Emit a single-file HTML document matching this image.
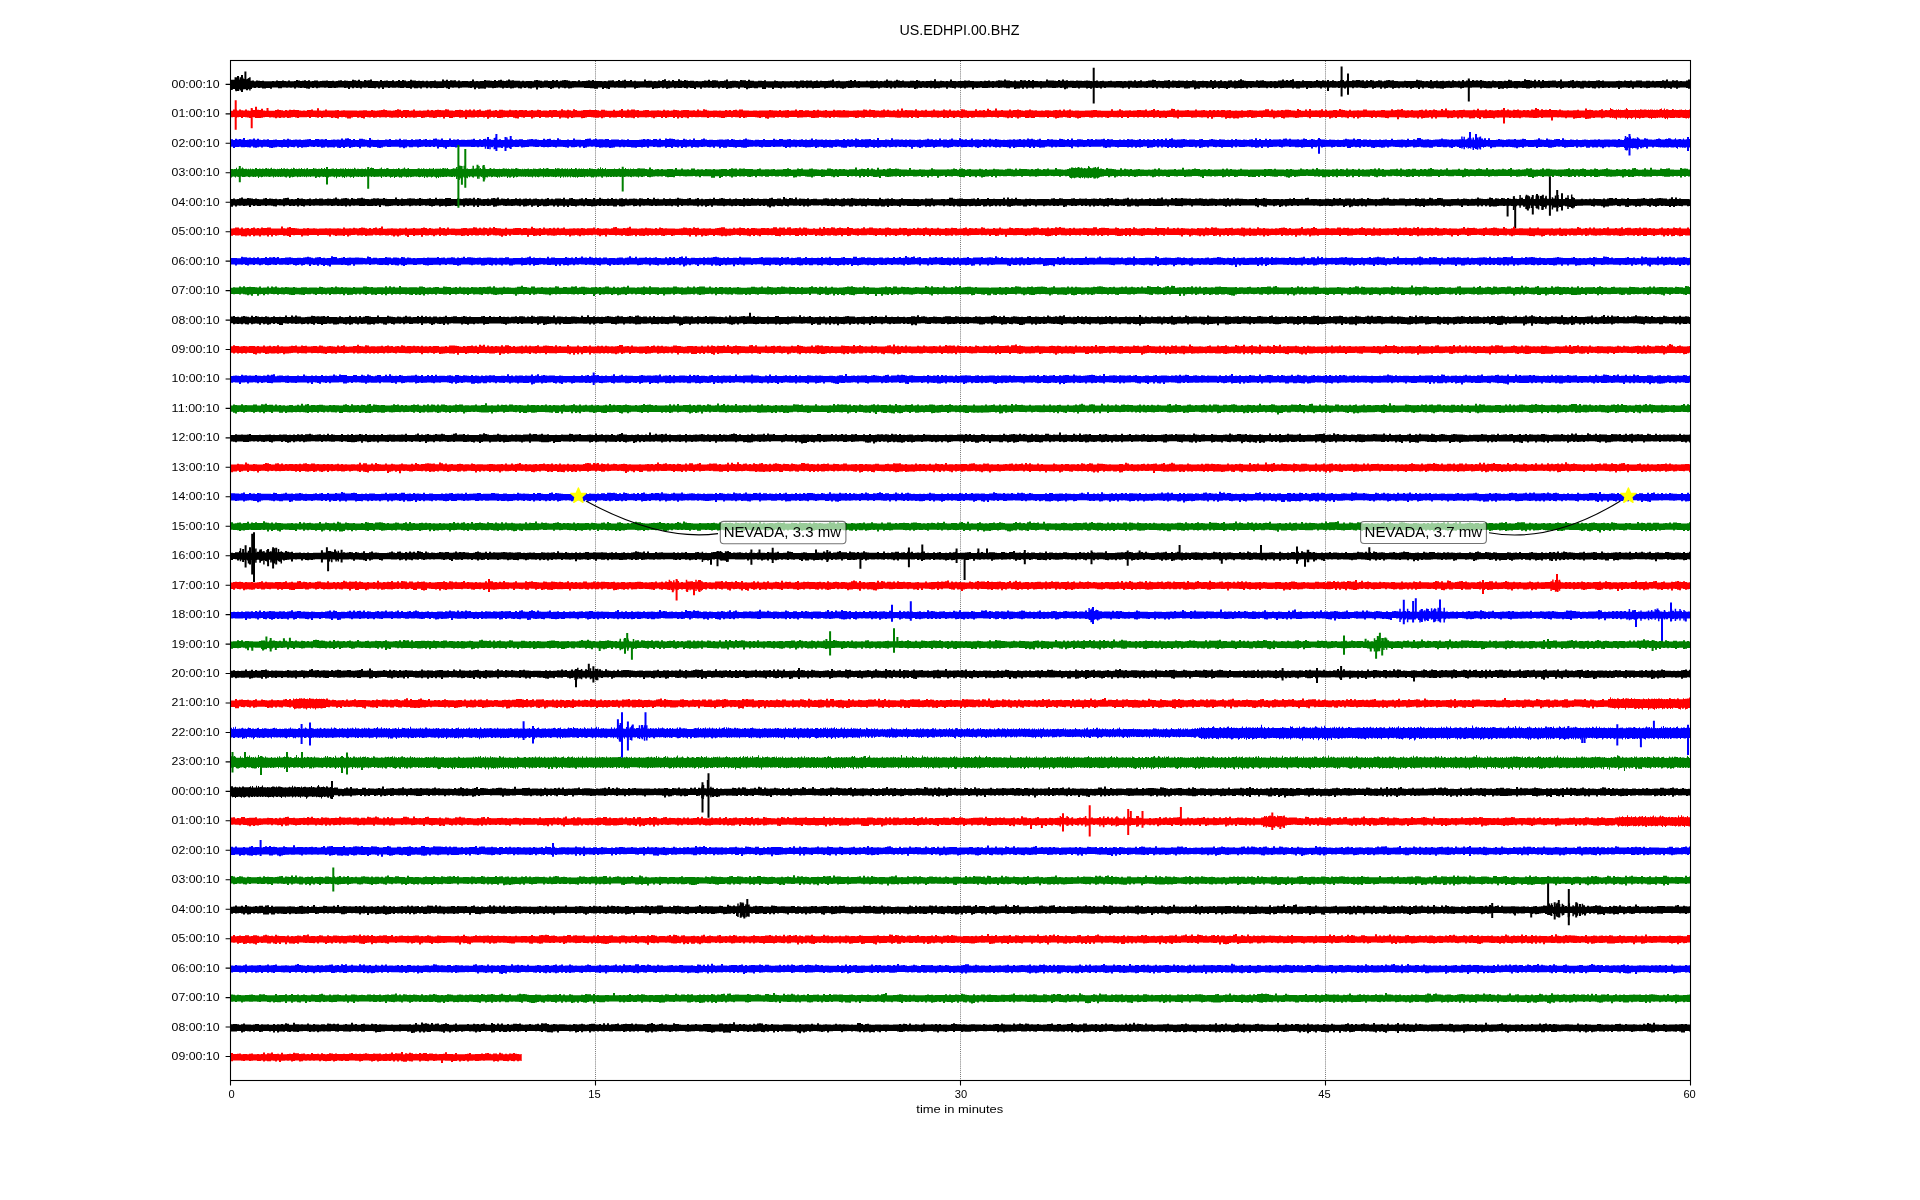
<!DOCTYPE html><html><head><meta charset="utf-8"><style>html,body{margin:0;padding:0;background:#fff;overflow:hidden}svg{display:block;will-change:transform}</style></head><body><svg width="1920" height="1200" viewBox="0 0 1920 1200">
<rect width="1920" height="1200" fill="#fff"/>
<path d="M595.5 61V1080" stroke="#000" stroke-width=".9" stroke-dasharray="1 1.08" opacity=".6"/>
<path d="M960.5 61V1080" stroke="#000" stroke-width=".9" stroke-dasharray="1 1.08" opacity=".6"/>
<path d="M1325.5 61V1080" stroke="#000" stroke-width=".9" stroke-dasharray="1 1.08" opacity=".6"/>
<path fill="#000000" d="M231 79.8h1v0h1v-.1h1v0h1v-.3h1v-.3h1v.5h1v-.5h1v.4h1v.1h1v-.3h1v-.6h1v-.3h1v.5h1v.4h1v0h1v-.5h1v-.4h1v1.9h1v.5h2v-.4h2v.9h2v-.7h2v.1h2v.2h2v-.2h2v.5h2v0h2v.1h2v-.1h2v-.1h2v.1h2v-.8h2v.5h2v.2h2v-.7h2v.7h2v.2h2v-.9h2v.9h2v-.1h2v-.3h2v-.8h2v.3h2v.6h2v-.3h2v-.4h2v.6h2v-.7h2v1h2v-.1h2v-.5h2v-.2h2v.8h2v-.1h2v-.4h2v.1h2v-.3h2v.6h2v0h2v-.3h2v.5h2v-.4h2v-.3h2v-.4h2v.8h2v-.5h2v.2h2v.2h2v.1h2v-1.2h2v.5h2v.4h2v-1h2v1.4h2v.2h2v-1.2h2v.3h2v-.1h2v-.9h2v1.6h2v-.1h2v.1h2v.3h2v-1.3h2v1.1h2v-.3h2v-.2h2v.4h2v-.1h2v-.6h2v.9h2v-.1h2v-1.1h2v.9h2v-.9h2v.6h2v.7h2v-.4h2v-1.2h2v.7h2v.1h2v.4h2v-.1h2v.3h2v-.4h2v.6h2v-.6h2v.6h2v-.2h2v-.2h2v-.5h2v.9h2v0h2v-.1h2v-1.8h2v1.4h2v-1h2v1.2h2v-.7h2v.3h2v-.3h2v1h2v-.8h2v.7h2v-.3h2v.2h2v-.1h2v.2h2v-.1h2v-1.5h2v1.7h2v-.3h2v.3h2v-.2h2v0h2v-1.2h2v.5h2v0h2v.4h2v.2h2v-.9h2v.8h2v-.6h2v-.5h2v.9h2v.2h2v-.5h2v-.9h2v1h2v-.3h2v.5h2v.1h2v-.1h2v.6h2v-.5h2v.5h2v-.4h2v.2h2v-.1h2v.3h2v-1h2v-.2h2v.5h2v.1h2v.5h2v-.6h2v0h2v.5h2v-.2h2v-1h2v.9h2v-.7h2v1.2h2v-.6h2v-.5h2v-.2h2v.2h2v.6h2v.5h2v-.2h2v0h2v.1h2v-.9h2v.9h2v-.2h2v0h2v-.3h2v-.4h2v.5h2v-.7h2v1h2v-.2h2v.2h2v-.2h2v.4h2v-.2h2v.2h2v-.9h2v.1h2v-.2h2v1h2v-.4h2v-1h2v1h2v-.3h2v-.8h2v1.3h2v0h2v-1.2h2v1.3h2v-.4h2v.5h2v-.1h2v0h2v0h2v-1.6h2v1.4h2v-.3h2v0h2v.6h2v-.2h2v.1h2v-.7h2v.6h2v-1h2v-.8h2v1.6h2v-.5h2v.8h2v-1.3h2v1.2h2v-.1h2v-1.8h2v1.4h2v.3h2v-1h2v.5h2v.5h2v-.1h2v-.1h2v.5h2v-.1h2v.1h2v0h2v-.3h2v-.3h2v.2h2v-1.1h2v1.4h2v-.9h2v.1h2v.1h2v.9h2v-.4h2v0h2v-.4h2v-1.1h2v1.9h2v-.4h2v-.1h2v0h2v.2h2v.2h2v-1.1h2v.2h2v-.1h2v.8h2v-1.2h2v1h2v-.1h2v.5h2v0h2v-.4h2v0h2v.1h2v-.6h2v1h2v0h2v-.1h2v0h2v-.6h2v.4h2v.2h2v.1h2v-.2h2v.2h2v-.1h2v.1h2v-.2h2v.2h2v-.6h2v.4h2v.2h2v-.8h2v.1h2v.3h2v-.3h2v.1h2v-.1h2v.6h2v-.3h2v-.5h2v.8h2v-.5h2v.4h2v-.2h2v0h2v-.1h2v-.2h2v-1.2h2v1.9h2v-.3h2v-.3h2v.5h2v0h2v0h2v-.2h2v-.2h2v-.7h2v1h2v-1h2v1.2h2v-.4h2v.3h2v.1h2v0h2v-.5h2v.4h2v-.4h2v0h2v.3h2v-.7h2v.9h2v-.3h2v.3h2v-.6h2v-1.3h2v1.3h2v0h2v.5h2v-.4h2v-1h2v.7h2v.4h2v-.3h2v.6h2v.1h2v-.1h2v-.5h2v.1h2v.3h2v-1h2v.6h2v.5h2v-.2h2v.2h2v-.1h2v-.2h2v-.1h2v.2h2v-1.7h2v2h2v-.1h2v-.5h2v.3h2v.3h2v-.3h2v.2h2v-1.6h2v1.3h2v.2h2v.2h2v-.2h2v-.1h2v0h2v-.4h2v.2h2v-.4h2v.6h2v-.1h2v.3h2v.1h2v-.1h2v-.1h2v.2h2v-.5h2v.2h2v-.5h2v.7h2v-.2h2v.2h2v-.5h2v-.4h2v.2h2v.2h2v-1.2h2v.9h2v.2h2v.5h2v.2h2v-.8h2v.7h2v.1h2v-1.3h2v.4h2v-.2h2v.9h2v-1.2h2v1.1h2v-.9h2v1h2v0h2v.1h2v-.1h2v.1h2v.1h2v-1.7h2v1h2v-.2h2v0h2v.4h2v.1h2v-.8h2v.6h2v-1.1h2v1.2h2v-.5h2v.8h2v-.4h2v.1h2v.2h2v-.6h2v.3h2v.1h2v.3h2v-.3h2v-.3h2v.3h2v.1h2v.4h2v-.4h2v-.5h2v.9h2v-.3h2v-.2h2v.5h2v-.1h2v-.1h2v-.4h2v.5h2v0h2v-.1h2v-.1h2v-.1h2v.4h2v-.2h2v.2h2v-.5h2v-.1h2v.5h2v-1h2v1.1h2v-.4h2v-.6h2v1h2v0h2v-.3h2v-.5h2v0h2v-.8h2v.4h2v1h2v-.3h2v.1h2v.2h2v-.7h2v0h2v-.4h2v1.2h2v-.6h2v.1h2v.2h2v-.5h2v.3h2v.1h2v.2h2v-.6h2v.6h2v.1h2v-.9h2v.2h2v.8h2v-.2h2v0h2v-.3h2v.2h2v.1h2v.3h2v-1.3h2v1h2v-.8h2v1.1h2v-.4h2v-.6h2v1h2v-.3h2v.3h2v-.9h2v-.2h2v1.1h2v-.7h2v.4h2v-.7h2v-1h2v1h2v.5h2v.3h2v-.1h2v0h2v.1h2v.1h2v-.9h2v.5h2v-.2h2v-.4h2v.8h2v.3h2v-.1h2v-.3h2v.3h2v-.3h2v.4h2v-.9h2v0h2v-.9h2v1.2h2v-.7h2v.7h2v-.7h2v-.8h2v2h2v-.3h2v.2h2v.1h2v-1h2v.9h2v0h2v-.2h2v.1h2v.3h2v-.3h2v-.9h2v.6h2v.2h2v-.7h2v.5h2v.6h2v0h2v-.2h2v-.8h2v.6h2v.4h2v-.3h2v-.8h2v-.2h2v1.2h2v-.8h2v.6h2v-.1h2v-.6h2v.2h2v-.4h2v0h2v.5h2v-.4h2v1h2v-1h2v.7h2v-.9h2v.6h2v.7h2v-.2h2v-.9h2v.4h2v.7h2v-.6h2v-.4h2v-.2h2v.3h2v-.1h2v.6h2v.1h2v.3h2v0h2v0h2v-.6h2v.4h2v0h2v-.1h2v0h2v0h2v-1.2h2v.5h2v.3h2v.3h2v.4h2v-.2h2v.2h2v-1.2h2v1.1h2v-.2h2v-.5h2v.8h2v-.3h2v-.3h2v.6h2v-.3h2v-.3h2v.6h2v-1h2v.6h2v.3h2v-.4h2v.4h2v-1.3h2v1.3h2v-.8h2v-.4h2v1h2v-1h2v.7h2v-.5h2v.5h2v-.6h2v.7h2v.2h2v.3h2v-.3h2v.2h2v-.6h2v.4h2v.2h2v-.3h2v0h2v.4h2v-.5h2v.3h2v-1.4h2v.6h2v1h2v-.2h2v-.1h2v.1h2v.2h2v-.4h2v-1.6h2v.8h2v0h2v.3h2v.6h2v-1.2h2v1.5h2v-1.4h2v1.3h2v-1.1h2v.9h2v.1h2v-.3h2v0h2v-.2h2v0h2v.6h2v-.3h2v-1.5h2v1.9h2v0h2v-.1h2v-.2h2v-.5h2v-.5h2v1.3h2v-.6h2v.2h2v.3h2v-.4h2v-.1h2v.6h2v-.6h2v.2h2v.2h2v0h2v-.5h2v-.4h2v.8h2v-.5h2v.8h2v-.1h2v0h2v0h2v0h2v0h2v-.1h2v-.3h2v.1h2v.4h2v-.9h2v.5h2v.1h2v-.4h2v.7h2v-.1h2v-.6h2v0h2v-.2h2v.9h2v0h2v-.5h2v-.1h2v.6h2v-.5h2v.4h2v-.3h2v0h2v.2h2v-.9h2v.6h2v-1.2h2v1.6h2v0h2v-.9h2v.4h2v-.4h2v.9h2v-.1h2v.1h2v0h2v-.7h2v-.9h2v9.2h-2v-.8h-2v-.5h-2v.1h-2v-.1h-2v.2h-2v1h-2v-1h-2v-.1h-2v1.2h-2v-.9h-2v-.2h-2v.9h-2v-.9h-2v.4h-2v-.5h-2v-.1h-2v.2h-2v-.2h-2v0h-2v.5h-2v.2h-2v-.4h-2v-.4h-2v.6h-2v-.4h-2v0h-2v-.1h-2v1.2h-2v-1.1h-2v.4h-2v-.3h-2v-.1h-2v-.1h-2v.3h-2v1.1h-2v-1.4h-2v.3h-2v0h-2v-.3h-2v.4h-2v-.3h-2v.2h-2v.1h-2v-.5h-2v.8h-2v-.8h-2v1.2h-2v-.4h-2v-.7h-2v.6h-2v-.4h-2v-.2h-2v1.1h-2v-.1h-2v-.7h-2v-.3h-2v.4h-2v.4h-2v-.9h-2v.5h-2v-.4h-2v.1h-2v.5h-2v.7h-2v-1.3h-2v.4h-2v-.3h-2v-.2h-2v0h-2v.7h-2v-.4h-2v0h-2v.4h-2v.1h-2v-.7h-2v0h-2v.8h-2v-.7h-2v.4h-2v.6h-2v-.2h-2v-.5h-2v.1h-2v-.2h-2v-.1h-2v.8h-2v-.3h-2v-.4h-2v.2h-2v0h-2v.4h-2v-.3h-2v.7h-2v-.3h-2v.4h-2v-1.4h-2v.2h-2v-.2h-2v.8h-2v-.1h-2v0h-2v-.3h-2v-.2h-2v.9h-2v-1h-2v-.1h-2v-.1h-2v.2h-2v.2h-2v.4h-2v-.6h-2v-.1h-2v.4h-2v.7h-2v-.8h-2v-.3h-2v-.1h-2v.3h-2v.3h-2v-.3h-2v.1h-2v.2h-2v.7h-2v-.2h-2v-.3h-2v0h-2v-.5h-2v.7h-2v0h-2v-.4h-2v-.5h-2v0h-2v.9h-2v-.9h-2v1.5h-2v-1.3h-2v-.3h-2v.5h-2v.9h-2v-1.2h-2v.4h-2v-.5h-2v.2h-2v-.1h-2v.7h-2v-.6h-2v.4h-2v.7h-2v-1h-2v-.4h-2v.6h-2v.5h-2v-.9h-2v1.2h-2v-1.2h-2v-.1h-2v.5h-2v.8h-2v-1.3h-2v.1h-2v.3h-2v.4h-2v-.4h-2v-.2h-2v-.1h-2v.1h-2v-.1h-2v.7h-2v-.7h-2v0h-2v-.2h-2v1h-2v-.7h-2v-.3h-2v.7h-2v-.6h-2v.3h-2v0h-2v-.3h-2v.2h-2v-.2h-2v.2h-2v-.3h-2v1.1h-2v-.7h-2v-.3h-2v.2h-2v0h-2v.3h-2v-.3h-2v1.2h-2v-1.3h-2v.2h-2v-.1h-2v.8h-2v0h-2v-.8h-2v.7h-2v-.6h-2v-.1h-2v0h-2v.1h-2v.1h-2v.3h-2v-.8h-2v.5h-2v.3h-2v-.7h-2v.6h-2v-.5h-2v.7h-2v-.5h-2v-.1h-2v.1h-2v.1h-2v-.5h-2v.2h-2v-.1h-2v.4h-2v-.4h-2v.9h-2v-.6h-2v.1h-2v.4h-2v-.2h-2v.2h-2v.2h-2v-.8h-2v-.2h-2v.5h-2v.9h-2v-.6h-2v-.4h-2v.2h-2v.3h-2v-.9h-2v.5h-2v.9h-2v-1.2h-2v.1h-2v.5h-2v-.7h-2v.2h-2v-.3h-2v1.2h-2v-.3h-2v.9h-2v-1.9h-2v.1h-2v.7h-2v.4h-2v-.1h-2v-1.1h-2v.2h-2v.3h-2v0h-2v-.5h-2v.4h-2v-.4h-2v1h-2v-.4h-2v-.2h-2v.5h-2v-.5h-2v-.3h-2v.9h-2v-1h-2v.7h-2v-.6h-2v0h-2v.5h-2v-.3h-2v-.1h-2v.2h-2v0h-2v.2h-2v-.2h-2v-.1h-2v-.2h-2v1.2h-2v-1.1h-2v.1h-2v.6h-2v-.5h-2v-.3h-2v.1h-2v.1h-2v-.2h-2v.1h-2v-.2h-2v0h-2v.5h-2v-.3h-2v.8h-2v-.6h-2v.3h-2v-.4h-2v0h-2v1h-2v-.6h-2v.3h-2v-.6h-2v-.1h-2v0h-2v.9h-2v-.8h-2v.3h-2v-.2h-2v-.5h-2v.2h-2v1h-2v.7h-2v-1.5h-2v.2h-2v-.6h-2v.3h-2v.3h-2v-.1h-2v-.1h-2v-.1h-2v-.3h-2v.3h-2v0h-2v.9h-2v-1h-2v-.1h-2v0h-2v.9h-2v-.6h-2v0h-2v.7h-2v-1.1h-2v1.3h-2v-.9h-2v.8h-2v-.1h-2v.5h-2v-1.5h-2v0h-2v.8h-2v-.1h-2v-.5h-2v-.1h-2v.2h-2v.1h-2v-.5h-2v0h-2v.5h-2v-.4h-2v.2h-2v.4h-2v-.2h-2v.1h-2v-.6h-2v.3h-2v.4h-2v-.4h-2v1.5h-2v-1.7h-2v.1h-2v.1h-2v.8h-2v-.8h-2v.3h-2v-.2h-2v-.3h-2v1h-2v-.6h-2v-.2h-2v-.3h-2v1.3h-2v-1.3h-2v.1h-2v.2h-2v.5h-2v-.1h-2v.5h-2v-.9h-2v.6h-2v-.9h-2v.6h-2v-.2h-2v-.2h-2v.4h-2v-.2h-2v.8h-2v.3h-2v-1.2h-2v0h-2v.2h-2v-.4h-2v.3h-2v-.3h-2v.2h-2v0h-2v-.2h-2v.7h-2v-.7h-2v1.1h-2v-1.1h-2v.5h-2v-.3h-2v-.3h-2v.4h-2v.6h-2v-.6h-2v.3h-2v.2h-2v0h-2v-.7h-2v0h-2v-.2h-2v.2h-2v-.1h-2v.4h-2v-.1h-2v-.3h-2v.2h-2v.3h-2v.1h-2v-.6h-2v.8h-2v.4h-2v-.5h-2v-.5h-2v.5h-2v-.6h-2v.4h-2v-.6h-2v.4h-2v.3h-2v.4h-2v-1h-2v.1h-2v.5h-2v-.1h-2v0h-2v.4h-2v-.7h-2v.1h-2v.4h-2v-.7h-2v.5h-2v-.5h-2v.8h-2v.3h-2v-1h-2v.1h-2v-.2h-2v.2h-2v-.1h-2v.6h-2v-.6h-2v.8h-2v-.4h-2v-.3h-2v.1h-2v1.2h-2v-1.3h-2v0h-2v-.3h-2v1.5h-2v.2h-2v-1.6h-2v0h-2v.7h-2v.1h-2v-.6h-2v.4h-2v.2h-2v1h-2v-1.2h-2v-.6h-2v0h-2v1.3h-2v-1h-2v-.4h-2v.4h-2v.5h-2v-.1h-2v.7h-2v-1.2h-2v.3h-2v-.5h-2v.9h-2v-1h-2v.3h-2v.4h-2v-.5h-2v.1h-2v-.2h-2v.2h-2v-.1h-2v1.2h-2v-1.2h-2v-.2h-2v1.5h-2v-.8h-2v0h-2v-.7h-2v1.1h-2v-.4h-2v-.5h-2v.3h-2v0h-2v-.2h-2v.6h-2v-.9h-2v.4h-2v.5h-2v.4h-2v-1h-2v.6h-2v-.8h-2v.5h-2v.3h-2v-.1h-2v.8h-2v-1.5h-2v.2h-2v0h-2v-.1h-2v-.1h-2v0h-2v.2h-2v.2h-2v.9h-2v-1.4h-2v0h-2v.1h-2v-.1h-2v.8h-2v-.5h-2v0h-2v0h-2v-.1h-2v.2h-2v-.3h-2v-.1h-2v1.7h-2v-.7h-2v-.3h-2v1h-2v-1.5h-2v0h-2v1.2h-2v0h-2v-.5h-2v-.1h-2v-.2h-2v0h-2v.1h-2v-.6h-2v0h-2v0h-2v-.1h-2v.1h-2v.3h-2v.5h-2v.3h-2v-.9h-2v.6h-2v-.6h-2v-.1h-2v.8h-2v-1h-2v.1h-2v.7h-2v.7h-2v-.8h-2v-.5h-2v-.1h-2v.2h-2v.2h-2v-.4h-2v2.1h-2v-2.1h-2v.2h-2v.9h-2v-.4h-2v-.7h-2v.6h-2v-.6h-2v1.1h-2v-.4h-2v-.6h-2v.2h-2v.4h-2v.3h-2v-.7h-2v.1h-2v-.1h-2v.7h-2v-.8h-2v-.2h-2v.2h-2v.4h-2v.2h-2v-.6h-2v.1h-2v-.2h-2v1.2h-2v-.4h-2v0h-2v.3h-2v-.9h-2v1.4h-2v-1.6h-2v.4h-2v-.2h-2v-.3h-2v-.1h-2v.2h-2v.2h-2v.4h-2v-.8h-2v.1h-2v.2h-2v-.3h-2v1.5h-2v-.6h-2v-.9h-2v.7h-2v-.1h-2v.1h-2v.1h-2v-.3h-2v-.1h-2v.4h-2v-.6h-2v.7h-2v-.9h-2v.2h-2v.9h-2v-.7h-2v.4h-2v.1h-2v-.7h-2v1.1h-2v-.7h-2v0h-2v-.4h-2v.4h-2v.1h-2v-.4h-2v-.3h-2v.3h-2v0h-2v-.2h-2v.6h-2v-.7h-2v.2h-2v1.3h-2v-1.5h-2v1h-2v-.9h-2v.8h-2v-.4h-2v0h-2v0h-2v-.3h-2v.1h-2v-.1h-2v.8h-2v-.6h-2v.3h-2v-.7h-2v.8h-2v-.8h-2v1.7h-2v-1.4h-2v.4h-2v-.6h-2v0h-2v-.1h-2v.3h-2v.3h-2v-.2h-2v.1h-2v0h-2v-.5h-2v.3h-2v-.2h-2v0h-2v.2h-2v.6h-2v-.8h-2v.6h-2v-.5h-2v1.2h-2v-.2h-2v-.7h-2v-.2h-2v.2h-2v-.2h-2v-.2h-2v1h-2v-1.1h-2v.3h-2v-.2h-2v.3h-2v-.2h-2v-.1h-2v.7h-2v.1h-2v-.8h-2v.1h-2v0h-2v1.1h-2v-.7h-2v-.1h-2v.5h-2v.2h-2v-.8h-2v.3h-2v-.6h-2v.4h-2v-.2h-2v1.4h-2v-.7h-1v.9h-1v1h-1v-.1h-1v-1h-1v.1h-1v0h-1v1.1h-1v-1.3h-1v.7h-1v-.8h-1v-.2h-1v.7h-1v-.4h-1v1.3h-1v-1.3h-1v-.2h-1v.9h-1v.3h-1zM231 199.1h2v-.7h2v.9h2v-.3h2v-.7h2v-.9h2v1.4h2v-.1h2v-.6h2v.2h2v.2h2v.5h2v-.5h2v.5h2v.2h2v0h2v-.7h2v-.5h2v1.1h2v-.7h2v.4h2v.3h2v-.4h2v.6h2v-.4h2v.3h2v-1h2v-.2h2v-.2h2v1.4h2v-.3h2v.3h2v-.1h2v-1h2v.7h2v-.4h2v.7h2v.1h2v-.2h2v-.5h2v.8h2v-.3h2v-.4h2v.4h2v-.6h2v.2h2v.6h2v-.2h2v-.6h2v.3h2v.2h2v-.4h2v-1.1h2v1.4h2v.4h2v-.6h2v-.4h2v-.1h2v.3h2v.8h2v-1.3h2v.9h2v.1h2v-.6h2v0h2v-.6h2v.9h2v.5h2v0h2v.1h2v-.4h2v-.5h2v.1h2v-.1h2v.4h2v.1h2v-.9h2v.9h2v.3h2v-.1h2v-.1h2v.1h2v-1.5h2v1.6h2v.1h2v-.8h2v.7h2v0h2v-.6h2v-.2h2v.2h2v.1h2v.4h2v-.3h2v-.7h2v.8h2v.3h2v-.1h2v-.2h2v-.6h2v.9h2v-.2h2v-1.1h2v1.2h2v-.2h2v-.1h2v.3h2v-1h2v0h2v.1h2v1h2v-.1h2v-.1h2v-.7h2v.5h2v.3h2v-.6h2v-.1h2v.3h2v-.4h2v.6h2v-1h2v1.4h2v-1.2h2v.6h2v.7h2v-.3h2v.1h2v-.7h2v.8h2v-1h2v-.2h2v.6h2v-1.2h2v1.8h2v-.8h2v.3h2v.2h2v-.7h2v1h2v-.1h2v-.1h2v-.7h2v.7h2v-.4h2v.7h2v-.6h2v-.1h2v.4h2v-.4h2v.7h2v-.6h2v-.1h2v.3h2v.3h2v-.5h2v.5h2v-.4h2v-.8h2v1.2h2v-.4h2v.5h2v-.9h2v0h2v.1h2v.4h2v-1.2h2v1.6h2v-.1h2v-.9h2v-.4h2v1.1h2v.2h2v.1h2v-.5h2v-.6h2v1h2v-1.3h2v1.2h2v-.1h2v.2h2v-1.1h2v1.1h2v-.3h2v-1.2h2v1h2v.3h2v-.1h2v-.4h2v.6h2v-1.2h2v1.2h2v-.4h2v.5h2v-.6h2v-.3h2v.7h2v-.5h2v.7h2v-.4h2v-.1h2v-.1h2v.1h2v.5h2v-.9h2v.1h2v.6h2v0h2v-.9h2v1h2v.1h2v-1.4h2v1.3h2v-.4h2v.6h2v-.1h2v-1h2v.9h2v-.2h2v-.5h2v.7h2v-.1h2v-.2h2v-1h2v.8h2v.1h2v.3h2v0h2v-.5h2v-.6h2v1.3h2v0h2v-.5h2v-.6h2v1.1h2v-.4h2v.4h2v-.1h2v0h2v-.3h2v.2h2v-1.2h2v1.1h2v.1h2v-.4h2v-.5h2v.5h2v.4h2v0h2v-.5h2v.7h2v-.1h2v-.7h2v.5h2v0h2v.4h2v-1.2h2v.7h2v-.2h2v.3h2v-.8h2v.7h2v.3h2v-.6h2v.6h2v0h2v-.4h2v0h2v.3h2v-.7h2v-.5h2v1.3h2v-.1h2v-.5h2v.1h2v.6h2v-2.1h2v1.4h2v.5h2v-.9h2v.1h2v.7h2v-1.5h2v1.8h2v-.8h2v.3h2v0h2v.3h2v-.8h2v1h2v-.2h2v-.3h2v.1h2v.4h2v0h2v0h2v-.7h2v-.3h2v.4h2v.6h2v-.7h2v.5h2v-.8h2v.7h2v.4h2v-.5h2v-.6h2v.7h2v-.3h2v.1h2v-.7h2v.4h2v.4h2v.2h2v-.4h2v.2h2v-.2h2v.5h2v-.8h2v.6h2v.2h2v0h2v-.1h2v.2h2v-1.4h2v1.2h2v.2h2v-.5h2v-.2h2v.5h2v-.7h2v.7h2v.2h2v0h2v-.2h2v-.8h2v.8h2v-.1h2v.2h2v0h2v.1h2v-.5h2v.4h2v-.1h2v.2h2v-.2h2v.2h2v-.6h2v.1h2v.1h2v-.5h2v.9h2v0h2v0h2v0h2v-.1h2v-.2h2v.3h2v-.2h2v-1.2h2v-.1h2v1.1h2v.3h2v-.3h2v-.2h2v-.1h2v.6h2v-.1h2v.1h2v-.1h2v-.2h2v-.2h2v.6h2v-1.3h2v1.3h2v-.2h2v-.1h2v.2h2v-1h2v.8h2v0h2v-.2h2v.4h2v-.1h2v.1h2v-.2h2v-1.1h2v1.4h2v-1.8h2v1.5h2v-.5h2v.6h2v-1.2h2v1.3h2v-.1h2v.2h2v.1h2v-.6h2v.2h2v-.2h2v.4h2v0h2v.1h2v-.1h2v-.1h2v0h2v-.1h2v0h2v.1h2v.2h2v-.8h2v-.2h2v.7h2v.2h2v-.8h2v.1h2v.6h2v.1h2v0h2v0h2v-.7h2v-.1h2v.7h2v.1h2v-.7h2v.3h2v0h2v-.1h2v.5h2v-.2h2v-.1h2v-.2h2v.2h2v.3h2v-.9h2v.6h2v.2h2v-.4h2v-.6h2v.5h2v-.6h2v1.3h2v-.4h2v.3h2v.1h2v0h2v-.5h2v-.1h2v-.8h2v1.4h2v-.7h2v.8h2v-.5h2v.4h2v-.2h2v-.4h2v.6h2v-.1h2v0h2v-.9h2v.7h2v-.2h2v.6h2v-1.1h2v.3h2v-1.1h2v1.8h2v-.5h2v.5h2v0h2v-1.1h2v.6h2v-.7h2v.6h2v-.1h2v-.4h2v.3h2v.2h2v.2h2v-.3h2v.5h2v-.1h2v-.4h2v.2h2v-.5h2v.3h2v.6h2v-.3h2v.4h2v-.4h2v-.4h2v.4h2v.1h2v.4h2v-.5h2v.2h2v-.5h2v.2h2v-.6h2v1.1h2v-.8h2v.9h2v-.7h2v0h2v.1h2v.1h2v.3h2v-.2h2v.3h2v-.2h2v0h2v.1h2v-1.1h2v.8h2v.2h2v-.3h2v-.6h2v.4h2v.4h2v0h2v.4h2v-.4h2v0h2v0h2v.3h2v-.1h2v.1h2v-.2h2v.1h2v-.6h2v.5h2v-.9h2v.9h2v.1h2v-.1h2v-.2h2v.4h2v-1.2h2v-.2h2v1.4h2v-.1h2v-.2h2v.2h2v.1h2v-.1h2v.1h2v0h2v-.4h2v-.1h2v.4h2v.2h2v-1.2h2v.6h2v0h2v-.6h2v.9h2v.2h2v-.7h2v.1h2v-.1h2v.8h2v-1.1h2v1h2v-.3h2v-.1h2v-.6h2v.9h2v.1h2v-1.1h2v.7h2v.2h2v.2h2v-.3h2v.4h2v-.3h2v-.4h2v-.8h2v.7h2v-.7h2v1.3h2v.1h2v-.4h2v.1h2v.3h2v-.7h2v.1h2v-.2h2v.7h2v0h2v-.5h2v.3h2v.1h2v-1.1h2v.6h2v.5h2v-.4h2v0h2v.6h2v-.2h2v-1.2h2v.4h2v1h2v-.3h2v-.8h2v0h2v.1h2v1h2v0h2v0h2v0h2v-.1h2v0h2v-.2h2v-.5h2v.8h2v-.1h2v-.5h2v.2h2v.1h2v.4h2v-.6h2v.4h2v-.3h2v-1.3h2v.9h2v.3h2v.4h2v-.1h2v-.3h2v-1.3h2v.5h2v1.3h2v-.9h2v.1h2v.5h2v-.8h2v.2h2v.6h2v-.8h2v.6h2v.2h2v-1.1h2v.9h2v.2h2v-.3h2v-.8h2v1.2h2v-1.8h2v1.6h2v-.1h2v.3h2v0h2v-.2h2v.1h2v0h2v-1.1h2v.4h2v-.5h2v1h2v-.2h2v.5h2v-.5h2v.4h2v-.3h2v.3h2v-1.3h2v1.3h2v-1.1h2v.3h2v.9h2v0h2v-1h2v1.2h2v0h2v0h2v-.4h2v.4h2v-.1h2v.1h2v-.5h2v.5h2v-.7h2v.6h2v0h2v-.1h2v.2h2v-.6h2v.6h2v-.8h2v-.5h2v.1h2v.7h2v-.7h2v1.1h2v0h2v-.5h2v.1h2v.3h2v-.9h2v.8h2v0h2v0h2v.2h2v-.4h2v0h2v-.2h2v-.4h2v.6h2v.3h2v-.6h2v-.1h2v.8h2v-.7h2v-.1h2v-.4h2v.4h2v.3h2v0h2v.6h2v-.4h2v-1.5h2v1.8h2v-1.7h2v1.7h2v-.5h2v.4h2v-.1h2v0h2v0h2v.3h1v6.7h-1v.4h-2v-.7h-2v-.1h-2v.7h-2v-.2h-2v-.3h-2v.2h-2v1h-2v-.8h-2v.8h-2v-1h-2v.2h-2v-.4h-2v.3h-2v-.6h-2v.7h-2v.6h-2v-.8h-2v-.5h-2v1.4h-2v-.9h-2v-.4h-2v-.1h-2v.4h-2v.8h-2v-.7h-2v.9h-2v-1h-2v-.3h-2v.3h-2v1.1h-2v-.1h-2v-1.2h-2v-.2h-2v.8h-2v-.3h-2v-.6h-2v.3h-2v.2h-2v0h-2v.7h-2v.1h-2v.8h-2v-1.2h-2v-.5h-2v.1h-2v-.2h-2v.8h-2v-.3h-2v-.6h-2v0h-2v-.1h-2v.1h-2v.2h-2v.1h-2v-.1h-2v.4h-2v1.3h-2v-1.7h-2v1.3h-2v-.4h-2v-.3h-2v-.6h-2v-.1h-2v1.3h-2v-1.1h-2v1.2h-2v.4h-2v-1.8h-2v1.2h-2v-1.2h-2v.3h-2v1.2h-2v-1h-2v-.5h-2v0h-2v.3h-2v-.1h-2v0h-2v-.2h-2v-.1h-2v.2h-2v1h-2v-1.2h-2v.2h-2v-.2h-2v.8h-2v-.7h-2v.3h-2v-.1h-2v.2h-2v-.2h-2v.3h-2v-.4h-2v0h-2v.3h-2v.6h-2v-.2h-2v-.2h-2v.6h-2v-1.4h-2v.8h-2v-.9h-2v.9h-2v-.6h-2v.9h-2v-1.1h-2v.4h-2v0h-2v0h-2v.1h-2v-.3h-2v0h-2v1.3h-2v-1.2h-2v-.1h-2v-.2h-2v.2h-2v.1h-2v.5h-2v-.1h-2v-.4h-2v1.1h-2v-1.1h-2v-.4h-2v.1h-2v.4h-2v-.3h-2v.2h-2v-.1h-2v.1h-2v.1h-2v1.2h-2v-1h-2v.5h-2v-.5h-2v.3h-2v-.9h-2v.2h-2v.1h-2v.1h-2v.4h-2v-.6h-2v-.1h-2v.1h-2v-.1h-2v-.1h-2v.3h-2v0h-2v0h-2v-.2h-2v-.1h-2v.2h-2v.1h-2v0h-2v-.3h-2v.9h-2v-.7h-2v-.2h-2v.2h-2v-.1h-2v.9h-2v-.7h-2v.5h-2v-.8h-2v.9h-2v-.4h-2v-.1h-2v.6h-2v.8h-2v-1.7h-2v.5h-2v1h-2v-1.4h-2v-.1h-2v.3h-2v-.4h-2v.3h-2v.5h-2v-.3h-2v-.2h-2v.2h-2v-.1h-2v.2h-2v.2h-2v-.4h-2v-.4h-2v.3h-2v-.3h-2v0h-2v.1h-2v0h-2v0h-2v-.1h-2v.1h-2v.4h-2v-.4h-2v.1h-2v.4h-2v-.5h-2v.3h-2v.7h-2v-.9h-2v.7h-2v.8h-2v-1.8h-2v.4h-2v.5h-2v-.8h-2v0h-2v-.1h-2v1.4h-2v-.1h-2v-.8h-2v-.5h-2v1.9h-2v-1h-2v-.7h-2v0h-2v0h-2v.1h-2v0h-2v0h-2v-.1h-2v.4h-2v-.6h-2v.5h-2v-.2h-2v-.1h-2v.9h-2v-.7h-2v1h-2v-.8h-2v-.3h-2v-.2h-2v.1h-2v.6h-2v-.7h-2v.3h-2v0h-2v.3h-2v-.3h-2v.3h-2v-.3h-2v-.2h-2v0h-2v-.1h-2v0h-2v1.1h-2v-1h-2v-.2h-2v.2h-2v.1h-2v.6h-2v-.3h-2v0h-2v0h-2v-.3h-2v0h-2v-.3h-2v1.2h-2v-1.1h-2v.4h-2v.3h-2v0h-2v-.2h-2v.2h-2v0h-2v-.3h-2v.1h-2v-.1h-2v-.1h-2v.1h-2v-.1h-2v0h-2v.9h-2v-.4h-2v-.8h-2v.4h-2v.6h-2v.1h-2v-1.2h-2v.6h-2v-.1h-2v-.4h-2v.5h-2v0h-2v-.5h-2v.1h-2v-.2h-2v1.1h-2v-.5h-2v.5h-2v-.6h-2v-.4h-2v.5h-2v-.2h-2v.7h-2v-.9h-2v1h-2v-1.1h-2v.7h-2v-.5h-2v.3h-2v-.6h-2v.3h-2v.4h-2v-.3h-2v.4h-2v-.7h-2v-.1h-2v1.3h-2v.3h-2v-1.4h-2v0h-2v.6h-2v-.3h-2v.2h-2v-.6h-2v.3h-2v-.3h-2v.4h-2v.4h-2v-.6h-2v-.1h-2v.1h-2v.9h-2v-.9h-2v-.3h-2v.6h-2v-.3h-2v.8h-2v.1h-2v-1.1h-2v.4h-2v-.1h-2v-.2h-2v.3h-2v.3h-2v.6h-2v-.1h-2v-1.2h-2v.7h-2v-.7h-2v.8h-2v-.6h-2v.7h-2v-.9h-2v.5h-2v.7h-2v-1h-2v.6h-2v.2h-2v-1.1h-2v.7h-2v0h-2v.3h-2v-.5h-2v.3h-2v.2h-2v-.8h-2v.7h-2v-.1h-2v0h-2v.3h-2v-.1h-2v-.9h-2v1h-2v-.6h-2v.1h-2v-.3h-2v-.1h-2v.7h-2v-.7h-2v0h-2v-.2h-2v.1h-2v.8h-2v-.6h-2v.8h-2v-.4h-2v.6h-2v-1.2h-2v.1h-2v.4h-2v.5h-2v-.5h-2v.2h-2v-.2h-2v0h-2v.1h-2v-.6h-2v.4h-2v-.2h-2v1.2h-2v-.9h-2v-.1h-2v0h-2v.1h-2v-.2h-2v1.4h-2v-1.3h-2v.6h-2v.2h-2v-.9h-2v.6h-2v-.1h-2v-.4h-2v.1h-2v-.3h-2v0h-2v.9h-2v-.5h-2v.3h-2v-.7h-2v.1h-2v.2h-2v-.5h-2v1.1h-2v-.1h-2v-.9h-2v0h-2v.8h-2v.3h-2v-.6h-2v-.4h-2v-.1h-2v.7h-2v-.2h-2v-.3h-2v.2h-2v-.4h-2v-.1h-2v.3h-2v-.4h-2v.3h-2v-.1h-2v0h-2v-.2h-2v.4h-2v.7h-2v-.6h-2v.8h-2v-1.1h-2v.6h-2v-.7h-2v.3h-2v.1h-2v-.4h-2v.1h-2v1h-2v-.6h-2v-.5h-2v.9h-2v-.3h-2v.1h-2v-.6h-2v.9h-2v-.2h-2v1.2h-2v-1h-2v-1h-2v.6h-2v-.4h-2v.5h-2v-.6h-2v.3h-2v-.1h-2v.1h-2v.2h-2v0h-2v-.2h-2v.6h-2v-.4h-2v-.1h-2v-.4h-2v.6h-2v-.3h-2v.4h-2v-.5h-2v-.3h-2v.3h-2v.6h-2v-.5h-2v0h-2v-.1h-2v-.2h-2v-.1h-2v1.4h-2v-1.2h-2v.3h-2v.8h-2v-1.2h-2v.7h-2v-.8h-2v1.1h-2v-.8h-2v0h-2v-.3h-2v.2h-2v.1h-2v-.2h-2v.1h-2v.3h-2v-.6h-2v1.4h-2v-1h-2v-.3h-2v.8h-2v-.5h-2v0h-2v.4h-2v-.5h-2v.2h-2v0h-2v0h-2v.3h-2v-.6h-2v.6h-2v-.3h-2v-.3h-2v.1h-2v.1h-2v-.3h-2v1.2h-2v-1h-2v.4h-2v.3h-2v-1h-2v.2h-2v.3h-2v-.4h-2v.9h-2v.3h-2v-.3h-2v-1h-2v1.3h-2v-.2h-2v-.6h-2v-.1h-2v.4h-2v-.5h-2v.3h-2v-.3h-2v.3h-2v-.5h-2v.5h-2v.3h-2v.4h-2v-.6h-2v-.1h-2v-.4h-2v.8h-2v-.6h-2v-.2h-2v.2h-2v.8h-2v-.4h-2v-.2h-2v-.5h-2v1.7h-2v-1.4h-2v1h-2v-1h-2v0h-2v1h-2v-1.2h-2v.9h-2v-.9h-2v-.1h-2v.5h-2v.4h-2v0h-2v-.8h-2v.6h-2v.8h-2v-1.3h-2v.1h-2v1h-2v-1.4h-2v.4h-2v.5h-2v.2h-2v-1.1h-2v1h-2v-.6h-2v-.2h-2v.3h-2v.1h-2v-.2h-2v0h-2v.3h-2v-.2h-2v-.5h-2v.1h-2v.4h-2v.8h-2v.1h-2v-1.4h-2v.5h-2v.2h-2v-.5h-2v.4h-2v-.2h-2v-.1h-2v1.5h-2v-1.5h-2v1.1h-2v-1.2h-2v-.1h-2v.5h-2v-.5h-2v1.4h-2v-1.3h-2v0h-2v.5h-2v.1h-2v-.7h-2v.3h-2v.4h-2v-.2h-2v.5h-2v-.7h-2v.3h-2v.4h-2v-.9h-2v0h-2v.4h-2v.7h-2v-.5h-2v-.5h-2v.1h-2v-.4h-2v.3h-2v.5h-2v-.6h-2v.2h-2v-.3h-2v.3h-2v.6h-2v-.7h-2v0h-2v.2h-2v.1h-2v-.3h-2v.3h-2v-.3h-2v-.2h-2v.4h-2v.3h-2v.1h-2v0h-2v-.6h-2v-.3h-2v1.7h-2v-1.4h-2v.4h-2v-.2h-2v.3h-2v0h-2v-.1h-2v-.5h-2v.4h-2v.1h-2v.1h-2v-.6h-2v.1h-2v.2h-2v-.2h-2v.7h-2v-.7h-2v.9h-2v-.7h-2v.3h-2v-.3h-2v.3h-2v-.6h-2v.3h-2v.3h-2v-.5h-2v.1h-2v-.3h-2v.1h-2v.2h-2v.1h-2v-.3h-2v0h-2v.3h-2v-.2h-2v.4h-2v-.6h-2v.2h-2v.9h-2v-.4h-2v-.6h-2v1h-2v-.9h-2v.5h-2v-.3h-2v.2h-2v-.7h-2v.3h-2v.6h-2v-.8h-2v.1h-2v-.2h-2v1.1h-2v-.1h-2v-.6h-2v-.3h-2v.2h-2v.4h-2v-.5h-2v0h-2v.6h-2v-.2h-2v-.3h-2v.4h-2v-.7h-2v1.8h-2v-1.7h-2v.3h-2v.4h-2v-.7h-2v.4h-2v-.3h-2v1.1h-2v-1.1h-2v1.2h-2zM231 316.5h2v-.4h2v1h2v-.3h2v.4h2v-.6h2v-.6h2v.6h2v.2h2v.4h2v-1.4h2v1.3h2v-1h2v.5h2v.5h2v-.4h2v.2h2v-.7h2v.6h2v.4h2v-.3h2v-.6h2v.6h2v0h2v-.2h2v.3h2v.1h2v-1.6h2v1.5h2v-.1h2v-1.4h2v1.2h2v-1.1h2v.8h2v.1h2v.7h2v0h2v-.1h2v-.3h2v0h2v-1.1h2v.3h2v.6h2v-.4h2v.4h2v-.3h2v-.2h2v.7h2v-.8h2v.9h2v0h2v.2h2v-.1h2v.2h2v-1h2v.8h2v.2h2v-.2h2v.1h2v-1.3h2v1.3h2v0h2v-.6h2v.7h2v-1.3h2v1.3h2v-.5h2v-.6h2v-.1h2v.6h2v.5h2v0h2v-.1h2v-1.4h2v1.4h2v0h2v-.1h2v0h2v-1.2h2v.9h2v.2h2v.1h2v.3h2v-.6h2v.1h2v.5h2v-.4h2v-1h2v1h2v-.4h2v.8h2v-.2h2v.1h2v-1h2v.9h2v-1.2h2v1.3h2v-.8h2v.8h2v-.5h2v.6h2v-.6h2v-.1h2v.7h2v-.4h2v.1h2v-.2h2v-1h2v1.3h2v.1h2v-.4h2v-.5h2v0h2v.7h2v.2h2v-.3h2v-.7h2v.4h2v.4h2v-.4h2v.6h2v-.2h2v.2h2v-.2h2v0h2v-.6h2v-.4h2v1.2h2v-.2h2v-1h2v1h2v-.1h2v.1h2v.1h2v-1.1h2v1.2h2v-.4h2v.2h2v-.1h2v.4h2v-.5h2v0h2v-.4h2v.6h2v-.6h2v0h2v.3h2v.6h2v-.8h2v.6h2v-1.2h2v.6h2v.6h2v-.5h2v-.3h2v0h2v.2h2v0h2v-.1h2v.5h2v.1h2v-1.4h2v1.7h2v-.8h2v.1h2v.3h2v.3h2v-.7h2v.6h2v.1h2v-.5h2v-.1h2v.3h2v.3h2v.1h2v-1.5h2v1.4h2v0h2v-1.9h2v1.7h2v.1h2v-.8h2v.8h2v-.2h2v.2h2v-.2h2v.1h2v-.5h2v-.5h2v.5h2v.3h2v.3h2v-.4h2v-.8h2v.7h2v-.3h2v.8h2v-.1h2v-.2h2v-.7h2v.5h2v.4h2v-1.2h2v-.2h2v1.1h2v.4h2v-.6h2v.2h2v.6h2v-1h2v1h2v-1.1h2v.9h2v-.2h2v.1h2v-.3h2v.2h2v.3h2v-.2h2v-.3h2v.2h2v-1.6h2v1.3h2v-.1h2v.4h2v.4h2v-.8h2v-.2h2v.3h2v.3h2v-.5h2v.9h2v-.2h2v-.8h2v.5h2v.3h2v-.2h2v-.7h2v1h2v-.5h2v-.1h2v.1h2v.2h2v.2h2v-.3h2v.3h2v.2h2v-.7h2v.7h2v-1.6h2v1.1h2v.1h2v-.3h2v.4h2v-.4h2v-.2h2v-.3h2v.4h2v-.1h2v.1h2v.4h2v-.9h2v1.1h2v-.5h2v.2h2v.4h2v-.2h2v.1h2v-.5h2v.5h2v.1h2v0h2v-1h2v-.2h2v1h2v.1h2v.1h2v-.1h2v-.4h2v.3h2v-.3h2v-.2h2v.4h2v.3h2v-1.9h2v1.7h2v-.5h2v.5h2v-.1h2v-.8h2v1.1h2v.1h2v-.1h2v0h2v-.6h2v.6h2v-.6h2v.7h2v0h2v-1.2h2v1.1h2v0h2v-.7h2v.3h2v.4h2v0h2v-.4h2v-.5h2v-.1h2v.5h2v0h2v-.2h2v.8h2v-.2h2v-.1h2v-.2h2v-.2h2v.6h2v0h2v-.3h2v-.7h2v.7h2v-.7h2v1h2v-.3h2v0h2v.2h2v-1.4h2v1.5h2v0h2v-.3h2v.3h2v-.2h2v-.5h2v.6h2v.1h2v-.4h2v.5h2v-.1h2v0h2v-.8h2v0h2v.4h2v-1.4h2v1.7h2v-.5h2v-.2h2v.4h2v.5h2v-.3h2v0h2v-.5h2v.3h2v.4h2v0h2v.1h2v-.5h2v-.4h2v0h2v-.1h2v.9h2v0h2v-.8h2v.1h2v.7h2v-.3h2v.3h2v-.4h2v.1h2v.2h2v.2h2v-.1h2v-.9h2v.6h2v-.3h2v.4h2v0h2v-.1h2v0h2v-.1h2v-.8h2v-.4h2v.6h2v.8h2v-.6h2v.6h2v-1.2h2v1.4h2v-.2h2v.3h2v-.4h2v-.6h2v.2h2v.3h2v.2h2v-.1h2v.2h2v.1h2v-.9h2v-.1h2v1h2v0h2v-.5h2v.2h2v.3h2v-.1h2v-.4h2v.3h2v-1.3h2v.9h2v.6h2v-.3h2v-.6h2v.6h2v-1h2v.4h2v-1h2v1.9h2v-.1h2v-.2h2v.4h2v-.5h2v.4h2v-1.1h2v1.1h2v-.5h2v.5h2v-.8h2v.6h2v-.1h2v.2h2v0h2v-.1h2v-.3h2v.5h2v-.4h2v.4h2v-.8h2v.8h2v-1.2h2v1.2h2v-.1h2v-.4h2v.6h2v-.2h2v.1h2v0h2v-.7h2v.6h2v-.3h2v.3h2v-.2h2v.3h2v-.2h2v-2h2v1.9h2v.4h2v-.6h2v.5h2v.1h2v-.8h2v.6h2v-.1h2v-.3h2v0h2v.6h2v-.7h2v.5h2v.1h2v-.3h2v-1.1h2v1.4h2v0h2v-.3h2v-.2h2v.6h2v-.1h2v-1.7h2v.9h2v.6h2v-.2h2v-.1h2v0h2v.6h2v-.7h2v.2h2v0h2v.2h2v-1.5h2v1h2v.4h2v0h2v-.1h2v-.1h2v.5h2v0h2v-.4h2v-.8h2v.7h2v0h2v.4h2v-.3h2v-.2h2v-.2h2v.6h2v-.2h2v-.7h2v.6h2v.1h2v-.4h2v.7h2v-.1h2v.2h2v-.9h2v-.2h2v.6h2v.1h2v0h2v.2h2v-.9h2v-.6h2v1.6h2v-.4h2v.1h2v.3h2v-.2h2v.2h2v-1h2v1h2v-.6h2v.2h2v.2h2v.2h2v-1.1h2v.6h2v.6h2v-1h2v-.1h2v1h2v-.1h2v-.6h2v-.5h2v.3h2v-.3h2v.9h2v0h2v-.1h2v.4h2v0h2v-.9h2v1h2v-.8h2v0h2v-.1h2v-.4h2v.1h2v1.2h2v-.3h2v.4h2v-.5h2v-.1h2v.5h2v-1.4h2v.6h2v.1h2v.7h2v0h2v-.7h2v-.6h2v.8h2v-.8h2v1h2v-.3h2v-.4h2v0h2v.4h2v.5h2v-.2h2v.2h2v-.4h2v-.9h2v1.1h2v.2h2v-.8h2v.4h2v.1h2v.2h2v.3h2v0h2v-1.1h2v.4h2v.6h2v-1.7h2v1.5h2v-.7h2v-.3h2v.9h2v-.4h2v-.1h2v.8h2v0h2v-.1h2v0h2v-1h2v.7h2v.5h2v-.5h2v.4h2v-.4h2v.3h2v.2h2v-.2h2v-.2h2v-.4h2v.4h2v-.9h2v.7h2v.3h2v.2h2v-1.1h2v1h2v-.5h2v-.1h2v-.1h2v.7h2v.2h2v-.5h2v.3h2v-.7h2v.8h2v-1h2v-.1h2v.9h2v-.7h2v0h2v-.5h2v.6h2v.7h2v-.6h2v.7h2v-.1h2v-.6h2v-.7h2v1.4h2v-.3h2v.3h2v-.7h2v-.9h2v1.3h2v-.5h2v-1.1h2v1.1h2v.5h2v.1h2v-.8h2v1h2v.1h2v-.7h2v.6h2v0h2v-.8h2v.5h2v-.2h2v.2h2v0h2v-1.5h2v1.7h2v-.1h2v.3h2v-.2h2v-1.3h2v1.2h2v-.8h2v.9h2v0h2v0h2v.1h2v-.4h2v-.2h2v.1h2v-1.1h2v1.7h2v-.4h2v.4h2v-.2h2v-.7h2v-1.4h2v2.2h2v-1.3h2v1.1h2v-1.3h2v.8h2v.2h2v-.5h2v.9h2v-.1h2v-.3h2v.6h2v-.9h2v.6h2v-.5h2v-.1h2v-1h2v1h2v0h2v.3h2v.2h2v-.7h2v.4h2v.6h2v-1.2h2v1h2v.3h2v-.2h2v-.3h2v.4h2v-1.4h2v.5h2v.5h2v.2h2v.1h2v-.8h2v.5h2v.1h2v-1.1h2v1.1h2v-.1h2v-.4h2v.2h2v.6h1v7h-1v-.7h-2v.7h-2v-.2h-2v-.5h-2v1h-2v-1.1h-2v1h-2v-.7h-2v-.2h-2v-.1h-2v.2h-2v-.1h-2v-.1h-2v.9h-2v.1h-2v-1h-2v.3h-2v0h-2v-.2h-2v.4h-2v-.3h-2v-.2h-2v1.3h-2v-.5h-2v-.4h-2v-.1h-2v-.3h-2v.3h-2v-.3h-2v0h-2v.1h-2v0h-2v.2h-2v-.3h-2v0h-2v.1h-2v-.1h-2v.5h-2v.6h-2v-.9h-2v.3h-2v0h-2v.2h-2v-.6h-2v.1h-2v.8h-2v-.2h-2v-.8h-2v1h-2v-1h-2v.6h-2v-.6h-2v1.5h-2v-1.3h-2v1h-2v-1.1h-2v-.1h-2v1.1h-2v.6h-2v-1.4h-2v.8h-2v-.1h-2v.4h-2v-.9h-2v.5h-2v-.3h-2v-.7h-2v.1h-2v.2h-2v.1h-2v1h-2v-.5h-2v-.5h-2v.4h-2v-.3h-2v-.2h-2v.4h-2v-.4h-2v2.2h-2v-2.5h-2v.1h-2v.9h-2v1.2h-2v-2.1h-2v.2h-2v0h-2v-.2h-2v.2h-2v-.2h-2v.3h-2v-.4h-2v1.1h-2v-1h-2v1.3h-2v.3h-2v0h-2v-1.1h-2v-.3h-2v.3h-2v.6h-2v-1.2h-2v0h-2v.7h-2v-.7h-2v.1h-2v.4h-2v-.1h-2v-.3h-2v.5h-2v-.5h-2v.6h-2v-.7h-2v.1h-2v.3h-2v.2h-2v-.5h-2v.7h-2v.5h-2v-1.1h-2v-.1h-2v1.3h-2v-.9h-2v.1h-2v-.6h-2v1.3h-2v-.3h-2v-.9h-2v.2h-2v0h-2v.3h-2v.3h-2v.2h-2v-1.1h-2v.2h-2v.1h-2v.1h-2v.5h-2v-.8h-2v.5h-2v.6h-2v-.1h-2v-.4h-2v0h-2v.1h-2v-.6h-2v.8h-2v-.7h-2v.2h-2v-.1h-2v-.1h-2v-.1h-2v0h-2v.2h-2v.5h-2v-.7h-2v-.1h-2v.4h-2v0h-2v-.5h-2v1h-2v-.3h-2v-.7h-2v.6h-2v-.4h-2v0h-2v.3h-2v1.4h-2v-1h-2v.3h-2v-.1h-2v-1h-2v.6h-2v-.6h-2v1.5h-2v-1.5h-2v.2h-2v.7h-2v-.9h-2v-.1h-2v.2h-2v0h-2v.2h-2v.3h-2v.3h-2v-.2h-2v.9h-2v-.9h-2v.2h-2v-.1h-2v0h-2v-.5h-2v0h-2v.9h-2v-1.3h-2v.7h-2v.7h-2v-.8h-2v.7h-2v-1.1h-2v0h-2v.5h-2v-.7h-2v0h-2v.2h-2v.4h-2v.3h-2v.1h-2v-.2h-2v-.7h-2v.3h-2v-.4h-2v.3h-2v-.2h-2v.3h-2v-.2h-2v.1h-2v-.2h-2v.7h-2v-.8h-2v1.2h-2v-.7h-2v-.4h-2v.1h-2v0h-2v.5h-2v-.1h-2v-.4h-2v.2h-2v-.1h-2v.3h-2v.7h-2v-.1h-2v-.9h-2v0h-2v-.2h-2v1.8h-2v-1.7h-2v.3h-2v.1h-2v0h-2v.8h-2v-1h-2v1h-2v-.4h-2v-.8h-2v.1h-2v-.2h-2v.2h-2v.1h-2v-.3h-2v1.1h-2v-1.2h-2v.1h-2v.4h-2v-.3h-2v-.1h-2v.9h-2v.5h-2v-.2h-2v-1.2h-2v.6h-2v-.7h-2v.2h-2v1h-2v-1h-2v.3h-2v-.4h-2v0h-2v-.1h-2v.4h-2v0h-2v-.1h-2v.3h-2v.1h-2v1.5h-2v-1.5h-2v.2h-2v-.2h-2v-.7h-2v.9h-2v0h-2v-.8h-2v.2h-2v-.1h-2v.8h-2v-.7h-2v-.1h-2v.1h-2v.7h-2v-.5h-2v-.3h-2v.5h-2v-.1h-2v.3h-2v.4h-2v-1.1h-2v.3h-2v-.4h-2v.2h-2v.8h-2v-.4h-2v-.6h-2v.8h-2v-.2h-2v-.7h-2v0h-2v.6h-2v.3h-2v-.5h-2v-.3h-2v0h-2v.3h-2v0h-2v1.3h-2v-.7h-2v-.4h-2v-.1h-2v.3h-2v-.3h-2v-.2h-2v-.3h-2v.5h-2v.2h-2v-.6h-2v.7h-2v-.3h-2v1h-2v-1h-2v.7h-2v-1h-2v0h-2v.1h-2v.8h-2v.5h-2v0h-2v-1h-2v-.1h-2v-.4h-2v.8h-2v-.2h-2v-.7h-2v1h-2v-.1h-2v.5h-2v-.9h-2v-.3h-2v.1h-2v-.2h-2v1.1h-2v-1h-2v.2h-2v-.4h-2v.9h-2v.2h-2v.1h-2v-.8h-2v-.2h-2v-.1h-2v-.1h-2v0h-2v.8h-2v-.6h-2v.4h-2v-.4h-2v.4h-2v-.6h-2v.4h-2v.4h-2v-.3h-2v.1h-2v.3h-2v-.9h-2v.6h-2v0h-2v-.4h-2v.1h-2v.2h-2v-.4h-2v-.1h-2v.7h-2v.1h-2v-.4h-2v-.4h-2v0h-2v.2h-2v.1h-2v1.7h-2v-.7h-2v.7h-2v-1.6h-2v.3h-2v-.5h-2v.6h-2v-.9h-2v.6h-2v-.1h-2v.1h-2v.3h-2v-.7h-2v.8h-2v-.4h-2v-.6h-2v.3h-2v.7h-2v-.6h-2v-.1h-2v.1h-2v.5h-2v-.5h-2v1.3h-2v-1.5h-2v.2h-2v.9h-2v-.6h-2v-.3h-2v.8h-2v-1h-2v.7h-2v-.4h-2v1h-2v-1.1h-2v.2h-2v.4h-2v-.2h-2v-.3h-2v1.5h-2v-1.5h-2v.5h-2v-.8h-2v1.3h-2v-1.1h-2v.8h-2v-.9h-2v0h-2v1.3h-2v0h-2v-1.3h-2v.4h-2v1h-2v-1.3h-2v-.1h-2v-.2h-2v.1h-2v.3h-2v-.1h-2v-.2h-2v.2h-2v-.3h-2v.3h-2v.2h-2v.6h-2v-.3h-2v-.3h-2v.3h-2v.5h-2v-.8h-2v.8h-2v-.9h-2v.1h-2v0h-2v.4h-2v-.8h-2v.6h-2v-.1h-2v-.3h-2v.5h-2v.1h-2v-.3h-2v-.1h-2v0h-2v-.1h-2v.2h-2v.4h-2v-1h-2v.2h-2v1h-2v-1.1h-2v.8h-2v.5h-2v-.4h-2v-.6h-2v-.4h-2v.1h-2v.2h-2v.4h-2v-.5h-2v.2h-2v-.3h-2v.8h-2v-.8h-2v.7h-2v-.8h-2v.5h-2v-.1h-2v-.4h-2v.9h-2v-.7h-2v.2h-2v.1h-2v.9h-2v-1h-2v.1h-2v.1h-2v1.2h-2v.3h-2v-1.6h-2v-.5h-2v-.1h-2v.4h-2v-.2h-2v.8h-2v-.1h-2v-.3h-2v.2h-2v-.4h-2v.7h-2v-.3h-2v.1h-2v.1h-2v-.9h-2v.1h-2v.3h-2v0h-2v-.2h-2v.8h-2v-.1h-2v.4h-2v-.8h-2v-.2h-2v.2h-2v-.3h-2v0h-2v1.1h-2v-1.2h-2v.2h-2v.1h-2v.7h-2v-.3h-2v-.2h-2v-.6h-2v0h-2v0h-2v0h-2v.6h-2v-.2h-2v-.4h-2v.1h-2v1.2h-2v-1.2h-2v1.1h-2v-.9h-2v.2h-2v-.1h-2v-.1h-2v-.1h-2v.1h-2v.2h-2v-.3h-2v.2h-2v.3h-2v0h-2v0h-2v.1h-2v-.8h-2v1.2h-2v-1h-2v1.1h-2v-1.2h-2v.1h-2v.2h-2v.4h-2v.4h-2v.4h-2v-1.6h-2v.4h-2v1h-2v-1.4h-2v0h-2v.6h-2v-.4h-2v.1h-2v-.2h-2v0h-2v.7h-2v-.8h-2v.7h-2v-.7h-2v.2h-2v-.2h-2v.1h-2v.3h-2v1h-2v-.8h-2v-.2h-2v-.2h-2v0h-2v-.1h-2v.2h-2v0h-2v-.1h-2v.6h-2v-.1h-2v.7h-2v-1.3h-2v.1h-2v.2h-2v-.3h-2v.8h-2v-.5h-2v.1h-2v.9h-2v-.6h-2v-.4h-2v.7h-2v-1h-2v.2h-2v-.2h-2v.1h-2v-.2h-2v.3h-2v.8h-2v-.8h-2v1.4h-2v-1.2h-2v.2h-2v-.3h-2v-.4h-2v.9h-2v.8h-2v-1.3h-2v-.4h-2v.2h-2v-.1h-2v1.5h-2v-1.6h-2v.4h-2v-.1h-2v0h-2v.5h-2v0h-2v-.8h-2v.3h-2v.7h-2v-1h-2v.4h-2v-.1h-2v-.1h-2v1h-2v-.6h-2v-.6h-2v.1h-2v1.3h-2v-.2h-2v-1h-2v-.2h-2v.5h-2v-.2h-2v.9h-2v-.4h-2v.3h-2v.2h-2v-1.1h-2v.2h-2v.4h-2v-.6h-2v1h-2v-.8h-2v-.4h-2v1h-2v.5h-2v-1.1h-2v.8h-2v-.5h-2v-.5h-2v-.1h-2v.8h-2v.2h-2v0h-2v-.8h-2v.1h-2v-.3h-2v.5h-2v.1h-2v.9h-2v-.8h-2v-.2h-2v-.6h-2v1.5h-2v-.9h-2v-.5h-2v.9h-2v-.9h-2v.6h-2v.3h-2v-.9h-2v.3h-2v.3h-2v-.4h-2v.1h-2v-.4h-2v.4h-2v-.3h-2v-.2h-2v1.7h-2v.2h-2v-1.1h-2v-.7h-2v.8h-2v-.8h-2v1h-2v.4h-2v-.9h-2v.4h-2v-1h-2v1.6h-2v-1h-2v-.4h-2v.4h-2v.4h-2v-.9h-2v1.2h-2v-.2h-2v-.9h-2v.8h-2v-.5h-2v.4h-2v-.3h-2v.5h-2v-1h-2zM231 435h2v.1h2v-.9h2v.6h2v-.1h2v-.3h2v.4h2v0h2v-.3h2v-.5h2v1.1h2v-.1h2v0h2v0h2v-.2h2v.3h2v-.1h2v-.3h2v.1h2v-.3h2v.4h2v-.1h2v.2h2v-.1h2v-.3h2v.1h2v-.1h2v-.2h2v.7h2v-.4h2v.2h2v-.4h2v.4h2v-.6h2v.5h2v-.6h2v.8h2v-.8h2v.1h2v-.5h2v.6h2v.7h2v-.4h2v-.3h2v-.2h2v.8h2v-.4h2v.4h2v-1.3h2v1.4h2v-.8h2v.5h2v.2h2v0h2v.1h2v-1.2h2v1.1h2v.1h2v-.6h2v.5h2v-1h2v1.1h2v-.3h2v0h2v-.7h2v.4h2v.5h2v-.9h2v.8h2v-.2h2v.3h2v-.6h2v.6h2v-.2h2v.3h2v-1h2v.8h2v.1h2v-.2h2v-.3h2v.3h2v-.2h2v.5h2v-.4h2v0h2v-.3h2v.3h2v-.9h2v1.3h2v-.1h2v-.1h2v0h2v-.4h2v-.9h2v1.3h2v-.3h2v.5h2v-.6h2v-.5h2v.8h2v.3h2v-.4h2v-.7h2v.6h2v0h2v-.8h2v.5h2v.8h2v-.1h2v.1h2v-.3h2v-1.1h2v-.5h2v1.6h2v-.4h2v.2h2v-.7h2v1h2v-.3h2v.4h2v0h2v-.1h2v.2h2v-.1h2v-.8h2v.2h2v-1.1h2v.6h2v.5h2v.6h2v.1h2v-.3h2v0h2v-1.1h2v.8h2v.6h2v-.3h2v0h2v.4h2v-.3h2v-.5h2v.7h2v-.5h2v.2h2v0h2v.1h2v-.4h2v-.1h2v.1h2v-1h2v1h2v-.4h2v0h2v.7h2v-.4h2v-.7h2v1.1h2v0h2v-.6h2v.9h2v-.1h2v.1h2v-.4h2v.4h2v-.2h2v-.4h2v.2h2v0h2v0h2v-1h2v.4h2v.7h2v-.2h2v-.2h2v-.4h2v.9h2v.1h2v.1h2v-.4h2v-.2h2v.2h2v.4h2v-1.5h2v1.4h2v-.3h2v-.4h2v.6h2v-.1h2v0h2v.3h2v-1.2h2v1.1h2v.2h2v-.7h2v-.4h2v-1h2v1.5h2v-.2h2v.6h2v.1h2v-.4h2v.3h2v-.2h2v-.6h2v.8h2v-.2h2v.2h2v-.4h2v.4h2v-2.4h2v2.3h2v-.1h2v-1h2v1h2v-.3h2v-.4h2v.5h2v-.9h2v1.4h2v-.7h2v.6h2v.1h2v-.1h2v-.3h2v-.2h2v.4h2v.1h2v-1h2v1h2v-.3h2v.2h2v-.2h2v-.1h2v.2h2v-.3h2v-.4h2v.5h2v.5h2v-.8h2v.4h2v.3h2v-.6h2v.3h2v.4h2v-1.1h2v1.1h2v-.7h2v.4h2v.2h2v-.5h2v-.4h2v-.5h2v.4h2v1h2v-.7h2v.7h2v.1h2v0h2v-.6h2v.6h2v-1.3h2v.7h2v.6h2v-.7h2v.1h2v.1h2v-.9h2v1.4h2v-1.5h2v1h2v-.2h2v-.5h2v1.2h2v0h2v-.2h2v.2h2v-.3h2v-.7h2v.9h2v0h2v-.4h2v.4h2v-.3h2v.3h2v.1h2v-.3h2v-.2h2v.1h2v-.2h2v.6h2v-.3h2v.3h2v-.2h2v-1h2v.1h2v.9h2v-.1h2v0h2v0h2v0h2v-.7h2v.9h2v-.7h2v.6h2v-.1h2v-.7h2v.7h2v-.5h2v.7h2v0h2v-.8h2v.3h2v-.6h2v1.1h2v-.1h2v.2h2v-.9h2v.7h2v.2h2v-1.2h2v1h2v.2h2v-.4h2v-.5h2v.2h2v-.2h2v.5h2v-.5h2v.4h2v.5h2v-1.3h2v.6h2v-.2h2v.8h2v-.9h2v.8h2v-.1h2v.3h2v-.4h2v-.1h2v-.2h2v.8h2v-.3h2v-.2h2v.2h2v0h2v-.9h2v.8h2v-.1h2v0h2v.3h2v-.3h2v.2h2v-.1h2v.1h2v0h2v.1h2v-.4h2v.3h2v-.1h2v0h2v.3h2v0h2v-.6h2v-.1h2v.2h2v.1h2v-.6h2v.7h2v-.7h2v.9h2v-.6h2v.7h2v-.2h2v0h2v-1h2v.4h2v.6h2v-.1h2v.1h2v-.2h2v.3h2v0h2v.1h2v-.4h2v.3h2v-1.3h2v1.1h2v.1h2v-.3h2v-.3h2v-.4h2v.5h2v.4h2v-1.1h2v1.1h2v-.7h2v.5h2v.4h2v-.3h2v-1h2v1.4h2v-.8h2v.3h2v.4h2v-.2h2v.2h2v-1.3h2v.1h2v1h2v.1h2v-.5h2v.3h2v.1h2v-2.2h2v2.5h2v-.3h2v-.4h2v.6h2v.1h2v-.1h2v-1.3h2v1h2v.4h2v-1.5h2v1.4h2v-.4h2v-.4h2v.4h2v-.6h2v1.1h2v0h2v0h2v-.1h2v-.9h2v.7h2v-.2h2v-.6h2v.8h2v.1h2v.2h2v-.4h2v-.2h2v.6h2v0h2v-1.3h2v1.2h2v-.1h2v-.2h2v-.8h2v1.2h2v-.2h2v-.4h2v.3h2v.2h2v-.6h2v-.5h2v1.2h2v-.6h2v.5h2v-.6h2v.6h2v.1h2v-.2h2v.2h2v-.4h2v-.1h2v-.5h2v.7h2v-.4h2v-.2h2v.8h2v-1h2v.4h2v.2h2v0h2v-.4h2v.9h2v-.4h2v0h2v.4h2v-1.5h2v.8h2v.4h2v.1h2v-.3h2v-.3h2v.6h2v.1h2v0h2v-.9h2v.6h2v.1h2v.3h2v-.2h2v.1h2v-.3h2v-.1h2v.2h2v-1.3h2v1h2v.5h2v-.2h2v-.8h2v.1h2v.4h2v0h2v-.6h2v1h2v-.5h2v.4h2v.2h2v.1h2v0h2v-.9h2v.5h2v.4h2v-.2h2v.2h2v-1.5h2v1.3h2v0h2v-.3h2v.3h2v-.9h2v1.1h2v-.1h2v-.3h2v-.9h2v.7h2v0h2v.3h2v-.1h2v-.3h2v-.6h2v1.2h2v-.1h2v.1h2v-.2h2v0h2v.2h2v-.1h2v-.7h2v.1h2v-.3h2v-.1h2v-.3h2v1.4h2v-.2h2v-.3h2v.5h2v-1.8h2v1.4h2v-.5h2v.7h2v.3h2v-.8h2v.3h2v.5h2v-.1h2v-.5h2v.2h2v.3h2v-.8h2v0h2v.4h2v0h2v.5h2v-.5h2v.1h2v-.2h2v-.4h2v.1h2v.3h2v0h2v0h2v-1h2v1.3h2v.1h2v-1.2h2v1.4h2v-.2h2v-.1h2v0h2v-.5h2v.8h2v-.2h2v.2h2v-.7h2v-.6h2v1.2h2v-.1h2v-.6h2v.5h2v-1.1h2v.8h2v0h2v0h2v.1h2v.5h2v-1.4h2v.5h2v.8h2v.1h2v-.5h2v-.6h2v.3h2v.4h2v.4h2v-.2h2v-.3h2v-.5h2v.2h2v.2h2v0h2v0h2v.2h2v.3h2v.2h2v-.5h2v.2h2v-.2h2v0h2v0h2v.1h2v-.9h2v.6h2v-.1h2v.6h2v0h2v-.4h2v-.1h2v.5h2v-1.2h2v1.3h2v-.3h2v-.4h2v-.1h2v.6h2v-.7h2v-.3h2v1.1h2v-.1h2v-.2h2v-.6h2v.8h2v-.2h2v-.6h2v.8h2v-.7h2v.3h2v.2h2v.1h2v-.3h2v.3h2v-.8h2v-.1h2v.6h2v.2h2v.4h2v-.2h2v-.3h2v-.2h2v0h2v.4h2v-.7h2v.7h2v.1h2v-.4h2v.5h2v-1.5h2v.9h2v-.8h2v1.3h2v0h2v-.2h2v.3h2v.1h2v-1.8h2v.9h2v.9h2v-.3h2v-1.1h2v1.2h2v-.7h2v.2h2v.1h2v.1h2v.3h2v.2h2v-1.2h2v.4h2v-.1h2v.4h2v-.5h2v1h2v-.3h2v-1h2v1.1h2v-.7h2v-.5h2v1.1h2v-.3h2v-.6h2v.5h2v-.2h2v.7h2v0h2v-1.1h2v.5h2v.7h2v0h2v-1.2h2v1.2h2v-.5h2v.5h2v-.6h2v.4h2v-.3h2v.2h2v-.3h2v.2h2v.1h2v.3h2v-1.2h2v1.3h2v-.5h2v.2h2v0h2v-.2h1v7.8h-1v-1h-2v1.1h-2v-.7h-2v.1h-2v-.6h-2v-.1h-2v.3h-2v.3h-2v-.5h-2v.4h-2v-.4h-2v.1h-2v.2h-2v-.3h-2v.6h-2v-.6h-2v.1h-2v0h-2v-.2h-2v.2h-2v.1h-2v0h-2v.9h-2v-1.2h-2v0h-2v.1h-2v.3h-2v-.4h-2v1.6h-2v-1.4h-2v-.2h-2v.5h-2v.2h-2v-.5h-2v0h-2v-.1h-2v.2h-2v-.1h-2v.3h-2v.5h-2v0h-2v.6h-2v-1.4h-2v.2h-2v.8h-2v-.4h-2v-.6h-2v-.1h-2v0h-2v-.1h-2v.2h-2v-.2h-2v.8h-2v-.4h-2v.1h-2v.2h-2v-.3h-2v.5h-2v-.9h-2v.6h-2v1h-2v-1.5h-2v.3h-2v-.3h-2v.1h-2v.1h-2v.1h-2v-.4h-2v.6h-2v-.6h-2v1.6h-2v-1.6h-2v1h-2v-.5h-2v-.3h-2v0h-2v1h-2v-1.1h-2v.3h-2v0h-2v.9h-2v-1h-2v-.3h-2v1.7h-2v-.5h-2v-.7h-2v0h-2v1h-2v-1.5h-2v.3h-2v-.1h-2v.1h-2v.1h-2v-.1h-2v-.1h-2v-.1h-2v.7h-2v-.4h-2v.7h-2v-1.1h-2v1.2h-2v-1.1h-2v.2h-2v-.1h-2v.1h-2v.6h-2v-.7h-2v-.2h-2v.3h-2v-.1h-2v.4h-2v0h-2v0h-2v.2h-2v.7h-2v-1h-2v-.2h-2v.6h-2v0h-2v.8h-2v-1.7h-2v.4h-2v-.1h-2v-.1h-2v.4h-2v-.5h-2v1h-2v-.4h-2v0h-2v-.1h-2v.2h-2v-.5h-2v-.3h-2v.1h-2v.3h-2v1.2h-2v-.2h-2v-.6h-2v.1h-2v.7h-2v-1.5h-2v.1h-2v-.1h-2v1.6h-2v-.8h-2v-.7h-2v1h-2v-1.1h-2v.3h-2v-.4h-2v.9h-2v-.8h-2v.7h-2v-.1h-2v-.4h-2v.1h-2v-.1h-2v-.3h-2v.3h-2v-.1h-2v.1h-2v-.1h-2v.6h-2v.2h-2v-.3h-2v-.5h-2v.9h-2v-1h-2v0h-2v.7h-2v-.8h-2v.1h-2v.7h-2v-.6h-2v0h-2v.1h-2v.9h-2v-1.1h-2v.4h-2v.3h-2v-.5h-2v.3h-2v1.1h-2v-.4h-2v-1.2h-2v.3h-2v.8h-2v-1.2h-2v.3h-2v.1h-2v-.1h-2v.1h-2v.5h-2v-.4h-2v.2h-2v-.7h-2v.6h-2v.2h-2v0h-2v-.7h-2v.9h-2v-.5h-2v.3h-2v.2h-2v.3h-2v-1.3h-2v.7h-2v-.7h-2v.7h-2v-.3h-2v-.3h-2v.1h-2v1.4h-2v-.6h-2v.7h-2v-1.6h-2v1.4h-2v-.5h-2v-.4h-2v.6h-2v-.3h-2v-.7h-2v.6h-2v1.3h-2v-1.8h-2v-.2h-2v.4h-2v0h-2v-.3h-2v.8h-2v-.2h-2v-.6h-2v-.1h-2v1.2h-2v-.7h-2v0h-2v-.3h-2v.5h-2v.5h-2v-1.3h-2v.1h-2v-.1h-2v.2h-2v0h-2v.5h-2v-.4h-2v1.3h-2v-1.4h-2v1.1h-2v-.3h-2v-.6h-2v-.2h-2v0h-2v1h-2v-.3h-2v-.4h-2v-.4h-2v0h-2v-.1h-2v0h-2v.3h-2v1.1h-2v-.2h-2v-1h-2v-.2h-2v0h-2v.9h-2v-.5h-2v.2h-2v.1h-2v.2h-2v-.5h-2v-.2h-2v.3h-2v-.4h-2v.3h-2v0h-2v0h-2v.4h-2v-.7h-2v.2h-2v.1h-2v-.1h-2v.8h-2v-1.1h-2v.6h-2v0h-2v-.6h-2v1.4h-2v-1.3h-2v.6h-2v-.4h-2v.4h-2v.3h-2v-.6h-2v-.4h-2v.5h-2v.3h-2v-.2h-2v-.4h-2v.8h-2v.3h-2v-1h-2v.5h-2v-.1h-2v-.6h-2v.4h-2v-.2h-2v.5h-2v-.6h-2v-.2h-2v.7h-2v.3h-2v-.8h-2v.5h-2v-.6h-2v0h-2v.4h-2v-.3h-2v.8h-2v-.9h-2v.2h-2v-.2h-2v.9h-2v.4h-2v-.7h-2v.2h-2v-.5h-2v.5h-2v.1h-2v.3h-2v-1.1h-2v0h-2v-.1h-2v-.1h-2v.9h-2v.2h-2v.4h-2v-1.3h-2v.7h-2v.4h-2v-1.1h-2v-.1h-2v1h-2v-.1h-2v-.7h-2v0h-2v-.1h-2v.1h-2v1.4h-2v-1.4h-2v-.2h-2v.6h-2v-.7h-2v.6h-2v.9h-2v.1h-2v-1h-2v.2h-2v-.7h-2v.4h-2v-.2h-2v1.4h-2v-1.7h-2v.3h-2v-.2h-2v-.1h-2v.1h-2v.2h-2v.4h-2v.5h-2v-.9h-2v-.2h-2v1h-2v-1h-2v.4h-2v.5h-2v-.7h-2v.4h-2v-.4h-2v-.2h-2v.3h-2v-.1h-2v.4h-2v-.3h-2v-.1h-2v-.1h-2v.6h-2v.5h-2v-.8h-2v.2h-2v-.6h-2v1h-2v.4h-2v-.5h-2v.1h-2v-.5h-2v.5h-2v-.8h-2v.6h-2v.3h-2v-.8h-2v.1h-2v-.4h-2v.6h-2v-.5h-2v.9h-2v1.1h-2v-1.9h-2v.9h-2v.3h-2v-.1h-2v-1h-2v-.4h-2v0h-2v.3h-2v0h-2v.3h-2v.2h-2v-.7h-2v.1h-2v.7h-2v-.1h-2v-.7h-2v-.1h-2v.6h-2v-.6h-2v.3h-2v-.3h-2v.4h-2v0h-2v.2h-2v.1h-2v-.7h-2v1.1h-2v-.8h-2v0h-2v1h-2v-.6h-2v-.3h-2v.4h-2v1h-2v0h-2v.4h-2v-1.1h-2v-.9h-2v1.3h-2v-1.4h-2v.4h-2v-.2h-2v0h-2v-.2h-2v.4h-2v.5h-2v-.9h-2v0h-2v0h-2v0h-2v0h-2v.4h-2v-.5h-2v.4h-2v.1h-2v-.2h-2v.6h-2v-.7h-2v-.1h-2v.3h-2v.7h-2v.3h-2v-.1h-2v-.6h-2v.4h-2v-1h-2v0h-2v.1h-2v.8h-2v-.6h-2v0h-2v-.2h-2v.1h-2v.3h-2v-.5h-2v.5h-2v-.3h-2v-.1h-2v1.3h-2v-1.5h-2v.1h-2v.8h-2v-.7h-2v.1h-2v.3h-2v-.3h-2v-.2h-2v.1h-2v.4h-2v-.3h-2v.6h-2v-.5h-2v-.1h-2v.9h-2v-1.1h-2v.1h-2v.5h-2v-.3h-2v.1h-2v-.2h-2v-.3h-2v1h-2v-.9h-2v.5h-2v-.1h-2v.7h-2v-.9h-2v-.1h-2v-.1h-2v.4h-2v-.3h-2v.4h-2v-.4h-2v0h-2v.5h-2v-.6h-2v1h-2v-1h-2v1h-2v.6h-2v-1.6h-2v.3h-2v.2h-2v.7h-2v-.6h-2v-.7h-2v.9h-2v-.9h-2v.8h-2v-.3h-2v.1h-2v-.1h-2v-.2h-2v1.1h-2v-1.2h-2v.2h-2v-.2h-2v.3h-2v.5h-2v-1h-2v.7h-2v.5h-2v-.9h-2v0h-2v0h-2v0h-2v-.1h-2v-.1h-2v.2h-2v.4h-2v-.6h-2v.4h-2v-.3h-2v.2h-2v0h-2v-.4h-2v.7h-2v0h-2v.1h-2v1h-2v-1.7h-2v.5h-2v.5h-2v0h-2v-.1h-2v0h-2v-.4h-2v-.3h-2v.1h-2v-.2h-2v.1h-2v1.3h-2v-1.4h-2v0h-2v.4h-2v.6h-2v-.7h-2v-.2h-2v.3h-2v-.4h-2v0h-2v.3h-2v.2h-2v0h-2v.5h-2v-.9h-2v.6h-2v-.7h-2v.3h-2v.1h-2v0h-2v.8h-2v-1.1h-2v0h-2v.1h-2v.3h-2v1h-2v-1.2h-2v-.2h-2v.9h-2v-.5h-2v-.5h-2v.4h-2v.2h-2v-.1h-2v-.5h-2v.1h-2v0h-2v-.1h-2v.6h-2v-.4h-2v.2h-2v.2h-2v-.5h-2v-.3h-2v.4h-2v.2h-2v-.5h-2v0h-2v.9h-2v-.8h-2v.2h-2v.2h-2v1.2h-2v-1.7h-2v.3h-2v.4h-2v-.5h-2v0h-2v-.2h-2v.8h-2v-.7h-2v-.1h-2v.6h-2v-.3h-2v.1h-2v.1h-2v-.3h-2v.1h-2v.1h-2v0h-2v-.4h-2v.7h-2v-.2h-2v-.3h-2v0h-2v0h-2v1h-2v-1h-2v.3h-2v-.4h-2v.6h-2v.3h-2v-.8h-2v-.2h-2v1.5h-2v-1.5h-2v.3h-2v.5h-2v.1h-2v0h-2v-.2h-2v.1h-2v-.7h-2v-.2h-2v.8h-2v-.6h-2v-.1h-2v-.1h-2v.6h-2v0h-2v-.4h-2v-.1h-2v.3h-2v-.3h-2v.6h-2v-.7h-2v.4h-2v0h-2v-.4h-2v.1h-2v.3h-2v-.1h-2v.3h-2v.4h-2v-1h-2v.5h-2v-.5h-2v.3h-2v.7h-2v-.9h-2v1h-2v.4h-2v-.7h-2v-.8h-2v.9h-2v-.8h-2v0h-2v-.1h-2v.2h-2v1.2h-2v-.7h-2v-.6h-2v.2h-2v.6h-2v-.4h-2v-.4h-2v.4h-2v-.4h-2v.3h-2v-.3h-2v.1h-2v.5h-2v.1h-2v-.1h-2v-.4h-2v.1h-2v-.1h-2v.7h-2v-.5h-2v-.1h-2zM231 552.7h2v.3h2v-.7h2v-.1h2v-1.3h2v1.7h2v-.2h2v.1h2v0h2v-.1h2v.3h2v-.2h2v0h2v-.7h2v-1h2v.8h2v.6h2v.4h2v-.7h2v-.2h2v.6h2v.3h2v-.7h2v.4h2v-.2h2v-.1h2v.5h2v-.3h2v-.4h2v.5h2v-.6h2v1.2h2v-.1h2v0h2v-.4h2v.5h2v-.2h2v.3h2v-.5h2v.4h2v.1h2v-.3h2v0h2v.1h2v0h2v-.5h2v.2h2v.1h2v-.7h2v-.8h2v1h2v-.1h2v.3h2v.3h2v.1h2v.1h2v-.6h2v.5h2v-.1h2v-.5h2v.1h2v.8h2v-1h2v.5h2v.4h2v-.2h2v-1.4h2v1.7h2v-.1h2v-.6h2v-.7h2v1.1h2v-.1h2v.2h2v.3h2v-.2h2v.2h2v-.1h2v-.2h2v-.5h2v-.8h2v1.1h2v.4h2v-1.2h2v-.3h2v1.3h2v.2h2v-.9h2v.6h2v-1.1h2v.9h2v-.8h2v1.1h2v-1.8h2v.5h2v.6h2v.9h2v-1.5h2v1h2v.4h2v-.3h2v.2h2v.1h2v-.1h2v-.8h2v.2h2v.4h2v-.7h2v0h2v.8h2v.1h2v-.4h2v-.8h2v1h2v-.6h2v.3h2v-.3h2v.6h2v0h2v.5h2v-.2h2v-.2h2v-.8h2v-.3h2v.6h2v.5h2v0h2v-.9h2v1.2h2v-1.2h2v1h2v-.6h2v.4h2v0h2v-.2h2v-.2h2v-.1h2v.1h2v.2h2v-.1h2v.2h2v.3h2v-.2h2v-.4h2v0h2v.7h2v-.2h2v.3h2v-.3h2v-.2h2v.2h2v-.1h2v.3h2v0h2v.1h2v-.8h2v.4h2v.1h2v-.3h2v.3h2v-.3h2v-.1h2v.7h2v-1.7h2v1.5h2v-.1h2v.2h2v-1h2v.9h2v.1h2v-.1h2v.3h2v-.9h2v.7h2v-.4h2v.6h2v-.4h2v-.6h2v0h2v.7h2v0h2v-.6h2v.2h2v.2h2v-.1h2v-.2h2v.3h2v0h2v.3h2v-.1h2v-.6h2v.7h2v-.6h2v.6h2v.1h2v-.3h2v-.4h2v.6h2v-.1h2v.2h2v-.6h2v-.1h2v-1.1h2v.6h2v.5h2v.2h2v-.9h2v1.5h2v-1.5h2v1.3h2v.1h2v.1h2v-1.1h2v.8h2v-.4h2v-.2h2v.5h2v0h2v0h2v0h2v0h2v-.4h2v.6h2v-.5h2v.7h2v-.5h2v.2h2v-.7h2v1h2v-.2h2v0h2v.2h2v-.9h2v-.3h2v.9h2v0h2v.3h2v-.3h2v.3h2v0h2v-.8h2v-.3h2v.1h2v-.9h2v.2h2v1.2h2v.4h2v-.1h2v-1.3h2v.3h2v1.1h2v-.5h2v.2h2v-.3h2v-.1h2v.5h2v.2h2v-.4h2v.3h2v-.5h2v.5h2v-.1h2v.2h2v-.4h2v.2h2v0h2v-.1h2v.3h2v-1.1h2v.7h2v-.2h2v.4h2v-.4h2v-.7h2v1.3h2v-.1h2v-.2h2v.1h2v-1.6h2v.6h2v.1h2v1h2v.2h2v-.1h2v-.1h2v-.1h2v-.6h2v.4h2v.5h2v-.1h2v0h2v0h2v-.4h2v-.1h2v.2h2v.1h2v-1.2h2v1h2v-.4h2v-.6h2v1.5h2v-.6h2v-.1h2v-.6h2v-.8h2v1.3h2v-.1h2v.1h2v.7h2v-1.6h2v.8h2v.1h2v.5h2v-.7h2v.6h2v-.1h2v-1.4h2v1.1h2v.3h2v.1h2v0h2v.1h2v0h2v-.9h2v1.2h2v-.1h2v-1.4h2v1.5h2v-.4h2v.3h2v-.8h2v.4h2v-.9h2v.1h2v1.1h2v-.3h2v-.3h2v.6h2v-1.2h2v.9h2v-.8h2v1.2h2v-.2h2v-.4h2v.3h2v-.8h2v-.4h2v1.5h2v-.2h2v.1h2v.2h2v-.9h2v.8h2v-.5h2v-.4h2v.8h2v.1h2v-.3h2v.2h2v-.7h2v.6h2v-.6h2v-.5h2v1.3h2v-.1h2v-.1h2v0h2v-.4h2v-.2h2v-.3h2v1h2v0h2v.1h2v-1.1h2v.8h2v-.6h2v.7h2v.1h2v-.2h2v-.5h2v0h2v.1h2v.4h2v.4h2v-.1h2v-1h2v-.1h2v.8h2v.2h2v-1h2v.2h2v-1.1h2v1.8h2v-.1h2v-.2h2v.5h2v-.5h2v.5h2v-.5h2v.4h2v-.5h2v.1h2v.5h2v0h2v-.4h2v.1h2v.4h2v-1.5h2v1.4h2v-.6h2v.2h2v.4h2v-.2h2v.1h2v-.2h2v.2h2v-.6h2v-.1h2v.5h2v.3h2v-.1h2v0h2v-.2h2v.3h2v-.9h2v.6h2v-.1h2v.3h2v-.7h2v.7h2v-.8h2v.4h2v.2h2v-.1h2v0h2v0h2v.2h2v-1.5h2v1.6h2v.1h2v0h2v.1h2v-.3h2v-.2h2v-.1h2v-.2h2v.1h2v-.4h2v.4h2v-.4h2v.3h2v.6h2v-.1h2v-.3h2v.1h2v-.7h2v.9h2v-1.1h2v1.1h2v.3h2v-.2h2v.1h2v-.5h2v-.3h2v.6h2v-.4h2v-.1h2v-.5h2v1.2h2v-.1h2v-.8h2v.9h2v-.4h2v-.9h2v1.1h2v-.3h2v.6h2v-.7h2v.4h2v.1h2v-.3h2v-.1h2v-.3h2v.2h2v.4h2v.2h2v-.5h2v.1h2v.3h2v.2h2v-.4h2v-1h2v.5h2v.3h2v-.4h2v.8h2v-.4h2v.3h2v-.2h2v-.4h2v.6h2v.2h2v0h2v0h2v-1h2v.7h2v-.3h2v.5h2v-1.4h2v.8h2v.7h2v-.6h2v.1h2v.5h2v-.2h2v0h2v-.1h2v0h2v.1h2v-.4h2v-.2h2v.4h2v.4h2v-.1h2v-1.2h2v1h2v.3h2v-.1h2v-.5h2v.5h2v-.8h2v0h2v.6h2v-.8h2v1.1h2v-1.8h2v1h2v.4h2v-.6h2v-.1h2v.6h2v-.6h2v.9h2v.1h2v.2h2v-.5h2v.4h2v-.2h2v-.1h2v-.8h2v1.1h2v-.5h2v-.1h2v.4h2v.1h2v-.1h2v.2h2v-1h2v.9h2v0h2v.2h2v-.4h2v0h2v-.9h2v.5h2v-.1h2v.5h2v-1h2v1.1h2v-.7h2v.8h2v-1.5h2v.6h2v.7h2v-.3h2v-.1h2v.1h2v.5h2v.1h2v-.4h2v0h2v-.6h2v.8h2v.2h2v-.4h2v-.3h2v-.8h2v.5h2v.1h2v.7h2v.2h2v-.1h2v-.1h2v-.4h2v.6h2v0h2v-1.2h2v.6h2v.4h2v-.7h2v-.1h2v.1h2v.9h2v-.6h2v.3h2v.3h2v-.7h2v.4h2v-.4h2v.5h2v-.2h2v.1h2v.2h2v-.1h2v-.4h2v.6h2v0h2v-.1h2v.1h2v-.7h2v.4h2v.4h2v-1.1h2v-.4h2v.6h2v.9h2v-.2h2v-.8h2v.1h2v.3h2v.4h2v-.7h2v.2h2v.5h2v.1h2v0h2v0h2v0h2v-.7h2v.2h2v.5h2v-.3h2v-.1h2v.3h2v-1h2v1.1h2v.1h2v-.1h2v.1h2v-.5h2v-.6h2v.7h2v.1h2v.1h2v0h2v-.6h2v.8h2v-.3h2v.1h2v-.8h2v.5h2v-.7h2v.9h2v-1.4h2v1.5h2v-.4h2v-.9h2v.3h2v.6h2v-.2h2v.3h2v.2h2v.3h2v-.2h2v-.4h2v0h2v-.8h2v1.2h2v-.2h2v0h2v-.1h2v-.5h2v.1h2v.8h2v-.1h2v-1.3h2v1.1h2v.3h2v-.2h2v.3h2v-.3h2v-.3h2v-.2h2v.1h2v-.4h2v.8h2v0h2v-.2h2v.1h2v-.9h2v1.2h2v-.1h2v-.9h2v.7h2v-.2h2v-.7h2v.8h2v.5h2v-.6h2v-.7h2v1.2h2v0h2v-.5h2v-.3h2v.6h2v-.1h2v.3h2v-1.1h2v.2h2v.5h2v.1h2v.2h2v-.3h2v0h2v.2h2v.2h2v-1h2v1h2v-.3h2v-.9h1v7.6h-1v-.2h-2v.7h-2v.3h-2v-.6h-2v-.1h-2v-.3h-2v.2h-2v.5h-2v-.2h-2v-.4h-2v.4h-2v-.6h-2v.2h-2v.1h-2v.1h-2v-.3h-2v2h-2v-1.6h-2v.1h-2v-.3h-2v-.2h-2v.4h-2v-.4h-2v.1h-2v0h-2v0h-2v-.2h-2v.1h-2v.3h-2v.3h-2v-.3h-2v-.1h-2v0h-2v-.1h-2v.3h-2v.6h-2v-.3h-2v.6h-2v-1.4h-2v0h-2v1.4h-2v-.1h-2v-.9h-2v.2h-2v-.2h-2v-.2h-2v.6h-2v.1h-2v-.8h-2v.3h-2v-.1h-2v.2h-2v1h-2v-1.2h-2v.4h-2v-.3h-2v-.3h-2v.7h-2v-.6h-2v-.1h-2v.5h-2v-.4h-2v.7h-2v-.4h-2v.6h-2v-1h-2v1.6h-2v-1.6h-2v1.9h-2v-.6h-2v-1.4h-2v.5h-2v-.3h-2v1.2h-2v-.8h-2v.3h-2v.4h-2v-.8h-2v-.4h-2v1.1h-2v-.5h-2v-.1h-2v-.6h-2v.6h-2v-.4h-2v.2h-2v.1h-2v.1h-2v1h-2v-.8h-2v-.6h-2v.8h-2v-.2h-2v0h-2v.5h-2v-.8h-2v1.1h-2v-1.5h-2v.6h-2v.2h-2v-.8h-2v-.1h-2v.1h-2v0h-2v0h-2v.2h-2v.9h-2v.6h-2v-1.4h-2v-.2h-2v.3h-2v.1h-2v-.4h-2v0h-2v-.1h-2v.1h-2v1h-2v.5h-2v-1.6h-2v.4h-2v0h-2v.2h-2v-.5h-2v.7h-2v-.5h-2v.1h-2v-.3h-2v-.1h-2v.3h-2v.3h-2v-.1h-2v0h-2v-.2h-2v.6h-2v-.5h-2v1.2h-2v-.7h-2v1.1h-2v-1.8h-2v-.1h-2v1h-2v-.8h-2v0h-2v0h-2v.4h-2v-.3h-2v.2h-2v-.3h-2v.1h-2v-.3h-2v-.1h-2v.3h-2v.9h-2v-1.2h-2v.7h-2v-.3h-2v.8h-2v-.9h-2v-.3h-2v1.3h-2v-.5h-2v-.2h-2v-.4h-2v.2h-2v-.4h-2v0h-2v.6h-2v0h-2v.4h-2v-.4h-2v-.3h-2v-.1h-2v0h-2v-.2h-2v.3h-2v.3h-2v-.6h-2v.1h-2v.1h-2v-.2h-2v.3h-2v-.3h-2v1.7h-2v-.7h-2v-.6h-2v-.3h-2v.9h-2v1.4h-2v-2.1h-2v-.1h-2v.9h-2v-.7h-2v-.3h-2v0h-2v.1h-2v.4h-2v-.4h-2v0h-2v-.1h-2v.3h-2v.4h-2v-.8h-2v.5h-2v-.1h-2v1.1h-2v-1.4h-2v-.1h-2v1.3h-2v-1.2h-2v.1h-2v-.1h-2v1.1h-2v-.8h-2v.6h-2v-.5h-2v-.2h-2v.1h-2v-.3h-2v.4h-2v.3h-2v-.5h-2v-.3h-2v.6h-2v-.1h-2v-.4h-2v0h-2v-.1h-2v1h-2v-.7h-2v-.2h-2v.2h-2v.7h-2v-1h-2v.6h-2v.7h-2v-1.3h-2v0h-2v.3h-2v-.2h-2v.4h-2v.1h-2v-.5h-2v0h-2v.9h-2v-.4h-2v-.1h-2v.2h-2v-.2h-2v-.6h-2v1h-2v-.9h-2v.8h-2v-.3h-2v.7h-2v-.6h-2v-.3h-2v.2h-2v.7h-2v.5h-2v-1.7h-2v.6h-2v.4h-2v-.6h-2v1.1h-2v-1h-2v-.4h-2v.3h-2v.5h-2v-.1h-2v-.6h-2v-.2h-2v.1h-2v.7h-2v-.7h-2v.1h-2v.6h-2v-.6h-2v.5h-2v.6h-2v-1.2h-2v0h-2v.4h-2v-.6h-2v.4h-2v.3h-2v-.6h-2v1.1h-2v-.7h-2v.1h-2v-.3h-2v.9h-2v-.3h-2v-.6h-2v-.2h-2v.1h-2v.4h-2v-.4h-2v1h-2v-.9h-2v-.1h-2v-.1h-2v1h-2v-.5h-2v-.6h-2v.5h-2v-.3h-2v1h-2v-.9h-2v.4h-2v-.5h-2v.1h-2v-.2h-2v-.1h-2v.4h-2v.1h-2v.1h-2v.1h-2v-.2h-2v-.4h-2v.8h-2v-.8h-2v1.1h-2v-.4h-2v-.1h-2v.1h-2v0h-2v-.6h-2v-.2h-2v.5h-2v.5h-2v-.9h-2v.1h-2v.5h-2v-.5h-2v.7h-2v-.2h-2v.9h-2v-1.1h-2v-.5h-2v.3h-2v-.1h-2v.3h-2v0h-2v.2h-2v-.5h-2v.3h-2v-.2h-2v.3h-2v1.1h-2v-1.5h-2v.2h-2v-.2h-2v.1h-2v-.1h-2v.4h-2v-.2h-2v-.3h-2v1.6h-2v-1.7h-2v.1h-2v.9h-2v0h-2v-.9h-2v.3h-2v-.3h-2v0h-2v.2h-2v.5h-2v.4h-2v-.9h-2v.6h-2v.6h-2v-.8h-2v-.4h-2v.4h-2v-.4h-2v.1h-2v.4h-2v-.8h-2v.6h-2v-.3h-2v.1h-2v.5h-2v1.1h-2v-1.5h-2v.5h-2v-1h-2v.5h-2v-.2h-2v-.2h-2v.3h-2v0h-2v-.1h-2v.2h-2v-.3h-2v1.3h-2v-1.2h-2v.8h-2v-.7h-2v-.2h-2v.3h-2v-.5h-2v.7h-2v-.2h-2v-.3h-2v.3h-2v-.3h-2v.2h-2v0h-2v-.2h-2v.4h-2v.8h-2v-1.2h-2v.8h-2v-.8h-2v0h-2v.5h-2v.1h-2v-.1h-2v.2h-2v.1h-2v-1h-2v.2h-2v1.3h-2v-1.4h-2v.3h-2v.3h-2v-.6h-2v.9h-2v-.9h-2v1.2h-2v-.6h-2v-.6h-2v1.1h-2v-.6h-2v.2h-2v0h-2v.5h-2v-.7h-2v-.3h-2v1.1h-2v-.1h-2v-1h-2v1.5h-2v-.8h-2v-.9h-2v0h-2v.5h-2v-.3h-2v-.1h-2v.6h-2v-.5h-2v-.2h-2v.6h-2v-.5h-2v.4h-2v.5h-2v-.4h-2v0h-2v-.5h-2v1.1h-2v-.8h-2v.2h-2v.7h-2v-1.1h-2v.4h-2v-.6h-2v.3h-2v-.2h-2v.1h-2v1.1h-2v-1.2h-2v.3h-2v-.1h-2v-.1h-2v.2h-2v-.1h-2v-.3h-2v0h-2v0h-2v.1h-2v-.2h-2v1.3h-2v0h-2v-.8h-2v-.4h-2v-.1h-2v.5h-2v-.3h-2v.7h-2v.5h-2v-.5h-2v.3h-2v-1.1h-2v.2h-2v-.2h-2v.7h-2v-.3h-2v.2h-2v.5h-2v-.8h-2v.3h-2v-.6h-2v0h-2v.9h-2v-.7h-2v.6h-2v-.3h-2v-.5h-2v0h-2v0h-2v0h-2v.2h-2v-.2h-2v.4h-2v-.1h-2v-.2h-2v.5h-2v-.3h-2v0h-2v-.3h-2v.2h-2v.3h-2v.4h-2v-1h-2v.7h-2v.1h-2v-.6h-2v.6h-2v-.3h-2v-.4h-2v.5h-2v0h-2v.2h-2v0h-2v-.4h-2v0h-2v0h-2v.2h-2v-.5h-2v1.1h-2v-1.1h-2v.5h-2v0h-2v-.5h-2v0h-2v1.6h-2v-1.3h-2v-.4h-2v.4h-2v.5h-2v-.5h-2v-.3h-2v.3h-2v.3h-2v-.3h-2v1.7h-2v-2h-2v.2h-2v.4h-2v-.3h-2v-.1h-2v-.1h-2v.6h-2v-.6h-2v-.1h-2v.2h-2v-.1h-2v.8h-2v-.6h-2v.9h-2v-.8h-2v.4h-2v-.4h-2v.7h-2v-1h-2v.5h-2v-.2h-2v0h-2v-.4h-2v.5h-2v.5h-2v-.8h-2v-.2h-2v.1h-2v.9h-2v-.1h-2v-.2h-2v-.5h-2v.3h-2v.6h-2v-.8h-2v.1h-2v-.3h-2v.3h-2v.4h-2v-.4h-2v0h-2v-.2h-2v.2h-2v.3h-2v-.8h-2v.7h-2v.2h-2v-.6h-2v1h-2v-1h-2v-.1h-2v.6h-2v-.7h-2v.4h-2v-.3h-2v0h-2v.8h-2v-.5h-2v.2h-2v-.1h-2v-.4h-2v1.7h-2v-1.1h-2v-.6h-2v.2h-2v.6h-2v-.6h-2v-.2h-2v0h-2v0h-2v.3h-2v-.3h-2v.2h-2v-.2h-2v.2h-2v.5h-2v-.6h-2v-.3h-2v.7h-2v-.4h-2v-.2h-2v1h-2v-.5h-2v-.2h-2v.9h-2v-1.1h-2v.4h-2v.5h-2v-1h-2v.2h-2v0h-2v.2h-2v-.4h-2v.1h-2v0h-2v0h-2v1.2h-2v-.4h-2v-.8h-2v0h-2v0h-2v.4h-2v.9h-2v-1.3h-2v1.6h-2v-.7h-2v-.5h-2v0h-2v-.1h-2v-.2h-2v1.3h-2v-1.1h-2v-.4h-2v.2h-2v.1h-2v-.1h-2v.1h-2v-.2h-2v.6h-2v-.1h-2v-.4h-2v-.1h-2v0h-2v.2h-2v0h-2v0h-2v.8h-2v-1h-2v-.1h-2v0h-2v.4h-2v.4h-2v-.3h-2v.6h-2v-.4h-2v-.6h-2v1.2h-2v-1.2h-2v-.1h-2v.2h-2v-.1h-2v2.2h-2v-1.9h-2v.1h-2v.2h-2v.7h-2v-.8h-2v1.9h-2v-1.4h-2v.1h-2v-.8h-2v1.1h-2v-1h-2v.5h-2v.8h-2v-.9h-2v.6h-2v-.8h-2v-.2h-2v.3h-2v-.2h-2v.2h-2v-.4h-2v1h-2v-.9h-2v.2h-2v-.2h-2v-.2h-2v1h-2v-1.2h-2v-.2h-2v1h-2zM231 670.8h2v-.6h2v.7h2v-.1h2v.1h2v-.1h2v0h2v-1.2h2v1.4h2v-.3h2v-1h2v1.3h2v-1.1h2v.8h2v.1h2v-.7h2v-.1h2v-.5h2v1h2v.4h2v-.4h2v.2h2v-.2h2v.3h2v-.1h2v.1h2v.1h2v-.2h2v-.7h2v.5h2v.2h2v-.2h2v-.3h2v.7h2v-.2h2v-.4h2v.1h2v.3h2v.2h2v-1.2h2v-.7h2v1.4h2v-.2h2v-.2h2v.7h2v-.3h2v-.2h2v.3h2v.1h2v.3h2v-1h2v.9h2v-.5h2v-.6h2v.3h2v.7h2v-.2h2v-.1h2v-.4h2v-.1h2v.8h2v0h2v-.3h2v-.2h2v-.3h2v-.9h2v1.7h2v.1h2v-.4h2v-1.8h2v1.7h2v.7h2v0h2v-.3h2v0h2v.1h2v-.9h2v.6h2v.4h2v-1.2h2v1.1h2v-.8h2v.6h2v.3h2v-1h2v.9h2v-.2h2v-.5h2v.3h2v.1h2v0h2v.5h2v-.2h2v.1h2v-.1h2v-1.3h2v.9h2v.3h2v-.4h2v.2h2v0h2v.4h2v-.4h2v-.3h2v-.1h2v-.1h2v.7h2v.1h2v-.6h2v.7h2v.1h2v-1.4h2v1h2v.4h2v-1.5h2v1h2v.1h2v.2h2v-.1h2v-.4h2v.4h2v-.5h2v-.2h2v-.3h2v1h2v.2h2v-.1h2v-.9h2v.7h2v-.2h2v.2h2v.3h2v-.5h2v-1.1h2v1.3h2v-.4h2v.7h2v-1h2v.5h2v.3h2v-.8h2v.6h2v.3h2v.1h2v-.8h2v.2h2v-.5h2v.6h2v.1h2v.3h2v.2h2v-.2h2v0h2v-.1h2v.1h2v.1h2v0h2v-.6h2v.6h2v-.3h2v.3h2v-.2h2v0h2v-.4h2v.3h2v-1.1h2v1.1h2v-.6h2v.9h2v-.1h2v-1.4h2v1.3h2v-1.1h2v.4h2v.1h2v.3h2v.4h2v-1.5h2v.6h2v1.1h2v-.1h2v-.2h2v-.5h2v.2h2v-1.2h2v1.3h2v.4h2v-1.7h2v1.3h2v.2h2v.3h2v-.4h2v.3h2v-1.2h2v1.2h2v-.7h2v-.2h2v.1h2v0h2v.2h2v.1h2v.3h2v.2h2v-.2h2v-.1h2v-.2h2v.5h2v-.2h2v0h2v.1h2v.2h2v-.4h2v0h2v-.8h2v1.1h2v.1h2v-.8h2v.2h2v-.2h2v.7h2v-.3h2v.2h2v-.2h2v.2h2v-1.2h2v.8h2v.5h2v-.8h2v.7h2v.2h2v-.5h2v-.4h2v-.6h2v.3h2v.3h2v-.6h2v1.4h2v0h2v-.3h2v0h2v.4h2v-.3h2v-1.5h2v1.7h2v-.3h2v.2h2v-.2h2v-.3h2v.6h2v-.9h2v1h2v-.1h2v-1h2v1h2v-.6h2v.6h2v-1h2v.6h2v.2h2v.1h2v-.2h2v-.1h2v-.7h2v1.1h2v-.3h2v.4h2v-.7h2v.3h2v0h2v-.6h2v.9h2v-1.4h2v1.5h2v-1.4h2v.9h2v.3h2v-1.2h2v1.3h2v0h2v-.2h2v.1h2v-.2h2v.4h2v-1h2v.6h2v-.6h2v.3h2v.6h2v-.5h2v.6h2v-1.2h2v.4h2v.6h2v-.1h2v.3h2v-.1h2v-.2h2v-.1h2v-.4h2v.8h2v-2.1h2v1.7h2v.3h2v-.4h2v-.3h2v.7h2v0h2v-1.4h2v.5h2v-.2h2v.9h2v.2h2v-.1h2v0h2v-.5h2v.7h2v-.3h2v-.3h2v-.5h2v.5h2v.5h2v-.4h2v-1.2h2v1.3h2v.1h2v.2h2v-.1h2v-1.8h2v1.3h2v-.2h2v.7h2v-1h2v1h2v-.1h2v-1.4h2v1.6h2v-.9h2v.3h2v0h2v.7h2v-.4h2v-1.2h2v1.1h2v0h2v-.2h2v-.3h2v.8h2v-.1h2v-.1h2v.4h2v-.2h2v-.5h2v0h2v-.6h2v.8h2v.1h2v0h2v-1.6h2v1.8h2v-.2h2v.2h2v-.3h2v.1h2v-.3h2v.4h2v-.7h2v.4h2v-.9h2v1.4h2v-.1h2v.2h2v-.9h2v.6h2v.2h2v-.2h2v.3h2v-.4h2v0h2v.2h2v-.2h2v.4h2v-.1h2v-.1h2v-.8h2v.9h2v-.4h2v.3h2v-1.1h2v.2h2v.8h2v.1h2v.2h2v0h2v-.8h2v.6h2v.2h2v-.2h2v-.4h2v.6h2v-.7h2v.6h2v.1h2v-.6h2v-.2h2v.5h2v-.6h2v.8h2v.1h2v-1.3h2v.4h2v-.3h2v.8h2v.1h2v.3h2v-.8h2v.7h2v.1h2v-.3h2v.2h2v-.3h2v.3h2v0h2v-1.4h2v.9h2v.5h2v-.7h2v.8h2v-1h2v-.1h2v.9h2v-.6h2v-.4h2v1.2h2v-.5h2v.1h2v.3h2v-.1h2v-.4h2v-.5h2v.9h2v.2h2v-.3h2v-1.3h2v.7h2v-1.2h2v1.4h2v.1h2v-.5h2v.9h2v0h2v-.5h2v-.1h2v0h2v.2h2v.3h2v-.1h2v-.4h2v.6h2v.2h2v-.3h2v-.4h2v.7h2v-1.4h2v.8h2v.1h2v.3h2v.1h2v-1h2v.9h2v-.8h2v.1h2v-.4h2v.8h2v.5h2v0h2v-.3h2v-.9h2v.5h2v.5h2v-.1h2v.2h2v-.2h2v-.8h2v.5h2v.2h2v.1h2v-.9h2v.1h2v.6h2v0h2v-1h2v1.5h2v-.3h2v-.4h2v-.5h2v.3h2v.7h2v-.1h2v.2h2v-.9h2v1h2v0h2v-.1h2v.1h2v-.3h2v.2h2v-.6h2v.7h2v-.4h2v.2h2v-.2h2v-.3h2v.7h2v-1.2h2v1.2h2v-.5h2v-.1h2v.3h2v-.5h2v.2h2v.4h2v0h2v-.7h2v.8h2v-.7h2v.4h2v.2h2v.1h2v-.1h2v.1h2v-.3h2v-.2h2v.4h2v-.1h2v-.4h2v.1h2v.5h2v-.9h2v.5h2v-.8h2v.7h2v.2h2v-.1h2v-.1h2v.2h2v.1h2v-1h2v1h2v.2h2v-.2h2v.3h2v-.8h2v.3h2v-1.5h2v1.7h2v-.1h2v-1.4h2v1.5h2v0h2v-.1h2v.1h2v0h2v.2h2v-.5h2v.5h2v-.4h2v.4h2v0h2v-1.3h2v1.3h2v-.1h2v-.9h2v.1h2v.5h2v.3h2v.2h2v-.9h2v0h2v.8h2v-.4h2v.4h2v-1.6h2v1.3h2v-1h2v.2h2v1.2h2v-.5h2v.2h2v.3h2v-.1h2v-.4h2v-.3h2v.4h2v.3h2v0h2v-.4h2v-1.1h2v.5h2v1h2v-.3h2v-1.2h2v.7h2v-.1h2v.9h2v-.5h2v-.3h2v.3h2v-.4h2v.6h2v0h2v-.3h2v-.7h2v.4h2v.9h2v.1h2v-.6h2v-.6h2v.2h2v.7h2v-1h2v1.2h2v-.9h2v-.2h2v1.2h2v-.1h2v-1h2v1.1h2v-1.2h2v1.1h2v-1.2h2v1.2h2v-.2h2v-.6h2v.2h2v-.5h2v0h2v.6h2v-.2h2v.6h2v-1.3h2v1.5h2v-.1h2v-.2h2v-.1h2v-1h2v1.3h2v-.5h2v-.1h2v-.3h2v.4h2v-.1h2v-.6h2v1h2v-.1h2v0h2v.1h2v-.7h2v-.5h2v1.3h2v-.2h2v-.2h2v-.2h2v.3h2v-1h2v1.4h2v-.1h2v-.4h2v-1h2v1.2h2v.2h2v-.2h2v.3h2v-.5h2v-.5h2v0h2v-.1h2v1.1h2v-.3h2v-.5h2v.8h2v-.3h2v.2h2v.1h2v-.3h2v-.1h2v0h2v.3h2v-.3h2v.4h2v-.3h2v.4h2v-.5h2v-.4h2v.3h2v-.2h2v.7h2v0h2v-.9h2v.6h2v0h2v-.2h2v.2h2v.3h2v.1h2v-.6h2v-.2h2v.8h2v-1h2v.8h2v-.1h2v-1h2v.8h2v.5h2v-.7h2v.2h2v-.9h2v.4h2v.8h2v-.1h2v.1h2v.1h2v-.1h2v.2h2v-.3h2v.3h2v-.7h2v-.4h2v-.5h2v1.4h2v-1h1v7.6h-1v-.1h-2v.5h-2v-.1h-2v1h-2v-1.5h-2v.2h-2v.3h-2v-.4h-2v.2h-2v-.2h-2v0h-2v-.1h-2v.7h-2v-.5h-2v.3h-2v.9h-2v-1.1h-2v1h-2v.4h-2v-1.4h-2v.3h-2v-.5h-2v0h-2v.4h-2v-.1h-2v-.5h-2v.1h-2v.5h-2v-.6h-2v.6h-2v-.6h-2v1.2h-2v-.6h-2v-.6h-2v.2h-2v.1h-2v-.3h-2v.6h-2v.2h-2v-.4h-2v.5h-2v-.5h-2v.3h-2v-.3h-2v.2h-2v-.5h-2v1.2h-2v.7h-2v-1.7h-2v.3h-2v.2h-2v.2h-2v-.4h-2v-.6h-2v1.3h-2v-1.2h-2v.1h-2v.2h-2v-.2h-2v-.1h-2v.8h-2v-.8h-2v.1h-2v1.4h-2v-.9h-2v-.6h-2v1.5h-2v-1.6h-2v0h-2v0h-2v1.1h-2v-.6h-2v2.1h-2v-1h-2v-1.6h-2v.1h-2v1.4h-2v-1.5h-2v.1h-2v.2h-2v-.3h-2v.8h-2v.1h-2v-.6h-2v.7h-2v-1h-2v.3h-2v.3h-2v-.4h-2v.1h-2v-.2h-2v.5h-2v.2h-2v-.3h-2v-.1h-2v.4h-2v-.8h-2v0h-2v.9h-2v-.7h-2v0h-2v1.3h-2v-1.4h-2v.6h-2v.1h-2v-.7h-2v.3h-2v-.3h-2v0h-2v.3h-2v.9h-2v-.4h-2v-.7h-2v-.2h-2v.1h-2v.1h-2v.6h-2v-.4h-2v1.1h-2v-1.4h-2v.4h-2v-.4h-2v.1h-2v.2h-2v.5h-2v-.7h-2v.6h-2v0h-2v-.1h-2v.3h-2v-.6h-2v-.3h-2v.5h-2v-.2h-2v-.3h-2v.1h-2v.1h-2v-.3h-2v1h-2v-.8h-2v-.2h-2v1h-2v-.9h-2v0h-2v0h-2v.9h-2v-.5h-2v-.3h-2v.1h-2v.1h-2v-.3h-2v1h-2v-.8h-2v-.3h-2v.7h-2v-.5h-2v.3h-2v.6h-2v-1.1h-2v.5h-2v-.2h-2v1.5h-2v-1.1h-2v.1h-2v-.6h-2v1.4h-2v-1.1h-2v0h-2v.1h-2v1h-2v-1.5h-2v0h-2v.2h-2v.2h-2v1h-2v-1.2h-2v.1h-2v-.3h-2v0h-2v.3h-2v-.1h-2v.1h-2v-.1h-2v0h-2v-.1h-2v.2h-2v.8h-2v-1.2h-2v.9h-2v.2h-2v0h-2v-.5h-2v-.6h-2v.2h-2v.3h-2v.8h-2v-.7h-2v-.4h-2v.1h-2v.5h-2v-.4h-2v.7h-2v-1h-2v1h-2v-.7h-2v.5h-2v.5h-2v-.6h-2v-.4h-2v.2h-2v-.4h-2v.4h-2v-.2h-2v.9h-2v-.9h-2v.6h-2v-.8h-2v.7h-2v0h-2v-.4h-2v0h-2v.4h-2v-.3h-2v-.6h-2v.4h-2v-.1h-2v.2h-2v-.1h-2v-.4h-2v.1h-2v.7h-2v-.3h-2v-.1h-2v-.1h-2v.2h-2v0h-2v-.3h-2v.7h-2v.5h-2v-1.4h-2v.5h-2v.4h-2v-.6h-2v.1h-2v0h-2v-.4h-2v0h-2v0h-2v.2h-2v1.1h-2v-1.3h-2v.7h-2v-.6h-2v.4h-2v0h-2v-.1h-2v0h-2v1.2h-2v-.5h-2v-1h-2v.1h-2v0h-2v0h-2v-.2h-2v.1h-2v-.1h-2v1.3h-2v-1h-2v.2h-2v-.3h-2v.5h-2v-.2h-2v.6h-2v-1.1h-2v1.3h-2v-1.2h-2v.8h-2v-.2h-2v-.5h-2v0h-2v.7h-2v-.6h-2v.8h-2v-.8h-2v.1h-2v.7h-2v-.9h-2v-.1h-2v1.5h-2v-1.4h-2v.1h-2v-.3h-2v.8h-2v.7h-2v-.8h-2v-.6h-2v0h-2v.7h-2v-.8h-2v.3h-2v.6h-2v.9h-2v-1.3h-2v-.5h-2v.6h-2v.9h-2v.2h-2v-1.5h-2v0h-2v1.3h-2v-.2h-2v-1.3h-2v.3h-2v.8h-2v-.9h-2v0h-2v0h-2v.1h-2v.1h-2v.1h-2v-.4h-2v.2h-2v-.1h-2v0h-2v.9h-2v-.6h-2v-.5h-2v.4h-2v-.1h-2v0h-2v-.3h-2v.5h-2v-.4h-2v1.3h-2v-1h-2v-.2h-2v1.2h-2v-.2h-2v-1.1h-2v1.7h-2v-1.5h-2v-.3h-2v.1h-2v.9h-2v-.7h-2v.4h-2v-.1h-2v.5h-2v-.8h-2v.3h-2v-.1h-2v.7h-2v-1.2h-2v.1h-2v0h-2v.8h-2v-.8h-2v.1h-2v1.2h-2v-.5h-2v-.9h-2v1.3h-2v-.9h-2v.2h-2v-.4h-2v-.2h-2v.3h-2v.9h-2v-1.2h-2v.5h-2v1h-2v-1.4h-2v0h-2v-.1h-2v1.1h-2v.1h-2v-.6h-2v.7h-2v-1.1h-2v.1h-2v.3h-2v-.5h-2v.3h-2v-.1h-2v-.1h-2v.2h-2v1.4h-2v-.2h-2v-.6h-2v-1h-2v.9h-2v-.5h-2v.9h-2v-1.1h-2v.8h-2v-.9h-2v.2h-2v-.3h-2v1.2h-2v-.5h-2v-.5h-2v1.1h-2v-.7h-2v.1h-2v-.4h-2v.3h-2v-.2h-2v.3h-2v.6h-2v-1.3h-2v.1h-2v.3h-2v-.1h-2v1h-2v-.6h-2v.2h-2v-.9h-2v.1h-2v-.1h-2v.3h-2v1.2h-2v-.8h-2v-.5h-2v.1h-2v-.2h-2v.1h-2v.2h-2v-.1h-2v.5h-2v.9h-2v-1.5h-2v0h-2v.1h-2v-.1h-2v.6h-2v-.3h-2v-.2h-2v-.1h-2v.5h-2v-.6h-2v1.2h-2v-1.1h-2v.1h-2v0h-2v-.1h-2v.1h-2v-.1h-2v0h-2v1.1h-2v.5h-2v-1.7h-2v.2h-2v.2h-2v.7h-2v-1.2h-2v1h-2v.1h-2v-.5h-2v-.6h-2v.5h-2v-.5h-2v1.3h-2v-.7h-2v-.2h-2v-.1h-2v-.2h-2v.6h-2v-.7h-2v.4h-2v0h-2v.5h-2v.2h-2v-.9h-2v-.2h-2v.1h-2v.7h-2v.1h-2v-.7h-2v.6h-2v-.3h-2v-.1h-2v-.4h-2v.5h-2v.4h-2v-.5h-2v-.2h-2v0h-2v.1h-2v.4h-2v-.7h-2v0h-2v1.5h-2v-.8h-2v1.2h-2v-1.8h-2v.8h-2v-.8h-2v.2h-2v.1h-2v-.1h-2v.1h-2v1h-2v-.7h-2v-.6h-2v.5h-2v.4h-2v-.4h-2v-.6h-2v.2h-2v-.2h-2v1.2h-2v.5h-2v-1.4h-2v0h-2v.5h-2v-.7h-2v.4h-2v1h-2v-.6h-2v-.8h-2v.4h-2v0h-2v1.3h-2v-1.6h-2v.2h-2v-.4h-2v.4h-2v-.2h-2v-.2h-2v.6h-2v-.6h-2v.4h-2v-.3h-2v.2h-2v-.2h-2v.1h-2v-.1h-2v.5h-2v1h-2v-1.6h-2v.4h-2v-.3h-2v0h-2v.8h-2v-.4h-2v-.5h-2v.6h-2v-.5h-2v1.2h-2v-.9h-2v-.1h-2v1.2h-2v-1.2h-2v.1h-2v1h-2v-1.2h-2v1.1h-2v-1h-2v.6h-2v.4h-2v-.7h-2v-.6h-2v0h-2v.6h-2v-.2h-2v0h-2v-.4h-2v1.2h-2v-.5h-2v-.1h-2v1.1h-2v-.3h-2v-.5h-2v-.4h-2v.2h-2v-.2h-2v-.5h-2v.1h-2v-.1h-2v1.3h-2v-.6h-2v.6h-2v-.8h-2v-.3h-2v.8h-2v-.6h-2v0h-2v-.2h-2v.3h-2v-.5h-2v.1h-2v.6h-2v-.5h-2v-.2h-2v.1h-2v1.3h-2v-1.3h-2v.1h-2v.2h-2v.3h-2v-.6h-2v1.3h-2v-.6h-2v-.7h-2v1.5h-2v-1h-2v-.5h-2v1.8h-2v-1.2h-2v.3h-2v-.3h-2v-.5h-2v.7h-2v.3h-2v-.8h-2v.2h-2v-.4h-2v0h-2v.2h-2v-.4h-2v.3h-2v.2h-2v-.2h-2v1.5h-2v-1.4h-2v-.3h-2v1.1h-2v-1h-2v.6h-2v-.3h-2v1.1h-2v-1.2h-2v.1h-2v.6h-2v-.8h-2v.3h-2v0h-2v-.5h-2v-.1h-2v0h-2v1.2h-2v-1.2h-2v1.5h-2v-1.1h-2v.1h-2v.5h-2v-.8h-2v.1h-2v1.2h-2v-.9h-2v.1h-2v-.7h-2v0h-2v0h-2v.2h-2v.1h-2v.5h-2v-.8h-2v1.1h-2v.4h-2v-1.3h-2v0h-2v-.1h-2v.1h-2v.6h-2v.1h-2v-.8h-2v.6h-2v-.5h-2v.1h-2v-.2h-2v0h-2v.3h-2v.1h-2v.2h-2v-.1h-2v-.5h-2v.2h-2v-.3h-2v0h-2v.8h-2v.1h-2v-.3h-2v-.5h-2v.6h-2v-.5h-2v.5h-2v-.6h-2v.1h-2v-.2h-2v.3h-2v.2h-2v.6h-2v-1.1h-2v.2h-2v-.1h-2v1.2h-2v-.9h-2v.3h-2v-.3h-2v.3h-2v-.5h-2v0h-2v.7h-2v-.7h-2v0h-2v.6h-2v-.5h-2v.4h-2v-.7h-2v.6h-2v.7h-2v-1.3h-2v1.6h-2v-1h-2v0h-2v-.2h-2v.2h-2v.6h-2v.4h-2v-1.2h-2v.1h-2v.1h-2v0h-2v-.2h-2v.3h-2v.4h-2v-1h-2v.5h-2zM231 786.3h1v0h1v1.2h1v-.2h1v-.6h1v.6h1v0h1v.2h1v-.7h1v.5h1v.3h1v-1.2h1v0h1v.8h1v.1h1v0h1v-.1h1v0h1v-.1h1v-.9h1v1.3h1v-1.4h1v1.4h1v0h1v-.1h1v-1.6h1v1.6h1v-1.3h1v1.2h1v-.2h1v-.4h1v-1.2h1v1.7h1v.1h1v0h1v.3h1v-.6h1v.3h1v0h1v.2h1v-.5h1v-.4h1v0h1v.1h1v.5h1v-.8h1v.9h1v-.7h1v-.2h1v.4h1v.3h1v.2h1v.2h1v0h1v-.3h1v.2h1v.2h1v-.4h1v-.5h1v.6h1v-.1h1v-1.4h1v1.6h1v-.9h1v.3h1v.4h1v-.1h1v-.1h1v.1h1v.4h1v-.9h1v.8h1v-.4h1v-.2h1v-.1h1v.5h1v0h1v0h1v-.2h1v.3h1v-1.4h1v1.3h1v-.2h1v.3h1v.1h1v.2h1v-1.3h1v-1.4h1v1.8h1v.6h1v-.4h1v0h1v-.3h1v.4h1v.4h1v-1.1h1v.1h1v1h1v.2h1v-.6h1v-.5h1v1.6h2v-.5h2v0h2v1.1h2v0h2v.2h2v-.6h2v-.7h2v.9h2v-1.5h2v1.5h2v.1h2v-.3h2v.7h2v-.1h2v-1.1h2v0h2v1.1h2v-.7h2v.2h2v.2h2v.2h2v-.4h2v-.3h2v.5h2v-2.1h2v2.4h2v-.4h2v0h2v-.2h2v-.2h2v.7h2v0h2v-.6h2v0h2v-1h2v1.2h2v.4h2v-.2h2v-.6h2v.8h2v-.3h2v-.2h2v.2h2v-.6h2v.7h2v0h2v-.3h2v.1h2v.4h2v-.6h2v-.6h2v.8h2v-.1h2v.4h2v-.1h2v.1h2v.1h2v-.2h2v.1h2v.2h2v-1h2v.9h2v-.5h2v-1h2v.6h2v.9h2v-.5h2v.5h2v.1h2v-.5h2v-.3h2v-1.1h2v1.9h2v-.9h2v.1h2v.1h2v.4h2v.3h2v-.1h2v-.5h2v.2h2v-.5h2v-.2h2v-.1h2v.8h2v-.3h2v.6h2v-.1h2v.2h2v-.2h2v-2h2v2.1h2v0h2v0h2v-.7h2v0h2v-.2h2v-.2h2v1.1h2v-.3h2v.1h2v-.1h2v.2h2v-.3h2v.5h2v-1.1h2v.7h2v.2h2v-.1h2v.2h2v-.7h2v.4h2v-.7h2v1h2v-1.2h2v1.3h2v-.2h2v-.3h2v.3h2v-.1h2v-.3h2v0h2v-.8h2v1.4h2v-.4h2v-.2h2v-.1h2v0h2v.4h2v.1h2v.2h2v-.3h2v.2h2v-.4h2v-.2h2v-.5h2v.8h2v-1.4h2v1.7h2v-.7h2v.6h2v-1.2h2v.8h2v.6h2v-.5h2v.4h2v.1h2v-1h2v.8h2v-.5h2v-.2h2v.6h2v-.2h2v.2h2v.2h2v-.2h2v-.1h2v.1h2v.1h2v.1h2v-.5h2v.5h2v-.5h2v.1h2v.2h2v-.5h2v-.1h2v.7h2v.2h2v-.9h2v.3h2v.3h2v-1.2h2v1.4h2v-.2h2v-.4h2v.6h2v.1h2v-1.1h2v.7h2v-1h2v1.4h2v-1.2h2v.6h2v.2h2v-.2h2v.2h2v-.2h2v-.3h2v-.2h2v1.1h2v-.6h2v.6h2v-.4h2v.4h2v-.2h2v0h2v0h2v.1h2v-1h2v.1h2v.5h2v-.8h2v1h2v-1.4h2v.4h2v1.2h2v.1h2v-.3h2v0h2v-.9h2v1h2v-2h2v.7h2v1.5h2v-1.5h2v1h2v.4h2v-.2h2v-.1h2v-.8h2v.6h2v.1h2v.6h2v-1h2v.9h2v-.4h2v-.7h2v1.1h2v-.1h2v-.5h2v-.1h2v.7h2v-.5h2v-1.3h2v.7h2v1.1h2v-.5h2v.2h2v-1.5h2v1.3h2v.5h2v0h2v-.6h2v-.3h2v.8h2v-.2h2v-.4h2v-.7h2v.3h2v.8h2v-1.1h2v.5h2v.2h2v.3h2v-.2h2v.4h2v-.7h2v-.4h2v1.3h2v-1h2v.8h2v.1h2v-.3h2v-.3h2v.4h2v0h2v.3h2v-.4h2v-.6h2v1h2v0h2v-.3h2v.3h2v-.7h2v0h2v-1.1h2v1.6h2v-.4h2v.3h2v-.5h2v.6h2v.2h2v-.4h2v.4h2v-.6h2v.6h2v-.1h2v0h2v.1h2v-.1h2v-.7h2v.2h2v.1h2v.4h2v-1.9h2v.5h2v1.2h2v-.3h2v.4h2v-1h2v.9h2v-1.3h2v.9h2v.6h2v-.3h2v.1h2v-.8h2v.3h2v.6h2v-.9h2v.9h2v0h2v.1h2v.1h2v-1.5h2v.7h2v.8h2v-.6h2v.6h2v-1.6h2v1.1h2v-.2h2v.7h2v-.3h2v.2h2v0h2v-.4h2v-.7h2v1h2v.2h2v-.7h2v.2h2v.2h2v-.5h2v.1h2v.3h2v0h2v-.3h2v-.2h2v.7h2v-.8h2v.2h2v.5h2v.3h2v-.8h2v-.2h2v.5h2v.3h2v-1h2v1h2v-.2h2v.3h2v-.4h2v.4h2v-.3h2v0h2v-1.2h2v1.6h2v-.9h2v.3h2v-.2h2v.5h2v-.5h2v-.7h2v1.3h2v-.1h2v-1.1h2v1.2h2v-.4h2v.1h2v.3h2v0h2v-.2h2v.1h2v.1h2v-.3h2v.5h2v-.1h2v.1h2v-.1h2v-.1h2v-1.3h2v.1h2v1.3h2v-2.3h2v2.2h2v.3h2v-.9h2v.7h2v.1h2v-.4h2v.1h2v0h2v.1h2v.2h2v-.6h2v-.1h2v0h2v.6h2v-.2h2v-.8h2v1.1h2v0h2v-.8h2v.6h2v-.4h2v-.2h2v0h2v0h2v.2h2v.3h2v.1h2v-1.4h2v.1h2v.5h2v.7h2v.3h2v-.6h2v.5h2v-.2h2v-.4h2v-.1h2v-.2h2v.9h2v.2h2v-.3h2v-1h2v1h2v-1.5h2v.9h2v.7h2v0h2v-.5h2v0h2v.3h2v.3h2v-.3h2v0h2v.2h2v0h2v-.5h2v.7h2v-.2h2v-.6h2v.5h2v.1h2v-1.2h2v1.4h2v-.2h2v-.3h2v0h2v.1h2v-.9h2v.5h2v.5h2v-.6h2v.1h2v0h2v-.1h2v.8h2v-.6h2v.6h2v-.4h2v.4h2v-.1h2v-.6h2v.5h2v-1.2h2v1h2v-.5h2v.1h2v.7h2v-.6h2v-.2h2v.2h2v0h2v.6h2v-.7h2v.5h2v.4h2v-.9h2v-.1h2v.6h2v.3h2v-.4h2v-.4h2v.1h2v-.1h2v-.3h2v1.1h2v-.1h2v-.2h2v.3h2v0h2v-.5h2v.3h2v.2h2v-.2h2v-.5h2v.1h2v-.5h2v.4h2v.7h2v-.5h2v-.4h2v.3h2v-.2h2v.3h2v.4h2v-.7h2v.8h2v-.6h2v.5h2v-.2h2v.1h2v-1.3h2v.4h2v.7h2v.4h2v-.5h2v.2h2v.3h2v-1.4h2v1.3h2v-.4h2v-1.4h2v1.7h2v-.7h2v.4h2v-.3h2v.7h2v-1h2v-.8h2v1.4h2v.4h2v.1h2v-.3h2v0h2v-.8h2v1h2v-.4h2v.2h2v0h2v-.8h2v1.1h2v-.1h2v-.2h2v-.3h2v0h2v-.6h2v1.2h2v-1.2h2v-.2h2v.8h2v-.8h2v.7h2v.7h2v-.1h2v-.1h2v.2h2v0h2v-.1h2v-1h2v1.1h2v-.5h2v.1h2v-.3h2v-.6h2v1.2h2v0h2v-.6h2v.3h2v-.4h2v.4h2v-.2h2v.5h2v0h2v-.4h2v.5h2v-.2h2v-.8h2v.3h2v-.4h2v0h2v1h2v-.6h2v.1h2v.5h2v.1h2v.1h2v-2.1h2v1.8h2v-1h2v.8h2v-.3h2v.1h2v.4h2v-.2h2v-.2h2v-.7h2v.4h2v.3h2v.2h2v.4h2v.1h2v-.7h2v.4h2v-.5h2v.7h2v-.4h2v-.1h2v.5h2v-.5h2v-.5h2v1h2v-1.4h2v1.3h2v-1.1h2v.6h2v-.3h2v.7h2v.1h2v-.5h2v-.7h2v1h2v.3h2v-.6h2v.4h2v-.3h2v.4h2v.1h2v-.1h2v-.6h2v-1h2v.4h2v1.2h2v-.7h2v.8h2v-.8h2v.6h2v-.1h2v.3h2v-.2h2v-.5h2v.5h2v-.1h2v.3h2v0h2v-.4h2v-.1h2v.5h2v-.1h2v.1h2v-.7h2v.6h2v-.9h2v.9h2v.1h2v-.1h2v-.2h2v-.2h2v.3h2v-1h2v0h2v.7h2v.4h2v-.2h2v-.7h2v-.3h2v1h2v-.4h2v.7h2v-.2h2v-.7h2v.8h2v.2h2v-.2h2v6.6h-2v.5h-2v-.6h-2v0h-2v.1h-2v0h-2v-.4h-2v.4h-2v1.4h-2v-1.7h-2v.4h-2v-.5h-2v1.1h-2v-.7h-2v.7h-2v-.8h-2v.4h-2v.6h-2v-1.2h-2v.5h-2v-.2h-2v.2h-2v0h-2v-.3h-2v.2h-2v.1h-2v-.6h-2v.5h-2v0h-2v.2h-2v-.6h-2v.9h-2v-.3h-2v.3h-2v.2h-2v-.5h-2v-.6h-2v.6h-2v0h-2v.2h-2v-.8h-2v0h-2v.6h-2v-.3h-2v0h-2v-.4h-2v1.5h-2v-1.2h-2v0h-2v0h-2v1.1h-2v-.8h-2v.6h-2v-.9h-2v.1h-2v.3h-2v.4h-2v-.5h-2v-.5h-2v.8h-2v-.8h-2v-.1h-2v0h-2v2.1h-2v-1.8h-2v1h-2v-.4h-2v-.9h-2v0h-2v2h-2v-1.1h-2v.7h-2v-1.6h-2v.4h-2v.2h-2v.2h-2v.7h-2v-.6h-2v.2h-2v-1h-2v0h-2v0h-2v.5h-2v-.3h-2v.3h-2v-.3h-2v1.2h-2v-1.2h-2v0h-2v.4h-2v.1h-2v.3h-2v-.2h-2v0h-2v.1h-2v-.4h-2v.1h-2v-.1h-2v1h-2v-1.6h-2v.2h-2v-.2h-2v1.5h-2v-.6h-2v-.7h-2v.6h-2v-.5h-2v-.2h-2v.3h-2v.7h-2v-.9h-2v.9h-2v-.5h-2v-.6h-2v1.2h-2v-.9h-2v1.4h-2v-1.1h-2v.1h-2v1.1h-2v-1.6h-2v.8h-2v-.9h-2v.6h-2v-.4h-2v0h-2v-.1h-2v-.1h-2v.6h-2v-.4h-2v-.1h-2v.2h-2v.1h-2v-.1h-2v0h-2v.3h-2v-.3h-2v.6h-2v-.8h-2v.6h-2v-.7h-2v0h-2v.6h-2v-.2h-2v-.3h-2v.5h-2v1.2h-2v-1.1h-2v-.6h-2v1.1h-2v-1h-2v1.4h-2v-1.7h-2v1.3h-2v-.9h-2v.2h-2v.3h-2v-.2h-2v-.2h-2v.3h-2v-.3h-2v-.4h-2v.9h-2v-.9h-2v0h-2v-.1h-2v.1h-2v.1h-2v.1h-2v.3h-2v.1h-2v-.1h-2v-.4h-2v.1h-2v.5h-2v-.5h-2v.1h-2v1.5h-2v-1.6h-2v.6h-2v.4h-2v-.5h-2v0h-2v-.1h-2v.7h-2v-1.2h-2v.9h-2v-1h-2v.3h-2v0h-2v1.3h-2v-1.3h-2v.1h-2v-.4h-2v0h-2v.4h-2v0h-2v.3h-2v.4h-2v-.1h-2v-.4h-2v.4h-2v1.4h-2v-2.2h-2v.8h-2v.8h-2v-1.8h-2v1h-2v-.5h-2v.9h-2v0h-2v-.9h-2v-.4h-2v0h-2v-.1h-2v1.3h-2v-1.3h-2v.1h-2v-.2h-2v0h-2v.7h-2v.4h-2v-1h-2v1.2h-2v-.9h-2v-.2h-2v-.1h-2v.9h-2v.1h-2v-.9h-2v.3h-2v-.2h-2v.8h-2v-.4h-2v.6h-2v-1h-2v-.2h-2v.1h-2v.3h-2v.8h-2v-1.1h-2v-.1h-2v.9h-2v-.8h-2v.4h-2v-.5h-2v.7h-2v.4h-2v0h-2v-.4h-2v-.1h-2v-.1h-2v-.3h-2v0h-2v.4h-2v-.2h-2v-.4h-2v.4h-2v-.5h-2v.8h-2v.8h-2v-1h-2v1.2h-2v-1.4h-2v.4h-2v-.3h-2v.9h-2v-1.4h-2v.7h-2v.6h-2v-.8h-2v-.3h-2v0h-2v.5h-2v-.3h-2v.1h-2v-.1h-2v0h-2v.4h-2v0h-2v.1h-2v-.4h-2v-.3h-2v-.1h-2v.2h-2v0h-2v.4h-2v-.4h-2v.4h-2v-.4h-2v.6h-2v-.7h-2v1h-2v-1h-2v1.2h-2v-1.3h-2v.1h-2v.6h-2v-.3h-2v-.2h-2v1.6h-2v-.3h-2v-.9h-2v.1h-2v-.6h-2v1.7h-2v-1.6h-2v.1h-2v-.1h-2v.7h-2v-.9h-2v1.1h-2v-.7h-2v-.3h-2v.1h-2v.2h-2v-.5h-2v.5h-2v.4h-2v-.8h-2v1h-2v-.8h-2v.5h-2v-.7h-2v.4h-2v-.4h-2v.6h-2v1.7h-2v-1.9h-2v-.4h-2v1.2h-2v-.7h-2v0h-2v.4h-2v-.7h-2v.4h-2v-.2h-2v.3h-2v-.5h-2v-.2h-2v0h-2v.4h-2v-.5h-2v.7h-2v-.5h-2v.2h-2v-.4h-2v.7h-2v-.4h-2v.2h-2v-.2h-2v-.2h-2v1.8h-2v-1.7h-2v.5h-2v-.5h-2v1.3h-2v-1.3h-2v0h-2v.2h-2v.6h-2v-1h-2v.3h-2v.1h-2v.1h-2v-.3h-2v.6h-2v-.6h-2v-.2h-2v.7h-2v.1h-2v1.3h-2v-1.9h-2v.5h-2v-.1h-2v.9h-2v-.6h-2v-.8h-2v1.3h-2v-.8h-2v.2h-2v-.6h-2v.4h-2v-.2h-2v-.3h-2v.5h-2v-.6h-2v.6h-2v-.3h-2v.5h-2v-.4h-2v-.3h-2v.2h-2v.6h-2v.3h-2v-.8h-2v-.2h-2v.8h-2v.3h-2v-1.2h-2v.7h-2v-.8h-2v.5h-2v.4h-2v-.9h-2v.6h-2v.5h-2v-.7h-2v-.3h-2v1.1h-2v-.6h-2v-.4h-2v.4h-2v.6h-2v-.4h-2v-.3h-2v.3h-2v0h-2v.6h-2v-1h-2v-.4h-2v.4h-2v.2h-2v-.2h-2v-.4h-2v.8h-2v-.7h-2v0h-2v0h-2v1.2h-2v-1.2h-2v.8h-2v-.3h-2v0h-2v.2h-2v-.4h-2v-.2h-2v.2h-2v-.2h-2v-.2h-2v.1h-2v0h-2v.1h-2v0h-2v.4h-2v-.3h-2v-.2h-2v.2h-2v-.1h-2v1.1h-2v-.5h-2v-.8h-2v.6h-2v-.2h-2v0h-2v-.3h-2v.3h-2v-.4h-2v.2h-2v1.8h-2v-1.3h-2v.3h-2v-.4h-2v.1h-2v-.1h-2v-.4h-2v-.1h-2v0h-2v.9h-2v-.6h-2v-.1h-2v.7h-2v-.3h-2v-.7h-2v.8h-2v-.7h-2v.8h-2v-.1h-2v-.1h-2v-.1h-2v-.2h-2v.3h-2v-.4h-2v.1h-2v.1h-2v1h-2v.6h-2v-.8h-2v.7h-2v-1.3h-2v-.5h-2v1.3h-2v-1.3h-2v0h-2v-.1h-2v.7h-2v.2h-2v-.9h-2v0h-2v-.1h-2v.1h-2v.9h-2v.3h-2v-.8h-2v.8h-2v-.7h-2v-.2h-2v-.4h-2v.5h-2v.7h-2v.4h-2v-1.1h-2v2h-2v-1.8h-2v-.5h-2v.1h-2v0h-2v-.2h-2v.1h-2v0h-2v.1h-2v-.1h-2v1.3h-2v-.9h-2v-.3h-2v-.1h-2v.4h-2v-.5h-2v.2h-2v-.1h-2v.6h-2v-.7h-2v1.2h-2v-1.1h-2v.1h-2v0h-2v.7h-2v-.7h-2v-.3h-2v.2h-2v-.1h-2v.4h-2v.4h-2v-.3h-2v0h-2v0h-2v-.3h-2v.4h-2v0h-2v.3h-2v-.5h-2v.1h-2v-.4h-2v.4h-2v-.6h-2v0h-2v.2h-2v.1h-2v1.3h-2v-1.5h-2v0h-2v.6h-2v.2h-2v-.7h-2v-.1h-2v0h-2v1.1h-2v-.7h-2v-.5h-2v.7h-2v-.6h-2v1.2h-2v-1.3h-2v.8h-2v.5h-2v-.9h-2v.4h-2v-.6h-2v.2h-2v.8h-2v-.7h-2v.2h-2v.1h-2v-.4h-2v-.3h-2v0h-2v-.1h-2v.5h-2v-.1h-2v-.1h-2v.4h-2v.1h-2v-.4h-2v1.3h-2v-1.1h-2v-.3h-2v-.1h-2v0h-2v.1h-2v.3h-2v-.5h-2v0h-2v-.1h-2v.2h-2v.1h-2v.8h-2v-.8h-2v.9h-2v.5h-2v-1.3h-2v.1h-2v.6h-2v-.3h-2v.5h-2v-.7h-2v.1h-2v-.1h-2v-.3h-2v.1h-2v-.4h-2v.6h-2v-.3h-2v.9h-2v-.9h-2v0h-2v.1h-2v-.4h-2v.5h-2v.1h-2v-.5h-2v.9h-2v-.7h-2v-.2h-2v.2h-2v.8h-2v0h-2v-.2h-2v-.4h-2v-.3h-2v0h-2v-.2h-2v1.2h-2v-1.1h-2v.4h-2v-.2h-2v.3h-2v-.4h-2v-.2h-2v.7h-2v.2h-2v-.8h-2v.5h-2v.3h-2v-.5h-2v1h-2v-1.3h-2v.4h-2v.5h-2v-1h-2v.1h-2v1h-2v-.5h-2v.6h-2v-1.1h-2v.9h-2v-.9h-2v.1h-2v.4h-2v-.1h-2v1.1h-2v-.9h-2v0h-2v0h-2v.6h-2v-.7h-2v.7h-2v-1h-2v-.1h-2v1.7h-2v-.7h-1v2.2h-1v-1.8h-1v1.1h-1v-.3h-1v-1h-1v.4h-1v.2h-1v-.5h-1v.5h-1v1.4h-1v-1.5h-1v.3h-1v-.2h-1v-.2h-1v.4h-1v-.6h-1v.1h-1v0h-1v.4h-1v-.5h-1v-.2h-1v.1h-1v.3h-1v.8h-1v1.1h-1v-1.7h-1v-.2h-1v-.2h-1v.1h-1v-.3h-1v1.4h-1v-1h-1v.3h-1v-.7h-1v.1h-1v.7h-1v-.7h-1v.2h-1v.7h-1v-.9h-1v-.1h-1v.3h-1v0h-1v0h-1v-.1h-1v.8h-1v-.7h-1v0h-1v.1h-1v1.2h-1v-.9h-1v-.3h-1v-.4h-1v.7h-1v-.2h-1v-.3h-1v-.2h-1v1.1h-1v-.4h-1v-.4h-1v.3h-1v.1h-1v.3h-1v-.3h-1v-.3h-1v.1h-1v-.5h-1v.3h-1v.2h-1v-.3h-1v.5h-1v-.6h-1v.2h-1v.2h-1v-.1h-1v-.2h-1v.3h-1v-.3h-1v.3h-1v.2h-1v-.5h-1v.8h-1v-.1h-1v-.8h-1v-.1h-1v.6h-1v.6h-1v-.4h-1v-.5h-1v1.1h-1v-.7h-1v-.4h-1v.1h-1v.3h-1v0h-1v.9h-1v-1h-1v.1h-1v.2h-1v-.9h-1zM231 906.7h2v-.3h2v-.8h2v1h2v-.1h2v-.8h2v1h2v-1.6h2v1.1h2v.4h2v.1h2v-.2h2v-.5h2v.6h2v-.9h2v.1h2v1h2v-1.2h2v-.4h2v1.7h2v-1.2h2v1.1h2v-.3h2v.1h2v0h2v0h2v-.1h2v.2h2v-.1h2v-.4h2v.3h2v-.1h2v.5h2v-.1h2v-.7h2v-.4h2v.9h2v.1h2v-.7h2v.9h2v-.5h2v-1.3h2v1.6h2v.2h2v-.2h2v0h2v-.9h2v.3h2v.3h2v.1h2v0h2v-.7h2v.9h2v-1.8h2v1.8h2v-.3h2v-.5h2v.3h2v.4h2v-.3h2v.3h2v-.2h2v-.3h2v.3h2v-.5h2v.9h2v-1.4h2v1.1h2v.2h2v-.2h2v-.2h2v.5h2v-.3h2v-.4h2v.6h2v-.1h2v-1.1h2v.8h2v.5h2v-.9h2v.9h2v-.5h2v.6h2v-.1h2v-.2h2v-.5h2v.4h2v0h2v-1.1h2v1.1h2v-.8h2v.7h2v-.2h2v-.3h2v1h2v-.6h2v.5h2v-.3h2v-.9h2v.1h2v0h2v.8h2v-1.2h2v1.3h2v-.8h2v.8h2v-.2h2v.3h2v-.2h2v-.1h2v-.3h2v-.2h2v.9h2v-.7h2v.2h2v0h2v-.1h2v-.3h2v.9h2v-.1h2v-.8h2v-.4h2v1.3h2v-.4h2v.5h2v-.6h2v.5h2v.1h2v-.4h2v-1.2h2v1.2h2v-1h2v.9h2v.4h2v-1.1h2v1h2v-1.2h2v1.2h2v-.1h2v-.7h2v.9h2v-.4h2v-.4h2v.3h2v-.1h2v.6h2v-.3h2v.1h2v.2h2v-.3h2v.3h2v-.1h2v0h2v-.2h2v-.6h2v.6h2v.2h2v-.9h2v.7h2v-.1h2v.3h2v-.5h2v.6h2v-.7h2v.4h2v0h2v.1h2v-1.1h2v1.2h2v0h2v0h2v.1h2v-.6h2v.3h2v-.5h2v.3h2v.3h2v.2h2v-.1h2v-.8h2v.9h2v-1.1h2v.5h2v.4h2v-.7h2v.9h2v-.2h2v.2h2v-1.4h2v1.2h2v-.8h2v.3h2v.4h2v-.5h2v.6h2v.2h2v-.1h2v-.6h2v0h2v.6h2v.1h2v.1h2v-.3h2v-.1h2v.3h2v-.7h2v.5h2v-1.2h2v.5h2v.7h2v-.5h2v.5h2v-.4h2v-.6h2v-.1h2v.1h2v1.2h2v0h2v-.1h2v-.5h2v.7h2v-1.2h2v.4h2v-.3h2v.5h2v.2h2v.3h2v-.6h2v-.2h2v.8h2v-.1h2v0h2v-.2h2v-.3h2v-1.2h2v1.2h2v.2h2v-.3h2v.1h2v.1h2v-.1h2v.3h2v.1h2v0h2v-.8h2v.1h2v.8h2v.1h2v-2h2v1h2v.5h2v-.7h2v.7h2v0h2v-.7h2v1h2v-.1h2v-.9h2v1.3h2v-.3h2v.2h2v-.5h2v-.5h2v.5h2v-.4h2v.1h2v.7h2v-.3h2v.1h2v.3h2v-1.4h2v.3h2v.4h2v.5h2v-.2h2v-.2h2v0h2v.4h2v-.2h2v.2h2v-.5h2v-.1h2v.9h2v-.7h2v.2h2v.5h2v-.5h2v0h2v.3h2v-.3h2v-.5h2v.4h2v-.3h2v.7h2v-.3h2v-.1h2v-.2h2v-.1h2v.3h2v.5h2v-.7h2v.4h2v-.4h2v.5h2v-.9h2v.3h2v-.2h2v.9h2v.1h2v.1h2v-.4h2v.2h2v-.1h2v.1h2v-.3h2v.3h2v-1.1h2v.4h2v0h2v-.3h2v1.1h2v-.7h2v.3h2v.4h2v-.2h2v-1.2h2v1.2h2v.1h2v-.4h2v.3h2v.3h2v0h2v-.2h2v-.3h2v.4h2v-.1h2v.1h2v.1h2v-.1h2v-1.3h2v.7h2v.7h2v-1.2h2v1h2v-.8h2v.5h2v-.1h2v.2h2v0h2v-1h2v.3h2v.5h2v-.8h2v1.3h2v-.6h2v-.2h2v.4h2v.1h2v-.8h2v.4h2v.5h2v-.7h2v.1h2v.2h2v-.1h2v.5h2v-1h2v.3h2v-.2h2v.1h2v.9h2v-.4h2v-1.3h2v1.8h2v-.7h2v-.1h2v-.1h2v.8h2v.2h2v-.7h2v-.4h2v-.4h2v1h2v0h2v.1h2v-.3h2v.1h2v-1.6h2v1.6h2v.6h2v-.1h2v-1.7h2v1h2v-.9h2v1.5h2v0h2v.1h2v-.3h2v-.3h2v.7h2v0h2v-.1h2v-.3h2v.3h2v-1h2v-.2h2v.6h2v.3h2v.3h2v-1.1h2v-.3h2v-.1h2v1.6h2v-.2h2v-.6h2v.7h2v-.2h2v.3h2v-.6h2v0h2v0h2v.5h2v-.8h2v.2h2v.1h2v.3h2v-.3h2v-1h2v1h2v-.2h2v.7h2v-.7h2v.6h2v-.3h2v.4h2v0h2v-1.6h2v.7h2v.5h2v-.9h2v.3h2v1h2v-.4h2v.4h2v-.2h2v.1h2v.1h2v-.2h2v-.9h2v.9h2v0h2v.2h2v-1.1h2v-.1h2v.8h2v-.3h2v.8h2v-.1h2v-.7h2v.6h2v.1h2v-.3h2v-.2h2v.4h2v.1h2v-1.2h2v.8h2v.5h2v-.5h2v-.3h2v.7h2v-2h2v1.6h2v.2h2v.2h2v-.2h2v.2h2v-.3h2v.3h2v-.5h2v.6h2v-.7h2v-1.4h2v1.8h2v-.2h2v-.4h2v.8h2v-.3h2v.1h2v-.3h2v.2h2v-.4h2v.7h2v-.6h2v.1h2v0h2v-.1h2v-.2h2v.1h2v0h2v.7h2v-.8h2v.8h2v-1.3h2v1.2h2v-.1h2v.2h2v.1h2v-.8h2v.4h2v0h2v.3h2v-1.3h2v1.1h2v.1h2v-.2h2v.2h2v.1h2v0h2v-1.5h2v1.6h2v-.4h2v.1h2v-.9h2v.6h2v-.3h2v-1.4h2v2.3h2v-.8h2v.1h2v.2h2v-1.4h2v-.6h2v2.3h2v-.3h2v.2h2v.1h2v-.1h2v-.7h2v.2h2v.5h2v-.2h2v-.8h2v.9h2v.2h2v0h2v-.2h2v0h2v.3h2v0h2v-.3h2v-.3h2v-.4h2v.9h2v-.2h2v.1h2v0h2v0h2v-.4h2v-.2h2v.8h2v-1.1h2v1h2v-1h2v.3h2v.7h2v-.2h2v-.8h2v.3h2v.5h2v0h2v-.7h2v1h2v0h2v-.3h2v.2h2v-1.3h2v.3h2v.8h2v.3h2v-.2h2v-.5h2v.8h2v-.8h2v.4h2v-.9h2v.7h2v.2h2v.2h2v-.8h2v1h2v-.8h2v-.7h2v1.1h2v-.3h2v-.7h2v1.1h2v.2h2v-1.1h2v1h2v.1h2v-1.7h2v1.4h2v.2h2v.2h2v-1.3h2v1.1h2v-1.4h2v.7h2v.8h2v-.5h2v.3h2v.1h2v0h2v.2h2v-.7h2v.4h2v.3h2v-.6h2v-.3h2v.5h2v-.4h2v.5h2v-.2h2v-.4h2v-.1h2v.7h2v-.8h2v.7h2v-1.4h2v.9h2v.6h2v-.5h2v-.6h2v1.4h2v-1.1h2v.8h2v-.2h2v.2h2v0h2v-.3h2v-.1h2v.3h2v-.1h2v.4h2v-.4h2v-.1h2v.4h2v-.3h2v.5h2v-.1h2v-.5h2v-.2h2v.7h2v-.2h2v-.3h2v-.7h2v.2h2v1h2v.1h2v-2h2v1.8h2v-.4h2v-.6h2v1.1h2v-.3h2v.1h2v-.5h2v.8h2v-.4h2v.1h2v-.3h2v-.1h2v.3h2v.2h2v0h2v-1.5h2v1.6h2v-1h2v.6h2v-.2h2v-.3h2v-.6h2v.4h2v-.2h2v1.1h2v.3h2v-.1h2v.1h2v-.9h2v.7h2v-1h2v.3h2v.4h2v-1.2h2v1.4h2v-.2h2v.5h2v-.7h2v-.1h2v.7h2v-.3h2v-1.9h2v1.4h2v.7h2v-.1h2v-.2h2v0h2v-.3h2v.6h2v-.4h2v.5h2v-.3h2v-.6h2v.1h2v.1h2v0h2v.5h2v-.3h2v-.1h2v.1h2v.2h2v-1h2v-.6h2v1.7h2v0h2v-.8h2v.4h2v.3h2v-.2h1v6.8h-1v.2h-2v.7h-2v-.7h-2v-.1h-2v.2h-2v-.5h-2v.2h-2v-.1h-2v.2h-2v-.3h-2v.1h-2v0h-2v.1h-2v.7h-2v-.2h-2v-.2h-2v-.1h-2v.2h-2v.5h-2v-1h-2v.2h-2v.2h-2v-.5h-2v.1h-2v.4h-2v-.4h-2v0h-2v.7h-2v.4h-2v-.7h-2v-.4h-2v.5h-2v.7h-2v-1.3h-2v.2h-2v1.1h-2v-.3h-2v.5h-2v-.9h-2v.2h-2v-.1h-2v-.4h-2v1.8h-2v-1h-2v.3h-2v.1h-2v-1.3h-2v.4h-2v-.5h-2v.7h-2v-.6h-2v.3h-2v.5h-2v-.7h-2v.3h-2v-.3h-2v.9h-2v.3h-2v-1.3h-2v-.1h-2v0h-2v0h-2v.2h-2v.2h-2v-.2h-2v.5h-2v.4h-2v-.1h-2v-.9h-2v0h-2v.5h-2v.3h-2v-1h-2v.3h-2v.4h-2v.5h-2v.2h-2v-.8h-2v.4h-2v-.6h-2v-.3h-2v.1h-2v.4h-2v.1h-2v-.3h-2v.1h-2v-.2h-2v1h-2v-.9h-2v.3h-2v-.3h-2v.1h-2v.1h-2v-.4h-2v-.1h-2v0h-2v.1h-2v-.1h-2v0h-2v.5h-2v.3h-2v-.8h-2v.7h-2v.6h-2v-1h-2v0h-2v-.3h-2v0h-2v.1h-2v.4h-2v.6h-2v-.4h-2v-.7h-2v.8h-2v-.5h-2v-.1h-2v.1h-2v.8h-2v-.4h-2v-.2h-2v.2h-2v-.5h-2v.6h-2v-.7h-2v.1h-2v.2h-2v-.2h-2v1.1h-2v-1.2h-2v.3h-2v.3h-2v-.8h-2v.2h-2v-.1h-2v.5h-2v0h-2v.4h-2v-.3h-2v.4h-2v.9h-2v-.8h-2v-.7h-2v.4h-2v-.8h-2v.5h-2v.1h-2v-.4h-2v.6h-2v-.3h-2v.4h-2v.1h-2v-1h-2v.7h-2v-.1h-2v-.5h-2v.5h-2v.3h-2v-.8h-2v1.1h-2v-.9h-2v0h-2v-.1h-2v1.2h-2v-1.1h-2v0h-2v-.3h-2v1.6h-2v-1.3h-2v1h-2v.2h-2v-1.3h-2v.7h-2v-.8h-2v.3h-2v-.2h-2v1.4h-2v-1.6h-2v.2h-2v.1h-2v.1h-2v-.3h-2v-.1h-2v1.8h-2v-.3h-2v-1.2h-2v0h-2v-.1h-2v.7h-2v-.1h-2v1.2h-2v-1.8h-2v.3h-2v-.5h-2v1.1h-2v-.3h-2v.4h-2v-.9h-2v0h-2v1.2h-2v-1.5h-2v.5h-2v-.3h-2v-.2h-2v.4h-2v-.1h-2v-.4h-2v1.2h-2v.1h-2v-1.1h-2v1.3h-2v-.4h-2v-.1h-2v-.4h-2v-.2h-2v.5h-2v-.3h-2v.4h-2v.1h-2v.1h-2v.1h-2v-1.2h-2v.6h-2v.7h-2v-.7h-2v-.2h-2v0h-2v.3h-2v-.1h-2v-.5h-2v.3h-2v.1h-2v.5h-2v-.7h-2v1.1h-2v-1.4h-2v.2h-2v1.1h-2v-1.3h-2v0h-2v.1h-2v.8h-2v-.9h-2v.5h-2v-.5h-2v1.6h-2v-1.4h-2v.7h-2v-.7h-2v-.1h-2v.4h-2v-.4h-2v.1h-2v.3h-2v-.5h-2v.7h-2v-.5h-2v.1h-2v-.3h-2v.5h-2v.2h-2v.8h-2v-.7h-2v-.6h-2v.1h-2v-.3h-2v.8h-2v-.7h-2v.3h-2v1.5h-2v-1.9h-2v.1h-2v.3h-2v.3h-2v.1h-2v-.6h-2v1.4h-2v-.8h-2v-.5h-2v0h-2v-.2h-2v.4h-2v-.4h-2v.7h-2v-.6h-2v-.2h-2v.8h-2v-.8h-2v0h-2v.8h-2v1.2h-2v-1.4h-2v-.3h-2v-.3h-2v0h-2v.2h-2v.4h-2v-.5h-2v.6h-2v.1h-2v-.2h-2v-.2h-2v-.1h-2v0h-2v.2h-2v-.4h-2v.2h-2v.1h-2v.4h-2v.2h-2v-1h-2v0h-2v.1h-2v.1h-2v-.1h-2v-.1h-2v.1h-2v.4h-2v-.4h-2v0h-2v.3h-2v-.2h-2v.5h-2v-.6h-2v.2h-2v.2h-2v-.1h-2v-.4h-2v.7h-2v-.6h-2v.5h-2v-.4h-2v-.1h-2v.4h-2v-.3h-2v1.3h-2v-1.5h-2v.5h-2v.6h-2v-1h-2v.4h-2v.5h-2v-.6h-2v-.5h-2v.1h-2v.2h-2v.6h-2v.6h-2v-.4h-2v-1h-2v.6h-2v-.5h-2v1.5h-2v-1.4h-2v.6h-2v-.8h-2v0h-2v.2h-2v.8h-2v.7h-2v-1.6h-2v0h-2v.7h-2v-.7h-2v1.5h-2v-1.4h-2v1h-2v.4h-2v-1.1h-2v.5h-2v-.7h-2v.1h-2v-.4h-2v1.2h-2v-.3h-2v-.5h-2v.3h-2v-.6h-2v-.1h-2v1.4h-2v-1.4h-2v.2h-2v.9h-2v0h-2v-.5h-2v.1h-2v-.7h-2v.9h-2v-.4h-2v0h-2v.2h-2v.6h-2v-.9h-2v.1h-2v-.4h-2v1.2h-2v-1.3h-2v.7h-2v-.4h-2v.8h-2v-.8h-2v.5h-2v-.5h-2v1.3h-2v-1.6h-2v.8h-2v-.1h-2v0h-2v-.3h-2v-.3h-2v.2h-2v.2h-2v-.1h-2v-.4h-2v.1h-2v.4h-2v-.3h-2v-.1h-2v.1h-2v1h-2v-.6h-2v-.3h-2v0h-2v-.3h-2v0h-2v.6h-2v-.4h-2v.6h-2v.3h-2v.2h-2v-1h-2v-.2h-2v.2h-2v1.4h-2v-.5h-2v-1.1h-2v.2h-2v.2h-2v-.4h-2v.2h-2v.4h-2v-.5h-2v1.2h-2v-1.1h-2v.4h-2v-.7h-2v.7h-2v.1h-2v-.7h-2v.2h-2v-.3h-2v1.5h-2v-1h-2v-.3h-2v-.1h-2v0h-2v.3h-2v-.4h-2v1.2h-2v-1h-2v1.1h-2v-1.3h-2v.9h-2v.2h-2v-.8h-2v.3h-2v.5h-2v-.2h-2v-.8h-2v.3h-2v-.3h-2v.9h-2v-.9h-2v.6h-2v-.5h-2v-.3h-2v.7h-2v-.7h-2v1.1h-2v-.7h-2v.4h-2v.1h-2v.3h-2v.2h-2v-1h-2v-.2h-2v.1h-2v.3h-2v.5h-2v0h-2v-.7h-2v.8h-2v-.9h-2v.2h-2v.7h-2v-1.1h-2v.1h-2v1h-2v-1.1h-2v.3h-2v0h-2v1h-2v-.2h-2v-.7h-2v-.3h-2v1h-2v-.7h-2v.8h-2v-.7h-2v0h-2v-.2h-2v-.2h-2v.4h-2v-.5h-2v.4h-2v.5h-2v.4h-2v-1h-2v.1h-2v0h-2v1.5h-2v-1.6h-2v-.1h-2v0h-2v-.2h-2v.1h-2v-.1h-2v.1h-2v1.5h-2v-1.6h-2v.7h-2v.3h-2v.4h-2v-1.1h-2v.4h-2v-.5h-2v.9h-2v-1h-2v.6h-2v-.1h-2v-.5h-2v.4h-2v.4h-2v-.5h-2v-.4h-2v.6h-2v-.5h-2v.4h-2v-.1h-2v-.1h-2v-.2h-2v.6h-2v1h-2v-1h-2v-.6h-2v.1h-2v0h-2v.7h-2v-.9h-2v.1h-2v.1h-2v-.2h-2v.6h-2v-.6h-2v0h-2v.3h-2v0h-2v0h-2v1.5h-2v-1.2h-2v-.6h-2v.7h-2v-.5h-2v.7h-2v-.7h-2v0h-2v.9h-2v-.5h-2v.6h-2v-1.2h-2v1h-2v-.9h-2v.1h-2v-.2h-2v.2h-2v.6h-2v-.7h-2v.4h-2v.3h-2v.1h-2v-.7h-2v-.1h-2v.7h-2v0h-2v-.1h-2v-.5h-2v-.1h-2v.1h-2v.7h-2v-.5h-2v.4h-2v-.7h-2v-.1h-2v.5h-2v-.1h-2v.9h-2v-.4h-2v0h-2v-.9h-2v0h-2v1.7h-2v-1.6h-2v0h-2v.4h-2v-.4h-2v-.2h-2v.9h-2v-.3h-2v.4h-2v-.4h-2v0h-2v.2h-2v-.5h-2v1h-2v-.7h-2v0h-2v.2h-2v-.7h-2v.2h-2v-.3h-2v.9h-2v-.3h-2v.6h-2v0h-2v-1.2h-2v.7h-2v-.6h-2v.7h-2v.6h-2v-1.3h-2v1.2h-2v-1.3h-2v.8h-2v-.6h-2v.6h-2v-.5h-2v.2h-2v-.3h-2v1h-2v-.8h-2v.8h-2v.1h-2v.6h-2v-.7h-2v-.6h-2v.2h-2v.3h-2v.3h-2v-1.1h-2v.5h-2v-.4h-2v1.6h-2v-1.8h-2v.5h-2v-.4h-2v1.3h-2v-1.2h-2v0h-2v-.3h-2v.3h-2v-.2h-2v-.1h-2v.7h-2v.5h-2v.1h-2v-1h-2v-.3h-2v0h-2v.4h-2v-.1h-2v-.2h-2v.3h-2v-.3h-2v.4h-2v-.4h-2v0h-2v.6h-2v.4h-2v-1h-2v-.1h-2v.1h-2v.6h-2v-.2h-2v.2h-2v.4h-2v-.4h-2v.1h-2v.1h-2v-.4h-2v.1h-2v.6h-2v-.9h-2v.6h-2v.2h-2v-.4h-2v-.3h-2v.3h-2v-.4h-2v1.1h-2v.1h-2v-1.3h-2v1.2h-2v0h-2v0h-2v-1.4h-2v.3h-2v.1h-2v-.5h-2v.7h-2v-.5h-2v1.2h-2v.2h-2v-1.3h-2v1.2h-2v-1h-2v-.4h-2v.2h-2v.3h-2v-.5h-2v.7h-2zM231 1024.3h2v-.3h2v-.1h2v.3h2v.5h2v-.4h2v-.7h2v.8h2v.2h2v-.1h2v.2h2v-.1h2v-.6h2v-.1h2v.9h2v-.5h2v.2h2v-.1h2v-.1h2v.5h2v0h2v-.8h2v.7h2v-.4h2v.3h2v-.6h2v.6h2v-1.3h2v.4h2v1h2v.1h2v-2h2v1.4h2v.1h2v.3h2v-.4h2v.2h2v.2h2v-1h2v.9h2v.2h2v-.6h2v.4h2v.1h2v.2h2v-.5h2v0h2v.4h2v-1.3h2v.3h2v.5h2v-.4h2v.5h2v-.6h2v1h2v.1h2v-.2h2v-.5h2v.4h2v.1h2v-1.8h2v1.7h2v-.6h2v.8h2v.1h2v-.7h2v-.3h2v.7h2v0h2v.2h2v-.9h2v.5h2v-.3h2v.7h2v-.4h2v.2h2v0h2v.1h2v.1h2v.1h2v-.2h2v.2h2v-.1h2v.1h2v-.5h2v.1h2v.2h2v0h2v-.2h2v-.1h2v.4h2v-.1h2v-1.6h2v1.5h2v.2h2v-2.2h2v1.3h2v-.6h2v.6h2v.7h2v-1.5h2v1.5h2v-.8h2v-.1h2v1.2h2v-.6h2v-.1h2v-.8h2v.8h2v.6h2v.1h2v-.2h2v-1h2v1.1h2v-.2h2v0h2v0h2v0h2v-.6h2v.6h2v0h2v-.7h2v.4h2v-.1h2v.4h2v-.4h2v-.7h2v1h2v.3h2v0h2v-1.6h2v.8h2v.8h2v-1.3h2v1.1h2v-.9h2v1.2h2v0h2v-.9h2v.9h2v-.3h2v-.7h2v-.1h2v.3h2v-.6h2v1.1h2v.3h2v-.2h2v-.2h2v-.4h2v.4h2v.3h2v-.5h2v-.4h2v1h2v-1.6h2v.2h2v-.1h2v.6h2v.9h2v-.2h2v-.5h2v.2h2v.2h2v-.2h2v-.1h2v0h2v.2h2v.3h2v-.2h2v.2h2v-.7h2v.3h2v.2h2v-.3h2v-.5h2v.5h2v.6h2v-.3h2v-.5h2v-.2h2v-.1h2v.7h2v.1h2v-.4h2v.7h2v-1.5h2v1.5h2v-1.6h2v1.5h2v-.4h2v-.1h2v-.2h2v-.5h2v1.2h2v-.4h2v-.3h2v-.2h2v.2h2v0h2v-.6h2v1.1h2v-.8h2v.6h2v0h2v0h2v.3h2v.2h2v-.7h2v-.3h2v-.7h2v.9h2v.8h2v-.4h2v-.5h2v-.3h2v1h2v-.3h2v.5h2v-.1h2v.1h2v-1.6h2v.8h2v.1h2v.4h2v.3h2v0h2v0h2v-.7h2v.6h2v-.1h2v-.2h2v-.5h2v.7h2v0h2v.1h2v-.7h2v.1h2v-.2h2v.2h2v.5h2v-.2h2v.2h2v-.1h2v-.9h2v-.2h2v.9h2v-.4h2v.3h2v-.5h2v.3h2v-1.7h2v2.3h2v-.1h2v-.5h2v.6h2v-.7h2v.7h2v.1h2v-.5h2v.5h2v-1h2v.8h2v-.9h2v-.3h2v.1h2v1.3h2v-.8h2v.6h2v.3h2v-.8h2v.5h2v-.1h2v0h2v.3h2v0h2v-.5h2v.1h2v0h2v0h2v.1h2v.4h2v-.4h2v.3h2v-.6h2v.3h2v0h2v-.1h2v-.1h2v.4h2v-.9h2v.9h2v.2h2v-1.6h2v1.2h2v.3h2v-.3h2v-.1h2v.3h2v-.1h2v.2h2v-.3h2v-.6h2v.8h2v-.4h2v.3h2v-.2h2v.2h2v.1h2v.2h2v-.3h2v.3h2v-.1h2v-1.8h2v0h2v1.1h2v.7h2v-.7h2v-.3h2v.7h2v.3h2v.1h2v-.4h2v.1h2v.1h2v.2h2v-.3h2v-.1h2v.2h2v.1h2v0h2v-.2h2v0h2v-.1h2v-.5h2v.6h2v-.7h2v.1h2v.8h2v-1.3h2v1.4h2v-.1h2v-.4h2v.3h2v.2h2v-.3h2v-.9h2v.9h2v.1h2v-.2h2v-.1h2v.1h2v-.4h2v.6h2v-.5h2v.7h2v-.2h2v-.1h2v.2h2v.1h2v-.9h2v-.6h2v.7h2v.3h2v0h2v.3h2v-.3h2v.2h2v.2h2v-.3h2v-.2h2v0h2v.4h2v-.1h2v0h2v.2h2v-.6h2v.4h2v.2h2v-.3h2v.3h2v-.5h2v-.2h2v.1h2v.6h2v-1.2h2v.7h2v.4h2v-.2h2v.1h2v.2h2v-1.1h2v.9h2v-.3h2v-.6h2v.5h2v.4h2v-1h2v.2h2v.9h2v-.3h2v.2h2v-.1h2v-.4h2v.4h2v.4h2v-.2h2v0h2v-.5h2v-.2h2v-.4h2v1.3h2v0h2v-.7h2v0h2v.6h2v-.1h2v-.2h2v-.5h2v.1h2v-1h2v1.2h2v.4h2v.2h2v-.5h2v.1h2v-.9h2v.1h2v1.1h2v-.2h2v-.3h2v.4h2v-.7h2v.6h2v.2h2v-.8h2v.6h2v-.9h2v.9h2v-.3h2v-.1h2v.4h2v.3h2v-.2h2v.1h2v-.2h2v.3h2v-1.2h2v1.2h2v-1.1h2v.9h2v-1.9h2v1.7h2v-.7h2v.2h2v.4h2v.5h2v-1.3h2v1h2v.1h2v-.3h2v.4h2v0h2v-.2h2v-.1h2v0h2v-.1h2v0h2v-.5h2v.8h2v0h2v.1h2v.1h2v-.2h2v0h2v-.5h2v.1h2v-.6h2v.6h2v.5h2v-.2h2v0h2v-.1h2v.2h2v.2h2v-.4h2v0h2v.3h2v0h2v-.5h2v.2h2v.2h2v-1.3h2v1.4h2v-.1h2v-.5h2v.4h2v-1h2v1.1h2v0h2v.1h2v.1h2v-.7h2v-.6h2v1h2v0h2v-.8h2v.9h2v0h2v0h2v.1h2v-.2h2v-.4h2v-.4h2v.8h2v-.2h2v.2h2v.2h2v-.1h2v.1h2v0h2v.1h2v-.3h2v-1.5h2v1.8h2v-.1h2v.1h2v-1h2v.6h2v.4h2v-.9h2v.8h2v-.6h2v0h2v.4h2v.3h2v-.6h2v.5h2v-1.1h2v.9h2v-.2h2v.4h2v-.1h2v-.4h2v.6h2v-.1h2v-.8h2v.5h2v.2h2v.1h2v-1h2v.7h2v.3h2v0h2v.1h2v-.2h2v-.2h2v-.3h2v-.9h2v1.2h2v-.4h2v.7h2v-.8h2v.7h2v-.2h2v-.5h2v-.3h2v.7h2v0h2v.4h2v-.1h2v-1.6h2v1.5h2v-.1h2v.2h2v-.5h2v.4h2v.3h2v-1.2h2v1.2h2v-.4h2v.3h2v-.5h2v-1.2h2v1.5h2v0h2v-1.1h2v1.2h2v-.6h2v.4h2v.2h2v.2h2v-1.2h2v1h2v-.7h2v.4h2v.1h2v.1h2v.3h2v-.4h2v-.2h2v0h2v0h2v.1h2v-.2h2v-.4h2v.7h2v0h2v.1h2v-.8h2v.2h2v.9h2v-.4h2v.2h2v.1h2v-.3h2v-.2h2v0h2v-.2h2v.5h2v-.1h2v.4h2v-.9h2v.8h2v-.3h2v.2h2v.1h2v-2h2v1.8h2v.3h2v-.2h2v-.1h2v0h2v-.2h2v-.4h2v-.7h2v1.4h2v-.3h2v.4h2v-.3h2v.3h2v0h2v-.2h2v-.1h2v.3h2v-.6h2v.6h2v0h2v-.1h2v.2h2v-.7h2v.5h2v0h2v-.1h2v-1h2v1.1h2v-.6h2v-.4h2v.9h2v-.4h2v.5h2v-.7h2v.4h2v.1h2v.3h2v-.1h2v0h2v-.4h2v.1h2v.2h2v.1h2v.1h2v0h2v-1.1h2v.8h2v0h2v.4h2v-.9h2v.7h2v0h2v.2h2v-.1h2v0h2v-.7h2v.1h2v.3h2v.4h2v-.3h2v-.1h2v.4h2v-.3h2v.3h2v-.9h2v.2h2v-.4h2v.7h2v.3h2v-.7h2v.6h2v-.1h2v0h2v-.2h2v.3h2v.1h2v-.2h2v.3h2v-1.1h2v.7h2v-1.3h2v.7h2v.7h2v-1.7h2v1.8h2v0h2v.1h2v.1h2v-.9h2v.6h2v.2h2v-.3h2v.2h2v0h2v-.3h2v.1h2v-.1h2v-.3h2v.2h2v-.1h2v.5h2v-.1h1v7.1h-1v-.5h-2v-.2h-2v1.7h-2v-.2h-2v-1h-2v-.5h-2v.8h-2v-.3h-2v-.2h-2v.2h-2v.1h-2v.4h-2v-.7h-2v-.1h-2v-.2h-2v.7h-2v-.6h-2v1.2h-2v.4h-2v-.8h-2v-.3h-2v-.4h-2v-.1h-2v.3h-2v-.1h-2v-.3h-2v.3h-2v.2h-2v.6h-2v-.8h-2v-.3h-2v0h-2v.5h-2v-.3h-2v.4h-2v-.1h-2v-.5h-2v0h-2v1h-2v-.9h-2v.4h-2v-.5h-2v.9h-2v-.3h-2v0h-2v-.4h-2v.3h-2v.3h-2v.5h-2v-1.1h-2v.7h-2v.8h-2v-1.2h-2v-.4h-2v1.2h-2v-1h-2v-.3h-2v.3h-2v-.2h-2v.5h-2v-.3h-2v-.3h-2v.2h-2v.1h-2v.3h-2v-.3h-2v.7h-2v.1h-2v0h-2v-.9h-2v.5h-2v-.6h-2v1.3h-2v-.1h-2v-1.3h-2v.4h-2v.4h-2v-.8h-2v.3h-2v.3h-2v-.2h-2v.5h-2v-.9h-2v.4h-2v.1h-2v-.3h-2v.9h-2v-1.1h-2v.2h-2v.5h-2v1.1h-2v-.9h-2v-.7h-2v.1h-2v-.2h-2v.3h-2v.2h-2v-.3h-2v.6h-2v0h-2v-.8h-2v.3h-2v.5h-2v.5h-2v-1.3h-2v.6h-2v.1h-2v-.8h-2v0h-2v.3h-2v0h-2v.2h-2v1.4h-2v-1.7h-2v.3h-2v.2h-2v-.1h-2v.8h-2v-.9h-2v0h-2v-.4h-2v.4h-2v-.4h-2v.1h-2v-.2h-2v.6h-2v-.2h-2v-.1h-2v.3h-2v-.5h-2v.4h-2v-.4h-2v.3h-2v-.2h-2v-.1h-2v.1h-2v.2h-2v.7h-2v-.5h-2v.5h-2v-.8h-2v.6h-2v-.9h-2v.3h-2v-.1h-2v1.8h-2v-1.6h-2v-.4h-2v.2h-2v-.2h-2v.3h-2v1.6h-2v-.9h-2v-.7h-2v.6h-2v-.9h-2v1.7h-2v-.9h-2v-.3h-2v0h-2v-.5h-2v.7h-2v-.7h-2v.5h-2v-.4h-2v-.1h-2v.2h-2v.7h-2v.3h-2v.1h-2v-1.3h-2v.9h-2v-.3h-2v-.4h-2v1.7h-2v-1.8h-2v.1h-2v1.2h-2v-1.3h-2v.2h-2v1.3h-2v-.2h-2v-.3h-2v0h-2v-.8h-2v-.2h-2v1.4h-2v-.9h-2v-.4h-2v.8h-2v1.3h-2v-1.7h-2v.5h-2v-.7h-2v1.3h-2v-1.1h-2v-.5h-2v.1h-2v-.2h-2v.1h-2v.4h-2v.4h-2v.2h-2v-.6h-2v-.3h-2v1.1h-2v-1.2h-2v.5h-2v-.6h-2v.3h-2v0h-2v-.3h-2v0h-2v.8h-2v-.4h-2v-.3h-2v.7h-2v-.7h-2v0h-2v1.5h-2v-1.6h-2v.5h-2v1h-2v-.5h-2v-.7h-2v.5h-2v.3h-2v.5h-2v-.3h-2v-1.1h-2v.5h-2v-.4h-2v.7h-2v-.8h-2v1.2h-2v-.6h-2v.9h-2v-1.1h-2v0h-2v.5h-2v-1.1h-2v.2h-2v.6h-2v-.6h-2v.1h-2v-.3h-2v1.5h-2v-.5h-2v-.7h-2v.3h-2v-.3h-2v.8h-2v.3h-2v-1.3h-2v1.1h-2v-.3h-2v.4h-2v-.1h-2v-1h-2v.3h-2v-.1h-2v.9h-2v-1.1h-2v.5h-2v-.1h-2v-.5h-2v.1h-2v.7h-2v-.4h-2v-.5h-2v.7h-2v0h-2v-.2h-2v.1h-2v-.5h-2v.7h-2v-.1h-2v-.5h-2v.5h-2v.4h-2v-.5h-2v-.6h-2v.4h-2v-.4h-2v.5h-2v.1h-2v.2h-2v-.2h-2v-.6h-2v0h-2v.1h-2v.6h-2v-.4h-2v.6h-2v.1h-2v-.8h-2v1h-2v-.8h-2v-.4h-2v.5h-2v.3h-2v0h-2v.5h-2v-1.3h-2v.7h-2v.7h-2v-.6h-2v-.6h-2v1.2h-2v-1.2h-2v.4h-2v-.4h-2v.6h-2v-.1h-2v-.3h-2v.5h-2v-.3h-2v-.1h-2v-.5h-2v.7h-2v-.4h-2v.1h-2v.1h-2v-.3h-2v-.2h-2v0h-2v.8h-2v-.1h-2v-.5h-2v.5h-2v-.6h-2v.4h-2v0h-2v.2h-2v-.5h-2v-.2h-2v.6h-2v.1h-2v-.3h-2v.5h-2v-.4h-2v.3h-2v.8h-2v-1.1h-2v.1h-2v.7h-2v-1.1h-2v.1h-2v-.1h-2v0h-2v-.1h-2v.3h-2v0h-2v-.4h-2v0h-2v.4h-2v.5h-2v-.8h-2v.3h-2v.4h-2v.1h-2v-.1h-2v-.2h-2v.6h-2v-1.1h-2v0h-2v-.1h-2v1h-2v-.8h-2v-.2h-2v.3h-2v.7h-2v-.5h-2v-.2h-2v0h-2v1.2h-2v-1h-2v.1h-2v-.5h-2v0h-2v0h-2v.2h-2v.3h-2v.4h-2v-.7h-2v-.3h-2v.7h-2v-.3h-2v0h-2v0h-2v.2h-2v-.5h-2v.4h-2v.6h-2v0h-2v-.6h-2v-.3h-2v-.1h-2v.1h-2v-.2h-2v0h-2v.9h-2v-.9h-2v.2h-2v1.1h-2v-.8h-2v-.5h-2v1.4h-2v-.3h-2v.4h-2v-1h-2v.4h-2v.5h-2v-1.3h-2v1.3h-2v-.9h-2v-.1h-2v-.4h-2v.6h-2v-.4h-2v-.1h-2v.3h-2v0h-2v1h-2v-1.4h-2v.1h-2v-.1h-2v.2h-2v.1h-2v.1h-2v1.1h-2v-1.3h-2v.5h-2v.3h-2v-.4h-2v-.2h-2v-.4h-2v0h-2v.3h-2v.6h-2v-.9h-2v.8h-2v.7h-2v-.9h-2v1.8h-2v-.8h-2v-1.3h-2v-.2h-2v.2h-2v.2h-2v.1h-2v-.1h-2v-.4h-2v.5h-2v-.6h-2v1.1h-2v-.9h-2v1.5h-2v-1.7h-2v.1h-2v.8h-2v-.5h-2v.9h-2v-.1h-2v-.9h-2v.2h-2v.4h-2v.1h-2v-.6h-2v.1h-2v.5h-2v-.7h-2v.3h-2v-.6h-2v.2h-2v1h-2v-.5h-2v-.7h-2v0h-2v1.9h-2v-.4h-2v.1h-2v.2h-2v-1.1h-2v.2h-2v-.2h-2v-.1h-2v.7h-2v.5h-2v-.8h-2v.1h-2v-.5h-2v-.2h-2v.2h-2v-.1h-2v-.4h-2v-.1h-2v.3h-2v0h-2v.4h-2v.2h-2v-.2h-2v-.5h-2v-.1h-2v-.1h-2v.4h-2v.2h-2v-.4h-2v.3h-2v.5h-2v-.6h-2v-.1h-2v-.1h-2v.2h-2v-.3h-2v.3h-2v.4h-2v-.2h-2v1h-2v-.9h-2v.9h-2v-.3h-2v-1.2h-2v.1h-2v-.1h-2v.4h-2v-.4h-2v.5h-2v-.2h-2v.4h-2v-.8h-2v.7h-2v.5h-2v-1.1h-2v.2h-2v.1h-2v0h-2v-.3h-2v.5h-2v-.1h-2v-.4h-2v-.1h-2v.7h-2v-.4h-2v-.2h-2v.5h-2v-.6h-2v.5h-2v-.2h-2v1.2h-2v-1.4h-2v.2h-2v.1h-2v.9h-2v-1.2h-2v.9h-2v.5h-2v-1.4h-2v.2h-2v.2h-2v-.3h-2v0h-2v0h-2v-.2h-2v0h-2v1.7h-2v-1.4h-2v.2h-2v1.1h-2v-.3h-2v0h-2v-.8h-2v-.4h-2v1h-2v-.8h-2v-.2h-2v.3h-2v-.4h-2v0h-2v.2h-2v-.2h-2v1.1h-2v-1h-2v.1h-2v.1h-2v.5h-2v-.6h-2v.5h-2v-.5h-2v1h-2v-.8h-2v.6h-2v0h-2v-.6h-2v.6h-2v-.8h-2v-.2h-2v1.3h-2v.4h-2v-1.5h-2v-.2h-2v.3h-2v-.3h-2v.2h-2v.9h-2v-.6h-2v1.1h-2v-1h-2v-.3h-2v.2h-2v-.5h-2v.1h-2v.3h-2v.4h-2v-.8h-2v.6h-2v.4h-2v-.8h-2v.3h-2v1.2h-2v-1h-2v-.4h-2v1.6h-2v-1.1h-2v-.3h-2v-.2h-2v.1h-2v-.1h-2v-.2h-2v.9h-2v0h-2v-.3h-2v1h-2v-1.1h-2v1.1h-2v-1.3h-2v.4h-2v1.1h-2v.1h-2v-1.5h-2v.4h-2v-.7h-2v-.2h-2v0h-2v.5h-2v-.2h-2v.1h-2v.5h-2v-.7h-2v-.1h-2v.1h-2v0h-2v.3h-2v.1h-2v.5h-2v0h-2v.5h-2v-1.3h-2v-.1h-2v0h-2v-.1h-2v-.1h-2v.9h-2v-.1h-2v-.6h-2v.3h-2v-.1h-2v-.2h-2v.2h-2v.5h-2v-.4h-2v.1h-2v-.1h-2v-.5h-2v.2h-2v.7h-2v-.3h-2v-.5h-2v0h-2v.4h-2v.2h-2v-.4h-2v.2h-2v-.2h-2v.3h-2v.7h-2v-.9h-2v.4h-2v-.1h-2v.5h-2v-.8h-2v-.4h-2v.1h-2v.3h-2v0h-2v.8h-2v-.4h-2v.1h-2v-.5h-2v.6h-2v-.2h-2v-.7h-2v.7h-2v-.3h-2v.2h-2v.8h-2v-1.3h-2v1.3h-2v-1.4h-2v.5h-2v-.5h-2v0h-2v.1h-2v.7h-2v.2h-2v-1h-2v0h-2v.7h-2v-.6h-2v.3h-2v-.2h-2v-.2h-2v.7h-2v.8h-2v-1.6h-2v.2h-2v.5h-2v-.2h-2v0h-2z"/>
<path stroke="#000000" stroke-width="2" fill="none" d="M245.4 71.4V88M238 76V91M242 75V92M1093.7 67.7V103.5M1328 80V91M1341.6 66.5V96.6M1348 73.5V94.7M1468.8 78.5V101.6M1507.6 200V216.6M1515.2 200V228.5M1527.9 195.5V210.4M1532.8 195V214.4M1537 194V208.5M1541 196V206M1549.9 176.2V215.8M1557.2 190V211.4M1562 193.3V210.4M750 312.8V323M243.1 549V561.9M245.6 545.3V567.5M250 547.2V564.4M252.2 533.8V574.4M254 532.2V581.9M268.1 549V566.2M273.1 547.2V568.4M276.2 547.8V564.4M286 551V558M321.9 550.3V562.5M326.9 547.2V556M328.1 556V571.2M335 549.4V556M341.6 549.7V562.5M711 556V564.7M717.5 551V566.3M751.4 549.4V564.7M759.5 549.4V556M772.7 547.8V563M816 549.4V556M827.3 550V562M860.4 556V568.8M908.9 547.4V567.2M922.3 544.5V556M956.6 548.6V563M964.6 556V580M978.4 548.6V556M987 548.6V556M1024.8 549.9V564.3M1091.5 550.5V564.3M1127.7 550.5V565.7M1139.6 550.5V556M1179.6 544.9V556M1221.8 556V563.7M1261 544.9V556M1297 546.5V563.7M1305 556V566.7M1369.3 547.3V556M576 669V687.2M588.8 663.8V674M593.4 666.2V682.5M799 668V679M1282.6 668V680.6M1317 668V682.9M1341.1 666.1V680.1M1414 674V681.5M332 781V799M702.5 782.2V812.5M707.8 780V795M708.5 773.2V817.8M1250 787V797M737 909V916M740.7 902.2V917.7M744.3 906V918.5M747.3 899V915.7M1492.2 903.1V918.1M1515 909V915.6M1531.2 909V917.5M1548.1 876.2V915M1554.7 902.2V919.4M1558.8 900V917.5M1568.8 889V925.3M1576.2 902.2V917.5M1580 904V916M1585 909V915.6"/>
<path stroke="#000000" stroke-width="1.5" fill="none" d="M249.9 77.2V90.4M236.5 78.8V91M240.4 77.2V89.2M240.2 77.4V90.6M241.3 79.6V89.3M236.2 77.3V91.3M235.3 77.2V89M242.4 77.1V89.9M248.9 78V89.1M237.3 78.6V89.6M1537.2 195.8V208.1M1526 195.8V209M1555.5 195.6V207.4M1526.6 195.6V209.2M1568 195.3V208.9M1545.8 196.7V208.8M1527.4 196.5V207.7M1571.7 194.5V208M1538.6 197.4V209.6M1520.1 194.9V207.7M1538.5 195.4V208.9M1568 195.3V208.5M1529.3 196.3V208.4M1562 197.5V208M1552.4 197.3V209.5M1526.5 194.8V207.7M1557.9 194.9V208M1542.4 195.2V210M1543 194.8V209.8M1572.8 196.9V208.4M1546.1 195.7V207.3M1543.1 194.7V208.7M1513.6 196.6V209.9M1531.5 197.3V207.9M1542.9 197.1V208.5M1536.3 195.5V207.9M1514.1 196.1V207.6M1542 196.4V209.7M248.5 550.7V563.4M254.3 549.6V561.5M250.4 548.5V561.9M249.9 551V563.2M260 549.5V562.8M272.6 549.2V562.4M267 549.9V561.4M253.4 548.7V562.5M261.2 549.3V561.1M260.3 550.1V562.6M278.5 549.1V561.2M268.1 549.8V562M263.9 550.9V564.5M274.5 548.2V563.6M240.5 548.3V561.2M255.9 548.5V562.8M270.9 551.2V562.4M281.3 551.2V563.6M331.8 551.6V562.3M336.1 551.3V561.6M328 551.6V561.4M328.7 551.1V561.9M338.3 550.7V561.6M329.6 551.1V561.2M721.6 551.9V560.2M728.1 551.1V561.7M726.8 551.4V561.9M720.6 551V560.6M702.4 551.8V561.9M725.6 551.3V560.8M1308.5 550.3V561.8M1298 551.4V560.9M1307.6 550.4V561M1307.5 549.8V562.2M1308.5 549.8V562.3M576.5 669.5V680.3M596.4 669V680.3M581.6 669V679.3M595.5 669V679.4M590.5 668.2V679.3M575.1 669.8V680M577.8 667.8V678.8M597.7 668.7V680.2M703.5 784.9V796.7M702.8 785.8V798.3M701.9 786.9V798.2M702.3 785.6V796.9M710.9 786.8V797.2M703.1 785.6V799.1M747.6 904.9V916.6M746 904.3V917.2M742.9 902.6V915.6M738 903.6V917.1M741.6 904.1V916.7M743.4 903.5V917.1M741.6 903.3V916.1M749 904.6V916.7M1576.8 902.7V915.9M1582.4 903.7V914.7M1569.2 903.8V916M1556.4 903.8V915.1M1550.7 905.3V915.5M1573.1 905.2V916.2M1577.5 903.5V915.5M1563.6 904.9V915.1M1559.6 904V917.2M1562.4 903.7V915.5M1551.6 903.3V915.9M1557.2 902.8V916.9M1556.5 904.6V916M1576.2 904.7V914.9M1568.4 905.2V917.3M1549.3 903.6V914.9M1559.6 904.7V915.3M1569.3 903.3V916.6"/>
<path fill="#ff0000" d="M231 110.8h2v-1.3h2v.1h2v.8h2v-.9h2v.8h2v.3h2v-1h2v1h2v.2h2v-1.2h2v.5h2v-.1h2v-.3h2v.4h2v-1.3h2v1.8h2v.2h2v-.2h2v.1h2v0h2v0h2v-.6h2v-.7h2v.7h2v.1h2v.6h2v-.8h2v.4h2v-.6h2v.1h2v-.2h2v.4h2v-.1h2v.6h2v.2h2v-.2h2v.1h2v-.7h2v.1h2v-.7h2v1.2h2v-.2h2v-2.1h2v2.2h2v.2h2v-.3h2v-1h2v1h2v0h2v0h2v.2h2v-.4h2v-.2h2v.7h2v-.1h2v-.3h2v.3h2v0h2v-.2h2v.2h2v-.2h2v.1h2v.2h2v-.3h2v.1h2v-.2h2v-.1h2v.6h2v-.1h2v-.8h2v.6h2v.3h2v-.3h2v-.2h2v-.2h2v-.5h2v.5h2v.3h2v.1h2v.2h2v-.3h2v-.4h2v-.7h2v.4h2v1.1h2v-.9h2v.1h2v-.1h2v.9h2v-.3h2v-.9h2v1.1h2v0h2v-.3h2v.3h2v-.3h2v.1h2v-.8h2v.8h2v-.5h2v.4h2v-.3h2v-.3h2v.1h2v.3h2v0h2v-.9h2v.2h2v1h2v0h2v.3h2v-.9h2v0h2v-.1h2v.3h2v.6h2v-.9h2v.4h2v-.8h2v1.1h2v-1h2v1h2v-.4h2v-.5h2v1.1h2v0h2v-.5h2v-.4h2v-.3h2v1.3h2v-.2h2v-.6h2v.8h2v-1.1h2v.1h2v.4h2v.2h2v0h2v-.7h2v.6h2v-.1h2v-.2h2v.5h2v-.4h2v-.2h2v.3h2v-.2h2v.7h2v-.3h2v-.3h2v.5h2v-.1h2v-.8h2v.2h2v.9h2v-.3h2v0h2v.3h2v-.7h2v.1h2v-.2h2v.1h2v.6h2v-.1h2v-1.3h2v1h2v.2h2v-.7h2v.5h2v.4h2v-1.4h2v.6h2v.8h2v0h2v-.2h2v-.6h2v.1h2v0h2v-.3h2v.2h2v0h2v.1h2v.3h2v.4h2v-.9h2v0h2v.7h2v.2h2v.1h2v-.1h2v-.9h2v1h2v0h2v-.6h2v-1.1h2v1.4h2v-.1h2v-.9h2v.7h2v-.7h2v-.1h2v.9h2v-.3h2v.7h2v0h2v-.4h2v-.3h2v.1h2v.7h2v-.3h2v-.1h2v0h2v-.1h2v.3h2v.2h2v-1h2v.6h2v-.1h2v.4h2v-.3h2v-.7h2v.3h2v.3h2v.4h2v-.5h2v-.2h2v0h2v.1h2v.5h2v0h2v-.4h2v.5h2v-1.3h2v1.2h2v.2h2v-1.5h2v.5h2v.8h2v.2h2v0h2v-.2h2v0h2v.2h2v-.3h2v.2h2v0h2v-.7h2v.4h2v-.3h2v.7h2v-.8h2v-.3h2v.7h2v-.9h2v0h2v1.1h2v-.2h2v.2h2v.1h2v0h2v-.2h2v-.1h2v.3h2v-.1h2v0h2v-.1h2v-.1h2v0h2v-.4h2v.3h2v.2h2v-.1h2v.4h2v-.8h2v.8h2v-.4h2v-.1h2v-.2h2v.6h2v-.3h2v.2h2v-1.1h2v1.2h2v-.6h2v0h2v.7h2v-.5h2v0h2v.4h2v0h2v-.6h2v.4h2v-.8h2v.7h2v.3h2v-.1h2v-.5h2v.6h2v.1h2v0h2v-1h2v.8h2v-.4h2v.1h2v.1h2v-.4h2v.6h2v0h2v.1h2v0h2v-.2h2v-.1h2v-.2h2v.3h2v.1h2v-1h2v.1h2v.7h2v-.8h2v.3h2v.2h2v.5h2v0h2v.1h2v-.5h2v-.7h2v.9h2v-.7h2v.9h2v.2h2v-.5h2v.4h2v-1.2h2v1.2h2v-2.1h2v1.9h2v-.5h2v.3h2v-.1h2v0h2v.2h2v-1.2h2v1.4h2v.2h2v-.5h2v.3h2v-.8h2v1h2v0h2v-.3h2v-.9h2v1h2v0h2v.1h2v-.1h2v-1.1h2v.8h2v.1h2v-1h2v1.4h2v-.4h2v.3h2v-.4h2v.5h2v-1.5h2v.1h2v.9h2v.5h2v-.1h2v0h2v0h2v-1.5h2v1.5h2v-.4h2v.1h2v-.5h2v.9h2v-2h2v1.1h2v.9h2v-.2h2v-2h2v1.8h2v.1h2v-.4h2v.3h2v0h2v.1h2v-.9h2v.8h2v-.3h2v-.2h2v-.3h2v.3h2v.5h2v.4h2v-.6h2v0h2v-.8h2v.8h2v.2h2v-.1h2v.4h2v.1h2v-.4h2v.4h2v-.5h2v-.1h2v.2h2v.4h2v-.6h2v-.1h2v.2h2v-.5h2v.9h2v-1.1h2v1h2v-.4h2v-.8h2v1.1h2v.2h2v-.1h2v0h2v.2h2v0h2v-.1h2v-.1h2v0h2v-.1h2v-.3h2v-.1h2v0h2v.5h2v-.2h2v.3h2v0h2v0h2v.1h2v-.1h2v-1.4h2v1.4h2v0h2v-.2h2v-1.3h2v1h2v.5h2v-.3h2v.2h2v-.3h2v.4h2v-.1h2v-.1h2v-.5h2v-.1h2v.4h2v-.1h2v-.8h2v1.4h2v-.4h2v-.4h2v-1.1h2v1.7h2v-.6h2v.7h2v0h2v-.3h2v.4h2v-.4h2v-.1h2v-1.6h2v.4h2v1.4h2v-.7h2v.6h2v.2h2v0h2v-.3h2v-.4h2v.6h2v.1h2v-.2h2v-.8h2v1h2v-.1h2v-.3h2v-.3h2v.6h2v.2h2v-.7h2v.4h2v-.4h2v.6h2v-.6h2v.6h2v-.7h2v.1h2v.5h2v-.3h2v-.2h2v.7h2v0h2v-.3h2v.4h2v-.1h2v-.5h2v.6h2v-.1h2v-.4h2v-.4h2v.3h2v.4h2v0h2v.1h2v-.1h2v0h2v-.3h2v-1h2v0h2v1.5h2v-1.2h2v.9h2v.2h2v-.4h2v.1h2v-.4h2v.2h2v-.4h2v-.1h2v.3h2v.6h2v-.1h2v.3h2v-1.8h2v.9h2v.9h2v0h2v-1.2h2v1.1h2v-1.6h2v1.5h2v0h2v-.3h2v.1h2v-.2h2v-1h2v1.6h2v-1h2v.9h2v-.1h2v-.1h2v-.5h2v-.1h2v.6h2v-1.6h2v.8h2v.4h2v.5h2v.1h2v-1h2v1h2v-.1h2v-.1h2v-.2h2v.3h2v0h2v-1.1h2v.1h2v.8h2v.1h2v-.1h2v-.1h2v.5h2v-.3h2v.1h2v-.7h2v.1h2v.4h2v0h2v.1h2v-1.3h2v1.1h2v-.2h2v-.6h2v.2h2v-.8h2v1.4h2v.1h2v-.1h2v.1h2v-.5h2v.5h2v0h2v.1h2v-.4h2v-.4h2v.7h2v-.9h2v.9h2v-.4h2v.2h2v-.6h2v.5h2v.3h2v0h2v-1.4h2v1.3h2v-1.7h2v1.7h2v.2h2v0h2v-.6h2v.5h2v-.1h2v-.2h2v0h2v-.3h2v.5h2v-.1h2v.1h2v-.1h2v-.4h2v.4h2v-1.4h2v1.5h2v-.1h2v.1h2v-.8h2v.9h2v-.3h2v.1h2v.3h2v-.3h2v-.3h2v.3h2v-.4h2v.6h2v-.2h2v-.8h2v.9h2v.1h2v-.6h2v.2h2v-.5h2v.8h2v.2h2v-.5h2v.3h2v-.4h2v.5h2v-.8h2v.2h2v-1.7h2v.8h2v1.3h2v-.9h2v.7h2v-.2h2v.2h2v-.9h2v.9h2v0h2v-.1h2v.3h2v-.6h2v.7h2v.2h2v0h2v-.3h2v.2h2v0h2v-.2h2v0h2v-.5h2v.7h2v0h2v.1h2v-2.1h2v1.5h2v-.2h2v.2h2v.6h2v-.2h2v.2h2v-.4h2v-.9h2v1.3h2v-.4h2v.1h2v-.3h1v-1.8h1v1h1v.1h1v.5h1v.3h1v0h1v-.6h1v.6h1v-.8h1v.8h1v-.2h1v.1h1v.2h1v-.2h1v-.2h1v-.3h1v-1.5h1v1h1v1.2h1v0h1v-.1h1v0h1v-.1h1v0h1v.2h1v-.7h1v.7h1v0h1v-.3h1v.3h1v-.9h1v.2h1v.4h1v0h1v-.4h1v.1h1v.2h1v.3h1v-.4h1v.3h1v-.5h1v.3h1v-.2h1v.5h1v-.3h1v.4h1v-.4h1v0h1v.4h1v-.6h1v-.4h1v-.6h1v1.6h1v-.4h1v-1.1h1v1.4h1v-.7h1v-.1h1v.6h1v.1h1v0h1v.2h1v-1h1v.2h1v.6h1v-.1h1v.3h1v-.2h1v.1h1v-.3h1v0h1v-.2h1v.6h1v-.1h1v-.1h1v-.5h1v.5h1v.2h1v-.2h1v-.4h1v8.2h-1v.7h-1v-.4h-1v.5h-1v-.3h-1v-.3h-1v.2h-1v-.3h-1v-.2h-1v.2h-1v.1h-1v.1h-1v-.3h-1v.1h-1v-.2h-1v.3h-1v0h-1v.2h-1v-.1h-1v0h-1v-.2h-1v-.1h-1v1.5h-1v-1.3h-1v1.2h-1v-.8h-1v-.7h-1v.3h-1v-.3h-1v0h-1v.2h-1v-.2h-1v.3h-1v-.1h-1v.4h-1v-.1h-1v0h-1v-.1h-1v.9h-1v-.9h-1v.3h-1v-.2h-1v-.5h-1v0h-1v0h-1v.1h-1v.2h-1v.1h-1v-.3h-1v.6h-1v.5h-1v-.7h-1v-.2h-1v-.2h-1v1.6h-1v-1.7h-1v0h-1v.4h-1v.7h-1v-.6h-1v-.4h-1v.3h-1v1.3h-1v-1.4h-1v.7h-1v-.9h-1v.1h-1v0h-1v-.1h-1v.5h-1v-.4h-1v0h-1v-.2h-1v1.9h-1v-1.3h-1v.1h-1v-.5h-1v.1h-1v-.3h-1v.4h-1v-.6h-1v-.1h-2v0h-2v.5h-2v.5h-2v-.9h-2v.1h-2v0h-2v.4h-2v-.2h-2v.7h-2v.3h-2v.3h-2v-1.2h-2v-.2h-2v.4h-2v.1h-2v.2h-2v.5h-2v-1.2h-2v-.1h-2v0h-2v.8h-2v-.9h-2v.2h-2v-.3h-2v.1h-2v-.1h-2v-.1h-2v.1h-2v.3h-2v-.2h-2v.1h-2v0h-2v.4h-2v-.6h-2v.5h-2v.2h-2v0h-2v-.2h-2v-.1h-2v-.2h-2v-.1h-2v-.2h-2v.3h-2v.7h-2v-.5h-2v0h-2v.3h-2v-.6h-2v.5h-2v-.4h-2v-.1h-2v.8h-2v-.8h-2v0h-2v.4h-2v-.4h-2v1.2h-2v-.7h-2v.1h-2v-.1h-2v.3h-2v.1h-2v-1.1h-2v1.7h-2v-1h-2v-.6h-2v1h-2v0h-2v.1h-2v-1h-2v0h-2v-.1h-2v.9h-2v-.6h-2v.9h-2v-1.3h-2v.3h-2v.4h-2v-.1h-2v.5h-2v-1.1h-2v.1h-2v-.1h-2v.1h-2v-.1h-2v1.2h-2v-1.2h-2v1.2h-2v-1.2h-2v.6h-2v0h-2v.3h-2v.5h-2v-1.4h-2v1.2h-2v-1h-2v.3h-2v-.2h-2v-.2h-2v.5h-2v.1h-2v-.5h-2v.1h-2v-.2h-2v2h-2v-2.1h-2v0h-2v0h-2v0h-2v1h-2v-.1h-2v-.5h-2v0h-2v-.3h-2v-.2h-2v.6h-2v-.8h-2v1.1h-2v-.7h-2v-.2h-2v-.1h-2v.3h-2v-.2h-2v.4h-2v1h-2v-1.5h-2v1.3h-2v-1h-2v-.4h-2v1.4h-2v-.9h-2v-.1h-2v.1h-2v-.3h-2v-.1h-2v1h-2v-.7h-2v.5h-2v.8h-2v-1.7h-2v.4h-2v-.2h-2v.1h-2v.5h-2v-.8h-2v.1h-2v0h-2v.1h-2v1.2h-2v-1h-2v-.2h-2v-.2h-2v.3h-2v.1h-2v.5h-2v.3h-2v-.7h-2v-.1h-2v-.1h-2v.2h-2v.1h-2v1h-2v-.5h-2v-1h-2v.2h-2v.3h-2v.9h-2v-1.1h-2v-.1h-2v-.1h-2v-.1h-2v0h-2v.8h-2v-.7h-2v0h-2v.3h-2v.4h-2v.3h-2v-1.2h-2v.7h-2v-.5h-2v.1h-2v.6h-2v-.2h-2v.9h-2v-.2h-2v.2h-2v-.8h-2v.5h-2v-.2h-2v.7h-2v-1.5h-2v.2h-2v-.3h-2v-.2h-2v.2h-2v.1h-2v1.6h-2v-1.8h-2v1.2h-2v-.9h-2v-.1h-2v.2h-2v-.2h-2v-.3h-2v.5h-2v.1h-2v.3h-2v-.9h-2v.2h-2v-.1h-2v0h-2v.3h-2v-.4h-2v1.5h-2v-.9h-2v.1h-2v-.6h-2v.1h-2v-.2h-2v1.2h-2v-.6h-2v.1h-2v.5h-2v-1h-2v.1h-2v.5h-2v-.8h-2v.1h-2v.5h-2v-.4h-2v.4h-2v-.6h-2v.2h-2v.5h-2v-.6h-2v.2h-2v-.1h-2v0h-2v.8h-2v-1h-2v.2h-2v.9h-2v-1h-2v.5h-2v-.3h-2v.1h-2v-.4h-2v.4h-2v.7h-2v-.4h-2v-.5h-2v.3h-2v-.1h-2v.1h-2v-.4h-2v.3h-2v.4h-2v-.2h-2v-.4h-2v-.2h-2v.4h-2v0h-2v.6h-2v.5h-2v-.6h-2v-.6h-2v-.3h-2v1.1h-2v-.3h-2v-.5h-2v-.1h-2v.4h-2v-.1h-2v.6h-2v.4h-2v-.8h-2v-.5h-2v0h-2v.8h-2v-.9h-2v.2h-2v0h-2v0h-2v-.3h-2v.2h-2v1h-2v0h-2v-.7h-2v.5h-2v.1h-2v-1h-2v-.1h-2v.7h-2v.8h-2v-.9h-2v-.6h-2v1h-2v-.5h-2v.8h-2v-.8h-2v-.1h-2v-.2h-2v0h-2v.7h-2v-.6h-2v-.2h-2v.3h-2v-.3h-2v.1h-2v.1h-2v.3h-2v-.2h-2v-.1h-2v0h-2v-.3h-2v.7h-2v.1h-2v-.8h-2v1.1h-2v-.6h-2v0h-2v.5h-2v-.5h-2v-.5h-2v.4h-2v.8h-2v-.9h-2v-.1h-2v1h-2v-.6h-2v.5h-2v-1h-2v.3h-2v.4h-2v-.4h-2v-.1h-2v.2h-2v-.5h-2v0h-2v.3h-2v.1h-2v-.2h-2v-.1h-2v1h-2v-.4h-2v-.5h-2v.9h-2v-1h-2v.8h-2v-.4h-2v.2h-2v-.4h-2v.5h-2v0h-2v-.1h-2v-.4h-2v.1h-2v0h-2v-.2h-2v-.2h-2v.5h-2v.1h-2v0h-2v-.6h-2v.6h-2v.2h-2v-.8h-2v.4h-2v-.2h-2v0h-2v.7h-2v-.4h-2v-.4h-2v.7h-2v.3h-2v-.7h-2v-.3h-2v-.1h-2v.7h-2v-.1h-2v0h-2v0h-2v0h-2v-.3h-2v-.2h-2v.6h-2v-.6h-2v.9h-2v-.7h-2v.6h-2v-.4h-2v-.1h-2v-.2h-2v.7h-2v-.1h-2v.3h-2v-.1h-2v-.6h-2v-.4h-2v.4h-2v0h-2v.3h-2v-.2h-2v.3h-2v-.6h-2v0h-2v-.1h-2v0h-2v.8h-2v-.1h-2v-.4h-2v.3h-2v-.7h-2v.3h-2v-.1h-2v.6h-2v-.1h-2v-.1h-2v1.2h-2v-.4h-2v-1.4h-2v.3h-2v.9h-2v-.7h-2v-.2h-2v-.1h-2v0h-2v0h-2v-.1h-2v.4h-2v.7h-2v-1h-2v.8h-2v-.7h-2v0h-2v-.2h-2v.6h-2v-.5h-2v-.2h-2v.3h-2v.9h-2v0h-2v-.5h-2v-.4h-2v-.1h-2v.5h-2v-.6h-2v.2h-2v.8h-2v-.8h-2v0h-2v0h-2v-.2h-2v.3h-2v-.1h-2v-.3h-2v.4h-2v-.4h-2v1.4h-2v-.8h-2v-.2h-2v.7h-2v-.8h-2v1.2h-2v-1.3h-2v.9h-2v-.9h-2v-.1h-2v.2h-2v.7h-2v-.8h-2v1h-2v-1h-2v-.2h-2v.4h-2v1h-2v-.7h-2v-.6h-2v.3h-2v.1h-2v-.2h-2v.1h-2v0h-2v.5h-2v-.8h-2v1.2h-2v-.5h-2v-.1h-2v.1h-2v0h-2v-.7h-2v1.1h-2v-1.2h-2v0h-2v.6h-2v0h-2v-.3h-2v.6h-2v-.7h-2v-.2h-2v.5h-2v.8h-2v-1h-2v.6h-2v-.1h-2v-.1h-2v-.4h-2v-.1h-2v-.1h-2v.6h-2v.3h-2v.3h-2v-1h-2v.1h-2v0h-2v.2h-2v.6h-2v-.8h-2v1.1h-2v-.6h-2v-.2h-2v0h-2v.9h-2v-1.4h-2v-.1h-2v-.1h-2v.8h-2v-.7h-2v.5h-2v.1h-2v-.7h-2v0h-2v1.2h-2v-1h-2v-.2h-2v.6h-2v1h-2v-1.4h-2v-.2h-2v0h-2v.9h-2v-.6h-2v-.1h-2v1.3h-2v-.1h-2v-.5h-2v-.9h-2v0h-2v.5h-2v-.3h-2v.2h-2v.4h-2v.4h-2v-.2h-2v-.8h-2v.3h-2v-.5h-2v.5h-2v1.3h-2v-1.7h-2v.6h-2v-.7h-2v.1h-2v.4h-2v-.4h-2v.4h-2v.2h-2v-.4h-2v0h-2v.1h-2v-.1h-2v.4h-2v.1h-2v-.8h-2v0h-2v.4h-2v.7h-2v0h-2v-1h-2v.1h-2v1.3h-2v-1.4h-2v.3h-2v-.4h-2v.8h-2v.4h-2v-.5h-2v0h-2v-.6h-2v.3h-2v.4h-2v.2h-2v-.8h-2v-.2h-2v.7h-2v.1h-2v-.5h-2v.3h-2v-.3h-2v.9h-2v-1.1h-2v1.1h-2v-1h-2v.6h-2v-.2h-2v0h-2v.3h-2v-.4h-2v-.3h-2v.5h-2v-.3h-2v-.1h-2v.2h-2v-.3h-2v.5h-2v.2h-2v-.7h-2v.4h-2v-.2h-2v-.3h-2v1.5h-2v-.6h-2v-.7h-2v.6h-2v-.9h-2v.1h-2v.6h-2v.8h-2v0h-2v-.8h-2v-.6h-2v.2h-2v-.3h-2v1.7h-2v-.6h-2v-.6h-2v.5h-2v-.6h-2v-.3h-2v.3h-2v0h-2v.7h-2v-1.1h-2v.8h-2v-.5h-2v-.1h-2v0h-2v.9h-2v-.9h-2v.1h-2v.1h-2v0h-2v-.1h-2v.9h-2v-.7h-2v-.5h-2v.3h-2v.5h-2v.4h-2v-.9h-2v.6h-2v-.2h-2v.4h-2v-.4h-2v.6h-2v-.8h-2v-.1h-2v.3h-2v-.6h-2v-.1h-2v.4h-2v.4h-2v.2h-2v0h-2v-.7h-2v0h-2v-.2h-2v.9h-2v-.4h-2v-.3h-2v-.2h-2v1.1h-2v-1h-2v.2h-2v.8h-2v-1h-2v.1h-2zM231 228.5h2v-.3h2v-.6h2v-.1h2v1h2v-1.1h2v1.4h2v-.5h2v-.3h2v.7h2v-.6h2v-.7h2v1.1h2v-.6h2v.5h2v-.8h2v.4h2v0h2v-.5h2v.1h2v1h2v0h2v-.2h2v.1h2v-.1h2v-1.8h2v1.6h2v.4h2v-1h2v-.5h2v1h2v0h2v.2h2v.3h2v.1h2v0h2v-.4h2v.3h2v-.7h2v.7h2v-.2h2v-.2h2v.2h2v.3h2v-.2h2v.1h2v0h2v-.3h2v.3h2v-.3h2v.3h2v0h2v-.1h2v-.2h2v.3h2v.1h2v-1.1h2v.9h2v0h2v-.2h2v.1h2v-.7h2v.5h2v.4h2v-.6h2v-.5h2v.2h2v.5h2v.5h2v-.7h2v.7h2v-.6h2v-.5h2v1h2v-.5h2v-1.5h2v2.1h2v.1h2v-.3h2v.1h2v-.3h2v.2h2v.1h2v.1h2v-.4h2v.3h2v-.2h2v-.6h2v.9h2v-.1h2v-.2h2v-.3h2v.4h2v0h2v.1h2v-.7h2v-.4h2v.6h2v.6h2v-.7h2v.4h2v.3h2v-.1h2v0h2v-1.4h2v1h2v-.1h2v.7h2v-1.4h2v1.3h2v-.2h2v.1h2v.1h2v0h2v0h2v-.4h2v-.3h2v-.1h2v.5h2v-.1h2v0h2v-1.1h2v.4h2v.8h2v-.6h2v.8h2v-1.1h2v.5h2v.4h2v-.9h2v.7h2v-1.1h2v.9h2v.2h2v.1h2v.5h2v-.1h2v-1h2v1h2v.1h2v-.1h2v-.4h2v-.2h2v-.1h2v0h2v.7h2v-.8h2v.2h2v.5h2v-.2h2v-1.7h2v1.4h2v.4h2v.1h2v-.5h2v.6h2v-1.3h2v1.2h2v-.1h2v-.5h2v.4h2v-.6h2v.8h2v-.9h2v.8h2v-.2h2v-.8h2v1.2h2v0h2v-.2h2v0h2v-.2h2v.1h2v-.1h2v.3h2v-.5h2v.2h2v.4h2v-.4h2v-.1h2v.1h2v-.8h2v1.2h2v-.7h2v.4h2v.3h2v-.1h2v-.3h2v.1h2v.3h2v-.4h2v-1.1h2v-.3h2v1.4h2v.3h2v0h2v-.5h2v.2h2v-.5h2v-1.1h2v1.7h2v.2h2v-.1h2v.2h2v-.3h2v-.1h2v.1h2v-.6h2v.5h2v-.1h2v.2h2v.3h2v-.6h2v.6h2v-1.1h2v.4h2v.4h2v-.1h2v.3h2v-.1h2v0h2v-.1h2v.3h2v0h2v-.1h2v-.3h2v-.9h2v.4h2v.5h2v-.2h2v.4h2v-1.3h2v.9h2v-.4h2v1h2v-.2h2v-.2h2v.2h2v0h2v-.3h2v.6h2v-.1h2v-.5h2v-.2h2v-.2h2v-.5h2v0h2v1.3h2v.1h2v-.3h2v.3h2v-.9h2v.7h2v-.2h2v-.8h2v.6h2v0h2v.6h2v-.6h2v.6h2v-.7h2v.1h2v.2h2v.2h2v-.1h2v-.3h2v0h2v.2h2v-.2h2v.5h2v-.4h2v-.9h2v0h2v1.2h2v-1.1h2v.3h2v-.2h2v1.2h2v-1.3h2v-.2h2v1.4h2v-.3h2v-.2h2v.2h2v-.7h2v.9h2v-.9h2v.2h2v.7h2v.2h2v0h2v-.5h2v.5h2v0h2v-1.1h2v1.1h2v-1.8h2v1.4h2v-.4h2v.3h2v-.9h2v.3h2v.8h2v-.5h2v-.5h2v.5h2v.4h2v0h2v-1.4h2v1h2v0h2v.8h2v-.1h2v-.3h2v.4h2v-.5h2v-1h2v1.4h2v-.3h2v-.7h2v0h2v.6h2v.1h2v.3h2v-.7h2v.7h2v-.1h2v-.7h2v-.3h2v.4h2v.8h2v-.2h2v-.1h2v.3h2v-1h2v.6h2v-.3h2v0h2v.7h2v-.1h2v.1h2v-.7h2v.7h2v-1h2v.6h2v.1h2v-.3h2v-.7h2v.9h2v.3h2v-.5h2v.3h2v0h2v-.7h2v.7h2v.3h2v0h2v-.7h2v.3h2v.3h2v-.8h2v.1h2v0h2v.8h2v-.3h2v.2h2v-.7h2v-.4h2v1.2h2v-.8h2v.3h2v.3h2v-.6h2v.6h2v-.1h2v-1.1h2v.4h2v1h2v-.1h2v.1h2v0h2v-.7h2v.5h2v.1h2v-1.1h2v1.1h2v.1h2v0h2v-.1h2v-1.1h2v.5h2v.6h2v-.6h2v-.1h2v.3h2v-.2h2v.6h2v-.1h2v-.2h2v.3h2v-.7h2v-.4h2v-.1h2v.4h2v.9h2v-.7h2v.3h2v-.1h2v-.6h2v.9h2v-.6h2v.4h2v-1h2v.5h2v-.7h2v.7h2v0h2v.8h2v-.2h2v-.4h2v.5h2v-.7h2v.6h2v0h2v-.2h2v.4h2v-.8h2v.3h2v.2h2v0h2v-.1h2v-.9h2v-.1h2v1.6h2v-.7h2v-.3h2v-.1h2v.2h2v.2h2v.5h2v-.2h2v.2h2v-1h2v.4h2v.7h2v-.1h2v.1h2v-.7h2v.3h2v-.3h2v.7h2v-1.5h2v1.1h2v.4h2v-.2h2v-.2h2v-.2h2v.5h2v-.6h2v.3h2v.2h2v.2h2v-1.5h2v.9h2v0h2v0h2v-.1h2v.5h2v-1.2h2v1.3h2v-.1h2v-.6h2v.6h2v-.7h2v.7h2v-.4h2v.2h2v.1h2v.2h2v.1h2v-.4h2v.2h2v.3h2v-.8h2v.3h2v0h2v.3h2v-1h2v.5h2v.5h2v-1.4h2v.6h2v-.2h2v.6h2v.4h2v-.1h2v-.1h2v-.4h2v.2h2v-.1h2v-.4h2v1h2v-.3h2v-.1h2v.1h2v-.9h2v.3h2v.8h2v0h2v-.9h2v1h2v-.2h2v.2h2v-1.5h2v1.1h2v.3h2v-.6h2v.4h2v.2h2v.1h2v-.1h2v.1h2v-.5h2v.2h2v-.5h2v-.1h2v-.3h2v.5h2v.8h2v-.7h2v.6h2v0h2v-.1h2v-.2h2v-.2h2v-1.2h2v1.7h2v-.2h2v-.2h2v.2h2v-.4h2v-1h2v1h2v.6h2v.1h2v-.2h2v-.1h2v-.7h2v.1h2v.7h2v-.3h2v0h2v.1h2v-1h2v0h2v1.2h2v-.8h2v.2h2v-.3h2v.8h2v-.2h2v.4h2v-.4h2v.3h2v-.7h2v-.7h2v.9h2v.5h2v-.4h2v0h2v.5h2v-1.1h2v.8h2v.1h2v-.4h2v.6h2v-.2h2v.1h2v-.3h2v.2h2v.1h2v-.5h2v-.1h2v.5h2v-1.1h2v.8h2v-.4h2v-.2h2v.7h2v-.2h2v.5h2v-1.2h2v.6h2v-.9h2v1.5h2v-.8h2v.5h2v0h2v-.2h2v-.3h2v.3h2v.3h2v-.9h2v.4h2v.7h2v0h2v-.6h2v.3h2v.4h2v-.4h2v.2h2v.1h2v-.1h2v.2h2v-.1h2v-.3h2v-1.3h2v1.5h2v-.7h2v.1h2v.1h2v-.2h2v.4h2v.5h2v-.1h2v0h2v-.5h2v-.5h2v.8h2v-.2h2v-.1h2v-.5h2v.2h2v.5h2v.2h2v-.1h2v-1.3h2v1.2h2v.4h2v0h2v-.5h2v-1.5h2v1.8h2v0h2v-.3h2v.1h2v.3h2v0h2v0h2v-1h2v.7h2v0h2v0h2v-.8h2v1.1h2v-.1h2v-.1h2v.2h2v-.2h2v.2h2v-.3h2v.4h2v-.3h2v0h2v-.7h2v1h2v-.3h2v0h2v.3h2v-.1h2v-.3h2v.1h2v.1h2v-1.4h2v.7h2v1h2v-.2h2v-.7h2v.5h2v-1h2v1.1h2v-.9h2v.9h2v-.1h2v-.1h2v.4h2v-.8h2v.3h2v-.9h2v1.3h2v0h2v-.1h2v-.5h2v.5h2v-.2h2v-1h2v1.4h2v-.6h2v-.4h2v0h2v.7h2v-.2h2v-.3h2v.4h2v-.8h2v1.1h2v-.9h2v0h2v.9h2v-.7h2v.7h2v-.4h2v.6h2v-.1h2v-.5h2v-.6h2v.9h2v0h2v-.4h2v.5h2v-.1h2v-.9h2v.4h2v.2h2v-.8h2v1.2h2v-.2h2v.1h2v-1h2v1.2h1v6.7h-1v.2h-2v-.2h-2v-.4h-2v.9h-2v.4h-2v-.8h-2v-.5h-2v1.1h-2v.1h-2v-1.4h-2v1.2h-2v-.7h-2v1.3h-2v-1.4h-2v-.4h-2v.1h-2v.4h-2v.6h-2v-.6h-2v-.2h-2v-.2h-2v1.1h-2v-.1h-2v-1h-2v.5h-2v.5h-2v-.9h-2v.8h-2v-.6h-2v.1h-2v.1h-2v-.4h-2v.4h-2v.3h-2v.2h-2v-.3h-2v-.3h-2v.1h-2v-.3h-2v.3h-2v0h-2v-.2h-2v-.3h-2v.3h-2v.3h-2v-.3h-2v.5h-2v-.2h-2v-.3h-2v-.4h-2v.7h-2v.5h-2v-1.2h-2v.6h-2v-.4h-2v.1h-2v.5h-2v0h-2v-.7h-2v.7h-2v-.8h-2v1.1h-2v-.4h-2v.6h-2v-.4h-2v-.9h-2v.8h-2v.2h-2v-.6h-2v.5h-2v-.9h-2v.1h-2v1.2h-2v.3h-2v-1h-2v-.1h-2v-.1h-2v1h-2v-.3h-2v.2h-2v-.5h-2v-.3h-2v0h-2v-.1h-2v.1h-2v-.2h-2v0h-2v.3h-2v.9h-2v-.9h-2v-.6h-2v.6h-2v-.1h-2v-.2h-2v0h-2v.9h-2v-.6h-2v.3h-2v-.4h-2v-.1h-2v-.1h-2v-.1h-2v.9h-2v-.7h-2v-.3h-2v-.1h-2v.2h-2v0h-2v0h-2v.4h-2v.7h-2v-1.2h-2v-.1h-2v0h-2v.2h-2v1.1h-2v-1.1h-2v.1h-2v1.3h-2v-1.2h-2v-.3h-2v-.1h-2v.2h-2v.6h-2v-.1h-2v.2h-2v-.7h-2v.3h-2v.4h-2v-.5h-2v.5h-2v-.8h-2v.6h-2v-.1h-2v.2h-2v.7h-2v-1h-2v-.2h-2v.6h-2v.3h-2v-1.1h-2v.1h-2v.3h-2v-.3h-2v-.1h-2v1h-2v-.8h-2v-.3h-2v.1h-2v-.1h-2v.4h-2v0h-2v-.2h-2v-.1h-2v.8h-2v-.3h-2v-.2h-2v.6h-2v-.1h-2v-.8h-2v0h-2v1.1h-2v-1h-2v0h-2v0h-2v-.2h-2v.1h-2v0h-2v.6h-2v0h-2v.2h-2v-.8h-2v.1h-2v-.1h-2v1.1h-2v-.9h-2v-.1h-2v-.1h-2v.3h-2v-.3h-2v.2h-2v.2h-2v-.4h-2v.2h-2v-.2h-2v.9h-2v-.6h-2v.3h-2v.1h-2v.9h-2v-1.7h-2v.7h-2v-.2h-2v-.5h-2v.8h-2v-.4h-2v1.6h-2v-1.7h-2v.3h-2v-.3h-2v.4h-2v0h-2v-.5h-2v.9h-2v-1.1h-2v.3h-2v.2h-2v-.3h-2v0h-2v.2h-2v.7h-2v-.7h-2v1.4h-2v-1.3h-2v.1h-2v-.3h-2v.6h-2v0h-2v-.3h-2v.5h-2v-.6h-2v.3h-2v.9h-2v-.8h-2v-.2h-2v-.6h-2v0h-2v.4h-2v.1h-2v-.4h-2v.9h-2v-1h-2v.7h-2v-.7h-2v1.5h-2v-1.5h-2v.9h-2v.2h-2v-.9h-2v0h-2v.3h-2v-.2h-2v1.1h-2v-1.1h-2v1h-2v-.8h-2v-.2h-2v-.3h-2v.5h-2v1h-2v-1.3h-2v-.3h-2v.2h-2v1.5h-2v-1.3h-2v-.1h-2v-.2h-2v.2h-2v0h-2v-.2h-2v0h-2v-.1h-2v1h-2v-.9h-2v-.1h-2v.9h-2v-.7h-2v-.1h-2v.3h-2v-.3h-2v.2h-2v-.2h-2v.6h-2v.4h-2v-.5h-2v-.2h-2v-.2h-2v.3h-2v-.3h-2v1.3h-2v-1.3h-2v.9h-2v-.8h-2v.6h-2v.4h-2v0h-2v-.7h-2v-.5h-2v.1h-2v0h-2v.8h-2v-.9h-2v.3h-2v.9h-2v-1h-2v.6h-2v-.9h-2v.6h-2v.1h-2v-.6h-2v1.2h-2v-1.1h-2v0h-2v-.2h-2v.7h-2v-.6h-2v.3h-2v-.2h-2v-.1h-2v.9h-2v-.9h-2v.5h-2v-.1h-2v-.1h-2v-.4h-2v.2h-2v.9h-2v-.8h-2v.3h-2v.6h-2v.3h-2v-.4h-2v-.9h-2v.2h-2v-.3h-2v-.1h-2v.1h-2v.5h-2v-.6h-2v.6h-2v-.1h-2v.6h-2v-.7h-2v-.3h-2v0h-2v0h-2v.3h-2v.1h-2v-.2h-2v-.1h-2v-.1h-2v1.9h-2v-2h-2v.2h-2v-.2h-2v1h-2v.2h-2v-.9h-2v-.1h-2v1.1h-2v-1.3h-2v.4h-2v-.3h-2v.3h-2v-.4h-2v.3h-2v0h-2v0h-2v-.1h-2v.2h-2v.5h-2v-.5h-2v.2h-2v-.3h-2v0h-2v.1h-2v.3h-2v-.7h-2v1h-2v-.6h-2v.4h-2v.1h-2v-.6h-2v-.1h-2v.7h-2v-.6h-2v.5h-2v-.6h-2v.1h-2v1.1h-2v-1.1h-2v-.3h-2v1.3h-2v-1.2h-2v.4h-2v-.4h-2v.3h-2v-.3h-2v.1h-2v.8h-2v.4h-2v-1.3h-2v.7h-2v-.8h-2v.1h-2v.3h-2v.9h-2v-.9h-2v-.3h-2v.6h-2v-.5h-2v1.4h-2v-1.5h-2v.3h-2v-.2h-2v-.1h-2v1.1h-2v-.7h-2v-.2h-2v0h-2v-.3h-2v.4h-2v0h-2v0h-2v-.3h-2v.9h-2v-.6h-2v-.3h-2v-.1h-2v.9h-2v.4h-2v-1.1h-2v.1h-2v1.1h-2v-1.1h-2v.2h-2v.4h-2v-.1h-2v-.5h-2v.5h-2v-.1h-2v-.5h-2v.6h-2v.3h-2v-.3h-2v-.3h-2v.7h-2v-1.2h-2v.2h-2v-.1h-2v-.1h-2v1.1h-2v-.9h-2v.8h-2v-.9h-2v1.2h-2v-.2h-2v-.9h-2v0h-2v.5h-2v-.4h-2v-.2h-2v.5h-2v-.4h-2v1.2h-2v-.1h-2v-.1h-2v-1h-2v.2h-2v-.3h-2v.4h-2v-.4h-2v.1h-2v-.1h-2v1.3h-2v-.6h-2v-.6h-2v1h-2v-1h-2v1.2h-2v-.5h-2v-.4h-2v-.1h-2v-.2h-2v.8h-2v-.9h-2v-.1h-2v.1h-2v.4h-2v.5h-2v-.3h-2v.7h-2v-.5h-2v.5h-2v-.8h-2v-.2h-2v-.1h-2v1h-2v-1h-2v0h-2v.4h-2v.6h-2v-.7h-2v1h-2v-1.5h-2v.3h-2v1.3h-2v-1.5h-2v.1h-2v1.5h-2v-1.3h-2v-.4h-2v.1h-2v.3h-2v-.3h-2v0h-2v0h-2v.4h-2v.5h-2v-1h-2v0h-2v.3h-2v.9h-2v-.4h-2v-.6h-2v.1h-2v.2h-2v-.4h-2v.4h-2v-.4h-2v.8h-2v-.5h-2v.6h-2v-.1h-2v-.1h-2v-.6h-2v1.1h-2v-1.2h-2v.5h-2v.3h-2v.2h-2v-.2h-2v-.8h-2v.8h-2v-.5h-2v-.4h-2v.5h-2v-.5h-2v.1h-2v.1h-2v-.3h-2v1.6h-2v-1.3h-2v.1h-2v1.1h-2v-1h-2v-.5h-2v0h-2v.4h-2v-.2h-2v.2h-2v-.2h-2v.6h-2v-.4h-2v1.1h-2v-.7h-2v-.5h-2v.4h-2v0h-2v.9h-2v-1.4h-2v.6h-2v-.6h-2v0h-2v.2h-2v-.2h-2v.4h-2v.4h-2v-.2h-2v-.3h-2v.2h-2v-.7h-2v.1h-2v.1h-2v1h-2v-.8h-2v.6h-2v.1h-2v-1h-2v0h-2v1.8h-2v-1.7h-2v.1h-2v.2h-2v-.5h-2v.1h-2v0h-2v.2h-2v-.3h-2v1h-2v-1h-2v1.1h-2v-.5h-2v1.3h-2v-1h-2v-.5h-2v.2h-2v-.2h-2v-.4h-2v.4h-2v.9h-2v-1.3h-2v.6h-2v-.2h-2v-.3h-2v.5h-2v0h-2v-.3h-2v.5h-2v-.7h-2v1h-2v-.7h-2v.6h-2v.3h-2v-.8h-2v-.1h-2v.4h-2v-.6h-2v0h-2v-.2h-2v.1h-2v.8h-2v-.3h-2v-.3h-2v.8h-2v-1.1h-2v.5h-2v1h-2v-1.1h-2v-.2h-2v.6h-2v0h-2v-.7h-2v1.8h-2v-1.8h-2v.3h-2v0h-2v.7h-2v-.8h-2v0h-2v1.9h-2v-1.3h-2v-.9h-2v.2h-2v.5h-2v.9h-2v-.8h-2v.8h-2v-.9h-2v-.6h-2v.6h-2v-.1h-2v-.4h-2v.3h-2v.2h-2v-.5h-2v.2h-2v-.4h-2v.6h-2v0h-2v0h-2v.6h-2v-.9h-2v.3h-2v-.1h-2v.1h-2v-.6h-2v.2h-2v.1h-2v.4h-2v1.1h-2v-1.7h-2v1h-2v-.4h-2v-.1h-2v.2h-2v.3h-2v-.7h-2v-.4h-2v1.6h-2v-1.2h-2v-.2h-2v0h-2v0h-2v-.1h-2v.8h-2v-.7h-2v.1h-2v0h-2v-.1h-2v.8h-2v-.4h-2v0h-2v1.2h-2v-1.6h-2v-.1h-2v.2h-2v.1h-2v-.2h-2v2.1h-2v-1.1h-2v-.5h-2v.3h-2v-.7h-2v-.2h-2v.4h-2v.5h-2v-.9h-2v1.7h-2v-1.6h-2v1.4h-2v-1.1h-2v.1h-2v-.1h-2v1.1h-2v-.9h-2v-.1h-2v.8h-2v-1.3h-2v1.4h-2v-.7h-2v.9h-2v-.3h-2v0h-2v-.9h-2v.3h-2v-.2h-2v-.4h-2v.8h-2zM231 346.3h2v-1.1h2v.8h2v-.1h2v.7h2v-.4h2v-.1h2v.2h2v.2h2v-.4h2v-.1h2v0h2v.6h2v-.7h2v.5h2v.1h2v-1h2v1h2v-.2h2v-.6h2v.8h2v-.5h2v.3h2v-1.1h2v1.3h2v-.3h2v.2h2v.2h2v-.2h2v-.2h2v-.4h2v.2h2v-.4h2v.8h2v.2h2v-1.1h2v.5h2v-.3h2v.9h2v-.1h2v-.3h2v-.1h2v0h2v.4h2v-.9h2v.2h2v.7h2v.2h2v-.5h2v-.2h2v.3h2v.2h2v.2h2v-1.2h2v1h2v-.5h2v-.8h2v1.4h2v.1h2v-.3h2v.1h2v-.6h2v0h2v-1.2h2v1.4h2v.1h2v.2h2v-1.2h2v.2h2v1h2v-.2h2v0h2v.4h2v-.4h2v.1h2v-.5h2v.7h2v-.5h2v-.6h2v.8h2v-.1h2v.6h2v-.4h2v-.3h2v.6h2v-1.4h2v.6h2v.8h2v-.5h2v-.2h2v.4h2v-.6h2v.6h2v-.4h2v.7h2v-.8h2v.8h2v-.3h2v.1h2v-.3h2v.4h2v-.5h2v-.1h2v0h2v.8h2v-.1h2v-.1h2v-.4h2v.6h2v-1.1h2v0h2v0h2v.1h2v.4h2v.3h2v.3h2v-.7h2v.4h2v-.3h2v0h2v-.7h2v.8h2v-.5h2v1h2v-1.9h2v.9h2v-1h2v2h2v-1.1h2v1h2v-.5h2v.5h2v-.5h2v.1h2v.4h2v-1.3h2v1.3h2v-1.3h2v0h2v.8h2v.6h2v-.8h2v.8h2v-.3h2v-.2h2v-.4h2v.8h2v-1.1h2v1.1h2v-.9h2v.5h2v0h2v-.3h2v-.6h2v1.1h2v.2h2v-.8h2v-.4h2v.3h2v.4h2v0h2v.3h2v-1.2h2v1.3h2v-.4h2v.3h2v0h2v.1h2v-1.5h2v1.3h2v.2h2v-.1h2v.2h2v-1h2v1h2v.1h2v-.6h2v0h2v.4h2v-1.1h2v1.2h2v0h2v0h2v-.8h2v.4h2v-.5h2v.9h2v-.8h2v.5h2v.2h2v-.3h2v.2h2v-.2h2v-.2h2v-.9h2v0h2v1.3h2v-.1h2v-.2h2v.4h2v-1.1h2v1h2v0h2v.3h2v-.1h2v-.2h2v.2h2v-.3h2v-.2h2v.6h2v-.6h2v-.5h2v1h2v-.8h2v.4h2v-.5h2v.9h2v-.3h2v.2h2v.2h2v-.1h2v-1h2v-.1h2v.6h2v-.1h2v.6h2v.1h2v-.1h2v-.6h2v0h2v.1h2v.2h2v-.2h2v.4h2v0h2v-.7h2v.6h2v.1h2v-.9h2v1h2v-1.1h2v.5h2v.6h2v-.8h2v.2h2v0h2v-.5h2v1h2v-1.4h2v1.1h2v.4h2v-.7h2v-.3h2v.4h2v.1h2v.2h2v0h2v.2h2v-.1h2v-1.1h2v-.3h2v1.2h2v-.9h2v1.3h2v-.1h2v-.1h2v0h2v-.9h2v1h2v-.1h2v-.3h2v-.3h2v.7h2v-.4h2v-.3h2v.8h2v-.4h2v.2h2v.1h2v0h2v-.7h2v.4h2v.1h2v-1.2h2v.7h2v.3h2v.4h2v.2h2v-.2h2v-.1h2v-.9h2v1.2h2v-1.2h2v-.2h2v.4h2v-.2h2v.7h2v-.3h2v.2h2v.3h2v-.5h2v.7h2v-.2h2v.1h2v0h2v-1.1h2v.4h2v.2h2v0h2v.3h2v-.1h2v-1.3h2v1.4h2v-.2h2v-.8h2v.8h2v.3h2v-.2h2v.4h2v-.2h2v-.8h2v.6h2v-.1h2v.5h2v0h2v0h2v-.2h2v-.1h2v-.8h2v-.2h2v1.3h2v-2h2v1.6h2v-.5h2v.9h2v-.7h2v.7h2v-1.1h2v1.1h2v-.3h2v.2h2v0h2v0h2v-.7h2v.4h2v.3h2v-1.1h2v.9h2v.2h2v-.2h2v0h2v-.3h2v.3h2v.2h2v-1h2v1h2v-.2h2v-1.4h2v.8h2v-.1h2v.1h2v-.2h2v1.1h2v-1h2v.3h2v.3h2v.3h2v-.4h2v.6h2v-.8h2v.5h2v.3h2v-1.1h2v.4h2v.6h2v-.1h2v-.8h2v.4h2v.2h2v-.8h2v.8h2v0h2v-.3h2v-.8h2v.9h2v0h2v-.2h2v-.1h2v-.4h2v1h2v-1.1h2v0h2v-.7h2v1.3h2v-.3h2v.4h2v.3h2v.1h2v0h2v.1h2v-.5h2v.5h2v-.5h2v-.2h2v.4h2v0h2v.1h2v.1h2v.1h2v-.4h2v-.3h2v.1h2v.4h2v-.5h2v.3h2v.5h2v-.1h2v-.8h2v.8h2v-.6h2v.4h2v.1h2v-.9h2v1h2v-.2h2v.4h2v-.7h2v.6h2v-.3h2v.1h2v-.3h2v.5h2v-1.5h2v1.4h2v-.4h2v-.2h2v.1h2v.7h2v-.3h2v-.5h2v.2h2v-.3h2v.8h2v0h2v-.5h2v-.2h2v.8h2v-.5h2v0h2v.4h2v-.1h2v-.9h2v.5h2v-.3h2v.8h2v0h2v-.9h2v0h2v-.7h2v.9h2v.3h2v.1h2v.3h2v0h2v-.8h2v.9h2v-.9h2v.8h2v-.3h2v.4h2v-1.2h2v.6h2v-.5h2v.8h2v.1h2v-.7h2v0h2v.5h2v.2h2v-1.9h2v1.4h2v.5h2v-.1h2v.2h2v-.4h2v.3h2v.2h2v-.2h2v-.6h2v-.3h2v.8h2v0h2v0h2v-1h2v.9h2v-.2h2v-.1h2v-.7h2v1h2v.4h2v-.3h2v0h2v-1.3h2v.6h2v.5h2v-.1h2v-1.4h2v1.7h2v0h2v-.3h2v-.9h2v1.1h2v-.1h2v.5h2v-2h2v1.6h2v.3h2v-.2h2v-.6h2v.4h2v.5h2v-1.6h2v.8h2v.4h2v-1.5h2v1.9h2v-.5h2v.4h2v-.7h2v.3h2v.1h2v0h2v-.5h2v.5h2v.4h2v0h2v-.6h2v.6h2v-.9h2v.5h2v.3h2v-.4h2v.5h2v-.2h2v.1h2v0h2v0h2v-.5h2v.3h2v.2h2v-1.2h2v1.2h2v-.3h2v0h2v-.9h2v1h2v-.5h2v.7h2v-.3h2v-.2h2v.3h2v.1h2v-.3h2v.4h2v-.4h2v.1h2v-.2h2v.5h2v0h2v0h2v-.2h2v-.4h2v.6h2v-.7h2v.4h2v.3h2v-.4h2v-1.2h2v1h2v-.1h2v.1h2v-.8h2v.9h2v.4h2v.2h2v-.6h2v.4h2v-.3h2v.1h2v-.4h2v.3h2v0h2v.4h2v-.5h2v-1h2v1.1h2v.1h2v-.1h2v0h2v.2h2v-.4h2v.4h2v-.9h2v-.2h2v1.3h2v-.2h2v.1h2v-.3h2v.4h2v-.5h2v.1h2v-1.2h2v1.5h2v-.2h2v-1h2v1.1h2v0h2v-.8h2v.8h2v-.6h2v.9h2v-.7h2v.5h2v-.4h2v.2h2v.4h2v-.8h2v.7h2v0h2v-.4h2v-.6h2v.6h2v-.9h2v0h2v.5h2v-.3h2v1.2h2v-.2h2v0h2v.1h2v-.5h2v-.6h2v.6h2v.5h2v0h2v-1.2h2v1h2v-.9h2v.2h2v.5h2v.2h2v-.1h2v.1h2v-.2h2v.2h2v-.6h2v.3h2v-.4h2v.5h2v.3h2v.2h2v0h2v-.5h2v.1h2v.3h2v-.2h2v-.1h2v-.9h2v1.1h2v-1.6h2v1.6h2v-.6h2v0h2v-.6h2v1.1h2v-.4h2v.3h2v0h2v.3h2v-1h2v1h2v.1h2v-.3h2v-.5h2v.4h2v-.1h2v.4h2v-.2h2v-.1h2v-.1h2v.4h2v.1h2v-.1h2v-.8h2v.5h2v.4h2v-.9h2v.5h2v0h2v.4h2v-.1h2v-.4h2v-.1h2v-.3h2v.3h2v.3h2v-.9h2v.9h2v-1.1h2v.6h2v.7h2v0h2v-.8h2v-.1h2v.4h2v-.5h2v.4h2v.7h2v-1.2h2v-1.4h2v.6h2v1.5h2v.5h2v-.7h2v-.4h2v.7h2v.2h2v.1h2v-.3h2v-.3h1v6.7h-1v.6h-2v.7h-2v.2h-2v-1.3h-2v.4h-2v-.3h-2v.2h-2v-.2h-2v.1h-2v-.2h-2v0h-2v.5h-2v1h-2v-1.1h-2v0h-2v-.3h-2v.1h-2v.3h-2v-.2h-2v.4h-2v-.4h-2v.5h-2v-.1h-2v.2h-2v-.6h-2v.7h-2v-1.1h-2v.2h-2v.2h-2v-.2h-2v.1h-2v-.3h-2v0h-2v.2h-2v-.2h-2v.2h-2v.1h-2v.9h-2v-1h-2v-.2h-2v1h-2v-.5h-2v-.1h-2v-.2h-2v.3h-2v.1h-2v-.5h-2v-.1h-2v.3h-2v-.3h-2v1.1h-2v-1.1h-2v.7h-2v.2h-2v-.3h-2v-.6h-2v.3h-2v.3h-2v.7h-2v-.4h-2v-.8h-2v.1h-2v0h-2v.1h-2v.3h-2v-.3h-2v-.1h-2v.3h-2v.5h-2v-.1h-2v0h-2v.1h-2v.1h-2v0h-2v-.6h-2v-.2h-2v.2h-2v-.2h-2v-.2h-2v.8h-2v.4h-2v-.2h-2v-.4h-2v-.6h-2v.4h-2v.7h-2v-.5h-2v-.7h-2v.1h-2v0h-2v0h-2v.3h-2v.3h-2v-.6h-2v.1h-2v.1h-2v.4h-2v-.6h-2v0h-2v1.5h-2v-1.1h-2v0h-2v-.3h-2v0h-2v-.1h-2v.2h-2v.7h-2v-.5h-2v-.3h-2v-.2h-2v0h-2v.5h-2v-.5h-2v.1h-2v-.1h-2v.4h-2v-.4h-2v.4h-2v.7h-2v-.2h-2v-.9h-2v0h-2v.2h-2v.3h-2v-.1h-2v-.3h-2v.1h-2v0h-2v.7h-2v-.7h-2v.5h-2v-.1h-2v.3h-2v-.1h-2v-.1h-2v1.2h-2v-1.8h-2v.6h-2v.2h-2v-.5h-2v.1h-2v.2h-2v-.7h-2v.4h-2v-.2h-2v1.1h-2v-1.2h-2v.4h-2v-.5h-2v.1h-2v.3h-2v-.1h-2v-.1h-2v.4h-2v.8h-2v-.9h-2v-.4h-2v.2h-2v-.2h-2v-.1h-2v0h-2v0h-2v0h-2v.9h-2v-.2h-2v-.3h-2v-.4h-2v.1h-2v0h-2v0h-2v.1h-2v1h-2v-1.1h-2v.2h-2v-.2h-2v.4h-2v-.5h-2v.5h-2v.3h-2v-.8h-2v.3h-2v.4h-2v-.6h-2v.8h-2v-.7h-2v.2h-2v-.1h-2v.2h-2v.1h-2v.2h-2v-.6h-2v1.6h-2v-1.2h-2v1h-2v-.7h-2v-.6h-2v.1h-2v-.4h-2v.5h-2v-.4h-2v1.3h-2v-.1h-2v-.9h-2v-.2h-2v.3h-2v-.3h-2v.1h-2v.9h-2v-1h-2v.7h-2v-.7h-2v0h-2v-.2h-2v.2h-2v1.2h-2v-.7h-2v-.1h-2v-.3h-2v1.3h-2v-1.3h-2v.3h-2v-.3h-2v1.2h-2v-1.5h-2v.6h-2v.1h-2v-.5h-2v.5h-2v-.6h-2v.3h-2v.4h-2v.3h-2v-.2h-2v-.6h-2v.5h-2v-.2h-2v.1h-2v-.4h-2v.1h-2v0h-2v-.3h-2v.7h-2v-.5h-2v.1h-2v.1h-2v.3h-2v-.3h-2v.2h-2v.2h-2v-.8h-2v.4h-2v-.1h-2v1h-2v-.7h-2v0h-2v-.4h-2v.6h-2v-.3h-2v.1h-2v.6h-2v-1h-2v1.4h-2v-1.6h-2v0h-2v.6h-2v-.4h-2v.4h-2v-.4h-2v0h-2v-.3h-2v.3h-2v.1h-2v.5h-2v1.1h-2v-1.7h-2v-.1h-2v-.1h-2v.2h-2v0h-2v.6h-2v-.6h-2v0h-2v-.1h-2v.4h-2v.3h-2v-.5h-2v-.4h-2v.1h-2v-.2h-2v.8h-2v-.8h-2v.3h-2v.1h-2v.4h-2v.2h-2v-.9h-2v.5h-2v-.5h-2v.6h-2v-.4h-2v.9h-2v0h-2v-1.1h-2v0h-2v0h-2v0h-2v0h-2v1.2h-2v-.5h-2v-.3h-2v.4h-2v-.3h-2v0h-2v.4h-2v-.6h-2v.5h-2v1.1h-2v-1.2h-2v-.6h-2v.4h-2v-.4h-2v.1h-2v-.1h-2v.6h-2v.4h-2v-1.1h-2v0h-2v.5h-2v-.1h-2v.4h-2v-.4h-2v.3h-2v-.7h-2v.6h-2v.5h-2v-.3h-2v-.5h-2v-.2h-2v0h-2v1.1h-2v-1.1h-2v.1h-2v0h-2v-.1h-2v1.1h-2v-1.1h-2v1.4h-2v-1.2h-2v.1h-2v-.1h-2v.1h-2v-.2h-2v.1h-2v0h-2v-.2h-2v-.1h-2v.5h-2v-.1h-2v.2h-2v-.2h-2v-.2h-2v-.2h-2v.2h-2v.1h-2v.1h-2v-.4h-2v1.4h-2v-1.2h-2v.5h-2v-.3h-2v.4h-2v-.7h-2v0h-2v1.2h-2v-1.2h-2v-.2h-2v.6h-2v-.3h-2v.6h-2v-.4h-2v-.2h-2v-.2h-2v.2h-2v.6h-2v-.2h-2v-.5h-2v.3h-2v0h-2v.2h-2v-.5h-2v-.1h-2v.4h-2v-.1h-2v-.4h-2v1.2h-2v.4h-2v-1.4h-2v1.4h-2v-.9h-2v-.2h-2v.1h-2v-.3h-2v1.2h-2v-.5h-2v-.9h-2v.6h-2v-.6h-2v.1h-2v.5h-2v-.3h-2v-.4h-2v.6h-2v-.6h-2v.7h-2v.2h-2v-.8h-2v.4h-2v.6h-2v-.4h-2v-.6h-2v1.3h-2v-.8h-2v1h-2v-.9h-2v-.4h-2v-.1h-2v.6h-2v-.5h-2v-.1h-2v.7h-2v-.7h-2v.7h-2v.4h-2v.1h-2v-.9h-2v.8h-2v-.7h-2v-.1h-2v-.2h-2v.4h-2v-.3h-2v.5h-2v-.6h-2v.1h-2v1.1h-2v-.7h-2v-.8h-2v.2h-2v-.1h-2v.6h-2v.8h-2v-1.4h-2v.1h-2v.5h-2v-.5h-2v-.1h-2v0h-2v1h-2v-.9h-2v.2h-2v.2h-2v-.3h-2v-.2h-2v-.1h-2v1.2h-2v-.4h-2v-.4h-2v-.1h-2v.5h-2v-.6h-2v.4h-2v-.1h-2v-.3h-2v.1h-2v.3h-2v1.1h-2v-1.2h-2v.1h-2v.7h-2v-.9h-2v0h-2v0h-2v-.2h-2v.4h-2v-.1h-2v.9h-2v-1.3h-2v1.9h-2v-.8h-2v-1h-2v.4h-2v-.5h-2v1.3h-2v-1.2h-2v.8h-2v-.6h-2v1h-2v-.1h-2v.1h-2v-1.3h-2v.7h-2v-.2h-2v.2h-2v-.6h-2v.1h-2v1.4h-2v-1.3h-2v-.3h-2v.8h-2v-.8h-2v.5h-2v-.3h-2v.4h-2v-.5h-2v.3h-2v.5h-2v-1h-2v.1h-2v.3h-2v.3h-2v.2h-2v.5h-2v-1.2h-2v.5h-2v.1h-2v-.4h-2v-.3h-2v.2h-2v-.1h-2v1h-2v-1.1h-2v0h-2v.4h-2v.8h-2v-1.2h-2v.6h-2v.9h-2v-.9h-2v.2h-2v-.6h-2v.6h-2v-.7h-2v.6h-2v-.6h-2v.7h-2v-.3h-2v-.1h-2v.4h-2v-.7h-2v1.6h-2v-1.8h-2v.2h-2v.1h-2v1.2h-2v-1.4h-2v1.4h-2v-1.3h-2v1.9h-2v-1.8h-2v1.3h-2v-.9h-2v-.5h-2v.1h-2v0h-2v0h-2v-.1h-2v.6h-2v-.2h-2v0h-2v0h-2v-.3h-2v1.3h-2v-1.3h-2v-.1h-2v.4h-2v-.3h-2v.7h-2v-.4h-2v-.6h-2v1.2h-2v-.7h-2v-.2h-2v.2h-2v.5h-2v-.4h-2v-.1h-2v.4h-2v-.6h-2v0h-2v.3h-2v.5h-2v-.7h-2v.6h-2v-.3h-2v1.7h-2v-2.3h-2v.3h-2v.4h-2v0h-2v0h-2v-.5h-2v.3h-2v-.3h-2v0h-2v-.1h-2v1.2h-2v-1h-2v.2h-2v-.3h-2v.1h-2v.1h-2v.8h-2v-.9h-2v-.2h-2v.1h-2v1.7h-2v-1.7h-2v.8h-2v-.3h-2v0h-2v-.5h-2v.3h-2v.2h-2v.2h-2v.3h-2v-1.2h-2v.2h-2v.8h-2v-.7h-2v-.3h-2v.5h-2v-.3h-2v.1h-2v1.1h-2v-1.2h-2v-.2h-2v.2h-2v-.2h-2v.2h-2v.4h-2v-.1h-2v-.1h-2v-.2h-2v.1h-2v-.2h-2v-.1h-2v.7h-2v-.4h-2v-.3h-2v.3h-2v.2h-2v-.5h-2v.8h-2v-.7h-2v.1h-2v.5h-2v-.6h-2v.7h-2v-.7h-2v.6h-2v-.5h-2v.6h-2v-.4h-2v-.2h-2v.3h-2v.2h-2v-.8h-2v.8h-2v-.7h-2v0h-2v.3h-2v0h-2v.4h-2v-.4h-2v-.2h-2v-.1h-2v.9h-2v-.5h-2v.2h-2v-.5h-2v.2h-2v.8h-2v-.3h-2v-.4h-2v-.3h-2v.3h-2v-.2h-2v-.1h-2v.3h-2v-.4h-2v0h-2v.6h-2v-.1h-2v0h-2v-.3h-2v.5h-2v-.7h-2v0h-2v.1h-2v.4h-2v.2h-2v0h-2v.7h-2v-1.1h-2v.1h-2v.6h-2v-.6h-2v.2h-2v.2h-2v-.4h-2v.5h-2v.2h-2v-1h-2v-.2h-2v.8h-2v-.3h-2v1.4h-2v-.5h-2v-1.2h-2v0h-2v-.2h-2v.7h-2v-.4h-2v.4h-2v-.5h-2v.5h-2v-.6h-2v.8h-2v-.8h-2zM231 464.6h2v-.1h2v-.1h2v-.6h2v.4h2v.1h2v.2h2v-1.9h2v1.1h2v.9h2v-.1h2v-.5h2v.3h2v.1h2v.1h2v0h2v-.6h2v-1h2v.3h2v.8h2v.6h2v-.2h2v-.9h2v-.3h2v1h2v-.6h2v1h2v-.5h2v.1h2v-.2h2v0h2v.3h2v-.4h2v.3h2v-.5h2v.5h2v-.6h2v-.4h2v.8h2v.2h2v-.7h2v0h2v.7h2v-.1h2v.2h2v0h2v-.3h2v.3h2v-.3h2v.3h2v-.4h2v.7h2v-.4h2v-.5h2v.9h2v-.5h2v.3h2v-.2h2v.2h2v.2h2v-.4h2v0h2v.2h2v-.1h2v-1.6h2v1.7h2v-1.1h2v0h2v1.2h2v0h2v-.9h2v.9h2v-1.4h2v.9h2v.2h2v.2h2v0h2v-.8h2v1h2v0h2v-.8h2v.4h2v.2h2v0h2v-.1h2v-.8h2v.7h2v0h2v.3h2v0h2v-.8h2v.7h2v-1.5h2v1h2v.6h2v-.6h2v.1h2v-.5h2v-.2h2v.2h2v.2h2v-.3h2v.9h2v0h2v-1.9h2v.8h2v1.1h2v-.8h2v1h2v-.2h2v-.2h2v.3h2v.1h2v-.5h2v-.3h2v.4h2v.3h2v-.2h2v0h2v.4h2v-1h2v.4h2v.5h2v-.2h2v0h2v-.1h2v.3h2v-.1h2v-.1h2v-.4h2v.2h2v.2h2v.2h2v-.3h2v0h2v-.2h2v.4h2v-.9h2v1.1h2v0h2v-1h2v1h2v-.7h2v-.1h2v-.7h2v1.1h2v.2h2v-.5h2v.6h2v-.2h2v.3h2v-.4h2v-.2h2v.6h2v-.6h2v.1h2v-.5h2v.6h2v-.1h2v.2h2v-.8h2v.9h2v-.5h2v.5h2v-1h2v1h2v-.1h2v.1h2v-.6h2v.7h2v0h2v-.5h2v.4h2v-.2h2v.3h2v.1h2v-.6h2v-.7h2v-.2h2v.1h2v1.4h2v-1.5h2v.5h2v-.6h2v1.6h2v-1.1h2v.4h2v.4h2v-.9h2v1.1h2v-.2h2v-.5h2v.3h2v.4h2v-.2h2v-.4h2v-.2h2v.3h2v.5h2v-.3h2v.4h2v-.2h2v.1h2v.1h2v-.3h2v.1h2v0h2v-.1h2v-.3h2v.2h2v-.1h2v.3h2v-.5h2v-1.4h2v1.4h2v.4h2v-.5h2v-.6h2v1.1h2v-.2h2v.2h2v-.4h2v.5h2v-.6h2v.1h2v.5h2v.2h2v-1.2h2v1.1h2v-1.2h2v-.1h2v1.4h2v-.3h2v-.5h2v-.7h2v1.5h2v0h2v-.2h2v-.1h2v-.7h2v.2h2v-.2h2v-.1h2v1h2v-.5h2v.5h2v0h2v-.3h2v-1.5h2v1.9h2v-1.9h2v1.4h2v.1h2v-2h2v1.7h2v.6h2v-.7h2v-.3h2v.9h2v-.5h2v.6h2v-1.3h2v.7h2v.3h2v-.8h2v-.3h2v1.1h2v-.3h2v.7h2v-.8h2v.6h2v-.6h2v-.6h2v.6h2v.2h2v.6h2v-.9h2v.3h2v.1h2v.3h2v-.8h2v.5h2v.2h2v.1h2v-.2h2v-1.2h2v0h2v.7h2v-.2h2v.8h2v-.3h2v.2h2v.4h2v-.8h2v.7h2v-.4h2v-.4h2v.2h2v-.4h2v1.1h2v-.1h2v-.8h2v.2h2v0h2v.7h2v-.4h2v-.7h2v.1h2v1h2v0h2v-.3h2v-.1h2v-.2h2v.4h2v-.4h2v0h2v.6h2v-.6h2v.3h2v0h2v.1h2v-.1h2v-.5h2v0h2v.6h2v.2h2v-.2h2v-.3h2v-.3h2v.5h2v-.1h2v-.9h2v.1h2v.2h2v-.3h2v1h2v.2h2v-.6h2v.5h2v.1h2v-.2h2v.1h2v-.8h2v.9h2v-.6h2v.4h2v-.3h2v.6h2v0h2v-.9h2v.8h2v.1h2v-1.1h2v.6h2v.1h2v-.3h2v.7h2v-1.7h2v1.7h2v-.3h2v-.1h2v.3h2v-.5h2v.3h2v-.1h2v-.3h2v0h2v.1h2v.4h2v-.6h2v-.3h2v-.3h2v1.1h2v.1h2v-.2h2v.4h2v-1.2h2v.3h2v-.2h2v1.1h2v-.3h2v.1h2v.1h2v-.5h2v.6h2v0h2v-.4h2v-.1h2v.1h2v-.5h2v-.1h2v1h2v-.9h2v.6h2v-.3h2v-.6h2v1.2h2v-1.5h2v1.2h2v-1h2v1h2v.3h2v-.1h2v-1.1h2v1.1h2v-.6h2v.7h2v-.1h2v0h2v-.1h2v0h2v-.8h2v.6h2v.2h2v.1h2v-.5h2v.6h2v-.6h2v.1h2v.5h2v-.4h2v.1h2v.2h2v-.4h2v.4h2v-1.3h2v.6h2v.8h2v-.6h2v-.7h2v.3h2v.8h2v0h2v-1h2v.3h2v.1h2v.1h2v.4h2v.1h2v-.1h2v.3h2v0h2v-.2h2v.2h2v-.5h2v-.2h2v.6h2v-1.7h2v.6h2v1h2v-.3h2v.4h2v.1h2v-.4h2v.4h2v-.5h2v-.4h2v.9h2v-.9h2v.6h2v-.4h2v-.2h2v-.1h2v.8h2v-.1h2v-.6h2v-.7h2v1.5h2v-.3h2v-.5h2v-1h2v.7h2v1.2h2v-.1h2v-.2h2v0h2v.1h2v0h2v-.8h2v.7h2v.2h2v0h2v.1h2v-.3h2v.3h2v-.9h2v.7h2v-.6h2v-.1h2v.6h2v-.6h2v.4h2v.2h2v-.2h2v.2h2v.3h2v-.1h2v-.1h2v-.9h2v.9h2v-.1h2v.2h2v-.5h2v.2h2v-.4h2v.3h2v.4h2v0h2v0h2v-1.5h2v1.5h2v-.4h2v.2h2v-.8h2v1.1h2v-.2h2v.1h2v-1.9h2v1.7h2v0h2v-.6h2v-.7h2v1.4h2v-.2h2v.4h2v-1.1h2v.4h2v.1h2v.3h2v-.1h2v.3h2v-.9h2v.5h2v.1h2v.2h2v-.6h2v-.1h2v.1h2v.4h2v.2h2v0h2v.1h2v-.9h2v.9h2v0h2v-.3h2v-.8h2v1.1h2v-.2h2v-.5h2v-.4h2v1h2v-.5h2v.6h2v-.7h2v.6h2v-.1h2v.1h2v-.1h2v0h2v-.5h2v.4h2v-.4h2v.5h2v.1h2v.2h2v-1.2h2v1h2v-.8h2v.9h2v-.5h2v-.1h2v0h2v-.1h2v.5h2v-.3h2v.6h2v-.3h2v-.2h2v.5h2v-.5h2v.4h2v-.1h2v-.5h2v.6h2v-.3h2v.2h2v-.2h2v.3h2v-.6h2v-.7h2v.9h2v.2h2v-.1h2v.4h2v-1.2h2v1.1h2v-.3h2v-.5h2v.1h2v.1h2v-1h2v.8h2v.4h2v.3h2v-.8h2v1h2v-.2h2v-.7h2v0h2v.6h2v-.8h2v.9h2v-.2h2v-.8h2v.2h2v.9h2v-1h2v.7h2v.1h2v-.4h2v.7h2v-.5h2v.1h2v-1.4h2v1.5h2v-1.5h2v1.7h2v-.8h2v.3h2v-.2h2v-.8h2v1h2v-.1h2v0h2v.6h2v-.3h2v.2h2v-1.3h2v1.1h2v.3h2v-.6h2v-.6h2v1h2v.2h2v-.1h2v-.9h2v.5h2v.5h2v0h2v-.4h2v.5h2v-1.4h2v1.2h2v0h2v-1h2v1.1h2v0h2v-1.3h2v1.1h2v-.5h2v.5h2v-.4h2v-.3h2v.6h2v-.6h2v.7h2v-2h2v1.5h2v.5h2v-.2h2v-.5h2v.5h2v.1h2v.1h2v.2h2v-.2h2v.1h2v-.1h2v.3h2v-1.1h2v1h2v-.5h2v.1h2v-.5h2v.9h2v-.9h2v-.1h2v.8h2v0h2v-1h2v.7h2v.1h2v.5h2v-.8h2v-.6h2v-.1h2v1.4h2v-.4h2v.3h2v0h2v.1h2v0h2v-.4h2v-.6h2v1.1h2v-.4h2v.4h2v-.8h2v.6h2v-.2h2v.2h2v.2h2v-.5h2v.1h2v-.3h2v0h2v-.3h2v.7h2v-.7h2v.6h2v.3h2v-.2h2v.1h2v.1h2v-.2h2v-.1h2v-.1h2v0h2v.2h1v7.9h-1v-1.5h-2v.1h-2v.5h-2v-.3h-2v.1h-2v-.4h-2v.5h-2v.3h-2v-.8h-2v.4h-2v.1h-2v.6h-2v-1.1h-2v.2h-2v.6h-2v-.4h-2v.5h-2v-.6h-2v-.2h-2v.7h-2v-.6h-2v.8h-2v-.5h-2v.9h-2v-1.4h-2v.1h-2v.3h-2v-.1h-2v0h-2v-.2h-2v1.4h-2v-1.5h-2v.2h-2v.1h-2v.2h-2v-.1h-2v1.4h-2v-1.4h-2v.1h-2v.4h-2v-.6h-2v0h-2v-.2h-2v-.1h-2v.1h-2v-.1h-2v1.1h-2v-.8h-2v-.1h-2v.2h-2v-.4h-2v.1h-2v1.1h-2v-.8h-2v-.1h-2v-.1h-2v-.1h-2v.2h-2v.1h-2v.4h-2v-.6h-2v-.1h-2v.2h-2v-.1h-2v1h-2v.4h-2v-1.5h-2v.5h-2v-.6h-2v.9h-2v-.7h-2v-.2h-2v.4h-2v-.4h-2v0h-2v0h-2v.2h-2v0h-2v-.1h-2v0h-2v.2h-2v.7h-2v-.4h-2v-.1h-2v0h-2v-.4h-2v.5h-2v-.5h-2v.2h-2v.8h-2v-.9h-2v.5h-2v-.1h-2v.6h-2v-.8h-2v.6h-2v-.8h-2v-.2h-2v.9h-2v-.9h-2v1h-2v.5h-2v-1.2h-2v.7h-2v-1h-2v.4h-2v-.1h-2v.2h-2v.3h-2v-.7h-2v.3h-2v0h-2v.3h-2v-.2h-2v.1h-2v.6h-2v-.8h-2v.4h-2v-.8h-2v.6h-2v.3h-2v-.6h-2v.6h-2v-.7h-2v.1h-2v.3h-2v-.2h-2v.2h-2v-.6h-2v.1h-2v.4h-2v.8h-2v-1.2h-2v.4h-2v.2h-2v-.4h-2v.1h-2v0h-2v.5h-2v-.6h-2v.1h-2v1h-2v-.9h-2v-.2h-2v-.1h-2v.6h-2v-.8h-2v.1h-2v.5h-2v-.4h-2v0h-2v.2h-2v-.2h-2v-.1h-2v.7h-2v-.8h-2v.1h-2v-.1h-2v.2h-2v.6h-2v-.7h-2v.1h-2v.2h-2v.3h-2v-.3h-2v.3h-2v.2h-2v.4h-2v-1.2h-2v.2h-2v-.3h-2v.4h-2v-.4h-2v1.3h-2v-.2h-2v-.6h-2v-.1h-2v-.3h-2v.6h-2v1h-2v-1.3h-2v1.3h-2v-.8h-2v-.8h-2v.9h-2v-1h-2v1h-2v-.6h-2v0h-2v.7h-2v-1.1h-2v.4h-2v.5h-2v0h-2v.2h-2v-1h-2v.1h-2v1.3h-2v-1.2h-2v-.3h-2v.3h-2v.2h-2v0h-2v-.4h-2v.3h-2v-.3h-2v.1h-2v.3h-2v.8h-2v-1h-2v.9h-2v-1h-2v.4h-2v-.4h-2v-.1h-2v.3h-2v.7h-2v-.6h-2v0h-2v.5h-2v-.1h-2v-.6h-2v-.1h-2v1.4h-2v-.8h-2v-.8h-2v.1h-2v1.2h-2v-.3h-2v-.9h-2v.4h-2v.1h-2v.4h-2v.3h-2v-.6h-2v.1h-2v-.1h-2v.3h-2v-.8h-2v.1h-2v.5h-2v-.6h-2v1h-2v-.7h-2v0h-2v-.3h-2v.3h-2v-.3h-2v.8h-2v-.4h-2v.3h-2v-.9h-2v1.2h-2v-.4h-2v.5h-2v-1.3h-2v.6h-2v.3h-2v-.2h-2v-.2h-2v.6h-2v-.2h-2v.2h-2v-.5h-2v-.4h-2v.1h-2v.1h-2v1.9h-2v-2.2h-2v-.1h-2v.4h-2v-.1h-2v-.2h-2v.1h-2v-.1h-2v.7h-2v-.5h-2v.6h-2v-.7h-2v-.2h-2v.2h-2v-.1h-2v.2h-2v1.2h-2v.3h-2v-1.6h-2v.6h-2v0h-2v-.7h-2v.4h-2v.1h-2v-.4h-2v.9h-2v-1h-2v.3h-2v1.4h-2v-1.1h-2v1h-2v-.9h-2v-.4h-2v.7h-2v-.7h-2v-.1h-2v.2h-2v-.3h-2v.3h-2v-.1h-2v-.3h-2v.9h-2v-.3h-2v-.3h-2v-.1h-2v-.2h-2v1h-2v.6h-2v-1.5h-2v.2h-2v.4h-2v-.2h-2v-.1h-2v-.2h-2v1.4h-2v-1.4h-2v.1h-2v.3h-2v-.3h-2v-.2h-2v.2h-2v-.2h-2v1h-2v-1h-2v-.2h-2v.8h-2v-.8h-2v0h-2v.3h-2v0h-2v.2h-2v-.4h-2v.3h-2v-.3h-2v0h-2v.1h-2v0h-2v.5h-2v-.1h-2v-.2h-2v0h-2v.2h-2v1.1h-2v-1.1h-2v-.2h-2v.2h-2v.9h-2v-.8h-2v-.5h-2v.7h-2v-.8h-2v.3h-2v.1h-2v.1h-2v-.6h-2v.6h-2v.5h-2v-1h-2v.1h-2v.5h-2v-.6h-2v1.4h-2v-.6h-2v-.7h-2v-.1h-2v.6h-2v-.7h-2v1.2h-2v-.7h-2v-.4h-2v1.4h-2v-1.2h-2v.1h-2v-.4h-2v.8h-2v-.6h-2v0h-2v.3h-2v-.2h-2v.2h-2v.6h-2v-.2h-2v-.2h-2v.3h-2v.2h-2v-.8h-2v.5h-2v-.2h-2v.7h-2v.2h-2v-.9h-2v-.4h-2v.4h-2v-.3h-2v0h-2v.3h-2v-.1h-2v-.3h-2v-.1h-2v-.1h-2v1.4h-2v-.3h-2v-.9h-2v.4h-2v-.3h-2v-.2h-2v1.2h-2v.5h-2v-1.9h-2v1.1h-2v-.3h-2v-.4h-2v-.4h-2v.6h-2v-.5h-2v.4h-2v-.5h-2v.3h-2v.2h-2v-.4h-2v.7h-2v-.6h-2v-.1h-2v.4h-2v-.3h-2v.7h-2v-.2h-2v-.3h-2v.6h-2v-.6h-2v.9h-2v-1h-2v.9h-2v-.8h-2v-.3h-2v.5h-2v-.2h-2v-.4h-2v1.1h-2v-.4h-2v-.6h-2v.4h-2v.2h-2v-.3h-2v-.1h-2v-.2h-2v1.2h-2v0h-2v-1h-2v.2h-2v.4h-2v-.5h-2v1h-2v-.7h-2v0h-2v.5h-2v-.2h-2v.1h-2v-.4h-2v.6h-2v-.8h-2v0h-2v0h-2v-.3h-2v-.2h-2v.2h-2v.4h-2v-.4h-2v.3h-2v.4h-2v-.5h-2v-.1h-2v-.2h-2v1.3h-2v-1.1h-2v.1h-2v.6h-2v0h-2v-.5h-2v0h-2v0h-2v-.4h-2v.1h-2v-.1h-2v0h-2v.3h-2v-.2h-2v.7h-2v-.9h-2v0h-2v1.4h-2v-1.1h-2v.1h-2v-.3h-2v.9h-2v-1h-2v1.3h-2v-.7h-2v-.1h-2v-.2h-2v1h-2v-1.1h-2v-.2h-2v.1h-2v.1h-2v.1h-2v-.1h-2v-.2h-2v.5h-2v-.5h-2v.9h-2v-.8h-2v.8h-2v-.1h-2v-.8h-2v0h-2v1.4h-2v-.1h-2v-.9h-2v-.3h-2v1.4h-2v-.9h-2v-.5h-2v1h-2v1.1h-2v-1.7h-2v-.2h-2v-.3h-2v.2h-2v-.1h-2v-.1h-2v.1h-2v.2h-2v.3h-2v-.5h-2v1h-2v-.1h-2v-.8h-2v-.1h-2v.6h-2v-.6h-2v0h-2v.1h-2v.9h-2v-.7h-2v-.2h-2v.1h-2v.6h-2v-.8h-2v1.2h-2v-.5h-2v.6h-2v-1h-2v.6h-2v-.9h-2v1.5h-2v-.3h-2v-.3h-2v.3h-2v-.9h-2v0h-2v.9h-2v-.5h-2v.4h-2v-.8h-2v-.4h-2v.1h-2v.8h-2v-.6h-2v.4h-2v.8h-2v-.2h-2v-1.1h-2v.3h-2v.2h-2v-.6h-2v.1h-2v-.2h-2v.1h-2v1.3h-2v-1.2h-2v-.2h-2v.3h-2v.2h-2v0h-2v-.4h-2v.5h-2v1.2h-2v-1.3h-2v-.1h-2v.3h-2v-.4h-2v.9h-2v-1h-2v-.2h-2v.6h-2v-.5h-2v.9h-2v-.8h-2v1.5h-2v-1.5h-2v.1h-2v-.2h-2v-.1h-2v.5h-2v.2h-2v-.6h-2v.7h-2v.2h-2v-.7h-2v-.1h-2v-.2h-2v.8h-2v.6h-2v-1.2h-2v.4h-2v-.5h-2v0h-2v.8h-2v-.5h-2v.7h-2v-.4h-2v.5h-2v-1h-2v.7h-2v-.9h-2v.5h-2v-.3h-2v0h-2v-.1h-2v.3h-2v.4h-2v0h-2v-.5h-2v-.2h-2v.1h-2v-.1h-2v2.4h-2v-2.2h-2v.8h-2v-1.1h-2v.5h-2v.5h-2v1.2h-2v-2.1h-2v.2h-2v0h-2v-.1h-2v.3h-2v-.1h-2v.4h-2v-.8h-2v.3h-2v1.5h-2v-.4h-2v-.3h-2v-1h-2v1.1h-2v-.6h-2v-.5h-2v0h-2v.2h-2v.4h-2v-.7h-2v.2h-2v.5h-2v.1h-2v-.4h-2v.2h-2v-.6h-2v.4h-2v.1h-2v-.4h-2v1.3h-2v-1.4h-2v.5h-2v.8h-2v-.5h-2v-.8h-2v.9h-2v.4h-2v-1.1h-2v.3h-2v.5h-2v-.2h-2v-.6h-2v0h-2v1.1h-2v-1.1h-2v.9h-2v-.9h-2v.2h-2v-.4h-2v.4h-2v-.3h-2v.1h-2v.2h-2v.2h-2v-.4h-2v.3h-2v-.4h-2v.1h-2v-.1h-2v.6h-2v-.5h-2v-.2h-2v.1h-2v.1h-2v1.7h-2v-1.6h-2v.3h-2v-.3h-2v-.3h-2v1.3h-2v-1.2h-2v0h-2v.5h-2v.8h-2v-1.3h-2v.6h-2v.1h-2v.7h-2zM231 582.5h2v-.6h2v-.2h2v.2h2v-.2h2v.2h2v.5h2v-.4h2v.3h2v-.1h2v-.3h2v.6h2v0h2v-.2h2v-.3h2v-.7h2v1.1h2v-.6h2v.4h2v.1h2v0h2v.1h2v-.3h2v-.1h2v-.1h2v.3h2v-.1h2v-.8h2v1.2h2v-.3h2v-.4h2v.6h2v.1h2v-1.3h2v-.1h2v1.1h2v-.4h2v.1h2v.5h2v-.4h2v.4h2v.1h2v-.4h2v-.5h2v-.1h2v.8h2v-.1h2v.3h2v-1.2h2v1.1h2v.2h2v-.7h2v.6h2v-.5h2v.4h2v-.4h2v-1.2h2v.8h2v.7h2v-.7h2v.2h2v-.1h2v-.4h2v1h2v-.8h2v.6h2v.3h2v.1h2v-.5h2v.4h2v.1h2v-.4h2v.4h2v-1.7h2v1.5h2v.1h2v-.4h2v.3h2v-.6h2v.4h2v-1h2v1.1h2v.1h2v-1.1h2v1.2h2v-1.3h2v.1h2v.4h2v.9h2v-.9h2v-.1h2v1h2v-.2h2v-.7h2v.5h2v-.4h2v-.3h2v.9h2v.1h2v-.5h2v.5h2v0h2v-.2h2v-.2h2v0h2v0h2v-.8h2v.8h2v.5h2v-1.2h2v.1h2v.8h2v-.4h2v.4h2v0h2v-.1h2v-1h2v1.3h2v-.4h2v.3h2v-.1h2v.2h2v-.3h2v.4h2v-.3h2v.2h2v0h2v-1.1h2v1.1h2v-1.1h2v0h2v1h2v-.4h2v.5h2v-.6h2v.4h2v-1.1h2v1.1h2v.1h2v.2h2v0h2v-.2h2v-1h2v1.1h2v.1h2v.1h2v-.1h2v-1.3h2v.8h2v-.3h2v-.4h2v.8h2v0h2v.1h2v.2h2v.1h2v-.9h2v.1h2v.6h2v0h2v-.8h2v.3h2v.3h2v.2h2v-.5h2v.3h2v.3h2v-.2h2v-.9h2v1.1h2v-.4h2v.4h2v-.4h2v.4h2v-.1h2v.2h2v-1.1h2v0h2v1.1h2v0h2v-.2h2v-.7h2v.7h2v-.5h2v.4h2v-.4h2v0h2v.1h2v0h2v.3h2v-.1h2v-.3h2v.7h2v-.2h2v.1h2v-.4h2v.1h2v.5h2v-.4h2v-.2h2v.3h2v0h2v-.4h2v-.1h2v0h2v.1h2v.6h2v-.2h2v.1h2v-.2h2v-.1h2v.2h2v-.8h2v1h2v-.2h2v-.5h2v.7h2v-1h2v.6h2v-.8h2v1h2v0h2v-.1h2v-1.1h2v1.4h2v-.5h2v.4h2v0h2v-.9h2v.4h2v-.7h2v.9h2v.1h2v-.7h2v-1h2v.9h2v.8h2v-.2h2v.4h2v-.1h2v.1h2v0h2v-.8h2v-.2h2v.2h2v-.5h2v1.1h2v-1h2v.8h2v0h2v-.2h2v.5h2v-1.2h2v.9h2v.3h2v-1.4h2v1.6h2v-.2h2v.2h2v.1h2v-.4h2v-1h2v1.3h2v-.9h2v1h2v-.1h2v-.8h2v.5h2v-.9h2v1.1h2v.1h2v-.2h2v-.5h2v.3h2v.3h2v-1.7h2v1.7h2v-.6h2v.2h2v-.2h2v.6h2v.1h2v-.6h2v-1h2v1.7h2v-.3h2v-.6h2v.3h2v-.2h2v.3h2v0h2v-.2h2v.4h2v-.4h2v-.1h2v.4h2v-.2h2v.5h2v-1.3h2v1.1h2v.1h2v-.4h2v-.2h2v.3h2v.4h2v-.5h2v0h2v.2h2v.2h2v-.1h2v-1.1h2v-.7h2v.7h2v1.3h2v-1.5h2v1.3h2v-.4h2v.6h2v-.3h2v-.2h2v0h2v0h2v.4h2v-1.6h2v1.5h2v-1.2h2v.4h2v1h2v-.8h2v.1h2v.5h2v-.9h2v1h2v-1.2h2v.7h2v0h2v-.2h2v.5h2v-.2h2v0h2v.5h2v0h2v-.3h2v-.3h2v.6h2v0h2v0h2v-1.1h2v1.1h2v-.2h2v-.3h2v.1h2v0h2v-.6h2v.5h2v-.5h2v.2h2v-.5h2v-.6h2v1.9h2v-1.1h2v.9h2v-.5h2v.5h2v-.4h2v.4h2v-.1h2v.4h2v-.2h2v-.9h2v.4h2v.5h2v-.6h2v-.9h2v.9h2v-.2h2v0h2v.3h2v-1h2v1.2h2v-.4h2v.4h2v0h2v-.4h2v-.3h2v.7h2v-.1h2v.4h2v-.3h2v-1.1h2v1.5h2v-.8h2v-.9h2v1.3h2v-.5h2v.9h2v-.3h2v-.3h2v.2h2v.4h2v-.6h2v.4h2v-.4h2v-.1h2v0h2v.5h2v0h2v-.9h2v.8h2v-.1h2v-.9h2v.8h2v-.2h2v0h2v.6h2v-.5h2v0h2v.1h2v-.6h2v1.1h2v-.4h2v-.5h2v.9h2v-.1h2v-.8h2v.5h2v.1h2v-.2h2v-.6h2v.6h2v.5h2v-.4h2v.2h2v.1h2v0h2v-.4h2v.4h2v-.3h2v-.2h2v.4h2v-.4h2v.4h2v-.2h2v-.5h2v.9h2v-1.5h2v1.5h2v-.8h2v.5h2v-1.1h2v.7h2v.7h2v-.1h2v-.3h2v-.7h2v.4h2v.7h2v-1.5h2v1.4h2v-1h2v.6h2v.2h2v0h2v-.5h2v.3h2v-.4h2v.9h2v-.4h2v-.5h2v.2h2v.7h2v-.9h2v.4h2v-.1h2v0h2v.2h2v-.3h2v.6h2v-1.3h2v1.1h2v.1h2v.1h2v-.6h2v-.9h2v1h2v.4h2v-.2h2v-.2h2v.4h2v-1.6h2v1.3h2v0h2v.4h2v-.1h2v-.6h2v-.3h2v1.1h2v-.6h2v-.2h2v.3h2v.5h2v-.7h2v.6h2v-1h2v.5h2v-.6h2v1h2v-.9h2v.8h2v-.1h2v.4h2v-.1h2v-.2h2v0h2v-.2h2v.4h2v-.3h2v.1h2v.3h2v0h2v0h2v-.1h2v-.3h2v-.1h2v0h2v.5h2v0h2v-.6h2v.6h2v-.4h2v-.6h2v.1h2v.4h2v.5h2v.1h2v-.3h2v-.4h2v.5h2v-.2h2v.4h2v-.2h2v.1h2v-.7h2v-.1h2v.6h2v-.1h2v-.2h2v.5h2v-.9h2v-.1h2v.6h2v-1.1h2v1.1h2v-.5h2v.7h2v-.6h2v-.1h2v.4h2v-.9h2v.2h2v.5h2v-.3h2v-.1h2v1.1h2v-.4h2v-1.4h2v1.6h2v-.4h2v-.5h2v.7h2v.3h2v-.2h2v0h2v.3h2v-.7h2v.4h2v-.3h2v.3h2v0h2v.2h2v-.3h2v0h2v.3h2v.1h2v-.1h2v-.9h2v1h2v-.2h2v.2h2v-.3h2v.2h2v-.8h2v.4h2v.3h2v-1.1h2v1.1h2v-.1h2v.1h2v0h2v.1h2v.1h2v-.6h2v-1h2v.4h2v1h2v-1h2v1.1h2v.2h2v-2.2h2v.7h2v1.1h2v.3h2v-.4h2v-.3h2v-.6h2v-.3h2v1.1h2v-.5h2v.8h2v.1h2v-.1h2v0h2v.2h2v-.4h2v-.7h2v.8h2v.3h2v-.4h2v-.1h2v-.7h2v0h2v1.1h2v-.8h2v.9h2v0h2v-.2h2v-.2h2v-1.2h2v.9h2v.4h2v.1h2v-.5h2v.5h2v-.1h2v-.1h2v.4h2v-.1h2v0h2v-.2h2v-.6h2v.4h2v.4h2v-.1h2v-.5h2v.7h2v-.2h2v0h2v-.4h2v.2h2v-.2h2v-.3h2v.7h2v.1h2v-.3h2v-.6h2v.7h2v.3h2v-.5h2v.3h2v-.3h2v.4h2v-.4h2v.5h2v-.5h2v.2h2v-.6h2v.4h2v.5h2v-.4h2v.2h2v.1h2v-.3h2v-.1h2v0h2v-.5h2v.9h2v-.1h2v-1h2v.8h2v-.1h2v.4h2v-.1h2v-.1h2v.2h2v-.1h2v-.2h2v.2h2v-.2h2v.3h2v.1h2v-.5h2v.1h2v-1.3h2v1.5h2v-.2h2v-.1h2v.1h2v-.6h2v.9h2v-.4h2v-.1h2v-.7h2v-.2h2v1.4h2v0h2v-.3h2v-.5h2v.9h2v0h2v0h2v-.7h2v.1h2v-.3h2v-.7h2v.9h2v.3h2v-.8h2v.8h2v.3h2v-.2h1v6.7h-1v.3h-2v.5h-2v-.8h-2v-.3h-2v1.6h-2v-.4h-2v-.9h-2v-.1h-2v1.7h-2v-1.8h-2v.8h-2v-.4h-2v0h-2v.9h-2v-.7h-2v.2h-2v-.7h-2v-.2h-2v.2h-2v-.2h-2v.8h-2v.1h-2v.8h-2v-1.4h-2v.7h-2v-.9h-2v.6h-2v-.4h-2v.1h-2v-.4h-2v.4h-2v-.3h-2v.2h-2v1.1h-2v-1.3h-2v2.2h-2v-1.9h-2v-.2h-2v.5h-2v.3h-2v-.9h-2v.3h-2v-.4h-2v.9h-2v.6h-2v-.2h-2v-.5h-2v-.6h-2v-.1h-2v.2h-2v.2h-2v.4h-2v.4h-2v-.4h-2v-.8h-2v.2h-2v.1h-2v.4h-2v-.6h-2v.2h-2v-.2h-2v.2h-2v-.2h-2v-.1h-2v.4h-2v-.1h-2v1.1h-2v0h-2v-.8h-2v-.5h-2v-.1h-2v.1h-2v.3h-2v0h-2v-.4h-2v0h-2v1h-2v-.5h-2v1h-2v-1.4h-2v.5h-2v.1h-2v.1h-2v-.7h-2v0h-2v.5h-2v-.6h-2v.4h-2v1.3h-2v-1.1h-2v.3h-2v-.6h-2v-.3h-2v.3h-2v.1h-2v.2h-2v-.2h-2v-.1h-2v.7h-2v.1h-2v.2h-2v-.9h-2v.8h-2v-1.2h-2v.7h-2v-.4h-2v.1h-2v-.2h-2v-.3h-2v.9h-2v0h-2v-.1h-2v-.7h-2v1.4h-2v-1.2h-2v.1h-2v.1h-2v-.4h-2v.8h-2v.1h-2v-.8h-2v.5h-2v.9h-2v-.2h-2v-1.2h-2v-.1h-2v1h-2v-.8h-2v-.2h-2v.3h-2v0h-2v-.3h-2v.1h-2v0h-2v.2h-2v0h-2v.7h-2v-1h-2v.8h-2v-.8h-2v.9h-2v-.9h-2v.2h-2v.6h-2v0h-2v-.8h-2v.5h-2v.2h-2v-.4h-2v-.3h-2v-.1h-2v.7h-2v-.7h-2v0h-2v.3h-2v.2h-2v0h-2v.4h-2v-.5h-2v-.4h-2v.6h-2v-.1h-2v-.5h-2v.5h-2v-.3h-2v.5h-2v-.7h-2v1.5h-2v-.5h-2v-.3h-2v-.6h-2v1.6h-2v-1.2h-2v-.4h-2v1h-2v-1.1h-2v1.3h-2v-1.3h-2v.3h-2v.4h-2v-.1h-2v-.3h-2v.1h-2v-.3h-2v0h-2v.2h-2v-.1h-2v.4h-2v-.2h-2v-.1h-2v-.2h-2v-.1h-2v.1h-2v.6h-2v-.1h-2v.4h-2v-.5h-2v.1h-2v-.4h-2v1.3h-2v-.7h-2v.2h-2v.8h-2v-1.4h-2v0h-2v-.2h-2v.5h-2v-.6h-2v.3h-2v.1h-2v-.2h-2v-.1h-2v-.2h-2v.1h-2v1.3h-2v-1.3h-2v.8h-2v-.4h-2v-.1h-2v.4h-2v-.4h-2v-.4h-2v1.3h-2v-1h-2v.1h-2v-.3h-2v0h-2v.1h-2v-.2h-2v.2h-2v1.7h-2v-1.7h-2v.1h-2v.1h-2v-.2h-2v-.1h-2v0h-2v.2h-2v.2h-2v.6h-2v-.3h-2v-.6h-2v.2h-2v-.1h-2v-.3h-2v.2h-2v.1h-2v.5h-2v-.1h-2v-.4h-2v.5h-2v.3h-2v-.2h-2v-.9h-2v.6h-2v-.5h-2v.5h-2v.1h-2v-.6h-2v.6h-2v-.5h-2v.2h-2v.3h-2v-.4h-2v-.2h-2v.3h-2v0h-2v-.1h-2v.7h-2v0h-2v.1h-2v-.2h-2v-.4h-2v0h-2v.2h-2v-.2h-2v.5h-2v-.6h-2v.9h-2v-1h-2v.2h-2v-.3h-2v1.1h-2v-.8h-2v-.3h-2v.1h-2v.2h-2v.3h-2v-.1h-2v0h-2v-.5h-2v-.2h-2v.3h-2v.7h-2v-.4h-2v.1h-2v-.6h-2v-.1h-2v0h-2v0h-2v.5h-2v-.3h-2v.2h-2v-.3h-2v0h-2v.3h-2v-.2h-2v.4h-2v.9h-2v-.9h-2v0h-2v.8h-2v-1.1h-2v-.1h-2v.5h-2v-.6h-2v1.1h-2v-1.2h-2v0h-2v.5h-2v-.4h-2v.7h-2v-.8h-2v.6h-2v-.1h-2v-.2h-2v.4h-2v.1h-2v-.6h-2v.2h-2v.8h-2v-.9h-2v.1h-2v.6h-2v-.7h-2v1.2h-2v-.7h-2v-.4h-2v.2h-2v-.6h-2v.2h-2v.6h-2v-.5h-2v1.4h-2v-1.5h-2v.8h-2v-.3h-2v-.4h-2v1.1h-2v-.7h-2v.1h-2v-.4h-2v-.1h-2v0h-2v-.2h-2v1.1h-2v-.9h-2v-.1h-2v.4h-2v-.4h-2v-.1h-2v.3h-2v.4h-2v1.5h-2v-1.7h-2v.2h-2v-.8h-2v1.2h-2v-.3h-2v-.6h-2v-.3h-2v0h-2v0h-2v.6h-2v-.5h-2v1.2h-2v-1.3h-2v.6h-2v.4h-2v-.7h-2v-.2h-2v0h-2v-.1h-2v1.3h-2v-1.3h-2v1.5h-2v-.8h-2v.1h-2v-.7h-2v0h-2v.6h-2v-.5h-2v0h-2v.3h-2v-.1h-2v0h-2v-.3h-2v.3h-2v.3h-2v-.1h-2v-.5h-2v0h-2v-.1h-2v.4h-2v.1h-2v.1h-2v1.2h-2v-.2h-2v-.7h-2v-.2h-2v.1h-2v-.7h-2v.6h-2v-.6h-2v2.1h-2v-1.5h-2v-.3h-2v.1h-2v.5h-2v0h-2v.6h-2v-1.3h-2v-.2h-2v.2h-2v-.1h-2v.4h-2v-.6h-2v.3h-2v.2h-2v.3h-2v.7h-2v-.6h-2v-.8h-2v.8h-2v-.7h-2v.9h-2v-.2h-2v-.6h-2v0h-2v.4h-2v-.6h-2v0h-2v.9h-2v-.7h-2v.3h-2v.9h-2v-.9h-2v.1h-2v-.5h-2v-.1h-2v.4h-2v-.3h-2v-.1h-2v1.4h-2v-.9h-2v-.2h-2v-.3h-2v0h-2v.7h-2v-.5h-2v-.1h-2v.9h-2v-.4h-2v0h-2v.6h-2v-1.3h-2v.6h-2v.5h-2v-.6h-2v-.5h-2v2.2h-2v-.7h-2v-1.1h-2v1.4h-2v-1.1h-2v-.6h-2v.4h-2v.1h-2v-.5h-2v1.9h-2v-.8h-2v-1h-2v-.1h-2v.7h-2v-.4h-2v-.4h-2v1h-2v-.9h-2v.6h-2v-.4h-2v-.3h-2v1h-2v-.5h-2v1h-2v-.6h-2v-.1h-2v-.7h-2v.7h-2v0h-2v-.6h-2v.9h-2v-.7h-2v0h-2v.6h-2v-.5h-2v.6h-2v-.2h-2v-.8h-2v0h-2v.1h-2v1h-2v-.6h-2v-.2h-2v.7h-2v-.5h-2v-.6h-2v.1h-2v1.3h-2v-.5h-2v-.3h-2v-.1h-2v-.1h-2v-.2h-2v.2h-2v.1h-2v-.4h-2v.5h-2v0h-2v.2h-2v-.8h-2v.9h-2v-.6h-2v.9h-2v-.5h-2v-.2h-2v.5h-2v.3h-2v.3h-2v-1.4h-2v.2h-2v.2h-2v-.6h-2v.2h-2v.7h-2v-.9h-2v.6h-2v.1h-2v-.6h-2v.5h-2v-.5h-2v.8h-2v-.4h-2v-.3h-2v.1h-2v.4h-2v-.5h-2v.1h-2v0h-2v-.1h-2v1.7h-2v-1.6h-2v0h-2v0h-2v.3h-2v.1h-2v-.1h-2v-.2h-2v.2h-2v.7h-2v-.2h-2v.1h-2v-.8h-2v.6h-2v.4h-2v-1.2h-2v.1h-2v.9h-2v-1.1h-2v0h-2v-.1h-2v1.2h-2v-.1h-2v-1h-2v.6h-2v-.3h-2v-.2h-2v-.1h-2v1.2h-2v-1.2h-2v-.1h-2v.7h-2v-.2h-2v.2h-2v0h-2v-.4h-2v.4h-2v.2h-2v.2h-2v-.1h-2v-.4h-2v-.3h-2v.3h-2v.8h-2v-1.3h-2v.6h-2v-.4h-2v.1h-2v.8h-2v-.3h-2v-.8h-2v.3h-2v-.2h-2v0h-2v.5h-2v-.3h-2v.1h-2v0h-2v-.3h-2v.6h-2v-.1h-2v-.1h-2v.9h-2v-.7h-2v-.3h-2v1.4h-2v-1.6h-2v.7h-2v-.7h-2v.1h-2v-.3h-2v-.1h-2v1.4h-2v.4h-2v-.4h-2v-1.2h-2v-.1h-2v1.2h-2v.2h-2v-1.2h-2v-.3h-2v.4h-2v.3h-2v-.6h-2v.4h-2v-.5h-2v.4h-2v-.2h-2v.2h-2v.5h-2v-.3h-2v.1h-2v-.4h-2v.5h-2v.3h-2v-1h-2v.9h-2v-.9h-2v.2h-2v-.2h-2v0h-2v.8h-2v.8h-2v-1.3h-2v0h-2v.1h-2v1h-2v-.2h-2v-1.1h-2v.1h-2v1.5h-2v-1.5h-2v-.1h-2v0h-2v.8h-2v-.3h-2v-.6h-2v.9h-2v-.9h-2v.2h-2v.4h-2v0h-2v-.2h-2v.4h-2v-.5h-2v-.4h-2v.4h-2v.4h-2v-.6h-2v-.2h-2v.1h-2v.8h-2v.1h-2v-.8h-2v.2h-2v0h-2v0h-2v0h-2v1.1h-2v-.2h-2v-.2h-2v-.8h-2v0h-2v0h-2v.9h-2v-.9h-2v.9h-2v-1h-2v-.1h-2v.1h-2v.4h-2v-.3h-2v-.1h-2v.8h-2v-.2h-2v-.6h-2v.2h-2v-.4h-2v.9h-2v.3h-2v-.3h-2v-.2h-2v.1h-2v.9h-2v-1.5h-2v.4h-2v-.2h-2v-.4h-2v1.1h-2v-.7h-2zM231 700.4h2v0h2v-1.4h2v1.2h2v-.5h2v-.2h2v.4h2v.2h2v-.4h2v.6h2v.1h2v-.5h2v-.7h2v1.2h2v0h2v-1h2v.5h2v.3h2v.2h2v-.2h2v-.8h2v.9h2v-.1h2v-.1h2v.2h2v0h2v-.8h2v-.5h2v1h2v-1h2v1.3h2v-1.9h1v.8h1v-.3h1v-.4h1v.6h1v0h1v-.8h1v.1h1v-.2h1v.5h1v-.3h1v-.2h1v.9h1v-.1h1v-.2h1v.5h1v-1.3h1v.6h1v.1h1v.1h1v0h1v.5h1v-.2h1v-.6h1v.5h1v-.1h1v-.2h1v.3h1v-.2h1v.2h1v-.3h1v.4h1v.5h1v-1h2v1.1h2v.5h2v-.4h2v.3h2v.3h2v-.2h2v0h2v-.1h2v.4h2v-.9h2v.8h2v-.2h2v-.2h2v-.8h2v1.1h2v-.2h2v-.2h2v0h2v0h2v.4h2v-.1h2v.2h2v-.3h2v.2h2v-.8h2v.6h2v.2h2v-.9h2v.2h2v.1h2v.5h2v-.5h2v.2h2v-.3h2v-.4h2v.9h2v.3h2v-.2h2v-1h2v-.9h2v1.9h2v-1.3h2v1h2v0h2v0h2v-.7h2v-.6h2v1.2h2v.2h2v.2h2v-1.1h2v1.4h2v-.1h2v-.4h2v.2h2v-.1h2v.3h2v-.3h2v-.9h2v.8h2v.3h2v-.1h2v.1h2v.1h2v-.1h2v-.2h2v-.1h2v.4h2v-.8h2v.8h2v0h2v-.6h2v.5h2v-.8h2v.9h2v-.6h2v-.3h2v.8h2v-.1h2v-1h2v1h2v.1h2v.1h2v-.3h2v-.1h2v.5h2v-.1h2v-.3h2v-.4h2v.2h2v-.2h2v.5h2v-.4h2v0h2v-.9h2v0h2v0h2v.6h2v.5h2v-.9h2v1.2h2v-.3h2v-.8h2v1.2h2v-.8h2v-.1h2v-.1h2v-.1h2v1.1h2v-.4h2v.3h2v0h2v-.7h2v.8h2v-.7h2v.8h2v-.8h2v.3h2v.4h2v-.3h2v-.2h2v.5h2v-1.1h2v.9h2v.2h2v-.7h2v.8h2v-.2h2v-.5h2v.2h2v.4h2v-1.5h2v.6h2v.1h2v.8h2v-.1h2v-.9h2v1h2v-.4h2v.3h2v-.3h2v.5h2v-.5h2v.2h2v-.5h2v.7h2v.1h2v-.9h2v.2h2v-.4h2v-.5h2v1.3h2v-.5h2v0h2v.3h2v-.8h2v.5h2v.5h2v-.3h2v0h2v-.2h2v.5h2v.3h2v-.3h2v-.6h2v-.3h2v-.7h2v1.7h2v-1.2h2v.7h2v.2h2v-.1h2v.4h2v0h2v0h2v-.1h2v-.8h2v-.1h2v.8h2v0h2v.4h2v-.2h2v-.7h2v.5h2v0h2v-.3h2v.6h2v-1h2v0h2v1.1h2v-.9h2v-.2h2v1.1h2v-.2h2v-.9h2v.2h2v.3h2v-.5h2v-.4h2v.6h2v.7h2v-.4h2v.2h2v-.1h2v.2h2v-.1h2v.1h2v-1.2h2v.6h2v-.7h2v.7h2v-.2h2v-.1h2v1.1h2v.1h2v-.4h2v-.1h2v.1h2v.3h2v-.4h2v.4h2v-.3h2v.2h2v-.1h2v-.8h2v.6h2v.4h2v-.8h2v-.2h2v1h2v.1h2v-.1h2v-.9h2v.7h2v.1h2v-.1h2v-1h2v.3h2v.5h2v.5h2v-1.8h2v1.1h2v.6h2v-.4h2v.2h2v-.5h2v-.2h2v.4h2v.3h2v-1.4h2v1.6h2v-1.5h2v0h2v1.5h2v-.2h2v-.1h2v-.4h2v.6h2v.1h2v.1h2v-1.6h2v1.3h2v-.7h2v.9h2v0h2v-.6h2v.1h2v.3h2v.1h2v-.2h2v-.6h2v-.1h2v.3h2v-.5h2v1.3h2v-1.8h2v1.5h2v-.2h2v-.9h2v1.3h2v-.6h2v.5h2v0h2v-.1h2v.2h2v0h2v-.8h2v-.1h2v.4h2v.3h2v-.1h2v-.7h2v-.2h2v.3h2v-.1h2v-.1h2v1.1h2v-.2h2v-.1h2v-1.2h2v1.1h2v-.6h2v.3h2v.7h2v-.4h2v.4h2v-.5h2v.4h2v0h2v-.4h2v.1h2v-.4h2v.7h2v-.2h2v-.2h2v.4h2v.2h2v-1.5h2v.4h2v-.1h2v.1h2v.1h2v.1h2v.3h2v-.2h2v-.2h2v1h2v-1.3h2v.3h2v.9h2v-1.9h2v1.7h2v.3h2v-.3h2v-.4h2v.5h2v.2h2v-1.2h2v.5h2v.5h2v-.9h2v.9h2v.2h2v-.4h2v.3h2v-.8h2v.7h2v.2h2v-.5h2v.3h2v-.2h2v.3h2v0h2v-.6h2v.7h2v-.6h2v.4h2v-1.4h2v1.2h2v-.3h2v-.6h2v1.3h2v-.6h2v.4h2v-.3h2v0h2v-.3h2v.5h2v-.1h2v0h2v0h2v.3h2v-1.4h2v1.3h2v-.6h2v-.1h2v.6h2v.1h2v-.7h2v.3h2v.1h2v-1.4h2v1.5h2v-.5h2v.6h2v-.2h2v-.2h2v-.9h2v-.9h2v2.5h2v-.7h2v-.1h2v.3h2v.1h2v-.8h2v1h2v0h2v-.9h2v.3h2v-.5h2v.8h2v-.1h2v0h2v-.2h2v.3h2v.2h2v.2h2v-.6h2v.5h2v.1h2v-1.6h2v.9h2v.3h2v0h2v.4h2v0h2v-1.2h2v.9h2v-.2h2v.3h2v.2h2v0h2v-.9h2v-.2h2v.7h2v-1h2v.7h2v.1h2v.4h2v.1h2v-.2h2v-.3h2v-.6h2v.7h2v.5h2v-.2h2v-.8h2v.3h2v.6h2v-1h2v1h2v-.9h2v.2h2v.2h2v.7h2v-.3h2v-.2h2v-.8h2v1.1h2v.1h2v-.7h2v-.3h2v-.6h2v1.4h2v0h2v-.3h2v.6h2v-.4h2v-.2h2v-.4h2v.6h2v0h2v.2h2v-.1h2v.3h2v-.5h2v-.8h2v-.2h2v1.5h2v-.5h2v.4h2v.1h2v-.5h2v-.7h2v.5h2v.4h2v0h2v-1.1h2v.8h2v.1h2v-.4h2v.1h2v-.6h2v1.1h2v.2h2v-.1h2v-.4h2v-1.3h2v1.9h2v-.6h2v-.5h2v.2h2v-.4h2v.1h2v1.2h2v-.9h2v.8h2v-.5h2v-.3h2v.6h2v.3h2v0h2v-.6h2v.6h2v-.2h2v-.3h2v.4h2v-.4h2v.5h2v-1.2h2v.8h2v-1h2v1.1h2v-.9h2v1h2v-.2h2v-.1h2v-.3h2v.5h2v-.4h2v.4h2v-.4h2v-.4h2v-.4h2v1.5h2v-.1h2v.1h2v-.8h2v.6h2v.2h2v-.2h2v-.1h2v-.5h2v.7h2v-.3h2v-1.4h2v1.7h2v-.4h2v0h2v.2h2v-.9h2v.8h2v-.2h2v-.2h2v-.5h2v.4h2v.8h2v-.2h2v-1.8h2v1.4h2v.5h2v-.2h2v-.2h2v.4h2v-.3h2v-.1h2v.5h2v-.1h2v0h2v-.2h2v-.1h2v-.4h2v.7h2v-1.4h2v1.6h2v-.3h2v-.1h2v.1h2v-.3h2v.4h2v-.2h2v.4h2v-1h2v.2h2v-.2h2v0h2v.8h2v-.1h2v.1h2v-.2h2v0h2v0h2v0h2v-.4h2v.7h2v0h2v0h2v-.6h2v-1.7h2v1.9h2v-.1h2v.5h2v-.1h2v-.1h2v-.5h2v.3h2v.3h2v-.1h2v-.6h2v.1h2v-.3h2v.8h2v.2h2v-.1h2v-1.3h2v.5h2v.4h2v.4h2v-.4h2v-.3h2v-.2h2v1.1h2v-.3h2v-.6h2v.1h2v.7h2v-.1h2v-.2h2v-.9h2v.1h2v1.2h2v-.1h2v-.1h2v-1h2v.3h2v-.1h2v.1h2v.2h2v-.9h2v1.3h2v.2h2v-1h2v.4h2v.4h2v.2h2v-.1h2v-.3h2v-1.1h2v1.3h2v0h2v-1.3h2v-1.6h1v1.6h1v-.5h1v.6h1v-.3h1v.4h1v.2h1v-1h1v.2h1v.5h1v.3h1v-.2h1v-.4h1v-.7h1v1.2h1v-.8h1v-.2h1v.3h1v.1h1v.3h1v.2h1v-1h1v.9h1v0h1v-.5h1v.6h1v0h1v-.1h1v0h1v.1h1v.2h1v0h1v-.1h1v-.6h1v.4h1v.2h1v-.1h1v.2h1v-1h1v.6h1v.3h1v-.5h1v.1h1v.3h1v-.6h1v.5h1v-.2h1v.2h1v-.4h1v-.1h1v.5h1v-.4h1v.5h1v.2h1v-.2h1v.2h1v-.2h1v-.2h1v.4h1v-1.3h1v.3h1v.7h1v-.1h1v.1h1v-.2h1v.5h1v0h1v-1h1v.3h1v.6h1v.1h1v-.1h1v0h1v-.9h1v.8h1v-.4h1v.1h1v-.4h1v.2h1v-1.1h1v10.5h-1v.1h-1v.6h-1v.2h-1v.5h-1v-1.6h-1v.7h-1v.3h-1v-1h-1v1.8h-1v-.6h-1v-.3h-1v-.7h-1v0h-1v.1h-1v-.3h-1v0h-1v1h-1v-.8h-1v.9h-1v-1h-1v.4h-1v.7h-1v-.7h-1v-.5h-1v1h-1v-.2h-1v.7h-1v-1.3h-1v.1h-1v.1h-1v.4h-1v-.5h-1v.8h-1v-.7h-1v1.5h-1v-.7h-1v-.6h-1v-.2h-1v.2h-1v0h-1v1.3h-1v-1.7h-1v0h-1v.1h-1v0h-1v-.2h-1v1.7h-1v-1.2h-1v-.4h-1v.5h-1v.5h-1v-1.1h-1v.6h-1v.4h-1v-.2h-1v-.9h-1v.1h-1v.2h-1v-.1h-1v-.1h-1v.4h-1v-.5h-1v0h-1v1.7h-1v-1.4h-1v0h-1v-.2h-1v.2h-1v-.3h-1v.1h-1v1.3h-1v-1.2h-1v-.2h-1v.4h-1v.4h-1v-.5h-1v-.1h-1v-.3h-1v.1h-1v-.3h-2v-.7h-2v-.1h-2v.3h-2v-.1h-2v0h-2v.3h-2v-.4h-2v1.7h-2v-2h-2v1.3h-2v-.3h-2v-.5h-2v.3h-2v-.5h-2v-.2h-2v-.1h-2v.1h-2v.4h-2v-.2h-2v.5h-2v.4h-2v-.3h-2v0h-2v-.8h-2v.1h-2v.3h-2v-.2h-2v.7h-2v-.5h-2v.7h-2v-.9h-2v0h-2v.4h-2v1.1h-2v-1.7h-2v0h-2v0h-2v.8h-2v-.3h-2v-.3h-2v0h-2v.6h-2v.6h-2v-1.3h-2v.6h-2v-.4h-2v-.3h-2v.5h-2v-.1h-2v.5h-2v-.2h-2v-.5h-2v.4h-2v-.1h-2v.1h-2v0h-2v-.1h-2v-.4h-2v.5h-2v-.6h-2v.3h-2v.1h-2v-.5h-2v.1h-2v-.1h-2v0h-2v.2h-2v1.3h-2v-.9h-2v-.2h-2v-.1h-2v1h-2v-.3h-2v-.8h-2v-.1h-2v.7h-2v.7h-2v-1.4h-2v1.1h-2v-.1h-2v-.6h-2v-.2h-2v-.1h-2v.4h-2v-.1h-2v.6h-2v-1h-2v.1h-2v.2h-2v-.1h-2v.2h-2v.4h-2v-.8h-2v.4h-2v.3h-2v.1h-2v-.8h-2v.1h-2v.3h-2v.2h-2v.3h-2v-.9h-2v.2h-2v0h-2v.4h-2v-.5h-2v1h-2v-1h-2v-.1h-2v.1h-2v1h-2v-.6h-2v.7h-2v-1h-2v.7h-2v-.5h-2v0h-2v.3h-2v-.2h-2v.1h-2v-.2h-2v0h-2v-.2h-2v.1h-2v.1h-2v.5h-2v-.7h-2v.2h-2v-.1h-2v-.1h-2v-.2h-2v.9h-2v-.9h-2v.3h-2v-.3h-2v1.1h-2v-.2h-2v-.9h-2v.6h-2v.1h-2v-.2h-2v-.4h-2v.4h-2v-.1h-2v-.1h-2v-.1h-2v.5h-2v-.7h-2v0h-2v1.6h-2v-.6h-2v-.7h-2v.1h-2v.1h-2v1.1h-2v-1.1h-2v-.3h-2v.2h-2v-.4h-2v-.1h-2v.2h-2v.8h-2v-.8h-2v.1h-2v.3h-2v-.3h-2v.4h-2v.3h-2v-.9h-2v1.1h-2v-.8h-2v.2h-2v-.5h-2v.8h-2v-.6h-2v.5h-2v.8h-2v-.3h-2v-1h-2v.2h-2v-.4h-2v.4h-2v-.2h-2v-.1h-2v-.1h-2v.7h-2v-.1h-2v-.6h-2v1.9h-2v-1.8h-2v-.1h-2v1.2h-2v-1.1h-2v-.1h-2v0h-2v.1h-2v.4h-2v1h-2v-1.3h-2v.4h-2v.2h-2v-.5h-2v-.3h-2v0h-2v.4h-2v-.1h-2v-.1h-2v.9h-2v-.9h-2v0h-2v.4h-2v-.4h-2v.5h-2v.7h-2v-.5h-2v-.5h-2v1.4h-2v-.5h-2v-.8h-2v-.3h-2v.2h-2v-.2h-2v.4h-2v.2h-2v.3h-2v-.6h-2v-.3h-2v1.3h-2v-1.5h-2v.3h-2v.2h-2v.4h-2v-.6h-2v.3h-2v.5h-2v-.2h-2v-.1h-2v.4h-2v-.7h-2v.1h-2v-.6h-2v.2h-2v1.1h-2v-.9h-2v0h-2v.1h-2v.8h-2v-.9h-2v-.4h-2v0h-2v.2h-2v0h-2v0h-2v-.1h-2v-.1h-2v.7h-2v.6h-2v-1h-2v-.4h-2v1.2h-2v-.6h-2v.2h-2v1.2h-2v-1.5h-2v0h-2v0h-2v.4h-2v-.6h-2v1.3h-2v-1.5h-2v0h-2v.6h-2v-.1h-2v-.3h-2v-.2h-2v1.1h-2v-.8h-2v-.3h-2v.4h-2v0h-2v1h-2v-1.4h-2v.5h-2v0h-2v-.5h-2v.6h-2v-.5h-2v0h-2v-.1h-2v.3h-2v-.2h-2v-.1h-2v1.1h-2v-.5h-2v-.6h-2v1.1h-2v-.9h-2v-.1h-2v1.1h-2v-.6h-2v-.6h-2v.5h-2v.1h-2v-.6h-2v.5h-2v-.2h-2v.4h-2v.8h-2v-.4h-2v-1h-2v.4h-2v-.5h-2v.5h-2v-.3h-2v.4h-2v-.6h-2v.7h-2v-.1h-2v-.1h-2v-.4h-2v.2h-2v.9h-2v-1.1h-2v1.2h-2v-1.2h-2v.1h-2v.1h-2v-.2h-2v.3h-2v-.3h-2v.2h-2v1h-2v-1h-2v-.1h-2v.2h-2v1.1h-2v-.6h-2v.2h-2v-1h-2v.6h-2v-.6h-2v.3h-2v.3h-2v-.4h-2v.3h-2v-.2h-2v0h-2v.1h-2v-.3h-2v1.1h-2v-.3h-2v.3h-2v-1.3h-2v1.2h-2v-.9h-2v-.1h-2v.1h-2v.3h-2v-.3h-2v.8h-2v-.8h-2v-.2h-2v1.2h-2v-.6h-2v.1h-2v-.8h-2v0h-2v.2h-2v0h-2v-.1h-2v1h-2v-.6h-2v0h-2v.1h-2v-.3h-2v-.2h-2v.3h-2v-.3h-2v.4h-2v.7h-2v.2h-2v-.9h-2v1.1h-2v-.7h-2v.3h-2v-.8h-2v-.4h-2v.6h-2v-.6h-2v.9h-2v-.1h-2v-.8h-2v.7h-2v.2h-2v.3h-2v-.9h-2v.1h-2v-.1h-2v-.1h-2v1h-2v-1h-2v.8h-2v-.7h-2v-.3h-2v1h-2v-.8h-2v.2h-2v.4h-2v-.8h-2v.6h-2v-.3h-2v-.3h-2v.9h-2v-.5h-2v.3h-2v-.4h-2v.7h-2v-.6h-2v-.1h-2v.3h-2v-.5h-2v1.5h-2v-1.6h-2v.5h-2v1.2h-2v-1.5h-2v.5h-2v.1h-2v-.6h-2v-.1h-2v.2h-2v-.3h-2v1.8h-2v-.3h-2v.5h-2v-1.9h-2v.3h-2v-.3h-2v.5h-2v-.6h-2v.2h-2v.4h-2v.8h-2v-1.4h-2v.1h-2v.2h-2v1.4h-2v-1.2h-2v.1h-2v-.3h-2v.2h-2v-.2h-2v-.3h-2v0h-2v1.7h-2v-1.7h-2v.3h-2v-.1h-2v0h-2v.5h-2v-.7h-2v.2h-2v.6h-2v-.5h-2v-.3h-2v.7h-2v.1h-2v0h-2v.1h-2v-.7h-2v0h-2v.6h-2v-.6h-2v.3h-2v-.6h-2v.1h-2v.3h-2v1h-2v-1.2h-2v.4h-2v.2h-2v-.3h-2v1h-2v-.9h-2v.1h-2v-.2h-2v.6h-2v0h-2v-1h-2v.7h-2v-.5h-2v-.1h-2v.8h-2v-.9h-2v1.1h-2v-1h-2v.2h-2v.2h-2v-.5h-2v.3h-2v.7h-2v-.6h-2v.4h-2v-.5h-2v0h-2v1h-2v-1.1h-2v.2h-2v.2h-2v-.5h-2v.4h-2v-.4h-2v.3h-2v-.4h-2v.1h-2v-.1h-2v.3h-2v1.1h-2v-.5h-2v-.4h-2v.5h-2v.5h-2v-1.3h-2v.9h-2v-.8h-2v1.1h-2v-.6h-2v-.2h-2v-.5h-2v.1h-2v.8h-2v1h-2v-1.8h-2v.5h-2v.8h-2v-.7h-2v-.8h-2v.3h-2v.5h-2v-.6h-2v.4h-2v-.1h-2v.6h-2v-.5h-2v.3h-2v-.6h-2v.3h-2v-.5h-2v.5h-2v1.1h-2v.3h-2v-1.9h-2v.7h-2v-.4h-2v-.1h-2v-.1h-2v-.2h-2v.4h-2v-.3h-2v.3h-2v.3h-2v.2h-2v.4h-2v-.9h-2v-.1h-2v-.4h-2v.8h-2v.3h-2v-.3h-2v-.2h-2v.6h-2v-1.1h-2v0h-2v.4h-2v.2h-2v.6h-2v.2h-2v-1.1h-2v.2h-2v.3h-2v-.6h-2v.6h-2v-.5h-2v.2h-2v-.1h-2v-.2h-2v-.1h-2v.1h-2v.4h-2v-.5h-2v.3h-2v.5h-2v-.2h-2v.2h-2v.5h-2v-.2h-2v.1h-2v-.1h-2v-.1h-2v-.8h-2v.4h-2v-.3h-2v-.2h-2v.6h-2v.2h-2v-.6h-2v-.4h-2v.9h-2v-.1h-2v-.6h-2v.4h-2v-.4h-2v.3h-2v-.3h-2v-.2h-2v1.3h-2v-.7h-2v.2h-2v-.1h-2v-.6h-2v-.1h-2v1.8h-2v-.6h-2v-.9h-2v0h-2v.3h-2v-.5h-2v-.1h-2v.1h-2v.4h-2v-.4h-2v.4h-2v-.5h-2v1.4h-2v-1.1h-2v.8h-2v-.9h-2v-.1h-2v-.1h-2v.7h-2v-.3h-2v1h-1v.1h-1v0h-1v.1h-1v.4h-1v-.3h-1v-.3h-1v.3h-1v-.1h-1v.1h-1v1.1h-1v-1.1h-1v.2h-1v-.2h-1v-.5h-1v.9h-1v-.7h-1v-.1h-1v.3h-1v1.2h-1v-1h-1v.2h-1v0h-1v-.9h-1v.4h-1v.3h-1v.2h-1v-.2h-1v-.2h-1v.4h-1v.2h-1v.4h-1v-1.1h-1v-1.3h-2v.6h-2v-.5h-2v-.2h-2v-.1h-2v.9h-2v-.2h-2v-.5h-2v.6h-2v-.7h-2v1h-2v-.1h-2v.4h-2v-.9h-2v-.4h-2v.1h-2v-.1h-2v0h-2v.5h-2v.5h-2v-1.1h-2v.9h-2v-.4h-2v-.5h-2v.7h-2v-.4h-2v-.3h-2v1.7h-2v-.1h-2v-1.1h-2v-.1h-2zM231 817.5h2v-.2h2v1.1h2v-.4h2v.2h2v-1.3h2v.1h2v1.3h2v-.3h2v-.3h2v0h2v0h2v-.5h2v1.2h2v-.2h2v.2h2v-.1h2v0h2v-.6h2v.4h2v-.2h2v.5h2v-.5h2v.5h2v-.6h2v.5h2v-.5h2v-.7h2v-.3h2v1.3h2v-.1h2v-.2h2v.5h2v-.1h2v-.1h2v-.2h2v-.2h2v.2h2v-.8h2v.7h2v-1.1h2v1.3h2v.2h2v-.3h2v.5h2v-1.1h2v.5h2v-.3h2v.2h2v.5h2v-.1h2v0h2v-.3h2v.3h2v-1.3h2v.8h2v-.2h2v.4h2v-.2h2v-.3h2v1h2v-.6h2v-.3h2v.4h2v.6h2v-.7h2v.1h2v.5h2v-1.6h2v.6h2v.4h2v-.1h2v-1h2v.7h2v1h2v.1h2v-1h2v.9h2v-1.2h2v1.1h2v-.9h2v1h2v-.1h2v0h2v.1h2v-.3h2v-1.2h2v-.1h2v.6h2v.9h2v0h2v-1.8h2v1.7h2v.1h2v-.1h2v.2h2v-.2h2v-1.1h2v-.2h2v1.3h2v0h2v-.1h2v-.1h2v.3h2v-.8h2v.9h2v.1h2v-1h2v.4h2v.5h2v.1h2v-.1h2v-1h2v.2h2v-.7h2v.7h2v.1h2v.6h2v-.1h2v-.2h2v.4h2v.1h2v0h2v-.3h2v.2h2v-1h2v-.4h2v1.5h2v-1.4h2v1.1h2v.2h2v0h2v-.1h2v-.1h2v-.1h2v-.2h2v.5h2v-.3h2v.4h2v-.1h2v.1h2v-.4h2v-.2h2v.3h2v.2h2v.1h2v-.6h2v.1h2v.2h2v-.1h2v.4h2v-.3h2v.2h2v.1h2v-1.1h2v.9h2v0h2v-.2h2v.1h2v-.2h2v.1h2v-.5h2v.7h2v-.7h2v.5h2v.4h2v-.8h2v-1h2v1.8h2v0h2v-.3h2v-.8h2v.9h2v-1h2v.3h2v.9h2v-.2h2v0h2v.1h2v-.4h2v0h2v.5h2v-.5h2v-.4h2v-.1h2v.5h2v-.9h2v0h2v1.2h2v-.7h2v.8h2v-.2h2v-.2h2v.3h2v-.4h2v-.2h2v.8h2v-1.1h2v1h2v-.4h2v.3h2v-1.1h2v1.3h2v-1.1h2v-.3h2v1.3h2v0h2v-.2h2v-.1h2v-1.1h2v1.2h2v-1.2h2v.3h2v1h2v.2h2v-.5h2v-.7h2v-.3h2v1.4h2v-.5h2v.3h2v0h2v.2h2v-.6h2v.4h2v.3h2v-.9h2v.8h2v-.9h2v1h2v-.2h2v-.1h2v-.2h2v-.8h2v1.2h2v-1.5h2v1.4h2v0h2v.2h2v-.1h2v-.9h2v.9h2v-.4h2v.3h2v-.9h2v1.1h2v-.4h2v-1h2v1.4h2v-.4h2v.2h2v-.4h2v-.2h2v.7h2v-.2h2v0h2v.2h2v-1h2v.7h2v.1h2v-1.1h2v1.4h2v-.4h2v-.2h2v.6h2v0h2v-1.5h2v.7h2v.4h2v0h2v.3h2v0h2v.1h2v-.7h2v.5h2v-1.1h2v.3h2v.9h2v-1.4h2v1.1h2v.2h2v-.7h2v-.2h2v.8h2v-.3h2v0h2v0h2v-.5h2v.8h2v0h2v0h2v-.5h2v.3h2v.2h2v-.1h2v.1h2v-1.4h2v1.4h2v-.2h2v-.3h2v.7h2v-1.1h2v.9h2v-.1h2v-.1h2v-.3h2v.8h2v-.6h2v.2h2v.3h2v-.1h2v-.6h2v.7h2v-.8h2v.8h2v-.2h2v0h2v.1h2v-.6h2v0h2v-.1h2v.4h2v.5h2v-.7h2v0h2v.2h2v.5h2v-1.2h2v1.1h2v-1h2v1.1h2v-.9h2v.3h2v-.3h2v.7h2v0h2v-.2h2v-.5h2v.7h2v-.1h2v-.1h2v-.9h2v1.3h2v-.3h2v-.3h2v-.6h2v1.2h2v-1.2h2v1.2h2v-.4h2v-.1h2v.5h2v-.3h2v0h2v0h2v-.2h2v-.5h2v.4h2v-.1h2v.7h2v-.8h2v-.5h2v.8h2v0h2v-.6h2v.2h2v.6h2v.3h2v0h2v-.1h2v-.3h2v-.2h2v0h2v-.1h2v-.2h2v.1h2v.6h2v-1.5h2v1.2h2v.2h2v-.2h2v.4h2v-.7h2v.3h2v-.3h2v.3h2v-.3h2v.6h2v0h2v0h2v-.1h2v-.5h2v.8h2v-.5h2v.5h2v-2.1h2v1.3h2v0h2v.6h2v-.1h2v.3h2v-.1h2v-.6h2v-.8h2v1.4h2v0h2v0h2v-.4h2v.5h2v-.7h2v.3h2v.2h2v-.3h2v-.1h2v.2h2v-.9h2v.9h2v-.2h2v-.7h2v1.2h2v-.6h2v.7h2v0h2v-.3h2v-.6h2v.4h2v-.3h2v.5h2v.3h2v-.2h2v-.6h2v.7h2v-.1h2v-.3h2v-.5h2v.9h2v0h2v-.2h2v-1.3h2v1.4h2v-.4h2v.6h2v-.6h2v-.4h2v.9h2v.1h2v-.4h2v.4h2v-1h2v-.5h2v1h2v.3h2v0h2v-2.2h2v1.8h2v.1h2v.5h2v0h2v0h2v-.3h2v.3h2v-.2h2v-.1h2v.2h2v-1.2h2v1.3h2v-.6h2v-.5h2v.9h2v-.8h2v.5h2v-.5h2v0h2v-.2h2v-.3h2v1.5h2v0h2v0h2v-.8h2v.7h2v-.4h2v.5h2v-.1h2v-.6h2v.2h2v-.1h2v-.7h2v1.1h2v-.4h2v.4h2v0h2v-1h2v.7h2v.4h2v-1h2v.9h2v-.2h2v-.7h2v.8h2v-1.3h2v1.5h2v0h2v-.3h2v-.6h2v.4h2v-.4h2v.9h2v-.8h2v.4h2v.1h2v.4h2v-1.2h2v1.1h2v0h2v-.1h2v-.6h2v-.4h1v-1.2h1v.7h1v-.1h1v.6h1v-.6h1v.1h1v0h1v.2h1v0h1v-.5h1v.6h1v-.4h1v.6h1v-1.7h1v.8h1v0h1v-.3h1v-.1h1v1.3h1v-.1h1v-.1h1v.2h2v.5h2v-.2h2v.1h2v0h2v0h2v.7h2v-.4h2v.4h2v.1h2v-1.7h2v.3h2v1.3h2v-.3h2v.2h2v-.5h2v.5h2v-1h2v.2h2v.9h2v0h2v-1h2v-.1h2v1.2h2v-.3h2v.2h2v-.2h2v-.9h2v1.2h2v-1.2h2v-.1h2v1.3h2v-.1h2v.1h2v-.6h2v0h2v-.1h2v.6h2v-.9h2v-.9h2v1.4h2v.4h2v-.3h2v-.2h2v.2h2v.2h2v.2h2v-.8h2v-.6h2v.3h2v.8h2v-.5h2v.6h2v.1h2v-.9h2v.3h2v.2h2v.5h2v0h2v-.2h2v-.3h2v.4h2v0h2v-1.4h2v1h2v.3h2v-.2h2v.1h2v-.5h2v-.5h2v.5h2v.4h2v.2h2v.2h2v-1.6h2v1.4h2v.1h2v-.4h2v.1h2v.3h2v-.3h2v.3h2v.1h2v-.3h2v.1h2v-.2h2v.2h2v0h2v-.9h2v.9h2v-.1h2v-.2h2v-.1h2v.3h2v-.9h2v.2h2v.5h2v-1h2v.3h2v.8h2v0h2v-.1h2v.1h2v.3h2v-.4h2v.3h2v-.4h2v.6h2v-.2h2v-.1h2v-.5h2v.1h2v.1h2v-.9h2v.4h2v.9h2v0h2v-.3h2v0h2v.1h2v.2h2v-.4h2v-.1h2v.6h2v-.9h2v1h2v-.4h2v-.8h2v1.2h2v-.3h2v.2h2v-.2h2v.3h2v-.4h2v.3h2v-.4h2v-.1h2v.6h2v0h2v0h2v-.2h2v.1h2v-.5h2v.3h2v-.5h2v.6h2v0h2v-.3h2v.4h2v-.2h2v-.8h2v.1h2v.9h2v-.2h2v.1h2v.1h2v-1.1h2v.8h2v-.7h2v.5h2v.5h2v-.4h2v0h2v.1h2v.3h2v-.8h2v-.3h1v.2h1v-.9h1v.7h1v-.1h1v-.8h1v.8h1v.1h1v-.2h1v0h1v-1.7h1v1.7h1v.1h1v.1h1v-1h1v1h1v-.1h1v-.1h1v-.8h1v1.1h1v.1h1v-.4h1v-.8h1v.5h1v-.3h1v-.4h1v1.3h1v-.4h1v-1h1v1.3h1v0h1v-.1h1v.2h1v-.9h1v.5h1v-.3h1v-1h1v1.6h1v-.6h1v.6h1v.1h1v0h1v-.8h1v-.9h1v1.2h1v-.9h1v.5h1v.7h1v.2h1v-.3h1v.4h1v-.4h1v-.3h1v.7h1v-.4h1v0h1v.3h1v0h1v-.4h1v.3h1v.2h1v-2h1v1.8h1v-.2h1v-1.7h1v1.4h1v-.2h1v.8h1v-.3h1v.3h1v-1.3h1v1.3h1v0h1v9.2h-1v-.2h-1v-.3h-1v-.1h-1v-.2h-1v1.2h-1v-.8h-1v-.1h-1v-.5h-1v.7h-1v.1h-1v.2h-1v-.9h-1v.3h-1v.5h-1v-.4h-1v-.3h-1v.2h-1v-.1h-1v0h-1v-.3h-1v.1h-1v0h-1v.4h-1v1.1h-1v-1.1h-1v-.5h-1v1.4h-1v-.8h-1v-.5h-1v-.1h-1v.1h-1v.6h-1v-.3h-1v.3h-1v-.5h-1v0h-1v.2h-1v.3h-1v-.4h-1v0h-1v.1h-1v-.3h-1v1.3h-1v-.1h-1v-1h-1v.3h-1v.2h-1v-.8h-1v.1h-1v.4h-1v.4h-1v-.8h-1v.4h-1v.2h-1v-.2h-1v.3h-1v-.7h-1v.1h-1v0h-1v.3h-1v0h-1v.8h-1v-1.1h-1v.5h-1v-.5h-1v.4h-1v.1h-1v-.1h-1v-.5h-1v.2h-1v1h-1v-1.4h-1v-.9h-2v.7h-2v.3h-2v-.3h-2v.6h-2v-.1h-2v-.7h-2v.1h-2v.2h-2v.5h-2v-.2h-2v0h-2v-.7h-2v-.1h-2v-.3h-2v.8h-2v.1h-2v-.9h-2v.7h-2v-.7h-2v1.6h-2v-1.5h-2v.1h-2v0h-2v.4h-2v-.5h-2v.1h-2v-.1h-2v1h-2v0h-2v.6h-2v-1.7h-2v.2h-2v-.2h-2v.1h-2v.3h-2v.3h-2v-.4h-2v-.3h-2v.1h-2v.1h-2v.6h-2v.6h-2v-.6h-2v-.4h-2v-.1h-2v-.2h-2v.8h-2v-.9h-2v.1h-2v.6h-2v-.4h-2v.3h-2v-.2h-2v.5h-2v-.1h-2v.6h-2v-.6h-2v-.2h-2v0h-2v-.3h-2v.2h-2v0h-2v-.3h-2v.5h-2v.5h-2v-.1h-2v.8h-2v-1.9h-2v.3h-2v.1h-2v-.3h-2v.1h-2v.8h-2v-.8h-2v.3h-2v-.5h-2v.1h-2v-.1h-2v.2h-2v.9h-2v-.8h-2v-.2h-2v.3h-2v.3h-2v.8h-2v-.9h-2v.8h-2v-1.2h-2v.2h-2v-.1h-2v-.2h-2v1.1h-2v-1h-2v-.1h-2v.6h-2v.3h-2v-.7h-2v-.2h-2v-.1h-2v.3h-2v0h-2v.1h-2v.2h-2v1h-2v-1.5h-2v.6h-2v.3h-2v-.2h-2v-.6h-2v.1h-2v.8h-2v-.3h-2v-.1h-2v.5h-2v-1.1h-2v.2h-2v.3h-2v-.3h-2v.1h-2v.5h-2v.1h-2v-1h-2v1.5h-2v-1.1h-2v-.3h-2v1.1h-2v-1.2h-2v.4h-2v-.1h-2v1h-2v-1.1h-2v1h-2v-.5h-2v-.4h-2v-.3h-2v0h-2v.2h-2v0h-2v.4h-2v-.6h-2v0h-2v.3h-2v.9h-2v-.4h-2v.3h-2v-.5h-2v0h-2v-.3h-2v1h-2v-1.2h-2v.4h-2v-.5h-2v1.2h-2v-1.1h-2v.3h-2v-.4h-2v.7h-2v-.1h-2v-.2h-2v-.2h-2v-.1h-2v.2h-2v.1h-2v.1h-2v.6h-2v1.6h-1v-.1h-1v-.9h-1v.5h-1v.1h-1v-.5h-1v-.4h-1v.8h-1v-.4h-1v-.1h-1v-.1h-1v1.2h-1v-1.1h-1v-.2h-1v-.2h-1v.6h-1v-.3h-1v.1h-1v.3h-1v-.6h-1v.5h-1v.6h-1v-1.7h-2v-.6h-2v0h-2v0h-2v.7h-2v-.7h-2v.9h-2v-1h-2v1h-2v-.5h-2v-.2h-2v0h-2v-.4h-2v1.4h-2v-1.3h-2v.7h-2v-.5h-2v.6h-2v1h-2v-1.9h-2v.3h-2v0h-2v.1h-2v.4h-2v0h-2v-.6h-2v.1h-2v.5h-2v.6h-2v-1.4h-2v.1h-2v1.4h-2v-1.3h-2v.2h-2v.4h-2v-.8h-2v1.1h-2v-.8h-2v.5h-2v-.6h-2v.5h-2v-.5h-2v.3h-2v-.1h-2v-.3h-2v1.5h-2v-1h-2v0h-2v-.4h-2v.3h-2v-.3h-2v.6h-2v.9h-2v-1.6h-2v.7h-2v-.5h-2v.4h-2v-.4h-2v-.2h-2v.7h-2v-.7h-2v.1h-2v1.5h-2v-1.4h-2v.2h-2v0h-2v.8h-2v-.6h-2v-.4h-2v.2h-2v0h-2v.1h-2v.7h-2v-1.2h-2v.6h-2v-.1h-2v-.4h-2v-.2h-2v.4h-2v-.2h-2v.6h-2v-.7h-2v.2h-2v-.3h-2v.4h-2v-.3h-2v0h-2v1h-2v-.1h-2v-.9h-2v1h-2v-1.1h-2v1h-2v-.6h-2v-.4h-2v.7h-2v-.5h-2v.7h-2v-.7h-2v-.1h-2v-.1h-2v1h-2v-.3h-2v-.2h-2v-.5h-2v.9h-2v-.5h-2v-.1h-2v1.3h-2v-.8h-2v-.2h-2v-.1h-2v.3h-2v.5h-2v-.8h-2v.3h-2v-.5h-2v.1h-2v.5h-2v.2h-2v-1.1h-2v.6h-2v-.4h-2v-.1h-2v1.7h-2v-1.1h-2v.8h-2v-1.2h-2v.3h-2v-.4h-2v.3h-2v-.1h-2v-.1h-2v.4h-2v0h-2v-.1h-2v1h-2v-.4h-2v-.9h-2v.5h-2v-.7h-2v.3h-2v.3h-2v-.4h-2v0h-2v.7h-2v-.9h-2v-.1h-2v.4h-2v1h-2v-1.3h-2v.1h-2v.6h-2v-.3h-2v-.3h-2v-.2h-2v.6h-2v-.1h-2v0h-2v-.3h-2v.4h-2v-.6h-2v1.6h-2v-.8h-2v-.4h-2v-.4h-2v.4h-2v-.3h-2v.1h-2v.2h-2v-.1h-2v.2h-2v.7h-2v-.8h-2v.2h-2v-.5h-2v.4h-2v-.2h-2v.1h-2v-.4h-2v.2h-2v.2h-2v-.1h-2v.5h-2v0h-2v-.7h-2v.4h-2v-.4h-2v.6h-2v.4h-2v.8h-2v-1.6h-2v.2h-2v-.1h-2v.7h-2v-1.1h-2v.2h-2v1.2h-2v.1h-2v0h-2v-.2h-2v-1.3h-2v.1h-2v-.1h-2v.2h-2v-.1h-2v.5h-2v.7h-2v-.3h-2v0h-2v-.1h-2v.4h-2v-1.3h-2v.5h-2v-.3h-2v.5h-2v.5h-2v-1.2h-2v2.1h-2v-1.3h-2v-.4h-2v0h-2v.5h-2v0h-2v-.3h-2v0h-2v.1h-2v0h-2v-.3h-2v-.4h-2v1.4h-2v-.7h-2v-.1h-2v.2h-2v-.5h-2v0h-2v0h-2v-.2h-2v.1h-2v.1h-2v-.1h-2v1.3h-2v-.2h-2v-1.3h-2v.1h-2v.1h-2v-.2h-2v.2h-2v.5h-2v.2h-2v-.8h-2v.3h-2v.4h-2v-.7h-2v.8h-2v-.8h-2v.9h-2v-.6h-2v-.2h-2v.4h-2v-.6h-2v1.6h-2v-1.6h-2v.2h-2v.8h-2v-.1h-2v-.3h-2v.5h-2v-.9h-2v.6h-2v-.7h-2v.4h-2v-.2h-2v-.1h-2v.1h-2v.1h-2v.7h-2v-.3h-2v.1h-2v-.3h-2v-.6h-2v.7h-2v-.7h-2v.2h-2v0h-2v.4h-2v-.4h-2v.2h-2v-.4h-2v0h-2v.7h-2v-.4h-2v.8h-2v-.9h-2v-.2h-2v0h-2v.3h-2v.3h-2v-.3h-2v-.2h-2v.3h-2v-.3h-2v.8h-2v-.7h-2v1.7h-2v-1.6h-2v.5h-2v-.7h-2v.5h-2v.8h-2v-.5h-2v1.2h-2v-2h-2v1.3h-2v-.7h-2v-.4h-2v.6h-2v-.1h-2v-.8h-2v0h-2v.4h-2v0h-2v.3h-2v.3h-2v-.1h-2v-.5h-2v.5h-2v.2h-2v-.1h-2v-.6h-2v-.4h-2v.5h-2v.6h-2v-.7h-2v-.1h-2v.5h-2v-.5h-2v.5h-2v-.2h-2v-.5h-2v.9h-2v-.8h-2v.8h-2v-.1h-2v0h-2v-.6h-2v-.1h-2v.4h-2v-.1h-2v1.4h-2v-1.1h-2v-.8h-2v.4h-2v-.4h-2v.1h-2v.8h-2v-.8h-2v1.6h-2v-1h-2v.2h-2v-.4h-2v0h-2v.3h-2v-.7h-2v.2h-2v-.1h-2v.1h-2v0h-2v0h-2v.3h-2v-.6h-2v.9h-2v-.8h-2v0h-2v0h-2v0h-2v1.1h-2v-.6h-2v.1h-2v-.4h-2v0h-2v.3h-2v-.6h-2v.4h-2v-.2h-2v.1h-2v.2h-2v-.4h-2v.7h-2v-.6h-2v1.1h-2v-1h-2v.7h-2v-.2h-2v-.1h-2v-.5h-2v.1h-2v.1h-2v-.3h-2v.1h-2v.7h-2v-.5h-2v-.3h-2v.6h-2v-.4h-2v.8h-2v-.6h-2v-.5h-2v0h-2v1.4h-2v-.3h-2v.5h-2v-1.3h-2v-.1h-2v.4h-2v.5h-2v-.6h-2v-.4h-2v0h-2v1.3h-2v-1.2h-2v.1h-2v-.3h-2v.2h-2v.2h-2v.3h-2v-.6h-2v0h-2v.2h-2v-.3h-2v.5h-2v-.4h-2v-.1h-2v0h-2v1h-2v-.2h-2v.1h-2v-.7h-2v.1h-2v.6h-2v-.6h-2v0h-2v-.1h-2v-.1h-2v1.2h-2v-1.1h-2v0h-2v0h-2v0h-2v.6h-2v-.6h-2v.4h-2v.4h-2v-.8h-2v0h-2v-.2h-2v0h-2v.2h-2v-.2h-2v.6h-2v-.5h-2v.6h-2v-.5h-2v.3h-2v.2h-2v-.6h-2v1h-2v-.8h-2v1h-2v-1.3h-2v.8h-2v-.4h-2v-.2h-2v.7h-2v-.6h-2v-.1h-2v0h-2v.5h-2v-.5h-2v.2h-2v-.3h-2v.4h-2v0h-2v.6h-2v-.6h-2v-.3h-2v-.1h-2v.8h-2v.4h-2v-1.2h-2v1.6h-2v-1.2h-2v.2h-2v-.5h-2v-.1h-2v.6h-2v-.7h-2v.2h-2v-.1h-2v0h-2v.2h-2v.3h-2v.5h-2v-.3h-2v.7h-2v-.8h-2v1.1h-2v-.8h-2v-.5h-2v.1h-2v-.6h-2v.8h-2v-.5h-2v-.1h-2v-.1h-2v.1h-2zM231 936.3h2v-1.2h2v1.1h2v-.3h2v-.4h2v.4h2v0h2v-.6h2v0h2v1h2v-.4h2v-.6h2v-.1h2v.6h2v.6h2v-.2h2v-1h2v-.5h2v.8h2v.4h2v-.2h2v.6h2v-1.6h2v1.1h2v.3h2v-.1h2v0h2v.2h2v-.6h2v.8h2v-.4h2v.2h2v-.3h2v-.5h2v.3h2v.5h2v-1.2h2v.3h2v-.8h2v1.8h2v-.2h2v-.1h2v.3h2v-.4h2v-.6h2v.1h2v.9h2v-.1h2v-.9h2v.8h2v.2h2v-.7h2v0h2v.2h2v.3h2v-.4h2v.3h2v.1h2v-.3h2v-.3h2v.2h2v-.6h2v.5h2v.2h2v-1.3h2v1.5h2v-.8h2v.6h2v-.6h2v.8h2v-.9h2v.8h2v.4h2v-.2h2v-.7h2v.3h2v-.4h2v-.1h2v.7h2v.1h2v-1h2v1.4h2v-.5h2v.4h2v-.6h2v-.1h2v.5h2v0h2v-.3h2v.3h2v0h2v-.3h2v-.2h2v-.1h2v.7h2v-.1h2v.1h2v-.2h2v-.8h2v.6h2v.5h2v.1h2v-.1h2v-.7h2v.2h2v.1h2v.2h2v0h2v0h2v-.2h2v.4h2v-.1h2v-.3h2v-.1h2v.5h2v-.3h2v-1.3h2v1.4h2v.1h2v.2h2v-.1h2v-.4h2v-.7h2v.7h2v-.2h2v.4h2v-.3h2v-.1h2v-.1h2v.5h2v-.5h2v.4h2v.1h2v-.3h2v.3h2v0h2v-.4h2v.2h2v.3h2v-.3h2v.3h2v0h2v-.5h2v.5h2v.1h2v-.3h2v-.1h2v.1h2v.2h2v-.1h2v-1h2v.9h2v.2h2v.1h2v-1h2v-.4h2v.4h2v-.5h2v.3h2v.9h2v-.3h2v-.2h2v.6h2v.3h2v-.2h2v.1h2v-.6h2v.4h2v-1.1h2v0h2v1.3h2v-.7h2v-.3h2v.4h2v.1h2v-.1h2v-.5h2v1h2v0h2v0h2v0h2v-.8h2v.9h2v-1.4h2v1.1h2v0h2v-.4h2v.5h2v-.2h2v-.5h2v-.1h2v.9h2v.1h2v.1h2v-.3h2v-.7h2v.1h2v.4h2v.3h2v.1h2v-.6h2v.4h2v-1.1h2v1.2h2v0h2v-.1h2v-.1h2v.2h2v-.9h2v.8h2v-1.2h2v.3h2v.5h2v.7h2v-.5h2v0h2v.2h2v.1h2v-.5h2v-.6h2v1.2h2v-1.5h2v.1h2v.8h2v.7h2v-.9h2v-.3h2v1h2v0h2v0h2v-.3h2v-.1h2v.5h2v-.4h2v.5h2v-.8h2v-.8h2v1.6h2v-.3h2v-.6h2v.4h2v.3h2v.1h2v-.9h2v-.4h2v1.3h2v0h2v-.4h2v.4h2v-.7h2v.4h2v-1.1h2v.7h2v.8h2v-.3h2v.2h2v-.5h2v.4h2v.2h2v-.1h2v-.4h2v-.7h2v.9h2v-.1h2v.3h2v-.4h2v.2h2v-.6h2v.1h2v-.5h2v.6h2v.6h2v-1h2v.8h2v-.4h2v.6h2v-1.6h2v1.5h2v-.6h2v-.7h2v1.1h2v-.4h2v-.6h2v1.3h2v-.8h2v.5h2v.4h2v-1h2v.1h2v.2h2v-1h2v1.3h2v.2h2v0h2v.1h2v-.4h2v-1.2h2v1h2v-.3h2v.9h2v-.3h2v.4h2v-.3h2v.1h2v-.5h2v.6h2v0h2v-.9h2v.3h2v.6h2v-.4h2v.1h2v.2h2v-.1h2v-.8h2v.5h2v.2h2v.1h2v-.1h2v-.1h2v.2h2v-.4h2v0h2v-.4h2v.7h2v-.1h2v-.2h2v.4h2v-.1h2v-1.4h2v.1h2v1.3h2v-1h2v.3h2v.7h2v-.4h2v.4h2v.4h2v-.6h2v-.3h2v.6h2v-.1h2v-.3h2v-.7h2v1.2h2v-.2h2v.1h2v.2h2v-.2h2v-.2h2v-.4h2v.7h2v-1.3h2v1.2h2v.2h2v.1h2v-.6h2v-.1h2v-.5h2v.7h2v-.9h2v.6h2v.1h2v.5h2v0h2v.2h2v-.3h2v-.1h2v.1h2v.2h2v-.3h2v.2h2v-.4h2v.4h2v-.2h2v-.8h2v.7h2v.2h2v-2.1h2v2h2v-.3h2v.2h2v-.8h2v1.2h2v-.4h2v.1h2v-.4h2v.2h2v-.1h2v-.6h2v1.1h2v0h2v-1h2v.2h2v.7h2v-.1h2v-.7h2v.8h2v-.1h2v-.5h2v.3h2v0h2v.2h2v-1.5h2v1.4h2v.1h2v-.3h2v-.5h2v1h2v-1.1h2v.4h2v-.9h2v1.5h2v-1.1h2v1.1h2v-.1h2v.2h2v-.6h2v.5h2v-.1h2v.2h2v-.3h2v.4h2v-1h2v-.3h2v1.2h2v.1h2v-.2h2v-.8h2v.6h2v.1h2v0h2v-.7h2v-.7h2v1.2h2v.1h2v.4h2v-.5h2v.1h2v-.1h2v.2h2v-.4h2v.7h2v-.4h2v.3h2v-.3h2v-.7h2v1.2h2v-.7h2v.4h2v-.1h2v.3h2v0h2v-.5h2v.1h2v-.8h2v.5h2v-.6h2v1h2v.3h2v-.2h2v-.3h2v.4h2v-.3h2v-.1h2v-.2h2v.6h2v-.1h2v-.1h2v-.5h2v-.1h2v.4h2v-1.1h2v1.6h2v-.1h2v-.8h2v-.1h2v-.7h2v1.5h2v-.4h2v-1.1h2v1.5h2v0h2v-1.7h2v.5h2v.4h2v.8h2v-.5h2v.6h2v-.3h2v-.6h2v-.2h2v.9h2v-.9h2v1.2h2v-.8h2v0h2v.8h2v-.4h2v-.1h2v.1h2v-1.2h2v-.8h2v2.3h2v0h2v-1.3h2v.8h2v.5h2v-1.7h2v1.4h2v.3h2v-.6h2v.4h2v-.3h2v.2h2v-.4h2v.1h2v.5h2v-.2h2v-.5h2v.4h2v0h2v.2h2v.1h2v-.6h2v.4h2v.3h2v0h2v-.6h2v.4h2v-1h2v1h2v-.1h2v0h2v.2h2v-.1h2v.2h2v.1h2v-.3h2v.1h2v-.2h2v.3h2v-.6h2v.6h2v-.1h2v-.2h2v0h2v.1h2v0h2v-1.4h2v1.4h2v-1h2v1.2h2v-.3h2v.1h2v-.8h2v1.2h2v-.4h2v-1.2h2v1.3h2v-1.2h2v.7h2v.6h2v.2h2v-.2h2v-.9h2v-.1h2v.8h2v.2h2v.1h2v0h2v-.1h2v-1.9h2v1.9h2v-.6h2v.7h2v-.7h2v.4h2v-.2h2v-1.3h2v1.8h2v-.7h2v.6h2v-.4h2v.3h2v.2h2v-.1h2v-.9h2v-.4h2v1.1h2v-.1h2v-.1h2v.4h2v-.3h2v-.4h2v.4h2v.2h2v-.5h2v.6h2v-.7h2v0h2v.6h2v.3h2v-.4h2v-.3h2v.3h2v.2h2v-.6h2v.4h2v-1h2v.5h2v-.8h2v1.1h2v.5h2v-.4h2v0h2v-.7h2v.6h2v.4h2v-.7h2v-.4h2v1h2v-.1h2v-.8h2v1.1h2v-.5h2v.3h2v0h2v-.3h2v.3h2v-.5h2v.6h2v0h2v-.2h2v.4h2v-.6h2v.1h2v-1.5h2v1.1h2v.9h2v-.4h2v-.6h2v.5h2v-.1h2v.2h2v-1.5h2v1.6h2v-1h2v1.1h2v.1h2v-1.4h2v1.1h2v-.6h2v.9h2v-.5h2v.2h2v.1h2v-.2h2v.4h2v-.4h2v-1h2v1.5h2v-2.1h2v1.4h2v.3h2v.3h2v-.5h2v-.8h2v.4h2v-.1h2v.3h2v0h2v.2h2v.1h2v.4h2v-.3h2v.3h2v-1.3h2v1.2h2v0h2v-.2h2v-.6h2v.4h2v.5h2v-.5h2v-.4h2v.6h2v-.3h2v.3h2v-.8h2v.4h2v.6h2v0h2v-.2h2v-.7h2v.8h2v-.3h2v.5h2v-.4h2v.1h2v.1h2v.2h2v-1.1h2v1h2v0h2v-.5h2v.5h2v-1.7h2v1.7h2v-.1h2v.1h2v-.2h2v0h2v.2h2v-.4h2v.2h2v0h2v.3h2v-.2h2v-.6h2v.4h2v.1h2v.1h2v-.4h2v.1h2v.3h2v.1h2v.1h2v-1.4h2v.2h1v7.5h-1v0h-2v.5h-2v.1h-2v-.6h-2v.3h-2v1.3h-2v-1.5h-2v.3h-2v.4h-2v-.3h-2v-.5h-2v.1h-2v.1h-2v-.1h-2v-.1h-2v-.2h-2v.3h-2v.1h-2v.1h-2v-.2h-2v-.2h-2v.5h-2v.5h-2v.2h-2v-1.1h-2v-.1h-2v.3h-2v1.5h-2v-1.6h-2v-.2h-2v.3h-2v.1h-2v-.2h-2v.7h-2v-.7h-2v.4h-2v0h-2v.5h-2v-.1h-2v-.1h-2v.1h-2v-1h-2v.3h-2v.2h-2v0h-2v-.2h-2v.2h-2v.4h-2v.3h-2v-1.2h-2v1.3h-2v-.8h-2v-.5h-2v0h-2v.5h-2v-.2h-2v.1h-2v0h-2v-.2h-2v-.1h-2v.3h-2v-.2h-2v.7h-2v-.6h-2v.4h-2v.1h-2v-.6h-2v.3h-2v-.1h-2v-.2h-2v.1h-2v-.1h-2v1.5h-2v-1.6h-2v.6h-2v-.6h-2v1.1h-2v-1.2h-2v1.2h-2v-.7h-2v.3h-2v-.9h-2v.6h-2v.5h-2v-1h-2v.3h-2v.1h-2v-.1h-2v.6h-2v-.4h-2v.1h-2v-.5h-2v.8h-2v-.4h-2v.8h-2v-.9h-2v-.2h-2v.2h-2v.2h-2v-.3h-2v-.4h-2v.2h-2v-.2h-2v.9h-2v.8h-2v-.3h-2v-.9h-2v.2h-2v-.4h-2v.2h-2v-.4h-2v.9h-2v-.9h-2v-.1h-2v.3h-2v.6h-2v-.3h-2v-.4h-2v.2h-2v-.3h-2v.2h-2v-.1h-2v-.1h-2v.4h-2v0h-2v-.3h-2v.3h-2v.7h-2v-.7h-2v.3h-2v-.1h-2v-.6h-2v.2h-2v-.1h-2v-.1h-2v.3h-2v.3h-2v.1h-2v.3h-2v-.8h-2v.1h-2v.4h-2v-.5h-2v.2h-2v.3h-2v-.7h-2v1.5h-2v-1h-2v.8h-2v-1.3h-2v0h-2v.1h-2v.2h-2v.1h-2v-.1h-2v-.1h-2v-.2h-2v.1h-2v-.2h-2v.5h-2v.5h-2v-1h-2v.9h-2v-.7h-2v.2h-2v0h-2v-.3h-2v.5h-2v.1h-2v-.4h-2v.4h-2v-.3h-2v-.4h-2v0h-2v.3h-2v.2h-2v0h-2v-.3h-2v.9h-2v-.8h-2v-.1h-2v.5h-2v-.2h-2v-.2h-2v0h-2v-.1h-2v.4h-2v.5h-2v-1h-2v.3h-2v-.3h-2v.3h-2v.7h-2v-.6h-2v-.4h-2v.1h-2v.2h-2v-.1h-2v1.1h-2v-1h-2v.1h-2v.1h-2v.2h-2v-.7h-2v.2h-2v.5h-2v-.4h-2v-.3h-2v.5h-2v-.4h-2v0h-2v.2h-2v.4h-2v-.6h-2v.7h-2v.1h-2v-.8h-2v-.1h-2v.7h-2v.4h-2v-.8h-2v.1h-2v0h-2v.1h-2v.3h-2v.7h-2v-1.5h-2v.3h-2v-.3h-2v.5h-2v.9h-2v.3h-2v-.1h-2v-1.5h-2v1.8h-2v-1.9h-2v.4h-2v.1h-2v-.3h-2v-.2h-2v.2h-2v0h-2v0h-2v-.3h-2v.1h-2v1.2h-2v-.8h-2v-.3h-2v.5h-2v-.4h-2v.2h-2v-.3h-2v0h-2v-.2h-2v.7h-2v-.3h-2v.2h-2v-.3h-2v1.4h-2v-.8h-2v-.7h-2v1.1h-2v-.7h-2v-.5h-2v1.8h-2v-1.7h-2v.5h-2v-.3h-2v-.1h-2v0h-2v.4h-2v.1h-2v.3h-2v-.8h-2v0h-2v-.2h-2v.7h-2v-.7h-2v.9h-2v-1h-2v.9h-2v-.6h-2v1.2h-2v.1h-2v-1.4h-2v.9h-2v-.6h-2v.3h-2v-.7h-2v0h-2v.3h-2v-.1h-2v-.2h-2v1.1h-2v-1.1h-2v.1h-2v0h-2v1.1h-2v-1.2h-2v1.6h-2v-1.4h-2v1.2h-2v-1h-2v.9h-2v-1.3h-2v.8h-2v-.4h-2v-.3h-2v.5h-2v.5h-2v-.9h-2v1h-2v-.1h-2v-.9h-2v0h-2v.9h-2v-1.1h-2v0h-2v.1h-2v.1h-2v1.7h-2v-1.3h-2v-.6h-2v.5h-2v.4h-2v-.6h-2v-.2h-2v.2h-2v.9h-2v-1.1h-2v0h-2v0h-2v-.1h-2v.9h-2v-.4h-2v-.3h-2v.5h-2v-.7h-2v.5h-2v-.2h-2v1.1h-2v-.8h-2v-.1h-2v.4h-2v-.8h-2v.2h-2v-.1h-2v.9h-2v.2h-2v.1h-2v-1.5h-2v.1h-2v.3h-2v-.1h-2v-.3h-2v.4h-2v.2h-2v.4h-2v.1h-2v-.2h-2v-.4h-2v0h-2v.3h-2v-.3h-2v-.5h-2v.4h-2v-.2h-2v.3h-2v0h-2v-.2h-2v.2h-2v-.3h-2v.2h-2v1h-2v-1.1h-2v-.3h-2v.3h-2v.5h-2v-.5h-2v.8h-2v.4h-2v-1.5h-2v1.3h-2v-.9h-2v-.1h-2v0h-2v.2h-2v-.5h-2v.7h-2v-.1h-2v-.4h-2v-.1h-2v.4h-2v-.3h-2v1.1h-2v0h-2v-1.3h-2v.7h-2v.6h-2v-1h-2v-.1h-2v.5h-2v0h-2v0h-2v.2h-2v-.9h-2v2h-2v-.6h-2v-.7h-2v-.1h-2v-.1h-2v.1h-2v.7h-2v.3h-2v-1.4h-2v.5h-2v-.2h-2v.2h-2v.5h-2v.2h-2v-1.3h-2v.8h-2v-.5h-2v-.2h-2v1h-2v-1h-2v.2h-2v-.1h-2v.5h-2v-.4h-2v.5h-2v-.6h-2v.2h-2v-.4h-2v.4h-2v-.3h-2v.5h-2v1h-2v-.3h-2v-.6h-2v-.6h-2v.6h-2v-.5h-2v1.1h-2v-1.1h-2v1.8h-2v-1.7h-2v-.2h-2v-.1h-2v.8h-2v.1h-2v-.9h-2v.8h-2v-.4h-2v-.2h-2v-.1h-2v.5h-2v.4h-2v-.5h-2v-.1h-2v.2h-2v-.1h-2v.8h-2v-.8h-2v-.1h-2v-.3h-2v.2h-2v.8h-2v-1.2h-2v.9h-2v-.8h-2v.1h-2v.9h-2v-1h-2v.4h-2v-.2h-2v0h-2v.6h-2v.3h-2v-.8h-2v-.2h-2v.4h-2v-.6h-2v.6h-2v.2h-2v-.7h-2v.6h-2v-.7h-2v0h-2v.8h-2v0h-2v-.1h-2v-.3h-2v.5h-2v1h-2v-.7h-2v-.8h-2v1h-2v-.1h-2v-1.2h-2v1.5h-2v-.8h-2v1.1h-2v-1.8h-2v.7h-2v-.1h-2v.3h-2v.1h-2v-.2h-2v-.6h-2v-.3h-2v.3h-2v-.2h-2v0h-2v-.1h-2v.9h-2v-.5h-2v.5h-2v-.2h-2v-.5h-2v2.1h-2v-1.5h-2v-.5h-2v-.1h-2v-.1h-2v1.1h-2v-.5h-2v-.5h-2v0h-2v.4h-2v-.5h-2v1.1h-2v-1h-2v-.1h-2v1h-2v-.7h-2v0h-2v0h-2v0h-2v.1h-2v.8h-2v.3h-2v-.3h-2v-.3h-2v-.4h-2v.3h-2v-.2h-2v-.4h-2v.8h-2v-.9h-2v.7h-2v-.3h-2v0h-2v-.6h-2v.6h-2v0h-2v.2h-2v-.5h-2v-.1h-2v.1h-2v-.1h-2v.7h-2v.6h-2v-1.5h-2v.5h-2v-.4h-2v-.1h-2v.5h-2v-.2h-2v.3h-2v-.3h-2v.1h-2v-.2h-2v.8h-2v.4h-2v-.6h-2v-.4h-2v-.1h-2v1.1h-2v-.3h-2v-1h-2v.3h-2v-.4h-2v.4h-2v-.2h-2v0h-2v-.1h-2v1h-2v0h-2v-.2h-2v-.4h-2v-.1h-2v-.1h-2v-.2h-2v.3h-2v-.3h-2v.7h-2v.3h-2v-.7h-2v1h-2v-1h-2v-.2h-2v.7h-2v-.7h-2v0h-2v0h-2v0h-2v0h-2v.2h-2v1.4h-2v-.5h-2v-.7h-2v.2h-2v-.7h-2v2h-2v-1.7h-2v-.1h-2v-.2h-2v0h-2v0h-2v0h-2v.2h-2v.3h-2v-.2h-2v.2h-2v.3h-2v-.2h-2v-.4h-2v1.3h-2v-1.1h-2v-.1h-2v-.1h-2v-.2h-2v.8h-2v1.2h-2v-1.7h-2v-.2h-2v.3h-2v.5h-2v-.9h-2v.7h-2v-.4h-2v-.2h-2v-.1h-2v.1h-2v-.1h-2v.5h-2v-.5h-2v-.1h-2v.1h-2v1.2h-2v-.5h-2v-.5h-2v.2h-2v-.1h-2v-.1h-2v.5h-2v-.1h-2v1.1h-2v-1.6h-2v.2h-2v.3h-2v1h-2v-.3h-2v-.2h-2v-1.1h-2v0h-2v.5h-2v-.2h-2v-.2h-2v-.1h-2v.9h-2v.1h-2v-.7h-2v.6h-2v-1h-2v.7h-2v-.6h-2v1h-2v-.7h-2v.1h-2v1.1h-2v-1.3h-2v-.3h-2v.1h-2v1.1h-2v-1h-2v.6h-2v-.3h-2v0h-2v-.1h-2v.1h-2v-.2h-2v-.1h-2v0h-2v1.2h-2v-.9h-2v.8h-2v-.2h-2v.1h-2v-1h-2v1.6h-2v-1.7h-2v.1h-2v1.4h-2v-1.3h-2v1.2h-2v-.4h-2v-.9h-2v.9h-2v.1h-2v-.9h-2v.1h-2v.1h-2v-.3h-2v.5h-2v1.4h-2v-.7h-2v-.6h-2v.4h-2v-.5h-2v.7h-2v.3h-2v-1.4h-2v.2h-2v.8h-2v-1.2h-2v.2h-2v-.1h-2zM231 1053h2v1h2v-.1h2v-.2h2v-.3h2v.8h2v-.2h2v0h2v.2h2v-.4h2v-.4h2v.8h2v.1h2v-.2h2v.1h2v-.3h2v-1.4h2v1.7h2v-.9h2v.2h2v-.9h2v1.4h2v0h2v-.2h2v.5h2v-1.5h2v1.4h2v0h2v-.2h2v-.3h2v.3h2v-1.3h2v.6h2v0h2v.8h2v-.3h2v-.2h2v.7h2v-.2h2v.2h2v-1.2h2v.9h2v.1h2v-.3h2v.4h2v-.9h2v.8h2v.2h2v-.2h2v-.9h2v.2h2v.7h2v-.6h2v.5h2v-.1h2v0h2v-.2h2v.3h2v.1h2v-.7h2v-.5h2v1h2v-.2h2v.4h2v-.3h2v.1h2v-.1h2v-.5h2v.5h2v.1h2v0h2v-.3h2v.1h2v.1h2v-.3h2v.7h2v-.1h2v-.7h2v.6h2v-.3h2v-1.1h2v1.3h2v-.6h2v.2h2v0h2v-1.5h2v2.3h2v-1.1h2v.5h2v-1h2v.5h2v.9h2v-.3h2v.3h2v-1h2v.6h2v-.6h2v0h2v1h2v-.5h2v-.1h2v.5h2v-.3h2v.6h2v-.3h2v-.1h2v-.1h2v-1.5h2v1.6h2v.1h2v.1h2v.2h2v-1.2h2v1.1h2v.1h2v0h2v-.1h2v-.3h2v-.2h2v-.6h2v1.1h2v0h2v-.1h2v-.1h2v0h2v-.5h2v.4h2v-.7h2v-.2h2v.8h2v.4h2v-.8h2v0h2v.9h2v-1.5h2v.7h2v.8h2v-.5h2v.4h2v-.8h2v.3h2v-.7h2v.8h2v.2h2v.2h2v-.3h.7v7h-.7v-.1h-2v.5h-2v-.8h-2v.7h-2v-.1h-2v-.5h-2v.6h-2v-.2h-2v0h-2v-.4h-2v0h-2v.9h-2v-.6h-2v.7h-2v-1.1h-2v.1h-2v-.2h-2v.1h-2v.3h-2v-.4h-2v.3h-2v.3h-2v0h-2v-.5h-2v.2h-2v.1h-2v.6h-2v-.9h-2v.6h-2v-.4h-2v.7h-2v-.8h-2v.5h-2v0h-2v.8h-2v-1.1h-2v-.1h-2v0h-2v-.1h-2v2.3h-2v-2.4h-2v.1h-2v.1h-2v.2h-2v-.5h-2v0h-2v.8h-2v-.2h-2v-.3h-2v.1h-2v.7h-2v-1.1h-2v0h-2v.1h-2v1h-2v-.3h-2v-.4h-2v.9h-2v.1h-2v-.6h-2v-.8h-2v1h-2v-.8h-2v.8h-2v-1h-2v.7h-2v-.3h-2v.3h-2v-.1h-2v-.2h-2v.1h-2v.6h-2v-1h-2v.6h-2v.4h-2v-.7h-2v-.2h-2v-.2h-2v.1h-2v.4h-2v.6h-2v-.8h-2v.1h-2v-.4h-2v.2h-2v-.1h-2v.4h-2v.2h-2v-.5h-2v.5h-2v-.3h-2v-.2h-2v.3h-2v.5h-2v-.8h-2v.3h-2v0h-2v.3h-2v-.2h-2v-.4h-2v.6h-2v-.6h-2v-.1h-2v.2h-2v-.3h-2v.3h-2v-.1h-2v.1h-2v-.3h-2v.9h-2v.3h-2v-1.1h-2v0h-2v.6h-2v.4h-2v-1.1h-2v.3h-2v-.2h-2v.3h-2v-.1h-2v1.4h-2v-1.6h-2v.9h-2v-.7h-2v-.2h-2v.8h-2v-.1h-2v-.5h-2v.7h-2v-.9h-2v.6h-2v-.1h-2v-.6h-2v.1h-2v.2h-2v.3h-2v-.6h-2v.2h-2v.4h-2v-.3h-2v-.2h-2v-.1h-2v.2h-2v0h-2v.7h-2z"/>
<path stroke="#ff0000" stroke-width="2" fill="none" d="M235.7 100.3V129.7M251.7 108V128.3M256 106.7V118M267.5 108V117M466 110V119M1504 108V123.6M1552 110V120.5M489 579V592M672.8 586V592.2M676.6 579V600.6M687.2 586V591.9M694 586V595.3M699.5 580V591.9M1356 580V590M1483 580V594M1557 574V591.5M1031 821V829M1041.9 821V828M1063 813.2V831.5M1089.7 805.2V836.6M1128.2 808.9V835.1M1130.8 811V821M1142.5 811V827.8M1180.9 807V826M1272.3 812.5V830M1280.3 816V829"/>
<path stroke="#ff0000" stroke-width="1.5" fill="none" d="M701.3 581.2V590.7M700.3 580V590M690.1 581.2V590.3M698.8 579.9V591.1M673.8 580.3V590.4M696 579.8V591.1M671.3 581.3V590.1M686.5 579.8V590.9M669.4 579.7V590.1M677 579.9V590M1551.1 581.3V591M1557.8 580.3V591.9M1552.9 579.4V590M1555.6 580.1V591.7M1559.5 579.8V590.7M1136.8 816.1V826.8M1085.6 815.9V826.8M1116.2 816.9V826.5M1099.9 817.1V826.4M1060.3 815.9V826.6M1116.9 816.3V825.7M1103.8 816.3V826.5M1103.6 817V827.2M1124.2 816.7V825.6M1067.1 816.1V825.9M1072.4 817.3V825.9M1111.8 817.3V826.1M1266.3 816V827.4M1274.4 816V827.8M1271.2 815.9V827.1M1271.6 816.7V827.3M1284.2 815.5V828M1278.4 816.6V827.2M1270 815.5V827M1270.3 816.3V826.6M1268.9 815.9V827M1283.2 816V827.4"/>
<path fill="#0000ff" d="M231 139.2h2v.8h2v-1.3h2v.8h2v-.5h2v.6h2v-1.6h2v1.9h2v-.2h2v-.5h2v.3h2v-.9h2v1.1h2v-1h2v1.1h2v.1h2v-.4h2v.2h2v-.4h2v.6h2v0h2v-.1h2v-.2h2v.3h2v0h2v.2h2v-.8h2v.5h2v-1h2v.7h2v.4h2v-.1h2v-.4h2v.3h2v-.3h2v.5h2v-.1h2v-.4h2v-.1h2v-.3h2v.9h2v0h2v-.9h2v-.1h2v.7h2v-.3h2v.1h2v-.3h2v1h2v-.2h2v-.1h2v-.3h2v.3h2v-.3h2v.2h2v-1.1h2v1.1h2v-1.2h2v-.2h2v.6h2v1.1h2v-1h2v1h2v.1h2v-1.3h2v-.1h2v.5h2v.5h2v.3h2v-1.9h2v1.7h2v.1h2v0h2v-.2h2v.4h2v-.1h2v0h2v-.4h2v.2h2v-.7h2v.8h2v0h2v-.4h2v.3h2v-1h2v1.2h2v-.6h2v0h2v.5h2v.2h2v-.9h2v.7h2v-.3h2v-.1h2v-.4h2v.9h2v-.4h2v-.5h2v.9h2v-.2h2v.2h2v-1.2h2v-.2h2v1h2v.2h2v-1.2h2v1.4h2v-.1h2v.1h2v-1.6h2v1.5h2v-.5h2v.3h2v-.5h2v.8h2v-.2h2v0h2v.3h2v-.3h2v-.1h2v-.2h2v-.7h2v1.1h2v.1h2v-.7h2v.6h2v-.8h2v.6h2v.1h2v.1h2v-.1h2v.2h2v-.1h2v-.1h2v-.6h2v.7h2v.1h2v-.3h2v-.3h2v.1h2v-.3h2v.7h2v-.3h2v.1h2v-.5h2v.1h2v.7h2v0h2v-.6h2v-.2h2v-.3h2v.6h2v-.3h2v.5h2v.3h2v0h2v-1.2h2v.9h2v-.8h2v-.2h2v1.2h2v-.1h2v.1h2v-1.7h2v1.4h2v.4h2v-.1h2v.2h2v-.5h2v.3h2v.1h2v-1.6h2v1.3h2v.1h2v-.1h2v.2h2v.2h2v-1h2v-.4h2v-.3h2v1.4h2v-.6h2v-.4h2v.8h2v-.3h2v-.1h2v.3h2v-.6h2v.2h2v1h2v-.5h2v-.2h2v0h2v.2h2v.4h2v-.5h2v.3h2v.3h2v-.8h2v.7h2v-.1h2v.2h2v0h2v-.2h2v-.1h2v-.4h2v-.3h2v.4h2v-.6h2v.6h2v.5h2v-1h2v-.1h2v.8h2v-.9h2v1.1h2v0h2v-1.3h2v.4h2v-.6h2v.3h2v.4h2v.7h2v-.3h2v.6h2v0h2v-1.4h2v.7h2v.5h2v-.5h2v.7h2v-1.6h2v1.4h2v.2h2v-.1h2v-.7h2v-.7h2v1h2v.4h2v-.2h2v-.1h2v.2h2v.2h2v-.3h2v-.3h2v-.1h2v.4h2v-.2h2v-.3h2v.7h2v-.9h2v.5h2v.4h2v-.1h2v-.1h2v.3h2v-.8h2v-.7h2v.8h2v.3h2v.4h2v.1h2v-.4h2v0h2v.3h2v-.1h2v-.9h2v.8h2v0h2v0h2v.1h2v-1.3h2v1.1h2v.3h2v-1.2h2v0h2v.8h2v.1h2v-.5h2v-.2h2v1h2v-.6h2v.2h2v.2h2v-.2h2v-.5h2v.8h2v-.4h2v.5h2v-.4h2v-1.1h2v1.4h2v-.8h2v.5h2v0h2v-.3h2v.6h2v-.4h2v.3h2v-.2h2v.2h2v.1h2v-.5h2v0h2v.5h2v0h2v-.9h2v.8h2v-.6h2v.5h2v-.5h2v.7h2v-1.5h2v.7h2v.7h2v-.7h2v.4h2v-.3h2v-.1h2v-.1h2v1h2v-.6h2v.4h2v-1.8h2v2h2v-.1h2v0h2v-.4h2v.2h2v.1h2v-1.7h2v1.6h2v-.4h2v0h2v.4h2v-.2h2v.5h2v-.7h2v.6h2v-.4h2v.2h2v0h2v.1h2v-.1h2v-.2h2v.4h2v-.3h2v-.1h2v-.9h2v.7h2v-.2h2v.8h2v-.5h2v.6h2v-1.7h2v1.5h2v-.5h2v.1h2v.4h2v-.4h2v-.9h2v1.1h2v0h2v.3h2v-1.7h2v.9h2v.5h2v-.5h2v.8h2v-.2h2v-1.3h2v1.5h2v-.6h2v0h2v.3h2v.3h2v-1h2v.6h2v.1h2v-1h2v.7h2v.3h2v-.6h2v.4h2v.2h2v.3h2v-.3h2v.3h2v-.3h2v-.3h2v.3h2v-.5h2v.6h2v-.2h2v-.7h2v.9h2v-.5h2v.4h2v-1.2h2v.8h2v-.6h2v.7h2v.6h2v-.4h2v-.9h2v1.3h2v0h2v0h2v-.9h2v.3h2v-.2h2v.5h2v.1h2v.1h2v-1.1h2v.2h2v.5h2v.6h2v-1.2h2v1h2v-1.5h2v1.5h2v.1h2v-.7h2v0h2v.2h2v.6h2v-.1h2v-.9h2v.5h2v-.6h2v1h2v-.7h2v.2h2v.1h2v-.3h2v-.6h2v1.2h2v-.8h2v.3h2v-.2h2v.8h2v0h2v.1h2v-.5h2v.4h2v-.4h2v.4h2v-1.1h2v.6h2v-.2h2v.5h2v.2h2v-.2h2v-.9h2v1.1h2v-.7h2v.7h2v-.7h2v.5h2v.1h2v-1h2v1h2v-.8h2v.7h2v-.8h2v1h2v-1.5h2v1.6h2v-1.1h2v-.8h2v1.4h2v.2h2v-.2h2v-.1h2v-.3h2v-.2h2v.4h2v.7h2v-.5h2v0h2v0h2v.3h2v.2h2v-.8h2v-.4h2v1.1h2v0h2v-.1h2v-.4h2v-.6h2v.5h2v.3h2v.2h2v-.6h2v.3h2v-.2h2v.6h2v-.3h2v.3h2v-.7h2v.7h2v-1.1h2v.8h2v.1h2v.1h2v-.4h2v.2h2v.4h2v-.6h2v-.2h2v.7h2v-1.8h2v1.7h2v-.8h2v.8h2v0h2v-1.1h2v1.3h2v-1.1h2v.7h2v-.1h2v0h2v-.1h2v-.2h2v.5h2v-1h2v-.3h2v1.1h2v-.8h2v.7h2v0h2v.1h2v-.3h2v.4h2v-.2h2v-1h2v.5h2v1h2v-.3h2v-.6h2v.5h2v.3h2v-.5h2v-.4h2v.6h2v-.1h2v.2h2v.3h2v-.6h2v.3h2v0h2v.4h2v-.3h2v.3h2v-.1h2v-.6h2v-.6h2v.4h2v.3h2v.1h2v-1.2h2v1.4h2v-.8h2v0h2v.9h2v-.5h2v0h2v.5h2v-.3h2v.4h2v-.1h2v-.1h2v.2h2v-.5h2v.4h2v-.1h2v-.4h2v.5h2v.1h2v-1.2h2v1.1h2v.1h2v-.2h2v0h2v-.3h2v.3h2v.2h2v-1.2h2v1.1h2v.1h2v-.7h2v.4h2v-1.7h2v.1h2v1.2h2v.5h2v-.4h2v-.1h2v.5h2v.3h2v-.3h2v-.3h2v0h2v-.2h2v-.8h2v.8h2v0h2v.1h2v.4h2v-.6h2v.6h2v-.3h2v0h2v-.3h2v.5h1v-.6h1v.1h1v.5h1v-.1h1v-.3h1v-.3h1v-.6h1v1.2h1v0h1v0h1v0h1v0h1v.2h1v-1h1v.6h1v0h1v0h1v-.5h1v.7h1v-1.1h1v0h1v1.2h1v-1.5h2v1.8h2v-1.7h2v1.8h2v-.2h2v.2h2v-.4h2v-.6h2v.3h2v.4h2v.2h2v-.6h2v-.1h2v.3h2v-.2h2v-.5h2v.9h2v0h2v-.4h2v-.6h2v.3h2v.9h2v.1h2v-.1h2v0h2v-.3h2v-.1h2v-1.3h2v1.2h2v.3h2v.3h2v-1.6h2v1.1h2v.1h2v.3h2v-.7h2v-.3h2v.1h2v1h2v-1.8h2v1.4h2v.2h2v.1h2v-.4h2v.2h2v.1h2v-.3h2v.4h2v0h2v-.3h2v-.1h2v.2h2v.2h2v-.3h2v.1h2v-.3h2v.3h2v-.6h2v.5h2v0h2v-.1h2v-.2h2v.1h2v.3h2v-.3h2v0h2v.3h2v-.8h2v.8h2v.1h2v-1.1h1v-.4h1v.2h1v-.3h1v-.3h1v0h1v-1.5h1v2.2h1v-.1h1v-.3h1v.2h1v-.1h1v.6h1v.5h1v-.7h2v.8h2v0h2v-1.3h2v.5h2v.6h2v.2h2v.2h2v-.3h2v-.6h2v-.3h2v.3h1v.6h1v0h1v-.1h1v.1h1v-.6h1v-.1h1v.1h1v-.6h1v0h1v.3h1v.7h1v.3h1v0h1v-.4h1v-1h1v1.4h1v-.1h1v-.2h1v-.3h1v-.1h1v.5h1v.2h1v-1.1h1v1.1h1v0h1v-.4h1v.2h1v0h1v-.4h1v8.5h-1v.7h-1v-.9h-1v0h-1v.5h-1v-.1h-1v-.3h-1v.4h-1v-.6h-1v.3h-1v-.2h-1v-.2h-1v1.7h-1v-.9h-1v-.6h-1v0h-1v.3h-1v0h-1v-.2h-1v-.1h-1v-.2h-1v.3h-1v0h-1v.1h-1v-.3h-1v.4h-1v-.1h-1v-.3h-1v.1h-1v.2h-1v-.3h-2v-.3h-2v-.1h-2v.7h-2v-.7h-2v0h-2v1.6h-2v-1.4h-2v.4h-2v.8h-2v-1.1h-2v1.1h-1v0h-1v.1h-1v-.2h-1v-.1h-1v.6h-1v-.6h-1v-.1h-1v-.1h-1v0h-1v0h-1v.8h-1v-.8h-1v.1h-1v-1h-2v.2h-2v.2h-2v.2h-2v-.6h-2v-.1h-2v0h-2v.5h-2v-.5h-2v.5h-2v1h-2v-1.1h-2v-.5h-2v.7h-2v-.1h-2v.1h-2v-.6h-2v.9h-2v0h-2v-1.1h-2v.3h-2v.3h-2v-.4h-2v.9h-2v-1.1h-2v.4h-2v0h-2v0h-2v.2h-2v.6h-2v-.9h-2v-.3h-2v.2h-2v-.2h-2v.3h-2v.4h-2v.5h-2v0h-2v-.8h-2v.1h-2v-.4h-2v.2h-2v.1h-2v1.1h-2v-1.4h-2v.4h-2v-.1h-2v0h-2v-.4h-2v.2h-2v1h-2v-.8h-2v.2h-2v1h-2v-.7h-2v-.3h-2v-.1h-2v-.3h-2v.3h-2v-.4h-2v.5h-2v-.5h-2v0h-2v.1h-2v.5h-2v-.1h-2v1.1h-2v-1.6h-2v-.1h-2v.5h-2v.6h-1v-.6h-1v-.2h-1v0h-1v0h-1v.1h-1v.6h-1v-.2h-1v-.5h-1v1.2h-1v-.8h-1v.2h-1v-.6h-1v0h-1v.2h-1v0h-1v-.2h-1v.9h-1v-.7h-1v.4h-1v-.5h-1v.4h-1v-.4h-1v.9h-2v-.8h-2v-.5h-2v.3h-2v1h-2v-.5h-2v-.7h-2v.5h-2v.1h-2v-.5h-2v.3h-2v0h-2v-.5h-2v.2h-2v.9h-2v0h-2v-.4h-2v.2h-2v-.1h-2v-.2h-2v-.5h-2v.4h-2v.2h-2v.1h-2v-.8h-2v.2h-2v.2h-2v.4h-2v-.7h-2v.9h-2v-.3h-2v-.2h-2v0h-2v-.4h-2v-.1h-2v.1h-2v.7h-2v-.6h-2v.7h-2v.3h-2v-.6h-2v-.2h-2v.2h-2v.7h-2v-.1h-2v-1.1h-2v.2h-2v-.3h-2v.4h-2v-.4h-2v1.1h-2v-.7h-2v.3h-2v-.5h-2v.1h-2v1.1h-2v0h-2v-1.4h-2v.3h-2v-.2h-2v.3h-2v.1h-2v-.5h-2v.5h-2v.3h-2v-.6h-2v-.1h-2v.1h-2v.3h-2v.4h-2v-.9h-2v0h-2v.7h-2v-.3h-2v1.5h-2v-1.5h-2v-.1h-2v.2h-2v.2h-2v.5h-2v-.9h-2v.4h-2v0h-2v-.6h-2v0h-2v.4h-2v-.5h-2v0h-2v.1h-2v.8h-2v-.5h-2v-.4h-2v.2h-2v-.1h-2v.2h-2v.1h-2v.7h-2v-1h-2v.1h-2v1.1h-2v-1.1h-2v.8h-2v.1h-2v-.7h-2v.2h-2v-.5h-2v-.1h-2v.1h-2v.2h-2v.2h-2v0h-2v-.5h-2v.7h-2v-.7h-2v1.1h-2v-.7h-2v0h-2v.1h-2v-.2h-2v.8h-2v-.7h-2v-.3h-2v.5h-2v-.3h-2v-.3h-2v0h-2v.9h-2v-.8h-2v.3h-2v.5h-2v.5h-2v-1.4h-2v1h-2v-.8h-2v.3h-2v-.1h-2v-.2h-2v0h-2v.2h-2v.8h-2v-.1h-2v-.5h-2v.8h-2v-1.1h-2v.9h-2v-.8h-2v.9h-2v-.8h-2v-.3h-2v.8h-2v-1h-2v.9h-2v-.9h-2v.3h-2v.6h-2v-.1h-2v.5h-2v-1.3h-2v0h-2v.3h-2v.6h-2v-.4h-2v.6h-2v-1h-2v.8h-2v-.6h-2v.5h-2v-.3h-2v-.1h-2v-.1h-2v.2h-2v.4h-2v-.6h-2v-.2h-2v.1h-2v.8h-2v-.4h-2v.9h-2v-.5h-2v-1h-2v.2h-2v0h-2v-.1h-2v.1h-2v-.1h-2v.2h-2v-.3h-2v.2h-2v.2h-2v-.2h-2v0h-2v.5h-2v-.6h-2v-.1h-2v1.7h-2v-1.4h-2v-.1h-2v0h-2v.2h-2v-.1h-2v.2h-2v-.3h-2v.5h-2v-.5h-2v.6h-2v-.7h-2v-.1h-2v.1h-2v.7h-2v.2h-2v.1h-2v-.7h-2v-.2h-2v1.1h-2v-1.2h-2v1.4h-2v-1h-2v-.4h-2v.9h-2v-.7h-2v.1h-2v.1h-2v.2h-2v.6h-2v-1.1h-2v1.4h-2v-1h-2v-.2h-2v0h-2v-.2h-2v.7h-2v-.6h-2v.6h-2v-.5h-2v-.4h-2v.6h-2v-.6h-2v.6h-2v-.2h-2v-.4h-2v.6h-2v.9h-2v-.9h-2v-.6h-2v.7h-2v-.4h-2v-.1h-2v.3h-2v-.2h-2v.4h-2v-.7h-2v.3h-2v-.1h-2v-.2h-2v.4h-2v.2h-2v.5h-2v-.5h-2v.3h-2v-.9h-2v.2h-2v0h-2v.3h-2v.6h-2v-.9h-2v.3h-2v-.2h-2v.3h-2v-.6h-2v.7h-2v.8h-2v-.8h-2v-.6h-2v.2h-2v1.8h-2v-1.7h-2v-.4h-2v.7h-2v-.4h-2v-.1h-2v.3h-2v-.5h-2v.6h-2v-.4h-2v.2h-2v.2h-2v-.6h-2v1h-2v-.5h-2v-.4h-2v.6h-2v.5h-2v-.9h-2v.8h-2v-.7h-2v-.2h-2v.6h-2v.4h-2v-.9h-2v.3h-2v-.3h-2v.2h-2v.3h-2v-.8h-2v.1h-2v.2h-2v-.3h-2v1.1h-2v.1h-2v-.2h-2v-.8h-2v-.2h-2v.3h-2v-.1h-2v.9h-2v-.3h-2v-.3h-2v.3h-2v.3h-2v-.6h-2v-.4h-2v.5h-2v.8h-2v-1.3h-2v.4h-2v.1h-2v0h-2v.2h-2v-.5h-2v-.1h-2v.1h-2v-.4h-2v.7h-2v-.4h-2v-.1h-2v.7h-2v-.5h-2v1.2h-2v-1.2h-2v-.3h-2v.2h-2v-.1h-2v.1h-2v.2h-2v-.4h-2v.4h-2v.1h-2v0h-2v-.4h-2v.9h-2v-.7h-2v-.3h-2v.1h-2v-.1h-2v.1h-2v.1h-2v.1h-2v.9h-2v-.1h-2v-.2h-2v-.6h-2v0h-2v.8h-2v-.5h-2v-.2h-2v.1h-2v-.4h-2v1h-2v.1h-2v-.7h-2v1.2h-2v-1.5h-2v-.2h-2v1.2h-2v-1.1h-2v.5h-2v-.3h-2v-.3h-2v.2h-2v.2h-2v-.2h-2v.6h-2v-.2h-2v-.3h-2v.8h-2v-1.2h-2v.3h-2v.7h-2v-.4h-2v1h-2v-1.5h-2v1h-2v-.5h-2v-.4h-2v1.2h-2v-.9h-2v-.1h-2v.9h-2v-1.3h-2v.3h-2v.5h-2v-.1h-2v-.5h-2v.3h-2v-.4h-2v0h-2v1.1h-2v-1h-2v.4h-2v.5h-2v-.6h-2v0h-2v.8h-2v-.3h-2v-.1h-2v-.5h-2v.2h-2v-.4h-2v.5h-2v-.4h-2v.4h-2v-.5h-2v0h-2v.9h-2v.2h-2v.2h-2v-.7h-2v.1h-2v-.2h-2v.4h-2v.2h-2v-.9h-2v.3h-2v-.6h-2v.1h-2v-.1h-2v.1h-2v.8h-2v.6h-2v-1.5h-2v.9h-2v-.9h-2v.4h-2v.3h-2v-.1h-2v-.6h-2v1.2h-2v-.5h-2v-.2h-2v-.3h-2v0h-2v-.1h-2v.9h-2v-.7h-2v-.2h-2v.3h-2v.2h-2v-.3h-2v.3h-2v-.2h-2v-.4h-2v.4h-2v-.1h-2v-.2h-2v-.1h-2v0h-2v.3h-2v0h-2v.3h-2v.3h-2v-.9h-2v.3h-2v0h-2v-.2h-2v.2h-2v1h-2v-.4h-2v-.5h-2v-.2h-2v1.1h-2v-.5h-2v.1h-2v-.2h-2v-.7h-2v.6h-2v-.5h-2v1.5h-2v-1.6h-2v.1h-2v.3h-2v-.2h-2v.4h-2v-.5h-2v.3h-2v-.1h-2v-.2h-2v0h-2v.1h-2v0h-2v0h-2v-.1h-2v.2h-2v.6h-2v-.5h-2v.1h-2v-.3h-2v.2h-2v1.7h-2v-1.2h-2v-.6h-2v.2h-2v1.4h-2v-1.9h-2v.5h-2v-.5h-2v.3h-2v-.2h-2v.4h-2v-.5h-2v.2h-2v.2h-2v.4h-2v-.7h-2v.1h-2v.5h-2v0h-2v-.7h-2v.9h-2v.8h-2v-1h-2v.3h-2v-.9h-2v0h-2v.1h-2v-.1h-2v.2h-2v.1h-2v-.4h-2v.2h-2v.8h-2v.3h-2v-.1h-2v-.7h-2v-.1h-2v-.3h-2v1h-2v-.4h-2v-.7h-2v.2h-2v0h-2v1.4h-2v-1.2h-2v-.3h-2v.4h-2v.1h-2v.8h-2v-1.3h-2v.4h-2v.9h-2v-.9h-2v.9h-2v-.2h-2v-1h-2v.6h-2v-.1h-2v0h-2v.2h-2v-.8h-2v.7h-2v.3h-2v-.9h-2v.3h-2v-.5h-2v.4h-2v-.2h-2v-.2h-2v.3h-2v.4h-2v0h-2v.5h-2v-.7h-2v.7h-2v-1.2h-2v.6h-2v-.1h-2v-.4h-2v1.1h-2v-.9h-2v.2h-2v.5h-2v-.6h-2v-.2h-2v.4h-2v.2h-2v.6h-2v-.2h-2v-.8h-2v-.2h-2v0h-2v.6h-2v-.7h-2v.5h-2v.5h-2v-.2h-2v-.9h-2v.9h-2v-.3h-2v-.1h-2v.2h-2v-.1h-2v-.4h-2v.3h-2v-.1h-2v1h-2v-1.3h-2zM231 258.1h2v0h2v-.2h2v.3h2v0h2v-1.4h2v.5h2v0h2v.5h2v-.2h2v.5h2v-.6h2v.6h2v-.8h2v.9h2v-.1h2v0h2v-1h2v1h2v-.9h2v.4h2v-.6h2v.8h2v-.8h2v1.2h2v-.2h2v.1h2v-.5h2v0h2v-.4h2v.5h2v.4h2v0h2v-.3h2v0h2v.2h2v-.6h2v-.1h2v-.5h2v.5h2v.5h2v.4h2v-.7h2v-.3h2v-.1h2v.9h2v-.2h2v.4h2v-.1h2v-.1h2v-1.7h2v.8h2v-.2h2v1.3h2v-.3h2v-.1h2v-.7h2v1h2v-.4h2v-.3h2v.4h2v0h2v-.2h2v-.1h2v.2h2v0h2v.2h2v.3h2v-1.8h2v.7h2v1.1h2v-.4h2v-.1h2v.5h2v-.1h2v-.2h2v.1h2v-.9h2v.5h2v0h2v.6h2v-.6h2v-.1h2v.3h2v.4h2v-1.3h2v.3h2v1h2v-.7h2v.3h2v.4h2v-.3h2v.3h2v-.3h2v.1h2v-.1h2v-.2h2v.4h2v-.6h2v.2h2v0h2v.1h2v0h2v-.8h2v1.1h2v-.3h2v-.4h2v.8h2v-.5h2v.1h2v-.6h2v.2h2v.8h2v-.8h2v.6h2v-.3h2v-.9h2v1.2h2v-.8h2v0h2v.4h2v.1h2v.3h2v-.2h2v-.4h2v.5h2v-.2h2v.1h2v-.3h2v.1h2v.2h2v.1h2v-.1h2v.4h2v-.5h2v.1h2v.1h2v-.6h2v0h2v.9h2v0h2v-.2h2v0h2v-.1h2v0h2v-.5h2v.6h2v-.3h2v-.5h2v-.6h2v1.3h2v-.4h2v.4h2v.1h2v-.3h2v.4h2v0h2v.1h2v-1.4h2v1.4h2v-.6h2v-.1h2v.4h2v.2h2v-.2h2v.1h2v-.1h2v-1h2v.8h2v.4h2v-.5h2v.6h2v-1.1h2v1h2v-.4h2v-1.1h2v1.1h2v-.3h2v.7h2v-1.3h2v.8h2v.3h2v-.3h2v.5h2v-.5h2v.6h2v-.6h2v0h2v.6h2v-.1h2v0h2v-.2h2v.3h2v-.4h2v-.4h2v.2h2v.6h2v-.4h2v-.2h2v-1.4h2v1.6h2v.1h2v-1.1h2v1.4h2v-.4h2v-.1h2v.1h2v-.5h2v.7h2v-.4h2v.4h2v-.2h2v-.6h2v.9h2v-.1h2v.2h2v0h2v-1h2v1h2v-1.3h2v.8h2v-.7h2v1.2h2v-.1h2v-1h2v-.6h2v1.6h2v-1.6h2v1.4h2v.3h2v-.5h2v.1h2v.3h2v-.1h2v-.2h2v.2h2v-.7h2v.6h2v-.3h2v.2h2v-.4h2v-.3h2v-.4h2v.6h2v.4h2v.4h2v-.7h2v.6h2v-.8h2v.8h2v.1h2v-.3h2v-.1h2v.2h2v-1.1h2v.6h2v.1h2v.1h2v-.1h2v0h2v.7h2v-.3h2v.1h2v.1h2v-.6h2v-.5h2v.7h2v-.1h2v0h2v-.1h2v.3h2v-.2h2v-.1h2v.1h2v.3h2v-.9h2v.8h2v-.2h2v-.6h2v1.2h2v-.4h2v.1h2v-.2h2v-.4h2v-.1h2v1h2v-.1h2v-1h2v.8h2v.2h2v-.4h2v.2h2v0h2v-.1h2v.3h2v-1h2v1h2v-.7h2v.4h2v-1h2v1.2h2v.1h2v-.2h2v.2h2v-.1h2v-.5h2v-.6h2v1.2h2v-.1h2v-.1h2v.3h2v-1.5h2v.1h2v1.3h2v-.3h2v-.5h2v-.1h2v.9h2v-.7h2v.2h2v.5h2v-.4h2v.4h2v-.1h2v-.4h2v-.2h2v.8h2v-.4h2v-.4h2v.6h2v0h2v-1.1h2v1.2h2v-.3h2v-.8h2v1.1h2v-.4h2v-1.6h2v1.1h2v.5h2v-.6h2v-.7h2v1.6h2v-.4h2v-.5h2v1.1h2v-.3h2v0h2v.3h2v-1h2v.5h2v-.2h2v-.4h2v.6h2v-.2h2v-.4h2v1h2v0h2v-.6h2v.2h2v.5h2v-1h2v.7h2v-.7h2v1h2v-.2h2v-.2h2v0h2v-.9h2v1h2v.3h2v-.6h2v0h2v-.1h2v.1h2v-.6h2v1h2v-.2h2v-.3h2v-.2h2v.2h2v.6h2v-1.8h2v1.3h2v.5h2v-1h2v.9h2v-.2h2v.1h2v.3h2v-.8h2v.8h2v-.7h2v.6h2v-.5h2v-.4h2v1h2v0h2v-1.1h2v1h2v-.1h2v-.4h2v.6h2v-.2h2v-.7h2v.8h2v.1h2v-.1h2v-.2h2v.2h2v0h2v0h2v.1h2v-1.1h2v.8h2v-.4h2v-.7h2v1.4h2v-.1h2v.1h2v-.4h2v.4h2v-.1h2v0h2v-.1h2v.1h2v-.1h2v-1.3h2v1.3h2v-.3h2v0h2v0h2v.5h2v-.7h2v-1.1h2v1.3h2v.3h2v-.3h2v.1h2v-.3h2v.2h2v.1h2v0h2v-.2h2v.5h2v-.5h2v.6h2v-.2h2v-.5h2v0h2v.4h2v-1.4h2v1.4h2v.3h2v-.3h2v.2h2v-.1h2v-.2h2v0h2v0h2v.1h2v.1h2v-1.7h2v.6h2v1.3h2v-.2h2v-.3h2v-.2h2v.3h2v-.1h2v.3h2v-.1h2v-.1h2v-.5h2v.3h2v.4h2v-.6h2v.7h2v.1h2v-.3h2v-.5h2v.8h2v0h2v-.3h2v.3h2v-.1h2v.1h2v-.5h2v-.3h2v.8h2v-.2h2v-.3h2v.1h2v-.7h2v.2h2v.4h2v.3h2v.2h2v-.5h2v.4h2v.1h2v-1.2h2v1.2h2v-.5h2v.3h2v-.2h2v-.2h2v.6h2v-.3h2v-.2h2v0h2v.2h2v-.6h2v.7h2v-.6h2v-.4h2v1.2h2v-.7h2v-.1h2v.8h2v-1.2h2v1h2v-.5h2v.3h2v.1h2v-.2h2v0h2v.4h2v0h2v-1.1h2v.7h2v-.1h2v.5h2v-.2h2v-.1h2v-.2h2v-.8h2v1.4h2v-.3h2v.3h2v-.9h2v0h2v.9h2v-1.8h2v1.5h2v-1h2v1.3h2v-.4h2v.3h2v-.2h2v-.2h2v.3h2v-.2h2v.3h2v-.7h2v-.1h2v.1h2v-.5h2v.9h2v0h2v-.3h2v.5h2v0h2v.1h2v0h2v-.5h2v.5h2v-.2h2v-.1h2v-.7h2v.8h2v-.4h2v-.3h2v-.5h2v.6h2v.2h2v-.2h2v.9h2v-.1h2v.1h2v0h2v-1.2h2v.8h2v-1.3h2v1.5h2v.1h2v0h2v-.4h2v.2h2v.1h2v-.1h2v-.1h2v.3h2v-.9h2v-.6h2v.6h2v1h2v-.1h2v.1h2v-1.1h2v.4h2v-.4h2v.1h2v.9h2v-.2h2v-.3h2v.6h2v0h2v-1.3h2v.8h2v-.1h2v-.3h2v.4h2v-.5h2v.4h2v.3h2v-.1h2v-.1h2v-.5h2v1h2v-.4h2v.2h2v0h2v-.2h2v-.4h2v.2h2v-.4h2v.3h2v.5h2v-1.3h2v1.2h2v-.2h2v.3h2v-.7h2v.3h2v.1h2v-.6h2v-.1h2v.3h2v-.1h2v-1h2v1.7h2v0h2v.2h2v-.2h2v-.5h2v.6h2v-1.1h2v.5h2v-.1h2v-.2h2v.1h2v.6h2v.2h2v-.6h2v.5h2v.1h2v.2h2v-.2h2v-.1h2v0h2v-.1h2v-.4h2v-.4h2v.4h2v.4h2v.1h2v.1h2v0h2v.1h2v-.3h2v-.7h2v.8h2v.3h2v-.1h2v.1h2v-.1h2v.1h2v-.3h2v-.4h2v.6h2v-1.2h2v.5h2v.6h2v.1h2v0h2v-1.7h2v.4h2v.2h2v1h2v-.5h2v.7h2v-.1h2v0h2v-.2h2v.2h2v-.2h2v-.1h2v-.9h2v1h2v0h2v-.3h2v.6h2v-.2h2v.2h2v-1.7h2v1h2v-.4h2v.6h2v-.2h2v.3h2v-.1h2v.1h2v-1.2h2v1.4h2v-1.3h2v.7h2v-.5h2v.5h2v-.7h2v.9h2v-.4h2v1h2v-.6h2v-.1h2v.1h2v-.5h2v.4h2v.5h2v-.2h1v6.9h-1v.5h-2v-.8h-2v.5h-2v-.2h-2v1.4h-2v-1.4h-2v.2h-2v-.1h-2v.1h-2v-.3h-2v.2h-2v.1h-2v.7h-2v-1h-2v-.2h-2v.8h-2v-.5h-2v-.2h-2v.3h-2v1.8h-2v-1.2h-2v-1.1h-2v.3h-2v.9h-2v-1.2h-2v.3h-2v.4h-2v-.4h-2v1.2h-2v-1.3h-2v.3h-2v.3h-2v-.4h-2v-.2h-2v.7h-2v-.5h-2v0h-2v.1h-2v-.4h-2v0h-2v.4h-2v-.4h-2v.4h-2v.2h-2v-.5h-2v-.1h-2v.2h-2v1.7h-2v-1.4h-2v-.3h-2v-.2h-2v.5h-2v-.2h-2v0h-2v.5h-2v0h-2v.6h-2v-1.4h-2v0h-2v0h-2v1.1h-2v-1.1h-2v.2h-2v1.1h-2v-1.2h-2v-.1h-2v.8h-2v.2h-2v-.5h-2v0h-2v-.3h-2v.4h-2v-.1h-2v-.5h-2v.6h-2v.2h-2v-.7h-2v.7h-2v-.1h-2v-.7h-2v.4h-2v.1h-2v-.3h-2v-.1h-2v.3h-2v.5h-2v-.8h-2v1.3h-2v-1.2h-2v-.1h-2v1h-2v-.7h-2v.7h-2v-.9h-2v.6h-2v-.1h-2v-.8h-2v.6h-2v-.3h-2v.3h-2v-.3h-2v.3h-2v-.5h-2v.4h-2v1h-2v-1.1h-2v-.4h-2v.4h-2v-.2h-2v.4h-2v-.5h-2v.3h-2v.9h-2v0h-2v-1h-2v-.1h-2v1.4h-2v-1.1h-2v-.1h-2v-.1h-2v-.2h-2v.2h-2v.1h-2v-.4h-2v1.4h-2v-1.1h-2v-.2h-2v.2h-2v-.2h-2v.4h-2v-.4h-2v.2h-2v0h-2v.1h-2v.6h-2v-.9h-2v.4h-2v-.4h-2v1h-2v-.8h-2v-.1h-2v.5h-2v-.7h-2v.2h-2v-.1h-2v.5h-2v-.6h-2v0h-2v0h-2v.5h-2v-.5h-2v1.1h-2v-.5h-2v-.1h-2v-.3h-2v.4h-2v-.4h-2v1.5h-2v-1.3h-2v0h-2v-.2h-2v-.2h-2v1.1h-2v-.9h-2v.5h-2v-.7h-2v.7h-2v.6h-2v-1.1h-2v1h-2v-.7h-2v-.3h-2v.4h-2v-.5h-2v.2h-2v.1h-2v.2h-2v-.6h-2v.3h-2v-.3h-2v.1h-2v1.1h-2v-1.2h-2v.3h-2v-.3h-2v.5h-2v.4h-2v.3h-2v-1h-2v.3h-2v.3h-2v-.8h-2v.1h-2v1h-2v-.7h-2v0h-2v.6h-2v-.6h-2v.3h-2v-.5h-2v.5h-2v-.2h-2v0h-2v-.4h-2v.1h-2v0h-2v.2h-2v0h-2v.2h-2v-.6h-2v.7h-2v.9h-2v-1.6h-2v1.1h-2v-.7h-2v1.4h-2v-1.3h-2v0h-2v-.1h-2v.1h-2v.2h-2v0h-2v0h-2v-.6h-2v1h-2v-.8h-2v2.4h-2v-2.2h-2v.4h-2v-.2h-2v-.4h-2v0h-2v.3h-2v-.4h-2v.2h-2v.1h-2v-.2h-2v-.1h-2v.6h-2v0h-2v-.7h-2v.3h-2v0h-2v-.2h-2v.4h-2v-.3h-2v-.2h-2v.4h-2v.9h-2v-.3h-2v-1h-2v.1h-2v.6h-2v.2h-2v-.8h-2v-.1h-2v.5h-2v1.3h-2v-1.5h-2v-.3h-2v.4h-2v.4h-2v-.1h-2v-.4h-2v.4h-2v.9h-2v-1.5h-2v-.1h-2v1.2h-2v-.3h-2v-.7h-2v.1h-2v.5h-2v-.1h-2v-.3h-2v-.4h-2v.3h-2v1h-2v-1h-2v.1h-2v.1h-2v.4h-2v-.7h-2v-.3h-2v.1h-2v0h-2v0h-2v.8h-2v-.2h-2v-.3h-2v-.1h-2v-.2h-2v.1h-2v-.1h-2v.2h-2v0h-2v-.1h-2v.2h-2v-.1h-2v-.2h-2v.6h-2v-.2h-2v-.1h-2v.2h-2v0h-2v-.3h-2v.2h-2v.1h-2v-.5h-2v.6h-2v-.4h-2v0h-2v.3h-2v-.5h-2v.7h-2v-.6h-2v-.2h-2v2h-2v-1h-2v-.3h-2v.5h-2v.3h-2v.2h-2v-1.7h-2v.2h-2v0h-2v-.2h-2v.3h-2v-.1h-2v.4h-2v.2h-2v-.5h-2v.7h-2v-.9h-2v1.2h-2v-1.2h-2v.5h-2v.1h-2v-.5h-2v1.4h-2v-.4h-2v-.9h-2v-.1h-2v.1h-2v-.2h-2v.1h-2v-.1h-2v.3h-2v.4h-2v-.7h-2v1h-2v-1h-2v.1h-2v.1h-2v.9h-2v-1.2h-2v0h-2v1.1h-2v.4h-2v-1.4h-2v.6h-2v.2h-2v-.5h-2v0h-2v.7h-2v-1h-2v.3h-2v.4h-2v-.6h-2v.9h-2v-.5h-2v-.2h-2v.4h-2v0h-2v-.4h-2v-.4h-2v.2h-2v-.1h-2v.7h-2v-.5h-2v.9h-2v-1.1h-2v.1h-2v-.2h-2v1.1h-2v-.8h-2v-.3h-2v.3h-2v0h-2v.1h-2v.4h-2v-.8h-2v1.2h-2v-.8h-2v-.2h-2v.3h-2v-.2h-2v0h-2v.4h-2v-.5h-2v-.2h-2v.7h-2v-.3h-2v.3h-2v-.3h-2v-.4h-2v.6h-2v.6h-2v-.5h-2v-.2h-2v.5h-2v-.6h-2v-.3h-2v.3h-2v.4h-2v.3h-2v-.5h-2v.1h-2v1h-2v-1.7h-2v.7h-2v-.6h-2v.8h-2v-.5h-2v.2h-2v.9h-2v-.8h-2v-.6h-2v.5h-2v.4h-2v-.2h-2v-.6h-2v-.1h-2v1.1h-2v-.6h-2v.3h-2v-.6h-2v-.2h-2v.9h-2v-.1h-2v-.6h-2v.3h-2v-.4h-2v.7h-2v.2h-2v-.5h-2v-.5h-2v.7h-2v.2h-2v-.8h-2v0h-2v.2h-2v-.4h-2v.7h-2v.7h-2v-1h-2v.2h-2v-.3h-2v-.2h-2v1.2h-2v-.7h-2v.1h-2v.5h-2v-1.1h-2v-.1h-2v0h-2v.1h-2v-.1h-2v.7h-2v-.5h-2v0h-2v-.1h-2v1h-2v-.7h-2v-.3h-2v.5h-2v-.4h-2v1.8h-2v-1.9h-2v.3h-2v0h-2v.5h-2v-.7h-2v.4h-2v1h-2v-.6h-2v.3h-2v-1.1h-2v1.2h-2v-.9h-2v-.1h-2v-.2h-2v.8h-2v-1h-2v.1h-2v1.5h-2v-1.1h-2v-.5h-2v.3h-2v.7h-2v-.8h-2v.9h-2v1h-2v-1.9h-2v.8h-2v-.9h-2v.2h-2v.5h-2v-.5h-2v.4h-2v.2h-2v-.9h-2v.5h-2v-.1h-2v-.3h-2v1.2h-2v-.5h-2v-.4h-2v-.1h-2v.9h-2v-1h-2v-.1h-2v-.1h-2v.4h-2v.2h-2v.4h-2v-.8h-2v0h-2v-.1h-2v0h-2v.7h-2v-.5h-2v.6h-2v-.6h-2v.1h-2v.2h-2v-.1h-2v.1h-2v-.4h-2v1.3h-2v-.8h-2v-.7h-2v.3h-2v-.2h-2v1h-2v-.4h-2v-.4h-2v.7h-2v-.6h-2v.1h-2v-.4h-2v.6h-2v-.5h-2v.1h-2v-.3h-2v.5h-2v-.4h-2v.8h-2v-.8h-2v.3h-2v.9h-2v-.6h-2v.2h-2v-.9h-2v1.5h-2v-1.4h-2v1.5h-2v-1.1h-2v-.1h-2v.3h-2v-.1h-2v-.5h-2v.4h-2v-.5h-2v.3h-2v.5h-2v-.2h-2v.9h-2v-1.5h-2v1h-2v-.8h-2v.6h-2v0h-2v.4h-2v-.9h-2v0h-2v-.1h-2v.2h-2v.7h-2v0h-2v-.8h-2v.2h-2v-.3h-2v.9h-2v-.7h-2v-.3h-2v.8h-2v-.8h-2v1.2h-2v-.6h-2v-.6h-2v.7h-2v.5h-2v-.2h-2v-1h-2v.3h-2v-.2h-2v.2h-2v.5h-2v-.4h-2v-.2h-2v-.1h-2v-.1h-2v.2h-2v.7h-2v.5h-2v-.9h-2v0h-2v-.4h-2v-.1h-2v-.1h-2v.6h-2v-.4h-2v0h-2v.8h-2v-.6h-2v0h-2v.1h-2v.3h-2v0h-2v.3h-2v-.2h-2v-.2h-2v-.7h-2v.2h-2v0h-2v.6h-2v-.2h-2v-.4h-2v0h-2v.1h-2v.5h-2v.8h-2v-.7h-2v-.8h-2v1.1h-2v-.3h-2v-.4h-2v.2h-2v-.7h-2v1h-2v-.2h-2v-.4h-2v.4h-2v-.2h-2v-.1h-2v-.5h-2v.2h-2v.1h-2v.5h-2v-.8h-2v.3h-2v-.3h-2v.3h-2v-.1h-2v-.1h-2v.1h-2v1.3h-2v-1.5h-2v.9h-2v.3h-2v-.6h-2v-.2h-2v.3h-2v-.3h-2v.1h-2v-.1h-2v0h-2v.1h-2v1.6h-2v-.9h-2v-.4h-2v.8h-2v-1h-2v-.3h-2v1.2h-2v-1h-2v.1h-2v-.4h-2v1.4h-2v-1.5h-2v-.1h-2v.6h-2v.7h-2v-1.2h-2v.7h-2v.3h-2v-.4h-2v-.7h-2v.1h-2v.7h-2v-.4h-2v-.3h-2v.3h-2v.1h-2v-.5h-2v.7h-2v-.2h-2v-.2h-2v.5h-2v.1h-2v-.2h-2v-.7h-2v.4h-2v.5h-2v-.8h-2v-.1h-2v.6h-2v-.5h-2v0h-2v1.1h-2v-.6h-2v-.6h-2v.4h-2v-.2h-2v.1h-2v.8h-2v-1h-2v.1h-2zM231 376.1h2v-.3h2v-.3h2v.3h2v.2h2v-1.2h2v.8h2v-.4h2v.6h2v-.3h2v.3h2v0h2v-.7h2v.7h2v-.1h2v.4h2v-.6h2v.3h2v-1h2v.8h2v-.9h2v-.4h2v1.9h2v-.4h2v-.4h2v.1h2v.6h2v-.3h2v-.2h2v.4h2v0h2v0h2v0h2v-.6h2v.5h2v.1h2v-1.6h2v1.4h2v.2h2v.1h2v-.6h2v.6h2v-.5h2v.3h2v0h2v-.8h2v.8h2v-.2h2v.2h2v-.1h2v0h2v-1.3h2v1.1h2v.5h2v-1.7h2v.7h2v0h2v-.2h2v1.2h2v0h2v0h2v-1.1h2v-.1h2v1.1h2v0h2v-1.2h2v.7h2v.6h2v-1.6h2v.8h2v.6h2v.3h2v-.5h2v-.6h2v0h2v1.1h2v-.2h2v-1.2h2v1.3h2v-1.9h2v1.6h2v.3h2v-.4h2v.4h2v-1h2v.4h2v.6h2v-.2h2v-.1h2v0h2v-.3h2v0h2v-.8h2v1.1h2v.1h2v-.8h2v1.1h2v-.2h2v-.9h2v.9h2v-1.1h2v1.1h2v-1.2h2v1.2h2v-.3h2v.1h2v0h2v.3h2v-.6h2v-.2h2v.4h2v.5h2v-1.1h2v-.1h2v.8h2v.3h2v-.9h2v.2h2v.4h2v.3h2v-1.2h2v1.2h2v-.7h2v.4h2v.4h2v-.8h2v.6h2v-.5h2v.2h2v-.5h2v.2h2v-.1h2v.6h2v.1h2v-.1h2v-.2h2v0h2v.2h2v-1.7h2v1.9h2v-.7h2v.8h2v-.6h2v.2h2v-.3h2v-.1h2v.5h2v-.3h2v.1h2v.1h2v-1.3h2v1.6h2v-.7h2v-1.1h2v1.8h2v-.7h2v-.5h2v.7h2v.1h2v-.2h2v0h2v.1h2v.3h2v.2h2v-.7h2v.3h2v.3h2v0h2v.1h2v0h2v-.1h2v-.4h2v.5h2v0h2v0h2v-.9h2v.8h2v-.5h2v-.5h2v1.1h2v-.6h2v-.3h2v.1h2v-.4h2v1.2h2v-.4h2v.4h2v-.7h2v.7h2v-.2h2v-.1h2v-1.6h2v1.8h2v.1h2v-.5h2v-.9h2v1.3h2v-.6h2v.4h2v-.1h2v.1h2v.3h2v-.2h2v.1h2v-.4h2v-.7h2v.5h2v.4h2v-.4h2v0h2v.4h2v-.4h2v-.2h2v.3h2v-.9h2v1.6h2v-.4h2v-.2h2v.1h2v-.8h2v1.3h2v-1h2v.9h2v-.2h2v-.5h2v.2h2v-.2h2v.4h2v.1h2v-1.2h2v1.2h2v-1h2v.7h2v-.6h2v1h2v-.2h2v0h2v.2h2v.2h2v-.6h2v-.5h2v1h2v0h2v-.7h2v.7h2v-.3h2v-.4h2v.3h2v0h2v-.1h2v.4h2v0h2v-1.6h2v1.7h2v-.4h2v.2h2v-.5h2v.2h2v0h2v0h2v-1h2v.9h2v.1h2v0h2v.4h2v.2h2v0h2v-.6h2v.3h2v-1.3h2v1.4h2v0h2v-.7h2v.7h2v.1h2v0h2v-.3h2v-.6h2v.7h2v-.4h2v.5h2v0h2v-.9h2v1.1h2v-.7h2v.6h2v-.2h2v.2h2v-.8h2v.3h2v.2h2v.1h2v-.4h2v.3h2v-.2h2v.1h2v.2h2v.1h2v0h2v-.2h2v-.1h2v.2h2v.3h2v-.4h2v-.6h2v.1h2v.8h2v-2h2v2h2v-.2h2v-.2h2v-.1h2v.3h2v-.3h2v.2h2v-.2h2v-.2h2v-.2h2v.7h2v0h2v-.5h2v-.3h2v.3h2v.4h2v.3h2v.1h2v-.5h2v-.7h2v-.2h2v1.4h2v-.7h2v.1h2v-.1h2v-.7h2v.5h2v-.6h2v.4h2v.4h2v.6h2v-.5h2v-.3h2v.4h2v.3h2v-.1h2v.1h2v-.1h2v-.2h2v.3h2v-1h2v.7h2v.4h2v-.5h2v.1h2v-.6h2v1.1h2v-1.2h2v.8h2v-.5h2v.7h2v-.3h2v.1h2v.4h2v-1h2v.9h2v-.2h2v-.3h2v-.1h2v-.2h2v.2h2v0h2v.4h2v.2h2v-.5h2v-.3h2v.6h2v-.3h2v.3h2v-.1h2v0h2v-.3h2v.1h2v0h2v.3h2v-.3h2v.5h2v-.5h2v0h2v0h2v.1h2v-.4h2v.7h2v-.6h2v.7h2v0h2v-.2h2v.2h2v.1h2v-.1h2v-.2h2v-.3h2v.2h2v-.3h2v.6h2v-1.1h2v1.2h2v-.2h2v-1.1h2v.7h2v.4h2v-.6h2v.2h2v-.5h2v.9h2v0h2v-.7h2v.5h2v-.5h2v-.2h2v-.1h2v.7h2v0h2v-1.2h2v1.1h2v.1h2v-.1h2v.5h2v-.3h2v-.3h2v-.2h2v-.4h2v-.1h2v.1h2v.8h2v.2h2v-.3h2v.5h2v-2h2v2h2v-.2h2v-.3h2v-.2h2v-.2h2v.2h2v.6h2v-.8h2v.3h2v-.1h2v.3h2v-.3h2v-.1h2v.8h2v-.6h2v-.5h2v.9h2v.1h2v.2h2v-.3h2v-.3h2v0h2v.4h2v-.1h2v-.3h2v-.7h2v1.1h2v-.3h2v-.1h2v-.1h2v0h2v.3h2v.1h2v-.3h2v.2h2v-.5h2v.5h2v-1.1h2v1.1h2v-.4h2v-.6h2v.2h2v1.1h2v-.2h2v-.4h2v-.2h2v.5h2v.3h2v-.8h2v.2h2v.5h2v-.4h2v.2h2v-.1h2v0h2v0h2v.5h2v-1h2v.9h2v0h2v-.8h2v.7h2v-.5h2v-1.5h2v2h2v-.3h2v.4h2v-.8h2v.7h2v-.1h2v-.1h2v.2h2v-.9h2v.3h2v.2h2v.4h2v.1h2v-1.5h2v1.3h2v.1h2v-.5h2v-.4h2v-.2h2v.3h2v.7h2v0h2v-.7h2v.9h2v-1h2v.5h2v.4h2v-.2h2v-.1h2v-.9h2v1.3h2v-.4h2v-1h2v.6h2v.7h2v-.7h2v.3h2v.6h2v-.2h2v-.6h2v-.3h2v.8h2v-.3h2v.1h2v.4h2v-.4h2v-.7h2v1h2v-.9h2v.6h2v.4h2v-.8h2v.8h2v-1.2h2v.7h2v-.5h2v.5h2v.6h2v-.5h2v.1h2v-.6h2v.7h2v-.4h2v.4h2v-.2h2v0h2v0h2v.3h2v-.1h2v-.2h2v.3h2v-.1h2v0h2v-.2h2v.3h2v-.6h2v.2h2v-1h2v.7h2v.2h2v.5h2v-.8h2v.7h2v-.2h2v.4h2v-.4h2v.1h2v0h2v.2h2v-.1h2v-.1h2v.1h2v.2h2v-.8h2v.5h2v0h2v-.3h2v-.1h2v0h2v-.1h2v.6h2v0h2v-.5h2v.6h2v-1.5h2v.2h2v1.4h2v-.3h2v.4h2v-.4h2v0h2v-.2h2v.5h2v-.4h2v.2h2v-.5h2v-.6h2v.9h2v-.3h2v.7h2v-.4h2v.4h2v-.9h2v.4h2v-1.1h2v1.6h2v0h2v-.4h2v0h2v-.3h2v.4h2v-.9h2v-.2h2v1.1h2v-.4h2v.4h2v-.1h2v-1.2h2v1.6h2v-.1h2v0h2v-1.4h2v1.1h2v-.7h2v.7h2v-.2h2v-.1h2v.1h2v-.6h2v.5h2v-.3h2v.6h2v.1h2v.3h2v-.1h2v-.2h2v.1h2v-.3h2v.3h2v-1.2h2v1.3h2v-.8h2v.6h2v-.3h2v.1h2v.4h2v-.2h2v-.8h2v.6h2v.1h2v-.3h2v-.1h2v.9h2v-.2h2v-.1h2v0h2v.2h2v.1h2v-.6h2v.4h2v.1h2v-1.4h2v1.1h2v.1h2v-.2h2v-1.1h2v.2h2v.1h2v.8h2v.4h2v-1h2v.4h2v-1.1h2v1.7h2v-.3h2v-.1h2v-1h2v1.3h2v-.2h2v.2h2v-1.5h2v.9h2v-.4h2v1.1h2v-.1h2v-.1h2v.1h2v-.7h2v0h2v.2h2v.7h2v-.1h2v-.6h2v-.3h2v.7h2v-.1h2v.1h2v-.6h2v.3h2v.5h2v0h2v-.3h2v-.4h2v.4h2v-.1h2v-.7h2v.3h2v.6h2v-.4h1v7h-1v.5h-2v.1h-2v-.6h-2v-.2h-2v.4h-2v-.4h-2v1.1h-2v-.7h-2v-.1h-2v.3h-2v-.6h-2v.5h-2v.4h-2v.2h-2v.4h-2v-.2h-2v-1.2h-2v.8h-2v-.3h-2v1.4h-2v-1.2h-2v-.7h-2v.9h-2v-.9h-2v.6h-2v-.3h-2v-.1h-2v.6h-2v-.7h-2v.8h-2v-.9h-2v.1h-2v1.6h-2v-1.3h-2v-.1h-2v-.1h-2v0h-2v.1h-2v.3h-2v-.5h-2v.3h-2v.1h-2v.2h-2v0h-2v-.9h-2v.7h-2v-.5h-2v1.1h-2v-.8h-2v-.4h-2v.5h-2v-.4h-2v.1h-2v.5h-2v-.5h-2v.4h-2v-.4h-2v-.1h-2v0h-2v.7h-2v-.4h-2v-.1h-2v.1h-2v.7h-2v.1h-2v-.8h-2v.5h-2v-.7h-2v0h-2v.5h-2v-.3h-2v0h-2v-.4h-2v1.1h-2v-.8h-2v-.2h-2v.7h-2v-.7h-2v.9h-2v-.8h-2v.5h-2v-.1h-2v.1h-2v.1h-2v0h-2v-.4h-2v-.5h-2v.7h-2v-.4h-2v0h-2v1.9h-2v-.6h-2v-.4h-2v-.4h-2v0h-2v.2h-2v-.5h-2v-.2h-2v-.2h-2v1h-2v-.4h-2v-.4h-2v.1h-2v.2h-2v.1h-2v0h-2v0h-2v-.4h-2v.5h-2v-.5h-2v0h-2v-.2h-2v.4h-2v1.8h-2v-1.7h-2v.3h-2v.3h-2v-1.1h-2v.8h-2v-.9h-2v.4h-2v.6h-2v-.8h-2v.8h-2v0h-2v.1h-2v-1h-2v1.3h-2v-1.3h-2v1.6h-2v-1.7h-2v.7h-2v-.5h-2v.2h-2v-.1h-2v.1h-2v.5h-2v0h-2v-.1h-2v-.4h-2v-.3h-2v1.2h-2v-.9h-2v-.4h-2v0h-2v.5h-2v-.4h-2v.1h-2v.9h-2v-1h-2v.4h-2v-.3h-2v.1h-2v.1h-2v.2h-2v0h-2v-.4h-2v.1h-2v.9h-2v-.7h-2v-.4h-2v.5h-2v-.4h-2v-.1h-2v.1h-2v.3h-2v-.5h-2v.5h-2v.1h-2v-.6h-2v.4h-2v.1h-2v-.2h-2v-.1h-2v.3h-2v.5h-2v-.7h-2v-.1h-2v1.2h-2v-.6h-2v-.3h-2v.8h-2v-.7h-2v-.5h-2v.1h-2v.1h-2v-.2h-2v.4h-2v0h-2v.5h-2v.4h-2v-1.3h-2v1.3h-2v-.3h-2v-.3h-2v-.2h-2v.5h-2v-.1h-2v-.6h-2v-.2h-2v1h-2v0h-2v-.8h-2v-.1h-2v.2h-2v-.5h-2v.3h-2v.1h-2v-.1h-2v.7h-2v-.8h-2v.1h-2v0h-2v1.1h-2v-1.3h-2v.7h-2v-.6h-2v.2h-2v-.1h-2v.3h-2v.3h-2v-.7h-2v1h-2v-1.2h-2v1.6h-2v-1h-2v.1h-2v.1h-2v.5h-2v-1.3h-2v.3h-2v.6h-2v.1h-2v-.5h-2v-.4h-2v.7h-2v-.5h-2v.1h-2v0h-2v-.2h-2v.3h-2v-.1h-2v0h-2v.2h-2v-.3h-2v.2h-2v.1h-2v-.2h-2v.2h-2v0h-2v.1h-2v-.6h-2v.7h-2v-.6h-2v.9h-2v0h-2v-.6h-2v-.3h-2v.2h-2v-.3h-2v.2h-2v0h-2v1.4h-2v-1.4h-2v.9h-2v-.1h-2v-1h-2v1.2h-2v-1.2h-2v.1h-2v1.5h-2v-.9h-2v-.5h-2v.1h-2v.9h-2v-.2h-2v-.5h-2v-.5h-2v-.1h-2v.2h-2v.1h-2v-.1h-2v.8h-2v-.8h-2v1.1h-2v-1.3h-2v.6h-2v.1h-2v-.3h-2v-.2h-2v-.1h-2v-.1h-2v1.2h-2v-.6h-2v0h-2v-.5h-2v.8h-2v-.3h-2v.5h-2v-.8h-2v.1h-2v1h-2v-1.2h-2v.4h-2v.1h-2v-.2h-2v-.4h-2v1h-2v-.7h-2v.2h-2v-.1h-2v.2h-2v1h-2v-.8h-2v1.1h-2v-1.6h-2v.3h-2v-.1h-2v-.4h-2v.5h-2v.3h-2v-.2h-2v0h-2v-.7h-2v.7h-2v.2h-2v-.5h-2v-.4h-2v.5h-2v-.3h-2v.1h-2v-.2h-2v1.1h-2v-.7h-2v-.2h-2v-.3h-2v.2h-2v.1h-2v.1h-2v-.5h-2v.6h-2v.2h-2v-.6h-2v.8h-2v-.4h-2v.3h-2v.9h-2v-.4h-2v-1.2h-2v-.1h-2v.5h-2v.1h-2v-.3h-2v.7h-2v-.7h-2v.5h-2v-.2h-2v-.5h-2v.8h-2v-.9h-2v.2h-2v.7h-2v.8h-2v-1.6h-2v0h-2v.7h-2v-.5h-2v.4h-2v-.7h-2v.1h-2v-.1h-2v1.1h-2v-1h-2v.7h-2v.4h-2v.1h-2v-.9h-2v.2h-2v-.1h-2v-.2h-2v.9h-2v-1.3h-2v.3h-2v.5h-2v-.7h-2v.2h-2v0h-2v0h-2v.2h-2v-.4h-2v1.8h-2v-.3h-2v-1.4h-2v.3h-2v.3h-2v-.8h-2v.3h-2v0h-2v.2h-2v-.4h-2v.4h-2v.2h-2v-.5h-2v.9h-2v-1h-2v.2h-2v0h-2v.1h-2v-.1h-2v-.1h-2v1.1h-2v-.6h-2v-.4h-2v0h-2v0h-2v1h-2v-1h-2v-.2h-2v.1h-2v.4h-2v-.1h-2v-.2h-2v.4h-2v0h-2v-.1h-2v1.2h-2v-.3h-2v-.5h-2v-.4h-2v-.5h-2v0h-2v-.1h-2v1.2h-2v-1.2h-2v.6h-2v.3h-2v.5h-2v-1.1h-2v-.1h-2v.1h-2v1.3h-2v-.9h-2v-.3h-2v-.2h-2v.4h-2v-.4h-2v1.2h-2v-1.1h-2v.3h-2v-.1h-2v-.3h-2v-.2h-2v.2h-2v.5h-2v-.5h-2v1.6h-2v-.9h-2v-.7h-2v.6h-2v-.3h-2v.9h-2v-1.2h-2v.1h-2v.7h-2v-.2h-2v-.5h-2v.2h-2v0h-2v.9h-2v-1.1h-2v-.1h-2v-.1h-2v.9h-2v-.7h-2v-.1h-2v-.2h-2v.1h-2v.5h-2v-.3h-2v.5h-2v-.7h-2v.5h-2v-.2h-2v.9h-2v-.7h-2v.2h-2v-.6h-2v1.5h-2v-1.6h-2v.5h-2v.3h-2v-.4h-2v-.3h-2v.7h-2v.4h-2v-.5h-2v.2h-2v-.7h-2v0h-2v.8h-2v0h-2v-.9h-2v.3h-2v-.3h-2v.3h-2v-.3h-2v0h-2v.9h-2v-.6h-2v.6h-2v-.4h-2v.4h-2v-1h-2v.3h-2v0h-2v.9h-2v-.6h-2v-.2h-2v.2h-2v1h-2v-1.6h-2v.3h-2v-.2h-2v.6h-2v.7h-2v-1.4h-2v.6h-2v-.2h-2v-.5h-2v.9h-2v.2h-2v-.1h-2v-.7h-2v0h-2v.2h-2v0h-2v-.1h-2v.8h-2v-.3h-2v-.8h-2v.1h-2v.4h-2v-.1h-2v.5h-2v-.3h-2v-.3h-2v.1h-2v0h-2v-.3h-2v.5h-2v-.2h-2v.2h-2v-.4h-2v.3h-2v0h-2v-.3h-2v-.1h-2v.5h-2v.6h-2v-.9h-2v-.3h-2v.5h-2v-.3h-2v1.4h-2v-.7h-2v-.7h-2v1.1h-2v-.7h-2v-.7h-2v.4h-2v-.1h-2v.4h-2v-.1h-2v.7h-2v-1h-2v.2h-2v0h-2v1h-2v.7h-2v-1.9h-2v.4h-2v0h-2v0h-2v-.1h-2v-.1h-2v.7h-2v-.7h-2v-.2h-2v.3h-2v.6h-2v-.9h-2v-.2h-2v.8h-2v-.3h-2v0h-2v-.5h-2v.9h-2v-.6h-2v-.4h-2v.6h-2v-.5h-2v1h-2v0h-2v-.9h-2v.9h-2v.3h-2v-.6h-2v.8h-2v-.1h-2v-1.2h-2v0h-2v-.2h-2v.3h-2v.4h-2v-.5h-2v.5h-2v.7h-2v-1.4h-2v1.3h-2v-.6h-2v-.4h-2v-.3h-2v-.1h-2v.1h-2v.5h-2v-.4h-2v.1h-2v.7h-2v-.5h-2v-.3h-2v.2h-2v.1h-2v.1h-2v.2h-2v-.6h-2v.7h-2v.4h-2v-1.3h-2v.2h-2v.1h-2v-.2h-2v.2h-2v.5h-2v.3h-2v-1.1h-2v0h-2v1.5h-2v-1h-2v.4h-2v-.6h-2v-.1h-2v.2h-2v0h-2v-.3h-2v.9h-2v-.6h-2v.1h-2v.1h-2v-.1h-2v-.3h-2v.4h-2v.9h-2v-1h-2v.1h-2v-.3h-2v-.2h-2v.1h-2v-.1h-2v.8h-2v-.9h-2v.5h-2v.8h-2v-.1h-2v-1.2h-2v.1h-2v.1h-2v.1h-2v-.1h-2v.1h-2v.8h-2v-1.1h-2v.7h-2v-.5h-2v-.1h-2v1.4h-2v-.7h-2v-.5h-2v-.2h-2v1.8h-2v-1.7h-2v.8h-2v-.6h-2v-.2h-2v0h-2v.1h-2v.1h-2v.4h-2v-.3h-2v.1h-2v-.3h-2v.6h-2v-.3h-2v-.5h-2v0h-2v.1h-2v0h-2v.1h-2v.1h-2v.6h-2v-.2h-2v-.1h-2v-.6h-2v.2h-2v.4h-2v-.6h-2v1h-2v-.7h-2v-.3h-2v.3h-2v0h-2v.8h-2v-1.1h-2v.2h-2v0h-2v1.4h-2v-1.4h-2v.1h-2v-.4h-2v.5h-2zM231 493.3h2v-.1h2v.3h2v-.1h2v.3h2v-.4h2v-.9h2v1.7h2v-.1h2v-1h2v.8h2v-.4h2v.6h2v-1.1h2v.3h2v.6h2v0h2v0h2v-.1h2v0h2v.4h2v-1.4h2v.3h2v1h2v0h2v-.2h2v-.4h2v-.7h2v1.1h2v0h2v-.2h2v.5h2v-.6h2v-.1h2v-.5h2v.6h2v.6h2v-.4h2v.2h2v.2h2v-.1h2v-.3h2v-.4h2v.8h2v-.7h2v-.4h2v1.1h2v-.2h2v-1h2v.8h2v0h2v0h2v-.7h2v.5h2v.1h2v-1.6h2v.8h2v.7h2v-.1h2v.2h2v-.5h2v-.3h2v.3h2v1h2v-.1h2v-.3h2v.4h2v-.7h2v.7h2v-.5h2v-.1h2v-.1h2v.6h2v0h2v-.1h2v-.2h2v0h2v-1h2v1.4h2v-.7h2v.1h2v.1h2v-.5h2v.9h2v-.5h2v-.7h2v0h2v1.3h2v-.4h2v-.1h2v.4h2v-1h2v.7h2v-.1h2v.1h2v.3h2v-1.3h2v1.4h2v0h2v-.7h2v0h2v.5h2v.1h2v0h2v.1h2v-.6h2v.5h2v-.6h2v.4h2v-.6h2v-.3h2v1.1h2v-.3h2v-.1h2v.1h2v-.2h2v.4h2v-1.1h2v1.2h2v-.2h2v0h2v-.2h2v-.1h2v-.5h2v0h2v1.1h2v-.3h2v0h2v-.1h2v0h2v-.8h2v0h2v.5h2v.2h2v.3h2v.1h2v-.5h2v.1h2v.4h2v.1h2v0h2v-.3h2v.2h2v-1.2h2v.6h2v.4h2v-.2h2v.2h2v-.1h2v.3h2v0h2v-.9h2v1h2v-1.1h2v-.1h2v.8h2v.3h2v0h2v-.1h2v-.9h2v-.5h2v1.5h2v-1h2v.2h2v.4h2v.1h2v.4h2v-.1h2v.1h2v-.2h2v.1h2v-.2h2v.1h2v.2h2v0h2v-1h2v.8h2v-.9h2v.9h2v-.3h2v.1h2v.1h2v.1h2v-.3h2v.4h2v-.8h2v0h2v.8h2v-1.2h2v-.1h2v.4h2v-.4h2v.5h2v.8h2v-.8h2v.8h2v-1.5h2v.6h2v.3h2v.7h2v-.4h2v-.4h2v.7h2v-1h2v1.1h2v-1h2v-.6h2v1.2h2v.3h2v-.3h2v-.8h2v.7h2v-.5h2v0h2v.5h2v-1.3h2v1.3h2v0h2v.1h2v.4h2v-.7h2v-.7h2v.7h2v0h2v0h2v-.9h2v1.2h2v.3h2v-.2h2v-.3h2v-.3h2v.4h2v.4h2v-.4h2v.2h2v.3h2v-.7h2v.5h2v-.1h2v-.1h2v0h2v.4h2v-1.1h2v1.1h2v-1h2v.1h2v.5h2v.4h2v-.5h2v.1h2v.3h2v-1.6h2v.8h2v.3h2v-.3h2v.8h2v-.5h2v-.9h2v1.1h2v.1h2v.3h2v-1.2h2v.2h2v.5h2v-.9h2v1.2h2v-.6h2v0h2v.6h2v-.3h2v.1h2v.3h2v-.5h2v.5h2v-1h2v1.1h2v-.5h2v-.8h2v1.3h2v0h2v-.4h2v.2h2v-.8h2v.9h2v-.5h2v.4h2v-.8h2v.7h2v-.8h2v-.1h2v.1h2v.4h2v.6h2v-.3h2v.4h2v-1.2h2v.7h2v.5h2v-.3h2v-1.5h2v1.5h2v-.2h2v.2h2v0h2v-1h2v.6h2v0h2v-.3h2v.8h2v-1h2v1.1h2v-.7h2v.5h2v.2h2v-.3h2v-.8h2v.8h2v-1.1h2v.6h2v.8h2v0h2v-.8h2v.3h2v-.4h2v-.8h2v.8h2v.8h2v-.6h2v-.1h2v.8h2v-.1h2v-.2h2v-1.1h2v.9h2v.4h2v-1.2h2v1.3h2v-.7h2v-.5h2v.6h2v.5h2v-.1h2v.2h2v-.1h2v-.2h2v.2h2v-.1h2v.3h2v-.3h2v-1.1h2v.8h2v.1h2v.3h2v.1h2v.1h2v-.7h2v.5h2v.2h2v-.8h2v.7h2v-.4h2v.4h2v-.3h2v.2h2v-.9h2v.6h2v.4h2v-1h2v1h2v-.2h2v-.7h2v.7h2v-.4h2v.1h2v.3h2v-.2h2v0h2v.4h2v0h2v-.4h2v-.2h2v-1.1h2v.7h2v.4h2v.1h2v.3h2v-.9h2v.8h2v-.1h2v.1h2v-.6h2v.7h2v.3h2v-1.3h2v.5h2v-.5h2v.5h2v.7h2v-.3h2v-.7h2v.6h2v.3h2v.1h2v0h2v0h2v.1h2v-.2h2v-.7h2v.8h2v-.9h2v0h2v1h2v-.3h2v0h2v-.2h2v0h2v.3h2v-.6h2v.5h2v0h2v.2h2v-.3h2v.2h2v.2h2v-.5h2v-.8h2v.8h2v.3h2v-1.7h2v1.9h2v-.2h2v-.4h2v.5h2v-.4h2v.3h2v-1.7h2v1.6h2v.2h2v-.1h2v-.1h2v-.5h2v.8h2v-.8h2v.6h2v-.2h2v-.8h2v.8h2v-.8h2v1.1h2v-.8h2v0h2v.4h2v0h2v.1h2v-.6h2v.9h2v-.1h2v-.4h2v.4h2v-.2h2v.1h2v-.6h2v.8h2v-.4h2v-.1h2v-1h2v.9h2v-.2h2v-.7h2v1.1h2v-.8h2v1.2h2v-.1h2v.1h2v-.9h2v.8h2v-1h2v1.2h2v-.5h2v0h2v0h2v.5h2v-.9h2v.4h2v.3h2v-.2h2v-.9h2v-.3h2v1h2v-.6h2v.5h2v.4h2v-.3h2v.5h2v-2.3h2v1.3h2v-.4h2v1.2h2v-.8h2v.1h2v.6h2v.2h2v-.1h2v.2h2v-.1h2v-.2h2v-.4h2v.7h2v-.3h2v.2h2v0h2v0h2v-1.2h2v.2h2v-.6h2v1.8h2v-.8h2v.3h2v.2h2v-.7h2v.9h2v-.4h2v.5h2v-.7h2v-.1h2v.6h2v.2h2v-.2h2v-.8h2v-.2h2v.8h2v-.6h2v.6h2v0h2v-1h2v.3h2v1.1h2v-1h2v.7h2v.1h2v-.7h2v-.1h2v.1h2v-.5h2v1h2v-1h2v.3h2v1h2v-.3h2v-.2h2v-.5h2v1.1h2v-.4h2v.2h2v.2h2v-.6h2v-.3h2v.4h2v.1h2v.1h2v-1.2h2v.4h2v-.5h2v1.1h2v-.1h2v-.1h2v-.3h2v.3h2v.3h2v.2h2v0h2v.2h2v-1.4h2v.6h2v.6h2v-.4h2v-.7h2v.9h2v-.4h2v.4h2v.2h2v-.4h2v.4h2v-1.2h2v1h2v.1h2v-.7h2v.6h2v-.2h2v-1.1h2v1.4h2v.3h2v-1.1h2v.9h2v-.6h2v.5h2v-.1h2v-.5h2v.6h2v-.7h2v1h2v-.4h2v-.2h2v.4h2v-.2h2v-.2h2v.1h2v.5h2v-.3h2v-.1h2v.1h2v.3h2v-.5h2v-.6h2v.7h2v-.2h2v.5h2v-.2h2v-.4h2v0h2v.2h2v-.4h2v-.4h2v.6h2v.5h2v0h2v0h2v-.1h2v0h2v-.8h2v.8h2v-.3h2v-.5h2v.5h2v0h2v.6h2v-.3h2v.2h2v-.3h2v-.7h2v-.2h2v.4h2v-.2h2v.7h2v-.2h2v0h2v-.3h2v-.5h2v1.1h2v-1h2v.4h2v-.6h2v.9h2v.1h2v0h2v-.3h2v-.3h2v.4h2v-.8h2v.6h2v.6h2v-.8h2v-.3h2v.5h2v.8h2v0h2v-.3h2v.3h2v-.8h2v.9h2v-.4h2v.4h2v-.2h2v-1.2h2v1h2v.2h2v-.2h2v0h2v0h2v-.8h2v0h2v.4h2v-.3h2v.8h2v-1.8h2v2.1h2v-.3h2v.3h2v-.2h2v-.2h2v-.4h2v.3h2v.4h2v-.9h2v.9h2v-.4h2v.3h2v-.7h2v.9h2v-1.2h2v1.2h2v-.1h2v-.6h2v.7h2v-.8h2v-.1h2v.7h2v.1h2v-1.2h2v1.1h2v-1h2v-.3h2v1.4h2v-.5h2v.5h2v-1h2v1h2v-.4h2v.3h2v-.9h2v.6h2v.2h2v0h2v.2h2v.1h2v-1h2v.8h2v0h2v-1.1h2v1.2h1v7h-1v.3h-2v.1h-2v-1h-2v.9h-2v-1.1h-2v0h-2v.4h-2v.1h-2v-.2h-2v-.1h-2v-.1h-2v-.1h-2v.1h-2v.2h-2v-.2h-2v.3h-2v0h-2v-.1h-2v.1h-2v1.4h-2v-.5h-2v-.6h-2v-.2h-2v1.4h-2v-1.7h-2v.3h-2v-.5h-2v.1h-2v1.3h-2v-1.4h-2v1.1h-2v-.6h-2v-.1h-2v.5h-2v.5h-2v-1.2h-2v1.1h-2v-.4h-2v-.6h-2v0h-2v1.3h-2v-1.4h-2v0h-2v1h-2v-.8h-2v1.4h-2v-.8h-2v-.9h-2v.3h-2v0h-2v.3h-2v-.7h-2v.5h-2v-.5h-2v0h-2v1.2h-2v-.5h-2v-.4h-2v.1h-2v-.1h-2v-.3h-2v.5h-2v-.4h-2v1h-2v-.8h-2v-.2h-2v1h-2v-.3h-2v-.8h-2v.7h-2v-.5h-2v.2h-2v.8h-2v-.9h-2v.7h-2v-.4h-2v.4h-2v-.7h-2v.2h-2v.3h-2v-.3h-2v-.2h-2v.1h-2v.3h-2v.1h-2v.3h-2v0h-2v-1h-2v-.1h-2v.7h-2v-.5h-2v.2h-2v.2h-2v-.2h-2v.1h-2v-.2h-2v1.2h-2v-1h-2v.6h-2v-1h-2v1.2h-2v-.1h-2v.3h-2v-1.3h-2v.8h-2v-.4h-2v-.2h-2v0h-2v-.4h-2v.1h-2v1h-2v-.7h-2v.5h-2v-.7h-2v0h-2v.1h-2v.3h-2v.1h-2v-.5h-2v.2h-2v.8h-2v-1h-2v-.1h-2v.4h-2v-.5h-2v.1h-2v-.1h-2v0h-2v1.4h-2v-1h-2v-.3h-2v.2h-2v-.2h-2v.4h-2v.4h-2v.3h-2v-1.2h-2v0h-2v.6h-2v-.4h-2v1.5h-2v-1.1h-2v-.1h-2v-.3h-2v0h-2v.3h-2v.6h-2v-.8h-2v-.3h-2v.9h-2v.4h-2v-1.1h-2v.1h-2v-.2h-2v.3h-2v-.4h-2v.2h-2v1h-2v-.8h-2v.5h-2v-.6h-2v-.3h-2v.4h-2v-.4h-2v0h-2v.1h-2v0h-2v.1h-2v.5h-2v-.3h-2v-.4h-2v0h-2v.4h-2v.2h-2v-.1h-2v.1h-2v-.6h-2v1.7h-2v-1.6h-2v.9h-2v-.8h-2v1.3h-2v-.9h-2v-.2h-2v-.4h-2v1.3h-2v-.3h-2v-.9h-2v.7h-2v.4h-2v-1h-2v-.2h-2v.1h-2v.5h-2v.7h-2v-.4h-2v.1h-2v-.2h-2v-.1h-2v.8h-2v-.3h-2v-1.1h-2v1.7h-2v-.1h-2v-1.5h-2v-.2h-2v1.3h-2v-.8h-2v.4h-2v-.9h-2v.2h-2v.1h-2v1.1h-2v-1.4h-2v.1h-2v.1h-2v-.1h-2v0h-2v.5h-2v-.3h-2v0h-2v.9h-2v-.5h-2v-.7h-2v1.7h-2v-1.5h-2v.2h-2v.2h-2v.5h-2v-.3h-2v-.8h-2v.4h-2v-.4h-2v.5h-2v0h-2v1h-2v-1.5h-2v1h-2v-1h-2v0h-2v1.4h-2v-1.1h-2v.2h-2v-.2h-2v-.3h-2v.2h-2v0h-2v.5h-2v.4h-2v-.5h-2v.1h-2v.3h-2v1.3h-2v-1.9h-2v.6h-2v.4h-2v-1.2h-2v.1h-2v-.2h-2v.4h-2v.9h-2v-1h-2v.4h-2v-.5h-2v0h-2v-.2h-2v.1h-2v.2h-2v.3h-2v-.4h-2v.2h-2v0h-2v.9h-2v-1h-2v0h-2v.6h-2v-.9h-2v.8h-2v-.2h-2v.5h-2v-.7h-2v-.2h-2v-.3h-2v.4h-2v-.3h-2v1.1h-2v-1.1h-2v.6h-2v-.1h-2v.9h-2v-1.1h-2v-.3h-2v.1h-2v.9h-2v.2h-2v-.9h-2v-.1h-2v.6h-2v-.3h-2v.2h-2v-.4h-2v-.4h-2v.1h-2v0h-2v0h-2v-.1h-2v.8h-2v.2h-2v-1h-2v.1h-2v.3h-2v.9h-2v-1.1h-2v.3h-2v.4h-2v.3h-2v-.6h-2v-.2h-2v.3h-2v.5h-2v-.1h-2v0h-2v-1.1h-2v.6h-2v.4h-2v-1h-2v.7h-2v-.5h-2v-.2h-2v.3h-2v-.1h-2v.9h-2v-.9h-2v.7h-2v-.5h-2v0h-2v-.1h-2v-.3h-2v.4h-2v-.2h-2v.1h-2v.5h-2v.1h-2v-.9h-2v0h-2v.7h-2v-.6h-2v.5h-2v-.2h-2v-.4h-2v1.8h-2v-1.5h-2v1.2h-2v-.5h-2v-1h-2v.1h-2v.7h-2v.7h-2v-1.2h-2v.1h-2v-.3h-2v0h-2v.8h-2v-.5h-2v.3h-2v0h-2v-.5h-2v-.1h-2v.4h-2v-.4h-2v.2h-2v-.2h-2v.7h-2v.7h-2v-.9h-2v-.2h-2v0h-2v.9h-2v-1.2h-2v.8h-2v-.8h-2v0h-2v.7h-2v.3h-2v-.1h-2v-.5h-2v.3h-2v-.5h-2v.3h-2v-.2h-2v.4h-2v-.8h-2v.9h-2v-.7h-2v-.2h-2v.1h-2v.9h-2v-.9h-2v0h-2v1.2h-2v-1.3h-2v.5h-2v0h-2v-.3h-2v-.2h-2v0h-2v.1h-2v.7h-2v-.7h-2v-.1h-2v.6h-2v-.6h-2v.1h-2v0h-2v.7h-2v-.7h-2v.1h-2v-.1h-2v.2h-2v.3h-2v-.4h-2v.4h-2v-.2h-2v-.2h-2v.6h-2v.8h-2v-.3h-2v-.9h-2v.8h-2v-1h-2v.5h-2v0h-2v-.6h-2v0h-2v-.1h-2v.2h-2v.6h-2v-.5h-2v-.2h-2v-.1h-2v1h-2v-.4h-2v-.3h-2v.2h-2v.2h-2v-.7h-2v.6h-2v-.2h-2v-.2h-2v.8h-2v.1h-2v.1h-2v-1.2h-2v.6h-2v-.6h-2v.1h-2v.5h-2v-.1h-2v.1h-2v-.6h-2v.1h-2v.2h-2v0h-2v-.1h-2v1.2h-2v-1.3h-2v-.1h-2v0h-2v.3h-2v1.1h-2v-.4h-2v-.4h-2v0h-2v.1h-2v-.7h-2v.2h-2v.9h-2v-.8h-2v.3h-2v-.4h-2v.1h-2v-.1h-2v1.2h-2v-1.4h-2v.1h-2v-.1h-2v1.8h-2v-1.7h-2v.1h-2v.4h-2v.3h-2v-.1h-2v-.3h-2v-.3h-2v-.1h-2v.4h-2v-.4h-2v.1h-2v.2h-2v-.3h-2v.2h-2v-.2h-2v.2h-2v.2h-2v-.1h-2v1.2h-2v-1.4h-2v.4h-2v-.5h-2v.4h-2v0h-2v.8h-2v-1.2h-2v.3h-2v.7h-2v-1.1h-2v.4h-2v-.4h-2v0h-2v.9h-2v-.6h-2v.4h-2v.1h-2v.4h-2v-1.2h-2v0h-2v.9h-2v-.7h-2v-.2h-2v0h-2v0h-2v.9h-2v-.6h-2v.8h-2v-.9h-2v.7h-2v0h-2v-.9h-2v.6h-2v.4h-2v-.7h-2v.4h-2v-.2h-2v-.4h-2v.2h-2v.1h-2v1.2h-2v-1h-2v-.4h-2v.5h-2v.5h-2v-1.1h-2v.9h-2v.2h-2v-1.2h-2v0h-2v.5h-2v0h-2v.6h-2v-.8h-2v-.3h-2v.2h-2v-.2h-2v.2h-2v.7h-2v.4h-2v-1.2h-2v.5h-2v-.5h-2v.6h-2v-.5h-2v.9h-2v-.8h-2v-.3h-2v.7h-2v-.4h-2v.1h-2v.8h-2v-1.1h-2v.7h-2v-.2h-2v-.5h-2v.7h-2v-.6h-2v-.2h-2v.6h-2v-.5h-2v.2h-2v.5h-2v.1h-2v.2h-2v-.6h-2v.4h-2v0h-2v-.5h-2v.3h-2v-.4h-2v.1h-2v0h-2v-.1h-2v.3h-2v-.1h-2v-.5h-2v.6h-2v-.4h-2v.6h-2v.1h-2v-.9h-2v.1h-2v.3h-2v.1h-2v-.1h-2v.3h-2v-.5h-2v-.1h-2v-.1h-2v.9h-2v0h-2v-.2h-2v-.7h-2v.7h-2v.3h-2v-.3h-2v-.4h-2v-.1h-2v-.2h-2v.6h-2v-.5h-2v1h-2v-.6h-2v-.2h-2v.1h-2v.6h-2v-.9h-2v.8h-2v-.5h-2v1.3h-2v-1.6h-2v.7h-2v.2h-2v.1h-2v-1.1h-2v1.6h-2v-1.2h-2v.3h-2v-.3h-2v-.3h-2v.2h-2v.8h-2v-.8h-2v.9h-2v-1.1h-2v0h-2v.2h-2v.8h-2v-.7h-2v.1h-2v-.2h-2v.6h-2v-.6h-2v.7h-2v-.6h-2v-.4h-2v1h-2v-.2h-2v-.1h-2v.5h-2v-1h-2v.2h-2v-.1h-2v.1h-2v.9h-2v-.8h-2v0h-2v.9h-2v-1.4h-2v.9h-2v-.2h-2v-.4h-2v1.2h-2v-1.5h-2v.9h-2v-.9h-2v.7h-2v-.5h-2v.1h-2v-.2h-2v.2h-2v.4h-2v-.4h-2v.1h-2v.3h-2v-.2h-2v-.4h-2v.4h-2v0h-2v.1h-2v-.5h-2v1.2h-2v.4h-2v-1.3h-2v-.1h-2v0h-2v.7h-2v.1h-2v-.6h-2v-.1h-2v.7h-2v-.6h-2v-.3h-2v-.1h-2v0h-2v-.1h-2v.3h-2v.9h-2v.8h-2v-1.3h-2v.1h-2v-.4h-2v-.4h-2v.2h-2v.3h-2v.9h-2v-1.1h-2v0h-2v.3h-2v.1h-2v-.5h-2v0h-2zM231 611.9h2v-.1h2v.1h2v-.2h2v.3h2v-.4h2v.4h2v-.4h2v0h2v.2h2v-.6h2v.7h2v-1h2v.9h2v-1.2h2v1.4h2v-1h2v.7h2v-.3h2v-.4h2v.2h2v0h2v.5h2v.1h2v-.6h2v.2h2v-.1h2v.6h2v-.3h2v-.4h2v-1h2v1.5h2v-.2h2v-.4h2v0h2v.6h2v-.3h2v.3h2v0h2v.3h2v-.5h2v.2h2v.2h2v0h2v0h2v-.2h2v.2h2v-.4h2v-.3h2v-.7h2v1.3h2v-1.3h2v.6h2v.8h2v0h2v-.2h2v.1h2v.2h2v-.5h2v-.7h2v1h2v-1.3h2v1.3h2v-.9h2v-.1h2v1h2v-1.3h2v1.5h2v-.7h2v.3h2v.3h2v0h2v-.4h2v-.5h2v.8h2v-.5h2v.1h2v-1h2v1.3h2v-.1h2v-.4h2v.8h2v-.4h2v-1.2h2v1.6h2v-.9h2v1h2v-.2h2v-.5h2v-.4h2v1h2v-.7h2v-.7h2v.7h2v.6h2v-.2h2v.2h2v-.2h2v-.5h2v.8h2v-.2h2v.1h2v.1h2v-.4h2v-.1h2v.1h2v.3h2v-.7h2v.2h2v-.8h2v.7h2v0h2v.5h2v-1.4h2v1.3h2v-.7h2v.4h2v-.9h2v.8h2v-.4h2v1.1h2v0h2v-.2h2v.1h2v.1h2v-.7h2v.7h2v-.7h2v.1h2v.1h2v.5h2v-.8h2v.4h2v.1h2v-.1h2v-.7h2v.7h2v-.3h2v-.1h2v-.3h2v1h2v.1h2v-.9h2v.9h2v-1.2h2v-.5h2v1.2h2v.3h2v0h2v-.9h2v-.6h2v.6h2v.8h2v-1.3h2v1.1h2v.2h2v0h2v0h2v-.1h2v-1h2v1.3h2v-.2h2v.1h2v-.5h2v.7h2v0h2v-.7h2v.6h2v0h2v-.3h2v.1h2v-.4h2v.6h2v-.1h2v-.4h2v-.1h2v.8h2v-.7h2v.1h2v-.4h2v-.1h2v.7h2v.1h2v-.2h2v.1h2v-.3h2v.3h2v0h2v0h2v.2h2v.1h2v-.1h2v-.7h2v-1.2h2v2.1h2v-.7h2v.6h2v-.7h2v.6h2v0h2v-.6h2v.7h2v-.2h2v-.2h2v.2h2v.2h2v-.7h2v.7h2v-.2h2v0h2v-.2h2v.2h2v.2h2v-.2h2v-1.9h2v1.6h2v-.4h2v.2h2v.8h2v-.4h2v-.1h2v.4h2v-.3h2v.3h2v0h2v-.5h2v.4h2v-1.9h2v1h2v.1h2v.4h2v-1.2h2v.7h2v-.2h2v.7h2v.5h2v-.6h2v0h2v.5h2v-.4h2v.2h2v.3h2v0h2v-.4h2v.2h2v-.7h2v.5h2v.4h2v-.6h2v-1.2h2v1.7h2v-.6h2v-.9h2v1.3h2v.2h2v.1h2v-.5h2v.1h2v.2h2v-.5h2v.2h2v.2h2v-.1h2v-.3h2v-1.6h2v1.8h2v0h2v.2h2v-1h2v.8h2v.5h2v-.4h2v-.2h2v.3h2v.3h2v-.2h2v0h2v-1.2h2v.7h2v.7h2v-.1h2v-.6h2v0h2v.7h2v-.1h2v-1h2v.8h2v-.7h2v.5h2v.5h2v-.3h2v-.3h2v.1h2v0h2v0h2v.5h2v-.1h2v-.4h2v-1.4h2v1.6h2v-.6h2v.9h2v-1.4h2v.9h2v.1h2v-1.6h2v1.1h2v-.2h2v.9h2v-.7h2v.8h2v.1h2v-.8h2v.8h2v-.3h2v.3h2v-1h2v1.1h2v-.1h2v-1.1h2v.6h2v.1h2v-.6h2v.9h2v-.4h2v.1h2v-.3h2v.5h2v.1h2v-1.2h2v1.2h2v.1h2v-.1h2v.1h2v-1.2h2v1.2h2v-.7h2v.4h2v-.4h2v.4h2v-.1h2v.4h2v0h2v-.2h2v-.6h2v.7h2v-.2h2v.3h2v-1.8h2v1.2h2v-.4h2v.2h2v.6h2v.1h2v-.3h2v0h2v-.3h2v.6h2v.1h2v-.3h2v.3h2v-1.2h2v.6h2v.4h2v-1.5h2v1.7h2v-.3h2v0h2v0h2v.3h2v-.9h2v.5h2v.3h2v0h2v0h2v-1.4h2v.3h2v-.6h2v1.5h2v-.7h2v.6h2v.4h2v-.7h2v-.1h2v.5h2v-.5h2v.4h2v.1h2v-1.2h2v1h2v0h2v.3h2v.1h2v-.2h2v-.4h2v-.8h2v.2h2v1.1h2v.1h2v-.3h2v.3h2v-.1h2v.1h2v-.3h2v-1h2v1.4h2v-.2h2v.1h2v-.2h2v.3h2v-.8h2v-.1h2v.1h2v.8h2v-.2h2v.2h2v-.7h2v-.3h2v.4h2v.4h2v-.4h2v.1h2v-.6h2v1.1h2v-.6h2v.2h2v.2h2v-1.2h2v1.3h2v-.7h1v-1.2h1v.8h1v-.2h1v.5h1v0h1v-.9h1v-.4h1v1.3h1v.1h2v.1h2v.5h2v-.4h2v.1h2v-.1h2v.4h2v-1.1h2v1h2v-.6h2v.2h2v-.4h2v.9h2v.2h2v0h2v-.3h2v.3h2v-.1h2v-.2h2v-1.2h2v.7h2v.6h2v-.1h2v.1h2v-.1h2v.3h2v-.1h2v.1h2v-.6h2v.3h2v.1h2v-.1h2v.3h2v-.1h2v-.1h2v-.1h2v-.1h2v.2h2v-.9h2v.8h2v.1h2v-.2h2v-1.7h2v1.3h2v.8h2v0h2v-.9h2v.3h2v-.8h2v.9h2v0h2v0h2v.1h2v.1h2v-.4h2v.3h2v-.1h2v0h2v.5h2v-.3h2v0h2v-2.3h2v2.6h2v-.5h2v.3h2v-.4h2v.1h2v.5h2v-.8h2v.8h2v-1.1h2v.9h2v-.1h2v-.6h2v.3h2v.5h2v.1h2v-.8h2v.3h2v.4h2v-.2h2v.3h2v-.4h2v-1.4h2v1.6h2v.1h2v0h2v-.3h2v.3h2v.1h2v-.4h2v.1h2v.3h2v-.1h2v0h2v-1.2h2v1.2h2v-1.4h2v-.9h2v2.4h2v-.2h2v-.6h2v.8h2v0h2v-.3h2v.2h2v-.2h2v-.5h2v.7h2v-.4h2v.2h2v-1.4h2v1.6h2v-.3h2v-.1h2v.4h2v-.5h2v.2h2v-.5h2v.2h2v.4h2v.2h2v-.2h2v-.2h2v-1h2v1.5h2v0h2v0h2v-.4h2v-.4h2v.6h2v0h2v-1.3h2v1.2h2v-1.1h2v.8h2v.3h2v.2h2v-.4h2v-.5h2v.2h2v.3h2v.5h2v-.1h2v-.7h2v.8h2v-.1h2v-.6h2v-.2h2v.2h2v.3h2v.2h2v-.4h2v-.4h2v.8h2v-.7h2v.7h2v-.2h2v-.1h2v.3h2v0h2v-.7h2v.2h2v.4h2v-.4h2v-.4h2v.7h2v-.8h2v1h2v-.4h2v-1h2v.9h2v.2h2v.2h2v-.2h2v.4h2v-.2h2v-.1h2v.4h2v-.6h2v.5h2v.1h2v-.5h2v.5h2v-.5h2v-.5h2v.5h2v.1h2v-.7h2v.4h2v.1h2v-1.1h2v.6h2v.5h2v.6h2v-.4h2v-.1h2v-.8h2v1.2h2v.1h2v0h2v-.2h2v-.4h2v.3h2v-.3h2v-.5h2v.5h2v-.3h2v.7h2v0h2v.2h2v-.3h2v-.1h2v.1h2v-.3h2v.4h2v-1h2v1.1h2v-.1h2v0h2v-.1h2v-.5h2v.4h2v.2h2v-.4h2v-.1h2v.1h2v-.4h2v.4h2v.3h2v.3h2v-.1h2v0h2v-.2h2v-1.1h2v.1h2v-.2h2v.4h2v.2h2v.5h2v-.2h2v.5h2v-.2h2v0h2v.3h2v-.5h2v.1h2v-.1h2v0h2v-.2h2v-1.3h2v.6h2v1.3h2v-.1h2v.1h2v-.4h2v.2h2v-.7h2v.4h2v-.5h2v.7h2v-.7h2v.7h2v-.5h2v.7h2v-.2h2v.2h2v-1.5h2v-.2h2v1.8h2v-.5h2v.3h2v0h2v0h2v-.3h2v.3h2v-.2h2v.1h2v.1h2v-1.7h2v1.3h2v.3h2v.2h2v-.3h2v.4h2v-.3h2v0h2v-.8h2v.9h2v-.5h2v.1h2v-.5h2v1.1h2v-.6h2v.5h2v-.3h2v7.1h-2v-.1h-2v-.1h-2v0h-2v.2h-2v-.2h-2v.8h-2v-.8h-2v.7h-2v-.6h-2v-.2h-2v.9h-2v-.7h-2v0h-2v.3h-2v0h-2v-.3h-2v-.2h-2v.3h-2v.4h-2v-.7h-2v.1h-2v.9h-2v-.6h-2v.2h-2v-.5h-2v.9h-2v-.4h-2v.2h-2v.4h-2v-.8h-2v.8h-2v-1.1h-2v.4h-2v.4h-2v-1h-2v.9h-2v-.6h-2v.4h-2v-.6h-2v.3h-2v-.1h-2v1.7h-2v-2h-2v.5h-2v.9h-2v-1.3h-2v.3h-2v.2h-2v-.2h-2v-.2h-2v.3h-2v-.4h-2v.2h-2v.5h-2v-.9h-2v.3h-2v.1h-2v.1h-2v1.3h-2v-.8h-2v-.2h-2v-.2h-2v.6h-2v-.9h-2v.4h-2v0h-2v-.2h-2v-.4h-2v1.4h-2v-.6h-2v-.6h-2v.5h-2v-.4h-2v-.4h-2v.5h-2v0h-2v-.5h-2v.1h-2v.6h-2v-.2h-2v-.3h-2v.1h-2v0h-2v.4h-2v-.4h-2v.4h-2v-.1h-2v0h-2v.8h-2v-.6h-2v-.4h-2v-.1h-2v0h-2v1h-2v-.6h-2v-.6h-2v.6h-2v-.5h-2v0h-2v.7h-2v-.7h-2v.7h-2v-.5h-2v.8h-2v-.8h-2v-.3h-2v.2h-2v.7h-2v.1h-2v-.5h-2v.5h-2v-.6h-2v-.4h-2v-.1h-2v0h-2v.7h-2v-.3h-2v-.1h-2v.2h-2v.2h-2v-.4h-2v.8h-2v-.6h-2v.2h-2v-.3h-2v.6h-2v-.2h-2v0h-2v-.4h-2v.3h-2v.3h-2v.3h-2v-.8h-2v0h-2v1.5h-2v-1.6h-2v1.1h-2v-.8h-2v.8h-2v-.1h-2v-1h-2v1h-2v-1.2h-2v1.3h-2v-1.3h-2v.3h-2v-.5h-2v0h-2v1.8h-2v-.7h-2v-.3h-2v-.2h-2v.2h-2v-.3h-2v-.3h-2v0h-2v1.1h-2v-.9h-2v-.3h-2v.1h-2v-.1h-2v1.3h-2v-1h-2v-.1h-2v0h-2v.3h-2v-.5h-2v-.1h-2v.1h-2v.7h-2v-.1h-2v.3h-2v-.1h-2v-.2h-2v.3h-2v-.6h-2v1.9h-2v-2.2h-2v1.2h-2v-.2h-2v-.3h-2v-.3h-2v-.1h-2v-.3h-2v.2h-2v-.1h-2v.6h-2v-.6h-2v-.1h-2v0h-2v.2h-2v.2h-2v-.1h-2v.6h-2v-.2h-2v.1h-2v-.5h-2v-.1h-2v.8h-2v-1h-2v1.3h-2v-1.1h-2v.5h-2v-.5h-2v.2h-2v1.3h-2v-1.5h-2v-.3h-2v.3h-2v.1h-2v.9h-2v-.2h-2v-1h-2v-.1h-2v.6h-2v-.3h-2v.7h-2v-.2h-2v-.1h-2v-.1h-2v-.5h-2v.4h-2v-.5h-2v.3h-2v-.2h-2v0h-2v.3h-2v.5h-2v-.6h-2v.4h-2v.2h-2v0h-2v-.6h-2v.2h-2v-.5h-2v.3h-2v-.2h-2v0h-2v.4h-2v-.5h-2v.3h-2v.7h-2v-.9h-2v.2h-2v.3h-2v0h-2v0h-2v-.2h-2v.5h-2v-.8h-2v0h-2v.4h-2v-.2h-2v-.3h-2v.1h-2v0h-2v.2h-2v.4h-2v-.5h-2v1.2h-2v-1h-2v1h-2v-1.1h-2v.2h-2v.2h-2v-.6h-2v1.3h-2v-1.2h-2v0h-2v.7h-2v-.3h-2v-.3h-2v0h-2v-.1h-2v.4h-2v.7h-2v-.2h-2v-1h-2v.1h-2v.4h-2v-.3h-2v.4h-2v-.2h-2v-.3h-2v.8h-2v-.4h-2v-.2h-2v-.1h-2v1.2h-2v-1.2h-2v0h-2v-.1h-2v0h-2v.5h-2v.6h-2v-.7h-1v.7h-1v-.2h-1v.6h-1v.1h-1v.5h-1v-1.2h-1v.3h-1v-.4h-1v-.4h-2v.3h-2v-.4h-2v-.2h-2v.4h-2v-.6h-2v.4h-2v.1h-2v-.4h-2v-.1h-2v-.1h-2v.5h-2v-.2h-2v-.3h-2v.4h-2v.7h-2v.4h-2v-1.3h-2v.5h-2v-.6h-2v.5h-2v-.3h-2v.6h-2v-.5h-2v.4h-2v-.5h-2v.2h-2v.4h-2v-.7h-2v.3h-2v-.2h-2v-.2h-2v.5h-2v.6h-2v-.6h-2v-.3h-2v-.2h-2v.2h-2v.6h-2v.3h-2v-1h-2v.8h-2v.1h-2v-.4h-2v-.7h-2v.8h-2v.3h-2v-.6h-2v-.5h-2v1h-2v-.5h-2v-.2h-2v0h-2v-.1h-2v-.1h-2v0h-2v.4h-2v.9h-2v-.7h-2v-.4h-2v.6h-2v-.6h-2v1.1h-2v-.6h-2v-.5h-2v.5h-2v.3h-2v-.9h-2v.3h-2v-.4h-2v.4h-2v.5h-2v-.8h-2v-.1h-2v.7h-2v-.5h-2v.7h-2v-.9h-2v.9h-2v-.5h-2v.3h-2v-.7h-2v.4h-2v.2h-2v.4h-2v-.4h-2v.3h-2v-1h-2v.2h-2v.7h-2v-.2h-2v0h-2v-.6h-2v.6h-2v.6h-2v-1.1h-2v-.2h-2v.2h-2v0h-2v.2h-2v-.1h-2v.5h-2v-.3h-2v.1h-2v1.1h-2v-1.5h-2v.4h-2v-.3h-2v.8h-2v-.9h-2v.1h-2v.1h-2v-.3h-2v.3h-2v-.3h-2v.3h-2v1h-2v-.4h-2v-1h-2v1.1h-2v-.4h-2v.5h-2v.2h-2v-.2h-2v-.5h-2v-.6h-2v.1h-2v.2h-2v.3h-2v.1h-2v-.3h-2v.1h-2v-.1h-2v-.5h-2v.3h-2v.4h-2v-.3h-2v-.4h-2v1.1h-2v-.8h-2v.2h-2v-.1h-2v0h-2v-.4h-2v.2h-2v1.2h-2v-1.1h-2v.3h-2v-.5h-2v.8h-2v-.9h-2v1.2h-2v-.8h-2v0h-2v-.2h-2v.5h-2v-.6h-2v.8h-2v-.8h-2v.1h-2v0h-2v-.1h-2v0h-2v.1h-2v.8h-2v-.1h-2v-.5h-2v.1h-2v-.2h-2v-.1h-2v0h-2v-.1h-2v.2h-2v-.2h-2v-.1h-2v.4h-2v-.3h-2v1.1h-2v-.8h-2v.4h-2v-.5h-2v.1h-2v.8h-2v-1h-2v1.4h-2v-.4h-2v-.4h-2v-.8h-2v.5h-2v-.3h-2v1.4h-2v-1h-2v.5h-2v-.9h-2v0h-2v.3h-2v-.3h-2v-.2h-2v.5h-2v.8h-2v-1.2h-2v-.1h-2v.7h-2v.2h-2v-.4h-2v.3h-2v-.7h-2v0h-2v.3h-2v-.1h-2v.1h-2v-.1h-2v-.2h-2v-.1h-2v.3h-2v.3h-2v-.1h-2v.7h-2v-.1h-2v-.8h-2v.6h-2v-.5h-2v-.2h-2v.2h-2v.4h-2v0h-2v-.6h-2v.8h-2v.1h-2v-.7h-2v.6h-2v-.6h-2v.6h-2v-.6h-2v0h-2v.7h-2v-.6h-2v.2h-2v-.4h-2v-.2h-2v.8h-2v-.9h-2v1h-2v-.5h-2v-.1h-2v.9h-2v-1h-2v.5h-2v-.5h-2v.5h-2v.6h-2v-.9h-2v-.5h-2v.2h-2v-.1h-2v1.1h-2v-.9h-2v-.2h-2v0h-2v.4h-2v-.3h-2v-.1h-2v.9h-2v-.2h-2v-.4h-2v.5h-2v.3h-2v-.4h-2v0h-2v-.5h-2v-.1h-2v-.1h-2v1h-2v-.2h-2v-.5h-2v.2h-2v.3h-2v-.2h-2v-.6h-2v1.5h-2v.2h-2v-1.3h-2v-.1h-2v.1h-2v.7h-2v-.2h-2v-.7h-2v.6h-2v-.3h-2v-.5h-2v.2h-2v.7h-2v-1h-2v1.1h-2v.2h-2v-1.3h-2v.6h-2v-.3h-2v0h-2v.2h-2v-.2h-2v.3h-2v-.2h-2v.4h-2v-.8h-2v.9h-2v-.6h-2v.6h-2v-.8h-2v.1h-2v-.1h-2v.7h-2v-.5h-2v0h-2v.4h-2v-.1h-2v-.2h-2v-.2h-2v1.6h-2v-1.8h-2v.4h-2v.2h-2v.1h-2v.3h-2v-.7h-2v.9h-2v.2h-2v-1h-2v-.4h-2v.8h-2v-.7h-2v-.1h-2v.7h-2v.1h-2v-.2h-2v-.2h-2v-.3h-2v.4h-2v-.1h-2v-.3h-2v.5h-2v0h-2v-.5h-2v-.1h-2v.5h-2v0h-2v-.4h-2v.1h-2v.7h-2v-.8h-2v0h-2v.1h-2v0h-2v.8h-2v-.4h-2v-.2h-2v-.3h-2v1.1h-2v-.9h-2v0h-2v.5h-2v-.6h-2v.1h-2v0h-2v.7h-2v-.7h-2v.2h-2v-.1h-2v.7h-2v-.8h-2v-.2h-2v0h-2v.3h-2v0h-2v1.2h-2v.2h-2v-1.4h-2v0h-2v1.4h-2v-1.1h-2v-.4h-2v0h-2v-.3h-2v.1h-2v.8h-2v-.8h-2v.1h-2v0h-2v1.8h-2v-1.7h-2v.8h-2v-.1h-2v-.5h-2v-.1h-2v0h-2v-.4h-2v1h-2v.3h-2v-1.2h-2v.1h-2v1.2h-2v-.8h-2v.1h-2v.2h-2v-.6h-2v.5h-2v-.7h-2v.8h-2v.8h-2v-.9h-2v-.6h-2v.9h-2v-.1h-2v-1h-2v.2h-2v1.1h-2v-1h-2v-.2h-2v.1h-2v.4h-2v-.1h-2v1.4h-2v-1.7h-2v.1h-2v.2h-2v-.1h-2v-.1h-2v-.1h-2v.1h-2zM231 727.7h1v1.2h1v-1.6h1v1.4h1v-1.9h1v2.2h1v-.2h1v0h1v-.2h1v.2h1v-.6h1v-.4h1v.8h1v.2h1v-.2h1v.3h1v-.5h1v-.8h1v.4h1v0h1v.9h1v-.5h1v.1h1v.4h1v-.1h1v0h1v-.9h1v-.2h1v1.2h1v0h1v0h1v-.7h1v.6h1v-.5h1v0h1v.3h1v.2h1v-.1h1v.2h1v-.1h1v-.1h1v-.3h1v-.4h1v-.3h1v.8h1v-.3h1v.7h1v0h1v-.2h1v.1h1v.2h1v-.2h1v.1h1v-.4h1v0h1v.1h1v.3h1v-.4h1v.1h1v-1.1h1v1.2h1v-.1h1v.1h1v0h1v.1h1v.1h1v0h1v-.6h1v-.2h1v.8h1v-.2h1v.2h1v-.4h1v-.1h1v-.8h1v.6h1v.6h1v0h1v-1.2h1v.9h1v-.5h1v.2h1v.3h1v.4h1v-.1h1v-.1h1v-.5h1v.6h1v-.3h1v-.7h1v.7h1v.4h1v-.3h1v-.7h1v.5h1v.4h1v-.3h1v0h1v.3h1v-.1h1v-1.2h1v1.2h1v-.2h1v-.9h1v.4h1v.4h1v.5h1v0h1v-.6h1v.5h1v-.2h1v-.5h1v.6h1v-.1h1v.2h1v.1h1v-1.2h1v.7h1v.4h1v-.6h1v.4h1v-.8h1v.7h1v.4h1v-1.4h1v.9h1v.1h1v-.2h1v.5h1v.1h1v-.4h1v-.3h1v.5h1v-1h1v.9h1v-.3h1v.4h1v-.9h1v.5h1v.5h1v0h1v-.1h1v-.3h1v-.4h1v.5h1v-.4h1v-1h1v1.4h1v0h1v-.1h1v-1.1h1v1.5h1v-.4h1v-.4h1v.7h1v-.8h1v.8h1v-.1h1v-.5h1v.8h1v0h1v-.3h1v-.1h1v-.1h1v-.5h1v.7h1v.4h1v-1.4h1v1.3h1v0h1v-.2h1v-.9h1v.1h1v0h1v.7h1v0h1v0h1v-.7h1v1h1v-2.1h1v1.6h1v.2h1v0h1v-.2h1v.3h1v-.4h1v.5h1v-.3h1v.1h1v-.9h1v1h1v-.4h1v.5h1v-.1h1v-1.1h1v0h1v.8h1v.3h1v-.5h1v.5h1v.1h1v0h1v-.5h1v.4h1v-.2h1v-.5h1v.5h1v-.5h1v.8h1v.1h1v-.5h1v.1h1v-.2h1v-.1h1v.7h1v-.7h1v.4h1v0h1v.3h1v0h1v-.5h1v-.3h1v.8h1v0h1v-.3h1v-.7h1v.4h1v-.7h1v1.3h1v-.2h1v-.2h1v.4h1v-.7h1v.5h1v.2h1v-.7h1v.6h1v-.6h1v-.6h1v1.2h1v-.2h1v-.1h1v.2h1v-.7h1v.6h1v-.5h1v.8h1v0h1v-.1h1v-1.5h1v1.3h1v.3h1v-.1h1v-.7h1v.3h1v0h1v-.1h1v.3h1v-.3h1v-.2h1v.2h1v.5h1v0h1v-.6h1v.4h1v.2h1v-1.1h1v.7h1v.4h1v-.4h1v.4h1v-.3h1v.1h1v-.2h1v.5h1v-.3h1v.1h1v-.5h1v.2h1v-.5h1v.4h1v.5h1v.1h1v-.3h1v-.2h1v.1h1v-.2h1v.5h1v-.1h1v-.1h1v-.1h1v.2h1v-.1h1v-.4h1v.6h1v0h1v-.2h1v-.1h1v-.6h1v.9h1v0h1v.1h1v-.6h1v-.3h1v.9h1v-.2h1v-.6h1v-.6h1v1.2h1v.2h1v-.2h1v-.2h1v-.1h1v.1h1v-.3h1v.7h1v-.1h1v-.2h1v-.1h1v.3h1v-.2h1v-.2h1v-.5h1v-.2h1v.6h1v.6h1v-.5h1v-.5h1v.4h1v-.7h1v1.3h1v0h1v-.1h1v-.3h1v.2h1v.2h1v-.5h1v-.8h1v.7h1v-.2h1v0h1v.7h1v-1.7h1v.9h1v.2h1v0h1v-.3h1v.8h1v0h1v-.6h1v.7h1v-.2h1v.1h1v-1.5h1v1h1v.7h1v-.7h1v.3h1v0h1v.2h1v-1.4h1v1.1h1v0h1v0h1v-.3h1v-1.3h1v2h1v-1.5h1v1.6h1v-.2h1v-.5h1v.4h1v-.7h1v.9h1v-.4h1v.1h1v.2h1v0h1v0h1v0h1v-1.4h1v1.5h1v0h1v-1.3h1v1.2h1v-.4h1v-.6h1v1.1h1v-.3h1v.2h1v0h1v-.6h1v.5h1v.1h1v.1h1v-1.7h1v1.7h1v-.2h1v-.2h1v0h1v-.1h1v.4h1v-.1h1v-.4h1v.6h1v-.8h1v0h1v0h1v.5h1v.1h1v-.3h1v.6h1v-1.3h1v.8h1v.1h1v.1h1v.2h1v-.4h1v.4h1v-.8h1v.5h1v0h1v-.2h1v.5h1v-.6h1v.1h1v.6h1v-1.3h1v1h1v-.3h1v-.1h1v-.6h1v.7h1v.1h1v.5h1v-.3h1v-.5h1v.8h1v-.6h1v-.3h1v.9h1v-.8h1v.7h1v-.1h1v.1h1v-.3h1v-1h1v1.4h1v-1.4h1v.1h1v.9h1v-.1h1v-.1h1v0h1v.2h1v-.1h1v.5h1v0h1v0h1v0h1v.1h1v0h1v-.2h1v-.5h1v-.3h1v.2h1v.1h1v-.7h1v1.3h1v-.8h1v.7h1v-.4h1v-.3h1v.3h1v-.8h1v1.1h1v-.5h1v.2h1v-.8h1v1h1v0h1v-.9h1v.8h1v0h1v.3h1v-.7h1v.8h1v-.2h1v-1.2h1v1.3h1v-.2h1v-.7h1v-.1h1v-.5h1v1.6h1v-1.7h1v1.3h1v-1.1h1v.9h1v-.4h1v.5h1v.1h1v.2h1v-.9h1v0h1v.7h1v-.4h1v.4h1v-.1h1v.3h1v.2h1v-.3h1v.2h1v-.8h1v0h1v.7h1v-.2h1v-.1h1v.3h1v-.7h1v0h1v-.5h1v.7h1v.2h1v.1h1v.3h1v0h1v-.1h1v-.1h1v.3h1v0h1v-.4h1v.3h1v-.9h1v.3h1v.3h1v.2h1v-.3h1v0h1v-.2h1v.7h1v-.5h1v.3h1v-.2h1v-.4h1v.4h1v-.4h1v0h1v.7h1v-.2h1v.2h1v.1h1v-.4h1v.3h1v-1.3h1v1.2h1v.2h1v-.8h1v.4h1v0h1v.3h1v.1h1v-1.2h1v0h1v-.2h1v1.4h1v-.3h1v-.1h1v0h1v-.5h1v.2h1v.5h1v0h1v-.4h1v.5h1v-.3h1v-.7h1v.5h1v.6h1v-.3h1v-.1h1v-.3h1v.7h1v0h1v-.9h1v-.1h1v0h1v.8h1v.2h1v-1h1v.7h1v.3h1v-1.2h1v.5h1v-.8h1v1.5h1v-1.2h1v1.2h1v-.7h1v.4h1v-.9h1v.9h1v-.4h1v-1h1v1.7h1v-.8h1v.8h1v-.1h1v.1h1v-.5h1v-.9h1v1.3h1v-.1h1v-1.3h1v1.5h1v0h1v-.3h1v.1h1v.2h1v-.1h1v-1.1h1v1.2h1v-.6h1v.2h1v.1h1v.2h1v-.4h1v.5h1v-.2h1v-.7h1v1.2h1v.1h1v-.1h1v-.3h1v.5h1v-1.6h1v.5h1v.8h1v0h1v.2h1v-.9h1v.7h1v.2h1v-1h1v.9h1v-.3h1v-.4h1v.9h1v0h1v-.1h1v0h1v-.6h1v.7h1v-.4h1v.4h1v0h1v-.4h1v.3h1v-.5h1v.4h1v-1.8h1v1.2h1v.2h1v.2h1v.2h1v-.8h1v.9h1v-.1h1v0h1v-.1h1v.3h1v.1h1v-.8h1v.2h1v.1h1v-1.2h1v1.4h1v-.1h1v.1h1v.1h1v.1h1v.1h1v-.6h1v.1h1v.4h1v-.6h1v-.3h1v.7h1v.1h1v-1.1h1v1h1v-.4h1v-.3h1v.8h1v0h1v-.4h1v-.2h1v.2h1v.5h1v-.2h1v-.1h1v-.9h1v.1h1v1h1v-1.1h1v1.3h1v-.1h1v0h1v-.6h1v.3h1v.1h1v.2h1v-.4h1v0h1v.2h1v-.6h1v.9h1v-.3h1v-1.1h1v1.2h1v-.2h1v-.6h1v.9h1v0h1v-1.2h1v-.2h1v.2h1v1.1h1v-.4h1v.3h1v-.6h1v.4h1v.4h1v-.5h1v.3h1v-.5h1v-.6h1v.9h1v-.8h1v1.2h1v-.3h1v-.3h1v-.6h1v1.2h1v0h1v-.1h1v-.5h1v-.2h1v.7h1v-1.4h1v1.3h1v-.2h1v-.1h1v.2h1v.4h1v-.5h1v.3h1v.1h1v-.7h1v.1h1v.4h1v.1h1v.1h1v-.9h1v1h1v-.2h1v-.5h1v-.7h1v.6h1v.5h1v.1h1v-1.1h1v.5h1v-.3h1v.5h1v.5h1v-1.1h1v.7h1v.2h1v-.1h1v-.4h1v.5h1v-.7h1v.7h1v-.3h1v-.2h1v.6h1v-.3h1v-1h1v1.3h1v-.7h1v.2h1v.2h1v-.7h1v.7h1v-.2h1v.2h1v-.2h1v-.2h1v.8h1v-.2h1v-.7h1v.8h1v-.9h1v1h1v-.3h1v.3h1v-.8h1v.8h1v-.8h1v.5h1v-.1h1v-1.2h1v1.4h1v.2h1v-.2h1v-.4h1v.7h1v-.1h1v-.6h1v.6h1v-.3h1v-.1h1v0h1v.2h1v-.1h1v-.3h1v0h1v.4h1v-.3h1v0h1v.2h1v-.9h1v1.2h1v-.8h1v.8h1v-.1h1v.1h1v-.1h1v-.2h1v.3h1v-.2h1v0h1v.1h1v-1.3h1v1h1v.3h1v0h1v-.2h1v.3h1v.1h1v-.3h1v.2h1v-1.1h1v1h1v-1h1v-.8h1v1.9h1v.1h1v-.4h1v.2h1v-.1h1v-1.1h1v1.2h1v-.4h1v-1.2h1v0h1v1.6h1v-.8h1v.7h1v.1h1v-.7h1v.3h1v.4h1v-.7h1v.7h1v-.4h1v.6h1v-.3h1v-.1h1v.4h1v-.4h1v-1.2h1v1.5h1v-.1h1v-.1h1v-.6h1v.2h1v-1.2h1v1.4h1v.4h1v.1h1v-.7h1v.3h1v0h1v0h1v.2h1v-.2h1v-.1h1v-.1h1v0h1v.1h1v-.5h1v.7h1v-.2h1v.3h1v-.4h1v.3h1v-.1h1v.2h1v-.1h1v.2h1v0h1v-.5h1v.3h1v-.3h1v.4h1v.1h1v-.2h1v.1h1v.1h1v-.1h1v-1.1h1v.2h1v.2h1v.2h1v.4h1v-.4h1v.6h1v-.1h1v0h1v.1h1v-.7h1v.5h1v-.2h1v-.8h1v1.1h1v.1h1v.1h1v-.2h1v-1.2h1v.8h1v0h1v.4h1v0h1v-.2h1v.1h1v-.9h1v.8h1v-.8h1v1.1h1v-.2h1v-.7h1v.9h1v-.8h1v.3h1v-.5h1v1.1h1v-.2h1v0h1v-.3h1v-.6h1v.6h1v-.4h1v-.4h1v.7h1v-1h1v.9h1v-1h1v.4h1v-1.2h1v1.1h1v-.5h1v.3h1v.3h1v-.1h1v0h1v-.8h1v.6h1v0h1v.2h1v-1h1v-.8h1v1.3h1v.4h1v.1h1v-.2h1v.3h1v-.6h1v-.5h1v1h1v.2h1v-.7h1v0h1v.5h1v-.3h1v-1.1h1v-.1h1v1.4h1v0h1v-1h1v.9h1v-.1h1v0h1v.2h1v-.3h1v.3h1v.2h1v-.2h1v0h1v-.3h1v-1.1h1v1.4h1v0h1v-.3h1v-1h1v1.2h1v-.3h1v-.2h1v.1h1v.5h1v-.4h1v-.1h1v.4h1v-.3h1v.4h1v-1.1h1v1h1v-.2h1v-.3h1v-2.6h1v2.8h1v.6h1v-1.3h1v1.1h1v.2h1v-.1h1v-1.1h1v1h1v.2h1v-.1h1v-.7h1v.2h1v.5h1v0h1v-.1h1v.1h1v-.1h1v-.1h1v-.2h1v.3h1v-.9h1v.4h1v.2h1v0h1v.3h1v.1h1v0h1v.1h1v-1.9h1v.7h1v-.4h1v1.5h1v.2h1v-.3h1v-.2h1v-.1h1v.4h1v-1.5h1v1.6h1v-.5h1v-.5h1v-.4h1v0h1v1h1v-.2h1v.1h1v.2h1v-.2h1v-.4h1v.9h1v-.6h1v.2h1v-.2h1v-1.3h1v.5h1v.7h1v.2h1v0h1v.5h1v-1.6h1v1.2h1v.1h1v-2.1h1v1.5h1v.7h1v0h1v0h1v0h1v-.4h1v.6h1v-.6h1v.2h1v-1h1v1.4h1v-.9h1v.6h1v-.4h1v-.7h1v1.4h1v-.4h1v-1.1h1v1.1h1v.4h1v-.1h1v-.3h1v.1h1v-.9h1v-.1h1v.8h1v-.2h1v.6h1v-.2h1v.1h1v-.2h1v-.1h1v-.3h1v.1h1v.1h1v.2h1v.2h1v-.1h1v-1h1v.6h1v.5h1v-.5h1v-.2h1v.8h1v-.6h1v-.7h1v1h1v-.1h1v-.1h1v.6h1v-.2h1v-.9h1v1h1v0h1v-.7h1v-.1h1v.2h1v.5h1v-.6h1v-.2h1v1h1v0h1v0h1v-.2h1v-1.2h1v1h1v-.1h1v-.6h1v.9h1v-.8h1v1h1v-.6h1v0h1v-1.3h1v1.9h1v-.7h1v.5h1v0h1v-1h1v.6h1v.5h1v-.2h1v0h1v-.8h1v.6h1v-.1h1v-.4h1v.7h1v.2h1v-1h1v.8h1v-.1h1v-.5h1v0h1v.6h1v-1.5h1v.9h1v.8h1v-.8h1v.1h1v.8h1v-.2h1v.1h1v-.9h1v.9h1v-.5h1v.1h1v-.1h1v.5h1v-.1h1v-.4h1v.4h1v0h1v-.2h1v-.1h1v.3h1v-1.3h1v1.3h1v-.6h1v0h1v.7h1v-1.7h1v1.2h1v.2h1v.2h1v-1.5h1v1.4h1v.3h1v-.3h1v-.1h1v-.3h1v0h1v.5h1v-.1h1v-.5h1v-.1h1v.5h1v.3h1v.1h1v-.5h1v-.1h1v-.5h1v1.1h1v-.4h1v.3h1v-.2h1v.1h1v-2.5h1v2.3h1v.5h1v-1h1v-.6h1v1.1h1v-.6h1v.7h1v0h1v-.6h1v0h1v.8h1v-1.2h1v.8h1v.3h1v-.5h1v.6h1v-.2h1v-.7h1v.5h1v-.4h1v-.3h1v.3h1v.3h1v.5h1v-.2h1v0h1v-.1h1v-.3h1v.1h1v.6h1v-.5h1v.5h1v0h1v-.4h1v-.3h1v-1.5h1v1.8h1v-.1h1v.2h1v-.1h1v-.5h1v1h1v-2.4h1v1.8h1v.5h1v-.4h1v-1.2h1v1.5h1v-.9h1v.8h1v-.1h1v.3h1v-.3h1v.1h1v-.9h1v.4h1v-1h1v.9h1v.4h1v.4h1v-.3h1v.1h1v-1.1h1v1.2h1v.1h1v-.8h1v.4h1v.4h1v-1h1v1h1v-.1h1v-.2h1v-1.4h1v-.1h1v1h1v-.1h1v.2h1v-.6h1v.2h1v1h1v-1.5h1v1.3h1v.3h1v-.5h1v0h1v0h1v-1.5h1v.9h1v.9h1v-.2h1v-.2h1v-.9h1v1.5h1v-.1h1v-.5h1v.6h1v-.1h1v-.4h1v-.2h1v.3h1v-.5h1v.2h1v-.8h1v.6h1v.4h1v.2h1v0h1v-.3h1v.4h1v.1h1v-.4h1v.5h1v-.4h1v-.3h1v.3h1v.2h1v-.7h1v.8h1v-.1h1v-1.2h1v.5h1v.7h1v-.2h1v-1.2h1v1.3h1v0h1v-1.2h1v1.3h1v-.2h1v.3h1v-.4h1v-.3h1v.5h1v.1h1v.2h1v-.7h1v.6h1v-.7h1v.7h1v-.4h1v.3h1v0h1v.1h1v-.1h1v.2h1v0h1v-.2h1v-.3h1v.1h1v-.2h1v.6h1v0h1v0h1v-.6h1v.3h1v-.3h1v0h1v-.1h1v.2h1v.4h1v-.8h1v-.3h1v.7h1v.3h1v.2h1v-.1h1v-.8h1v1h1v-.1h1v-.1h1v-.4h1v.5h1v-.6h1v-1.1h1v.9h1v0h1v-.3h1v1.1h1v-1h1v1h1v-1.3h1v1.3h1v-.2h1v.2h1v-.2h1v.2h1v-.1h1v-.2h1v-1.1h1v1.4h1v-2.3h1v2.2h1v-.9h1v.5h1v-.2h1v.6h1v-.4h1v-.7h1v1.2h1v-.3h1v-.4h1v.3h1v.1h1v-.8h1v-.5h1v1.5h1v.2h1v-.1h1v-.8h1v.7h1v-.7h1v.1h1v.4h1v-.2h1v.2h1v-2.5h1v2.3h1v10.3h-1v.6h-1v.2h-1v-.7h-1v.4h-1v.1h-1v-.4h-1v-.2h-1v0h-1v.9h-1v-1h-1v.1h-1v.6h-1v-.1h-1v-.2h-1v-.1h-1v0h-1v-.2h-1v.5h-1v.5h-1v-1.2h-1v1h-1v-.2h-1v-.3h-1v-.1h-1v.9h-1v-1.2h-1v.8h-1v-.7h-1v.6h-1v-.6h-1v1.2h-1v-.8h-1v-.4h-1v-.2h-1v1h-1v.2h-1v-.9h-1v.3h-1v-.3h-1v.4h-1v.1h-1v-.3h-1v-.3h-1v1.6h-1v-.7h-1v-.5h-1v-.2h-1v-.1h-1v-.2h-1v.8h-1v-.6h-1v.8h-1v-.4h-1v.1h-1v.4h-1v-.2h-1v.1h-1v-1h-1v.4h-1v.3h-1v.4h-1v.1h-1v-1.1h-1v1.2h-1v-1.4h-1v.1h-1v1.7h-1v-1.2h-1v.1h-1v-.1h-1v.1h-1v-.6h-1v-.1h-1v.6h-1v.9h-1v-.8h-1v-.6h-1v.4h-1v.6h-1v-.9h-1v-.1h-1v.8h-1v-.2h-1v-.6h-1v.1h-1v.5h-1v1h-1v-1.5h-1v.1h-1v0h-1v.2h-1v.3h-1v.3h-1v-.8h-1v.2h-1v-.5h-1v.7h-1v-.5h-1v-.2h-1v.3h-1v-.1h-1v-.2h-1v1h-1v-1h-1v1.2h-1v-1.2h-1v.1h-1v-.1h-1v1.7h-1v-1.3h-1v.5h-1v-.3h-1v-.1h-1v1.3h-1v-1.8h-1v1.4h-1v-1h-1v.9h-1v-1.1h-1v.2h-1v1h-1v-.5h-1v.1h-1v.4h-1v.7h-1v-1h-1v-.5h-1v.2h-1v.4h-1v.7h-1v-1.8h-1v0h-1v.4h-1v-.5h-1v.6h-1v.6h-1v-.6h-1v-.2h-1v1h-1v-1.4h-1v1.5h-1v-1.4h-1v1.6h-1v-1.7h-1v.1h-1v.3h-1v.4h-1v-.6h-1v.9h-1v-.6h-1v1.1h-1v-.1h-1v-1.1h-1v.1h-1v.4h-1v-.1h-1v-.7h-1v.5h-1v1.3h-1v-1.4h-1v1.4h-1v-1h-1v-.3h-1v.3h-1v-.7h-1v.6h-1v-.6h-1v-.2h-1v.7h-1v0h-1v-.5h-1v-.2h-1v.7h-1v-.3h-1v-.3h-1v-.1h-1v.5h-1v-.1h-1v.8h-1v-.8h-1v.2h-1v-.6h-1v.3h-1v.4h-1v.1h-1v-.4h-1v.2h-1v-.5h-1v.4h-1v.1h-1v-.6h-1v.7h-1v.4h-1v-.7h-1v-.1h-1v-.1h-1v.8h-1v.6h-1v-1.2h-1v.9h-1v.1h-1v-.9h-1v-.4h-1v.3h-1v.4h-1v.8h-1v-1.1h-1v.7h-1v.8h-1v-1.7h-1v.7h-1v-.7h-1v.4h-1v-.2h-1v-.3h-1v1.4h-1v-.6h-1v-.3h-1v-.5h-1v.1h-1v.1h-1v.2h-1v-.2h-1v.9h-1v0h-1v-.4h-1v-.9h-1v.7h-1v.7h-1v-.8h-1v-.5h-1v1.5h-1v-1.1h-1v.1h-1v-.6h-1v.1h-1v.1h-1v-.1h-1v.4h-1v.8h-1v-1.2h-1v1.5h-1v-1.2h-1v-.1h-1v-.1h-1v.6h-1v-.6h-1v.7h-1v-.9h-1v.3h-1v.1h-1v-.3h-1v0h-1v1.7h-1v-1.4h-1v-.3h-1v.4h-1v.3h-1v-.1h-1v-.3h-1v-.4h-1v.2h-1v.9h-1v-.6h-1v-.3h-1v.4h-1v-.5h-1v1.1h-1v-.5h-1v.4h-1v-1.1h-1v.2h-1v-.2h-1v1.6h-1v1h-1v-2.1h-1v-.2h-1v.6h-1v.2h-1v.9h-1v-1.9h-1v.3h-1v-.4h-1v.4h-1v-.3h-1v.7h-1v.9h-1v-.5h-1v-.6h-1v.5h-1v-.5h-1v-.2h-1v.5h-1v-.9h-1v0h-1v.5h-1v-.3h-1v-.1h-1v-.1h-1v.1h-1v1.3h-1v-1h-1v-.4h-1v.3h-1v0h-1v0h-1v-.1h-1v1.3h-1v-1h-1v-.1h-1v-.2h-1v.9h-1v-.9h-1v.3h-1v-.1h-1v-.4h-1v.8h-1v-.1h-1v-.5h-1v-.2h-1v1h-1v-.8h-1v.2h-1v1.4h-1v-.5h-1v-.6h-1v.1h-1v.2h-1v-.2h-1v-.4h-1v.7h-1v-.6h-1v-.3h-1v.5h-1v-.6h-1v.2h-1v.4h-1v-.7h-1v.3h-1v0h-1v0h-1v.1h-1v-.4h-1v.4h-1v0h-1v-.2h-1v.5h-1v.1h-1v-.7h-1v.6h-1v.6h-1v-.5h-1v-.5h-1v.3h-1v-.2h-1v-.2h-1v-.2h-1v2.1h-1v-1.6h-1v.2h-1v-.3h-1v2.4h-1v-2.6h-1v1.2h-1v.1h-1v-1.3h-1v.9h-1v-1.1h-1v.3h-1v.6h-1v1.6h-1v-2.3h-1v.4h-1v-.5h-1v.2h-1v1.7h-1v-1.3h-1v-.4h-1v.8h-1v-.6h-1v0h-1v0h-1v-.1h-1v.3h-1v-.6h-1v.4h-1v2.2h-1v-2.5h-1v.9h-1v-.2h-1v-.5h-1v-.3h-1v.7h-1v-.8h-1v.5h-1v-.5h-1v.5h-1v-.1h-1v1.3h-1v-1.6h-1v.5h-1v0h-1v.4h-1v-1h-1v.2h-1v1.3h-1v-1h-1v.1h-1v0h-1v.8h-1v-1.2h-1v-.1h-1v.6h-1v-.6h-1v.2h-1v0h-1v-.3h-1v.3h-1v-.1h-1v.3h-1v-.1h-1v-.4h-1v.6h-1v.4h-1v.2h-1v-.8h-1v-.1h-1v.4h-1v-.7h-1v.3h-1v-.1h-1v.1h-1v.8h-1v-.6h-1v.1h-1v.5h-1v.5h-1v-1.3h-1v0h-1v.8h-1v0h-1v-.8h-1v1.6h-1v-1.9h-1v1.2h-1v-1.2h-1v.2h-1v.6h-1v-.5h-1v1h-1v.7h-1v-1.6h-1v0h-1v0h-1v-.3h-1v.5h-1v.8h-1v.2h-1v-.9h-1v-.2h-1v-.5h-1v.6h-1v.2h-1v-.6h-1v.1h-1v.4h-1v-.4h-1v-.3h-1v.6h-1v-.6h-1v1.5h-1v-.5h-1v.1h-1v-1h-1v.2h-1v.1h-1v.9h-1v-.9h-1v-.4h-1v.8h-1v.2h-1v-1h-1v1.1h-1v-.5h-1v.8h-1v-.9h-1v-.1h-1v.7h-1v-.8h-1v-.1h-1v-.7h-1v-.8h-1v.2h-1v1.1h-1v0h-1v-.6h-1v-.2h-1v.2h-1v-.1h-1v-.2h-1v0h-1v.1h-1v-.3h-1v0h-1v.4h-1v0h-1v-.1h-1v-.2h-1v.2h-1v.4h-1v-.3h-1v-.4h-1v.6h-1v-.6h-1v.4h-1v0h-1v-.4h-1v-.1h-1v.5h-1v.7h-1v-.5h-1v-.2h-1v-.2h-1v.9h-1v-1h-1v.4h-1v.1h-1v-.3h-1v-.3h-1v1h-1v-1.1h-1v.4h-1v-.3h-1v.1h-1v.2h-1v-.4h-1v.3h-1v0h-1v-.3h-1v1.7h-1v-1.6h-1v0h-1v.6h-1v-.7h-1v.1h-1v.2h-1v.3h-1v-.3h-1v-.2h-1v.3h-1v-.1h-1v.1h-1v.1h-1v-.5h-1v.1h-1v.2h-1v-.3h-1v.4h-1v-.4h-1v1h-1v-.8h-1v1.3h-1v-1.2h-1v-.3h-1v.5h-1v1h-1v-.7h-1v-.7h-1v-.1h-1v.6h-1v-.6h-1v.2h-1v-.2h-1v.3h-1v.3h-1v-.6h-1v.6h-1v-.7h-1v.5h-1v.5h-1v-.7h-1v-.1h-1v.3h-1v-.4h-1v0h-1v0h-1v.3h-1v.8h-1v-.4h-1v-.4h-1v.8h-1v.5h-1v-1.2h-1v-.2h-1v0h-1v-.1h-1v.3h-1v-.4h-1v1.5h-1v-.2h-1v-.7h-1v-.2h-1v.3h-1v-.7h-1v1.4h-1v-1.1h-1v-.3h-1v1.2h-1v-.8h-1v-.3h-1v.1h-1v0h-1v0h-1v.3h-1v-.3h-1v.3h-1v.1h-1v-.4h-1v.2h-1v-.1h-1v0h-1v.2h-1v-.4h-1v.4h-1v-.5h-1v0h-1v0h-1v.2h-1v.2h-1v.3h-1v-.7h-1v0h-1v.7h-1v-.2h-1v.1h-1v.1h-1v.2h-1v-.9h-1v0h-1v.2h-1v.4h-1v-.6h-1v.4h-1v-.2h-1v.3h-1v-.6h-1v.4h-1v1.3h-1v-.8h-1v-.7h-1v.3h-1v-.3h-1v.4h-1v1.1h-1v-1.3h-1v.5h-1v.2h-1v-.3h-1v-.2h-1v-.2h-1v0h-1v-.2h-1v0h-1v.6h-1v-.5h-1v.1h-1v-.3h-1v0h-1v.1h-1v0h-1v-.1h-1v.2h-1v.6h-1v-.6h-1v.4h-1v-.6h-1v.4h-1v.3h-1v-.1h-1v-.7h-1v.2h-1v-.1h-1v.6h-1v.6h-1v-1h-1v-.1h-1v0h-1v.7h-1v-.8h-1v.1h-1v.1h-1v-.1h-1v.1h-1v.5h-1v-.4h-1v-.2h-1v-.1h-1v.6h-1v0h-1v-.5h-1v.8h-1v-.7h-1v1.3h-1v-.3h-1v-.8h-1v-.3h-1v.3h-1v.7h-1v-1.1h-1v0h-1v0h-1v.1h-1v1.1h-1v-.6h-1v-.3h-1v-.1h-1v.7h-1v-.6h-1v.1h-1v.1h-1v-.3h-1v0h-1v-.1h-1v-.1h-1v.8h-1v-.8h-1v.2h-1v.5h-1v.1h-1v-.4h-1v0h-1v-.4h-1v-.1h-1v2h-1v-.6h-1v-1h-1v.2h-1v-.3h-1v.1h-1v-.3h-1v.7h-1v-.7h-1v0h-1v.5h-1v-.3h-1v-.3h-1v.4h-1v.1h-1v.4h-1v-.8h-1v.2h-1v0h-1v.3h-1v-.6h-1v.9h-1v0h-1v.1h-1v-.6h-1v-.2h-1v.2h-1v.6h-1v.5h-1v-1.3h-1v.1h-1v0h-1v.4h-1v-.2h-1v1.1h-1v-1h-1v.4h-1v-.1h-1v-.3h-1v.2h-1v-.2h-1v-.4h-1v.4h-1v0h-1v0h-1v-.5h-1v.2h-1v.2h-1v1.2h-1v-1.5h-1v.4h-1v-.4h-1v-.1h-1v.6h-1v-.1h-1v-.4h-1v0h-1v-.1h-1v.3h-1v.7h-1v.1h-1v-.5h-1v.4h-1v-.1h-1v-.8h-1v.4h-1v1h-1v-1.4h-1v.9h-1v-.3h-1v0h-1v-.7h-1v.4h-1v-.4h-1v0h-1v.1h-1v.4h-1v-.2h-1v-.3h-1v.1h-1v.2h-1v.9h-1v-1.2h-1v1.1h-1v0h-1v-1.1h-1v.2h-1v1.2h-1v-.9h-1v-.6h-1v1.3h-1v-1.2h-1v.1h-1v0h-1v.8h-1v-.9h-1v1.6h-1v-.7h-1v.3h-1v-.6h-1v.4h-1v0h-1v-.2h-1v.7h-1v-.9h-1v0h-1v-.1h-1v.1h-1v.2h-1v.8h-1v-1h-1v.5h-1v.9h-1v-1.4h-1v-.1h-1v.1h-1v.4h-1v.5h-1v-.6h-1v-.4h-1v1.7h-1v-1.3h-1v-.2h-1v.7h-1v.9h-1v-1.3h-1v-.4h-1v.1h-1v.9h-1v-.3h-1v-.8h-1v0h-1v.7h-1v-.5h-1v.2h-1v.3h-1v-.6h-1v.5h-1v.4h-1v.5h-1v-.5h-1v-.8h-1v-.2h-1v0h-1v0h-1v1h-1v.4h-1v-1.1h-1v.7h-1v-.5h-1v-.4h-1v.5h-1v0h-1v.1h-1v-.6h-1v.3h-1v-.1h-1v1.8h-1v-1.2h-1v-.7h-1v-.1h-1v.9h-1v-.9h-1v.9h-1v-.5h-1v-.1h-1v.3h-1v-.6h-1v.1h-1v-.2h-1v.3h-1v1.8h-1v-1.7h-1v.3h-1v.1h-1v-.3h-1v-.3h-1v.7h-1v-.8h-1v.4h-1v-.1h-1v-.4h-1v.6h-1v-.6h-1v.4h-1v0h-1v0h-1v.1h-1v.3h-1v-.7h-1v0h-1v.2h-1v-.2h-1v.5h-1v-.5h-1v1.1h-1v0h-1v-.8h-1v.2h-1v0h-1v-.5h-1v.1h-1v.3h-1v-.4h-1v1.1h-1v-.8h-1v.4h-1v-.4h-1v-.4h-1v0h-1v.3h-1v-.2h-1v0h-1v0h-1v.1h-1v-.1h-1v1.1h-1v-1.1h-1v.3h-1v.1h-1v-.3h-1v.1h-1v-.1h-1v0h-1v.4h-1v-.5h-1v.5h-1v-.4h-1v.7h-1v-.5h-1v-.2h-1v0h-1v-.1h-1v.1h-1v.4h-1v-.2h-1v.1h-1v-.5h-1v.5h-1v.2h-1v.5h-1v-.9h-1v0h-1v1.1h-1v-.2h-1v-1h-1v-.2h-1v.5h-1v-.2h-1v0h-1v.1h-1v1.1h-1v-1.3h-1v.3h-1v0h-1v-.3h-1v-.1h-1v.4h-1v-.1h-1v.3h-1v0h-1v.1h-1v-.7h-1v-.1h-1v1.1h-1v.4h-1v-1.5h-1v0h-1v1.3h-1v-.6h-1v-.3h-1v-.2h-1v.4h-1v-.4h-1v-.2h-1v.7h-1v.2h-1v.3h-1v-.1h-1v-.8h-1v-.2h-1v-.1h-1v0h-1v.4h-1v.4h-1v-.3h-1v.1h-1v-.6h-1v.3h-1v-.1h-1v.6h-1v-.3h-1v-.2h-1v-.3h-1v.2h-1v-.1h-1v.2h-1v-.3h-1v.2h-1v0h-1v-.1h-1v1.2h-1v-.2h-1v-1h-1v0h-1v.3h-1v.4h-1v-.7h-1v.5h-1v-.2h-1v-.4h-1v.9h-1v-.7h-1v-.1h-1v.7h-1v-.7h-1v.7h-1v0h-1v.4h-1v-1.2h-1v.4h-1v-.1h-1v-.2h-1v.2h-1v1.3h-1v-1.3h-1v-.1h-1v.4h-1v-.1h-1v0h-1v-.3h-1v1.4h-1v-1.2h-1v1.3h-1v-.8h-1v0h-1v-.5h-1v.1h-1v1.3h-1v-1.4h-1v0h-1v-.3h-1v1.1h-1v-1.1h-1v.4h-1v-.2h-1v-.3h-1v0h-1v.3h-1v.9h-1v-.6h-1v0h-1v-.5h-1v.3h-1v.3h-1v-.1h-1v-.4h-1v.2h-1v-.4h-1v.3h-1v1.2h-1v-1.3h-1v.1h-1v.9h-1v-.9h-1v-.1h-1v-.2h-1v0h-1v.3h-1v.7h-1v-.4h-1v-.1h-1v-.5h-1v.5h-1v-.2h-1v-.3h-1v0h-1v1h-1v-.2h-1v-.5h-1v-.2h-1v.4h-1v-.2h-1v0h-1v-.3h-1v.1h-1v.3h-1v-.1h-1v0h-1v.1h-1v.3h-1v-.3h-1v-.1h-1v.7h-1v-1h-1v1.7h-1v-1.4h-1v-.2h-1v1h-1v-.8h-1v-.2h-1v0h-1v0h-1v.1h-1v.4h-1v.2h-1v-.5h-1v0h-1v-.3h-1v.3h-1v.3h-1v-.4h-1v.5h-1v-.2h-1v.4h-1v-.3h-1v-.3h-1v-.1h-1v-.1h-1v.6h-1v-.2h-1v1.6h-1v-1.6h-1v.5h-1v-1h-1v.5h-1v.5h-1v-.6h-1v-.4h-1v.6h-1v.5h-1v-.5h-1v-.6h-1v.9h-1v-.4h-1v.2h-1v0h-1v.6h-1v-1.1h-1v.2h-1v.2h-1v.6h-1v-1.2h-1v.2h-1v-.1h-1v0h-1v.3h-1v.6h-1v-.1h-1v-.6h-1v.6h-1v-.3h-1v.3h-1v-.6h-1v.6h-1v.3h-1v-1.1h-1v.4h-1v-.2h-1v.1h-1v.4h-1v-.5h-1v-.2h-1v.9h-1v0h-1v-.9h-1v-.1h-1v.5h-1v-.4h-1v.3h-1v.3h-1v-.6h-1v.7h-1v-.3h-1v.7h-1v-.8h-1v1.8h-1v-1.9h-1v.5h-1v-.4h-1v.3h-1v-.6h-1v.1h-1v.3h-1v.3h-1v-.1h-1v0h-1v-.6h-1v.1h-1v0h-1v-.2h-1v0h-1v.4h-1v.9h-1v-1.1h-1v.5h-1v-.2h-1v.9h-1v-.9h-1v.4h-1v.1h-1v.1h-1v-.9h-1v.4h-1v-.2h-1v.2h-1v-.5h-1v.2h-1v.4h-1v1.1h-1v-1.7h-1v.1h-1v.6h-1v-.1h-1v.1h-1v-.7h-1v.5h-1v.8h-1v-1h-1v-.3h-1v.5h-1v0h-1v-.3h-1v.1h-1v0h-1v-.3h-1v-.1h-1v.2h-1v0h-1v.4h-1v-.1h-1v.2h-1v.3h-1v-.1h-1v-.5h-1v-.2h-1v.7h-1v-.9h-1v.2h-1v.2h-1v.5h-1v-.7h-1v.8h-1v-.1h-1v-.1h-1v-.5h-1v-.1h-1v1.2h-1v-.8h-1v-.5h-1v.3h-1v.1h-1v-.3h-1v-.2h-1v.8h-1v-.7h-1v.5h-1v0h-1v-.2h-1v1.4h-1v-1.1h-1v-.5h-1v.1h-1v1h-1v0h-1v.1h-1v-1h-1v1.2h-1v-1.4h-1v.1h-1v-.2h-1v0h-1v.2h-1v-.1h-1v.4h-1v-.5h-1v.4h-1v-.4h-1v.2h-1v1.3h-1v-1.5h-1v-.1h-1v.5h-1v.1h-1v.1h-1v0h-1v.4h-1v-.6h-1v-.4h-1v.3h-1v.1h-1v-.4h-1v.1h-1v.8h-1v-.5h-1v-.2h-1v-.3h-1v.8h-1v0h-1v-.7h-1v.9h-1v-.9h-1v0h-1v0h-1v.4h-1v-.4h-1v0h-1v.7h-1v.4h-1v-.6h-1v-.5h-1v0h-1v.5h-1v-.2h-1v-.3h-1v-.1h-1v.6h-1v-.4h-1v0h-1v.1h-1v0h-1v.1h-1v.2h-1v.3h-1v-.5h-1v-.1h-1v.1h-1v.2h-1v-.2h-1v.4h-1v-.1h-1v-.5h-1v-.1h-1v.7h-1v-.4h-1v-.1h-1v.5h-1v-.3h-1v.2h-1v-.4h-1v.2h-1v-.4h-1v.6h-1v-.3h-1v.4h-1v-.6h-1v.1h-1v.4h-1v-.7h-1v.3h-1v.6h-1v.1h-1v-1h-1v.3h-1v.4h-1v-.3h-1v-.2h-1v.3h-1v-.3h-1v-.1h-1v1.1h-1v-.5h-1v.4h-1v-1h-1v-.1h-1v0h-1v.5h-1v-.5h-1v.5h-1v.8h-1v-.3h-1v-.5h-1v-.4h-1v.4h-1v-.4h-1v.6h-1v-.6h-1v.1h-1v.3h-1v-.2h-1v-.1h-1v.3h-1v-.4h-1v-.1h-1v1.3h-1v-1h-1v-.2h-1v.5h-1v.1h-1v-.6h-1v0h-1v.6h-1v.1h-1v-.2h-1v-.3h-1v.2h-1v.3h-1v-.4h-1v.3h-1v-.6h-1v-.1h-1v.9h-1v1.2h-1v-1.8h-1v.3h-1v-.5h-1v.2h-1v-.3h-1v0h-1v1.3h-1v-1h-1v.9h-1v0h-1v.6h-1v-1.7h-1v.3h-1v0h-1v.4h-1v-.3h-1v-.4h-1v.1h-1v.6h-1v.2h-1v-.9h-1v.4h-1zM231 846.8h2v.7h2v-1.1h2v1h2v0h2v.1h2v-.6h2v.6h2v-.1h2v-.6h2v-.8h2v1.3h2v-.4h2v0h2v.4h2v.1h2v-.4h2v-.8h2v.8h2v-.9h2v1h2v-.4h2v.4h2v.3h2v-.2h2v0h2v-.9h2v.7h2v.2h2v.1h2v-.1h2v-1.9h2v2h2v-.2h2v-.2h2v0h2v.4h2v-.4h2v.4h2v-.2h2v-.3h2v.4h2v-.1h2v.3h2v0h2v-.4h2v-1.1h2v1.6h2v-.9h2v-.3h2v-.3h2v1.1h2v-.1h2v.1h2v-.1h2v.1h2v-1h2v1.1h2v.1h2v-.2h2v.2h2v-.7h2v-.3h2v.2h2v.3h2v-.7h2v1h2v0h2v0h2v.2h2v-1.1h2v.3h2v.1h2v.5h2v.3h2v.1h2v-.4h2v0h2v-1h2v.4h2v.9h2v0h2v0h2v-.6h2v0h2v.6h2v-.5h2v.2h2v-.3h2v-.5h2v.8h2v.3h2v-.4h2v.5h2v-.3h2v-1.1h2v0h2v.8h2v.1h2v.5h2v-.2h2v-1h2v.3h2v0h2v0h2v.2h2v.3h2v-.5h2v.6h2v-.8h2v.8h2v-.5h2v.1h2v.6h2v0h2v-.5h2v.8h2v-.5h2v.2h2v-.4h2v.1h2v-.2h2v-.8h2v1.6h2v-.9h2v-.3h2v.1h2v1h2v-.4h2v.1h2v-.5h2v.4h2v.1h2v.6h2v-.8h2v-.2h2v1h2v-.8h2v.5h2v-.9h2v.8h2v-.3h2v.2h2v-.4h2v.3h2v.4h2v-.5h2v.4h2v-.1h2v-.2h2v.4h2v-.7h2v.4h2v.3h2v-.3h2v-.4h2v.9h2v-1.4h2v.6h2v-.2h2v.9h2v-1h2v1h2v.1h2v-.5h2v-.1h2v-.1h2v.4h2v-.3h2v.3h2v-.2h2v.1h2v-1.1h2v.8h2v0h2v.5h2v-1.3h2v1.4h2v0h2v-.3h2v.4h2v-.7h2v.1h2v.6h2v-.1h2v-.9h2v.7h2v0h2v.3h2v0h2v-.4h2v.4h2v-.6h2v.2h2v-.6h2v.1h2v.2h2v.5h2v-.3h2v.2h2v-.6h2v.6h2v0h2v.3h2v-.3h2v-.1h2v-.4h2v.8h2v-1.2h2v.9h2v-.4h2v.2h2v-.5h2v.6h2v.3h2v-.3h2v-.5h2v.8h2v0h2v.1h2v-.1h2v-1h2v.6h2v.5h2v-.3h2v.3h2v-.7h2v.2h2v-.4h2v.7h2v-.2h2v0h2v-1.4h2v1.2h2v-.5h2v.1h2v-.8h2v1h2v.8h2v-1h2v.6h2v-.1h2v-.1h2v.2h2v0h2v-.3h2v.6h2v-.3h2v.4h2v-.6h2v0h2v0h2v-.5h2v.8h2v.2h2v-.4h2v.5h2v-1.3h2v.1h2v.4h2v.3h2v.3h2v-1h2v.1h2v1.1h2v0h2v-.7h2v.7h2v-.8h2v.3h2v-.3h2v-.2h2v.1h2v.1h2v-.1h2v.3h2v.6h2v-.1h2v0h2v-.9h2v.9h2v-1.5h2v1.4h2v.1h2v-1.3h2v.9h2v-.3h2v-.2h2v.7h2v.2h2v-.2h2v-.1h2v-.3h2v-.6h2v1h2v-.3h2v.3h2v0h2v-1h2v.5h2v0h2v.3h2v.1h2v.1h2v-.9h2v.3h2v.8h2v0h2v-.1h2v-.1h2v-.4h2v-.5h2v1.1h2v0h2v-.6h2v.6h2v-.8h2v.6h2v-1.7h2v1.7h2v-.6h2v.4h2v0h2v-.1h2v.3h2v.2h2v-.2h2v-.5h2v-.6h2v-.3h2v1.1h2v.6h2v-.2h2v.2h2v-1.2h2v1.2h2v-.3h2v-.1h2v.2h2v-1.2h2v.9h2v.1h2v-.5h2v.3h2v0h2v.6h2v-.1h2v-1.3h2v1h2v.4h2v-.6h2v-.2h2v.8h2v-1.1h2v1h2v-.1h2v-1.2h2v.9h2v-.1h2v-.3h2v0h2v0h2v.1h2v.7h2v-.4h2v.1h2v-.1h2v.1h2v0h2v-.6h2v0h2v.9h2v-.2h2v-.7h2v.7h2v-.3h2v.6h2v-.3h2v-2.1h2v2.3h2v-.3h2v.2h2v-1.2h2v1.2h2v-.2h2v-.1h2v.5h2v-1.3h2v.5h2v.7h2v-.2h2v-1.3h2v1.4h2v-.4h2v.1h2v.1h2v-.1h2v-.2h2v.3h2v.3h2v-.6h2v-.4h2v-.8h2v1.8h2v-.3h2v-.5h2v.4h2v-.2h2v.4h2v-.5h2v.3h2v-.4h2v.6h2v-.1h2v.4h2v-.4h2v0h2v0h2v0h2v-.2h2v.2h2v.1h2v-.5h2v.7h2v-.7h2v.5h2v.2h2v-.1h2v-.9h2v.1h2v.4h2v0h2v-.4h2v1h2v-.6h2v-.3h2v.9h2v-1h2v1h2v-.4h2v.3h2v-.8h2v.2h2v.7h2v-.9h2v.2h2v.4h2v.3h2v-.3h2v-.1h2v.3h2v0h2v-1.1h2v1.2h2v-.9h2v-.5h2v.2h2v.7h2v.2h2v-.4h2v.5h2v0h2v-1.5h2v1.5h2v0h2v-.1h2v-.2h2v.4h2v0h2v0h2v-.5h2v.3h2v-.1h2v-.9h2v.2h2v-.2h2v.9h2v-.5h2v.9h2v-.1h2v.1h2v-.1h2v-.4h2v.4h2v-.1h2v-.4h2v.5h2v-.2h2v0h2v-.1h2v0h2v-.9h2v1.3h2v-.3h2v-.3h2v-.7h2v.4h2v.6h2v-.3h2v.1h2v.2h2v-.4h2v.6h2v0h2v-.2h2v-.9h2v-.2h2v1.3h2v-1.2h2v.9h2v-1h2v.2h2v.6h2v.4h2v-.8h2v.6h2v-.8h2v-.2h2v1.1h2v.3h2v-.1h2v-1.5h2v1.5h2v0h2v-1.2h2v.1h2v.8h2v-.3h2v.3h2v.4h2v-1h2v.9h2v-.1h2v-1h2v.9h2v-.2h2v.5h2v-.2h2v.2h2v-.2h2v0h2v.1h2v-1.9h2v1.3h2v-.5h2v.9h2v-.7h2v.4h2v.4h2v-.2h2v.3h2v.1h2v-.5h2v.3h2v-.3h2v-.5h2v1h2v-.6h2v-.6h2v.9h2v-.5h2v.8h2v-.4h2v-.1h2v-.1h2v.3h2v.3h2v-.3h2v-.4h2v.4h2v0h2v.3h2v-.7h2v-.8h2v.9h2v-.9h2v.2h2v-.3h2v1.2h2v.2h2v.1h2v-.2h2v-.1h2v-.2h2v-1.3h2v1.9h2v-.1h2v-.5h2v.4h2v-.2h2v.3h2v-1.2h2v.6h2v.6h2v-1h2v.7h2v.3h2v-.9h2v.7h2v0h2v-.7h2v.7h2v.1h2v-.4h2v-.2h2v-.3h2v.8h2v-.4h2v-.4h2v.7h2v-.3h2v.7h2v-1.3h2v1h2v.2h2v-.2h2v-1.1h2v.9h2v-.4h2v-.9h2v1.3h2v0h2v.2h2v0h2v-.5h2v.6h2v-.9h2v.4h2v.5h2v0h2v.2h2v-.1h2v-.7h2v.6h2v0h2v-1.3h2v1h2v.3h2v.2h2v-.1h2v.1h2v-.8h2v.4h2v.1h2v-.3h2v.4h2v-1.3h2v.9h2v-.5h2v0h2v.7h2v-.5h2v.9h2v-.6h2v.3h2v-.1h2v-1.1h2v1h2v.1h2v.1h2v.2h2v-.3h2v-.6h2v.3h2v.4h2v.1h2v-.1h2v-.6h2v.7h2v.1h2v-.1h2v-.1h2v.3h2v-1.2h2v-.1h2v1.1h2v-.5h2v-.2h2v.4h2v-.4h2v.4h2v-.4h2v.6h2v-.8h2v1h2v-.6h2v.1h2v.6h2v-.7h2v.5h2v-.4h2v.5h2v-1.6h2v.5h2v.7h2v0h2v.2h2v-.1h2v-.4h2v.7h2v-.9h2v.4h2v-.6h2v.6h2v-.2h2v.7h2v-1.1h2v1.1h2v.1h2v-.6h2v.3h2v0h2v-.2h2v.1h2v.2h2v.1h2v-.1h2v.2h2v-.5h2v-.6h2v-.1h2v1.2h2v-.3h2v0h2v.3h2v-.6h2v-.2h2v-.6h2v.9h2v-1h1v7.6h-1v1h-2v-.7h-2v-.2h-2v.5h-2v-.3h-2v-.1h-2v.2h-2v.4h-2v.5h-2v-.7h-2v-.3h-2v-.3h-2v1.3h-2v-1.3h-2v.7h-2v-.1h-2v.2h-2v-.7h-2v.5h-2v-.1h-2v.4h-2v-.5h-2v.9h-2v-1.3h-2v.4h-2v.5h-2v-.5h-2v.5h-2v.2h-2v-1.1h-2v.1h-2v0h-2v.5h-2v-.6h-2v.2h-2v-.2h-2v.1h-2v.5h-2v0h-2v-.5h-2v.4h-2v-.3h-2v.4h-2v-.4h-2v1h-2v-1.1h-2v1.2h-2v-.4h-2v-.2h-2v-.4h-2v.2h-2v.1h-2v0h-2v.8h-2v-.9h-2v-.4h-2v.5h-2v-.6h-2v0h-2v.4h-2v-.3h-2v.4h-2v.7h-2v-.5h-2v.8h-2v-1.1h-2v0h-2v0h-2v.5h-2v-.1h-2v.2h-2v-.6h-2v-.4h-2v.9h-2v-.7h-2v.5h-2v-.4h-2v-.3h-2v.3h-2v-.2h-2v1.1h-2v-.6h-2v-.1h-2v.7h-2v-1.2h-2v.8h-2v-.7h-2v-.1h-2v0h-2v.2h-2v.6h-2v-.7h-2v0h-2v.5h-2v.5h-2v-.8h-2v.5h-2v-.3h-2v-.3h-2v0h-2v.5h-2v.5h-2v-.3h-2v-.3h-2v-.4h-2v.2h-2v-.2h-2v.3h-2v-.5h-2v1.9h-2v-1.8h-2v0h-2v.9h-2v-1h-2v.2h-2v0h-2v-.1h-2v.7h-2v-.6h-2v.5h-2v.3h-2v-.2h-2v-.3h-2v0h-2v-.2h-2v.3h-2v1.1h-2v-1.2h-2v-.1h-2v.7h-2v-.7h-2v.3h-2v0h-2v-.5h-2v.7h-2v-.8h-2v.7h-2v-.5h-2v-.3h-2v.4h-2v.8h-2v.1h-2v-.9h-2v-.4h-2v.4h-2v.2h-2v-.1h-2v-.2h-2v-.1h-2v.6h-2v.3h-2v-.8h-2v.4h-2v-.5h-2v0h-2v.3h-2v-.1h-2v.9h-2v-1.1h-2v.5h-2v.2h-2v-.8h-2v.7h-2v-.5h-2v-.1h-2v.5h-2v.2h-2v.4h-2v-1.1h-2v0h-2v.2h-2v.2h-2v.1h-2v-.5h-2v-.1h-2v-.1h-2v.5h-2v-.2h-2v.1h-2v-.4h-2v.1h-2v.6h-2v.9h-2v-1.3h-2v.9h-2v-.4h-2v-.6h-2v.4h-2v.3h-2v-.9h-2v.5h-2v.2h-2v.6h-2v.6h-2v-1.4h-2v-.4h-2v1.3h-2v-.9h-2v-.3h-2v-.2h-2v.1h-2v.3h-2v.6h-2v-.8h-2v.4h-2v0h-2v-.4h-2v.4h-2v.3h-2v-.4h-2v.3h-2v-.3h-2v.9h-2v-.2h-2v-.8h-2v-.2h-2v0h-2v.3h-2v-.2h-2v0h-2v.2h-2v-.3h-2v-.2h-2v.7h-2v-.4h-2v.9h-2v-1h-2v.1h-2v-.1h-2v.4h-2v.3h-2v-.2h-2v-.5h-2v-.1h-2v.7h-2v.1h-2v.9h-2v-1.5h-2v.5h-2v-.2h-2v.6h-2v-.9h-2v.2h-2v.2h-2v-.4h-2v-.2h-2v.1h-2v.1h-2v-.3h-2v.3h-2v.3h-2v-.3h-2v.1h-2v-.4h-2v.5h-2v-.3h-2v1.2h-2v-1h-2v-.3h-2v.3h-2v.4h-2v.1h-2v-.7h-2v.2h-2v.4h-2v-.6h-2v.3h-2v.8h-2v-1.3h-2v0h-2v1h-2v-.5h-2v.5h-2v-.2h-2v-.2h-2v-.2h-2v0h-2v-.4h-2v.2h-2v.4h-2v.3h-2v-.8h-2v.1h-2v-.2h-2v1h-2v-.8h-2v1.5h-2v-1.4h-2v1.7h-2v-1.1h-2v0h-2v-.5h-2v.1h-2v.1h-2v.1h-2v-.1h-2v-.3h-2v-.3h-2v.1h-2v-.1h-2v.1h-2v.3h-2v-.3h-2v1.6h-2v-1.3h-2v1.2h-2v-1.4h-2v-.1h-2v.9h-2v-1h-2v0h-2v.8h-2v-.3h-2v.3h-2v.2h-2v-.9h-2v.4h-2v-.2h-2v.4h-2v0h-2v.4h-2v-1h-2v.1h-2v-.1h-2v-.1h-2v0h-2v.8h-2v-.4h-2v.3h-2v.2h-2v-.1h-2v-.5h-2v.9h-2v-.3h-2v-.3h-2v-.3h-2v.7h-2v-.2h-2v-.7h-2v.3h-2v-.4h-2v.4h-2v0h-2v.9h-2v-.9h-2v.3h-2v-.2h-2v-.3h-2v1.1h-2v-.3h-2v-.9h-2v.6h-2v-.3h-2v-.1h-2v.8h-2v.5h-2v-.3h-2v-.8h-2v.1h-2v-.3h-2v.5h-2v-.7h-2v.5h-2v-.2h-2v.6h-2v.4h-2v-.8h-2v0h-2v-.4h-2v.2h-2v.3h-2v.6h-2v-.8h-2v.4h-2v.6h-2v-1.3h-2v.3h-2v-.5h-2v1h-2v-.8h-2v-.1h-2v.3h-2v.1h-2v0h-2v-.2h-2v.3h-2v-.5h-2v.2h-2v-.3h-2v.1h-2v1.6h-2v-1.7h-2v.2h-2v.5h-2v-.7h-2v.5h-2v-.5h-2v.7h-2v-.4h-2v-.3h-2v.2h-2v0h-2v-.2h-2v.2h-2v.1h-2v.8h-2v-.6h-2v.6h-2v.1h-2v-.8h-2v.7h-2v-.6h-2v-.4h-2v0h-2v.4h-2v-.2h-2v.6h-2v-.7h-2v0h-2v.8h-2v-.9h-2v.1h-2v0h-2v.8h-2v-.7h-2v-.3h-2v1.4h-2v-1.2h-2v0h-2v1.2h-2v-.5h-2v-.6h-2v.7h-2v-.7h-2v-.3h-2v.3h-2v-.2h-2v0h-2v1h-2v-.7h-2v-.1h-2v-.1h-2v1.4h-2v-1.6h-2v1.5h-2v-1.5h-2v0h-2v.6h-2v-.5h-2v0h-2v-.1h-2v.4h-2v-.2h-2v.4h-2v.2h-2v.2h-2v-.1h-2v-.5h-2v1.9h-2v-1.7h-2v-.2h-2v-.2h-2v.2h-2v.6h-2v.3h-2v-1.1h-2v.9h-2v-.8h-2v-.3h-2v.2h-2v-.2h-2v.3h-2v.1h-2v1.5h-2v-1.8h-2v.9h-2v0h-2v-.9h-2v.4h-2v-.5h-2v0h-2v.6h-2v-.4h-2v.5h-2v-.3h-2v.3h-2v-.4h-2v.9h-2v-1.1h-2v.1h-2v-.2h-2v.7h-2v-.4h-2v-.2h-2v.6h-2v-.5h-2v1h-2v0h-2v-.6h-2v-.3h-2v-.1h-2v0h-2v.4h-2v-.5h-2v.1h-2v.1h-2v.5h-2v-.2h-2v.1h-2v-.6h-2v.6h-2v.5h-2v-.2h-2v-.3h-2v-.2h-2v1.3h-2v-.4h-2v0h-2v-1.2h-2v0h-2v-.1h-2v.1h-2v1.2h-2v-1.3h-2v-.1h-2v.7h-2v-.2h-2v-.4h-2v0h-2v0h-2v-.1h-2v.2h-2v.1h-2v-.3h-2v.6h-2v-.6h-2v.9h-2v-.9h-2v1.4h-2v-1.4h-2v.1h-2v0h-2v.1h-2v.2h-2v-.2h-2v.7h-2v-.9h-2v1.1h-2v-.5h-2v-.2h-2v-.2h-2v.4h-2v1.5h-2v-1.8h-2v.9h-2v-1.2h-2v1.8h-2v-1.5h-2v.1h-2v-.2h-2v.6h-2v-.4h-2v-.4h-2v.4h-2v.1h-2v-.1h-2v.7h-2v-.8h-2v.8h-2v-.6h-2v.1h-2v-.6h-2v1.1h-2v-.7h-2v-.4h-2v.3h-2v.9h-2v-1.1h-2v.7h-2v.1h-2v-.4h-2v.2h-2v-.3h-2v.1h-2v-.1h-2v.4h-2v-.6h-2v1h-2v-1.2h-2v.2h-2v.2h-2v-.4h-2v0h-2v.3h-2v.8h-2v-.5h-2v-.4h-2v.9h-2v.1h-2v-.4h-2v-.1h-2v-.1h-2v-.3h-2v-.2h-2v.3h-2v.6h-2v-.5h-2v-.3h-2v-.1h-2v1.5h-2v-1.3h-2v.8h-2v-1.1h-2v.4h-2v.2h-2v.4h-2v.1h-2v-.1h-2v-.1h-2v-.4h-2v.8h-2v-.8h-2v0h-2v0h-2v.2h-2v.5h-2v-.4h-2v-.4h-2v0h-2v1h-2v-.8h-2v.9h-2v.3h-2v-.4h-2v-.6h-2v0h-2v-.4h-2v.4h-2v0h-2v.9h-2v.3h-2v-1h-2v-.2h-2v.5h-2v-.3h-2v-.6h-2v.1h-2v.5h-2v.6h-2v.1h-2v-.8h-2v-.3h-2v-.1h-2v2.3h-2v-2.3h-2v1.2h-2v-1h-2v-.2h-2v0h-2v.5h-2v1.1h-2v-1.3h-2v.1h-2v0h-2v-.2h-2v-.2h-2v.8h-2v.2h-2v-.5h-2v-.5h-2v1.3h-2v-.4h-2v-.1h-2v.5h-2v-.3h-2v0h-2v-1h-2v.6h-2v.2h-2v.5h-2v-1.4h-2v.5h-2v-.5h-2v0h-2v.1h-2v.2h-2v-.3h-2v.2h-2v.1h-2v-.3h-2v.1h-2v.2h-2v-.3h-2v1h-2v-.6h-2v-.2h-2v-.2h-2v.3h-2v.1h-2v-.4h-2v.4h-2v-.1h-2v.4h-2v.4h-2v.7h-2v-.7h-2v-.9h-2v.2h-2v.8h-2v-.2h-2v-1h-2v.2h-2v-.1h-2v-.1h-2v.2h-2v.1h-2v.6h-2v-.4h-2v.8h-2v-.2h-2v-.3h-2v-.7h-2v.8h-2v-.4h-2v.9h-2v-1.4h-2v.2h-2v.3h-2v.1h-2zM231 965.4h2v.4h2v-.7h2v.4h2v.1h2v.1h2v-.5h2v-.7h2v1.2h2v-.3h2v-.2h2v.4h2v0h2v-.4h2v-.3h2v.6h2v.1h2v-.3h2v-.8h2v1.1h2v-.4h2v-.2h2v-.4h2v1.2h2v0h2v-.3h2v-.1h2v-.1h2v.2h2v.2h2v-.1h2v-.2h2v-.6h2v-.8h2v1h2v.2h2v.4h2v.2h2v-.8h2v.5h2v.1h2v.1h2v-.3h2v-.5h2v.7h2v-.4h2v.5h2v-.4h2v-.1h2v-.5h2v-.1h2v1.2h2v-.5h2v-.2h2v.7h2v-1.5h2v.6h2v-.7h2v1.5h2v-.2h2v-.8h2v.8h2v.1h2v.2h2v-1.5h2v.9h2v-.7h2v.9h2v0h2v-.5h2v.8h2v0h2v-1h2v.7h2v.4h2v-1h2v.7h2v-.9h2v1.1h2v-.1h2v-.2h2v.4h2v-.2h2v-.6h2v.7h2v-.7h2v.7h2v0h2v-.7h2v0h2v.8h2v-.4h2v.3h2v-.5h2v.6h2v-.1h2v-.1h2v-.4h2v.1h2v.5h2v-.3h2v-1.2h2v.3h2v.6h2v.3h2v-.3h2v.2h2v.4h2v-.9h2v.1h2v.9h2v-.5h2v-.4h2v.2h2v.4h2v-.4h2v.5h2v-.1h2v-.2h2v.3h2v.1h2v-1h2v-.6h2v1.2h2v-.2h2v-.1h2v.3h2v.3h2v-1.2h2v1.3h2v-.5h2v.3h2v.1h2v-.4h2v.5h2v-.8h2v-.1h2v.6h2v.2h2v0h2v-1.5h2v1.3h2v-.3h2v-.4h2v.6h2v-.4h2v.5h2v.3h2v-1.1h2v1.1h2v0h2v-.1h2v-.2h2v-.5h2v.3h2v.4h2v-.2h2v-.5h2v.1h2v.7h2v-.3h2v-.4h2v-.5h2v1.1h2v-.5h2v-.7h2v1.2h2v-.2h2v-.1h2v-.9h2v.8h2v.5h2v-.3h2v.2h2v0h2v-.1h2v.1h2v-.5h2v-.7h2v.6h2v.7h2v0h2v-.1h2v-.3h2v-.6h2v.7h2v0h2v-.5h2v.3h2v.5h2v-.2h2v-.3h2v-.7h2v1.2h2v-.5h2v.4h2v-1.4h2v.9h2v.1h2v-.4h2v.5h2v.2h2v-1.3h2v-.1h2v1.5h2v-.6h2v0h2v.5h2v-1.2h2v.7h2v.7h2v-.2h2v.2h2v-1h2v.6h2v-.1h2v.5h2v0h2v-.2h2v-.3h2v-.2h2v.7h2v-.3h2v.3h2v-.9h2v.2h2v.5h2v-.2h2v.1h2v.1h2v-.3h2v.5h2v.1h2v-1.5h2v.4h2v.9h2v-.9h2v1.1h2v-1.4h2v1.3h2v-2h2v1.5h2v.5h2v-.2h2v-.2h2v-1.4h2v1.6h2v-.2h2v.3h2v-.5h2v-.2h2v.1h2v-.2h2v.7h2v-.7h2v-.3h2v1.2h2v-.8h2v.7h2v-.4h2v-.3h2v-.1h2v.3h2v.1h2v-.9h2v.6h2v.8h2v-1.1h2v.1h2v.8h2v.2h2v0h2v-.3h2v.1h2v-.8h2v1h2v-.8h2v.4h2v-.6h2v.7h2v-1.1h2v.7h2v.7h2v-.3h2v-.5h2v-.3h2v1h2v-.8h2v-.2h2v.3h2v.2h2v.4h2v-1h2v.4h2v.6h2v-.6h2v.7h2v-.1h2v-.1h2v.3h2v-.1h2v0h2v.1h2v-.7h2v.8h2v-.4h2v.2h2v-1.3h2v1.5h2v-.8h2v.7h2v-.5h2v-.2h2v.6h2v.1h2v-.2h2v-.1h2v.3h2v0h2v-.4h2v-.8h2v1.2h2v-.9h2v.3h2v-.1h2v.6h2v-.3h2v.3h2v-.7h2v.2h2v.6h2v-.8h2v.5h2v-1.6h2v1.7h2v-.3h2v-.3h2v.5h2v.4h2v-.2h2v-.3h2v-.6h2v.4h2v.6h2v.1h2v-.9h2v0h2v.3h2v0h2v0h2v-.3h2v.7h2v.1h2v-.2h2v-.6h2v.5h2v.3h2v-.7h2v.2h2v.4h2v.2h2v-.1h2v-.1h2v-.2h2v.3h2v-.6h2v-.2h2v-.8h2v0h2v1.3h2v.3h2v-.2h2v-.8h2v.4h2v.6h2v-.4h2v.1h2v.3h2v-.1h2v-.7h2v.8h2v0h2v-.3h2v-.1h2v-.2h2v.5h2v-.1h2v-.3h2v-.5h2v1h2v0h2v-.9h2v.8h2v-.1h2v-.4h2v-.1h2v.2h2v.1h2v-.2h2v-.6h2v1.1h2v-.5h2v.2h2v.3h2v-1h2v.3h2v-.6h2v.8h2v.6h2v-.8h2v.8h2v-1.1h2v1h2v-.6h2v.1h2v0h2v.1h2v.5h2v-.2h2v0h2v.2h2v-.1h2v-.1h2v-.1h2v-.9h2v.9h2v.4h2v-1.1h2v.7h2v-1.1h2v1.4h2v-.4h2v-.1h2v.2h2v0h2v-.5h2v-.9h2v1.1h2v.2h2v.2h2v-.1h2v-.9h2v.9h2v-.4h2v-.1h2v.8h2v-.7h2v.7h2v0h2v-1.7h2v1.4h2v.2h2v-.6h2v-.1h2v.8h2v-.8h2v-.2h2v.8h2v-.8h2v.7h2v.3h2v-.2h2v-.8h2v.9h2v-.4h2v.2h2v-.2h2v-.2h2v0h2v.5h2v.2h2v-1.3h2v1.1h2v-.7h2v.9h2v-.5h2v.1h2v.5h2v-.3h2v-.8h2v.9h2v-1h2v1h2v-.1h2v0h2v-.2h2v-.6h2v.4h2v.1h2v-.1h2v-.2h2v.3h2v.3h2v-.6h2v-.1h2v.4h2v.1h2v-.4h2v.2h2v.4h2v-1.8h2v.6h2v1h2v.3h2v-.3h2v-.5h2v.9h2v-.4h2v.1h2v-.5h2v.8h2v-.1h2v.1h2v-.7h2v.2h2v.4h2v.1h2v-.5h2v.3h2v-.6h2v.6h2v.1h2v-.3h2v.2h2v-.5h2v.7h2v-.5h2v-.6h2v.3h2v.2h2v.4h2v-.7h2v.9h2v-.7h2v.4h2v-.2h2v.6h2v-.7h2v-.3h2v.2h2v.7h2v0h2v-.9h2v-.1h2v.5h2v.1h2v.3h2v-.1h2v-.1h2v-.5h2v.1h2v.3h2v0h2v0h2v-.3h2v0h2v.7h2v-.6h2v-.2h2v.3h2v.1h2v.2h2v.1h2v-.8h2v.5h2v-.1h2v.5h2v-1.5h2v.9h2v.5h2v-.6h2v.5h2v0h2v-.4h2v.4h2v-.7h2v.8h2v-1.2h2v.8h2v.1h2v-.9h2v-.5h2v1.3h2v0h2v.5h2v-1.3h2v1.4h2v-.5h2v-1.4h2v1.2h2v.3h2v.1h2v-.7h2v.2h2v.7h2v-.2h2v-1h2v.7h2v.3h2v-.3h2v.5h2v-.4h2v.2h2v.1h2v-.5h2v.6h2v0h2v-.8h2v.7h2v0h2v-.2h2v-.2h2v-.2h2v.6h2v0h2v-1h2v.2h2v.4h2v-.2h2v-.3h2v.7h2v-.6h2v.2h2v-.1h2v.5h2v-.2h2v.4h2v0h2v-.1h2v.2h2v0h2v-.9h2v1h2v-1.5h2v1.4h2v-.6h2v.3h2v-.8h2v.7h2v-1h2v1.2h2v-.5h2v-.4h2v.8h2v-.5h2v-.1h2v1h2v-.4h2v-1h2v.4h2v.9h2v-.9h2v0h2v-.8h2v1.4h2v-.8h2v.6h2v.1h2v.3h2v-.6h2v.5h2v-1.4h2v1.1h2v.5h2v-.1h2v0h2v-.6h2v-.5h2v1h2v.2h2v-.1h2v0h2v.1h2v-.2h2v-.6h2v.1h2v.7h2v-.1h2v-.1h2v-.7h2v-1h2v.9h2v.6h2v-.4h2v.2h2v-.3h2v1h2v-.7h2v.1h2v.4h2v-.1h2v-.3h2v.3h2v-.3h2v.1h2v-.5h2v-.3h2v1h2v-.6h2v.8h2v-.3h2v.2h2v0h2v-.3h2v-.2h2v.3h2v-.2h2v.1h2v.1h2v.2h2v-.5h2v.2h2v-.1h2v.2h2v-.5h2v.4h2v.1h2v-.5h2v.7h2v.1h2v-1.3h2v1h2v.2h2v.1h2v-.4h2v.4h2v0h2v-.7h2v.5h2v-.3h1v7.7h-1v-.8h-2v.2h-2v-.4h-2v-.1h-2v.7h-2v0h-2v.4h-2v.4h-2v-1.4h-2v.1h-2v0h-2v.8h-2v-.7h-2v.2h-2v-.1h-2v.4h-2v-.2h-2v-.2h-2v-.2h-2v.9h-2v-.8h-2v-.2h-2v.2h-2v-.2h-2v.3h-2v-.1h-2v1.7h-2v-1.9h-2v.2h-2v1h-2v.2h-2v-.1h-2v-.3h-2v-1h-2v1.3h-2v-.9h-2v-.1h-2v-.3h-2v1.1h-2v-.4h-2v-.5h-2v-.1h-2v-.1h-2v0h-2v.9h-2v-.8h-2v0h-2v-.2h-2v.1h-2v.1h-2v.2h-2v.9h-2v-1.2h-2v.9h-2v-.1h-2v-.8h-2v0h-2v1.5h-2v-1.3h-2v1h-2v-1.2h-2v.9h-2v-.1h-2v-.7h-2v-.1h-2v-.1h-2v1.1h-2v-.9h-2v1.1h-2v-.8h-2v-.4h-2v.3h-2v-.1h-2v.1h-2v-.1h-2v.5h-2v-.6h-2v.3h-2v0h-2v-.5h-2v.2h-2v.5h-2v-.5h-2v.3h-2v-.5h-2v1h-2v-.3h-2v-.5h-2v1.4h-2v-1.3h-2v-.3h-2v.1h-2v-.1h-2v.4h-2v.1h-2v-.4h-2v.2h-2v.9h-2v-.2h-2v-.4h-2v.4h-2v-.8h-2v1.2h-2v-1.2h-2v-.1h-2v1.4h-2v-1.2h-2v-.1h-2v0h-2v.3h-2v1.5h-2v-1.7h-2v0h-2v.5h-2v0h-2v-.6h-2v.3h-2v.4h-2v-.3h-2v-.6h-2v.9h-2v.9h-2v-1.7h-2v.3h-2v0h-2v.1h-2v.2h-2v-.4h-2v.2h-2v0h-2v.9h-2v-.1h-2v-1.1h-2v.4h-2v-.5h-2v-.1h-2v.8h-2v-.1h-2v-.5h-2v-.1h-2v.8h-2v-.2h-2v-.4h-2v1h-2v-.9h-2v.2h-2v.3h-2v-.8h-2v.1h-2v.1h-2v-.2h-2v.3h-2v.1h-2v-.4h-2v.2h-2v.2h-2v.1h-2v0h-2v-.3h-2v-.2h-2v.5h-2v.2h-2v-.7h-2v.7h-2v-.4h-2v.7h-2v-.7h-2v-.2h-2v.5h-2v-.6h-2v.1h-2v.1h-2v.2h-2v.1h-2v-.5h-2v.1h-2v1.2h-2v-1.3h-2v1.2h-2v-1.2h-2v-.1h-2v.2h-2v.2h-2v-.1h-2v0h-2v0h-2v-.3h-2v0h-2v1.2h-2v-1.1h-2v0h-2v.6h-2v0h-2v0h-2v-.3h-2v0h-2v-.3h-2v.3h-2v.7h-2v-.2h-2v-.7h-2v.2h-2v.4h-2v-.3h-2v-.5h-2v1.3h-2v-.8h-2v-.1h-2v0h-2v.4h-2v-.2h-2v-.1h-2v-.4h-2v0h-2v.5h-2v.3h-2v.5h-2v-.7h-2v-.6h-2v1h-2v-.1h-2v-.9h-2v.4h-2v.8h-2v-.5h-2v-.6h-2v.3h-2v-.2h-2v1h-2v-1h-2v.2h-2v0h-2v-.3h-2v.9h-2v-1.1h-2v.3h-2v.5h-2v-.8h-2v1.4h-2v-1h-2v0h-2v1.4h-2v-1.7h-2v.9h-2v-.5h-2v.1h-2v.2h-2v-.3h-2v-.1h-2v.8h-2v.2h-2v-1.1h-2v.3h-2v.1h-2v-.4h-2v.7h-2v-.8h-2v0h-2v-.2h-2v.6h-2v.6h-2v-.4h-2v-.6h-2v-.1h-2v.8h-2v-.1h-2v-.7h-2v1.4h-2v-1.5h-2v1h-2v-.4h-2v-.2h-2v.3h-2v-.7h-2v.1h-2v1.1h-2v.1h-2v-.8h-2v.2h-2v-.3h-2v.1h-2v.3h-2v.2h-2v-.5h-2v.4h-2v-.7h-2v-.1h-2v-.1h-2v1.5h-2v-1.1h-2v.4h-2v.4h-2v-.7h-2v-.3h-2v.2h-2v-.2h-2v.9h-2v-.7h-2v-.2h-2v1h-2v-.5h-2v-.5h-2v.1h-2v.7h-2v-1h-2v1.3h-2v.1h-2v-1.1h-2v1h-2v-1.2h-2v.9h-2v-.7h-2v-.3h-2v.6h-2v1.1h-2v-.1h-2v-1.4h-2v.1h-2v.5h-2v-.7h-2v.6h-2v-.5h-2v1.3h-2v-1.4h-2v.2h-2v.5h-2v.5h-2v-.6h-2v.2h-2v.8h-2v-.8h-2v-.6h-2v-.1h-2v0h-2v.1h-2v.3h-2v-.2h-2v-.4h-2v1.3h-2v-1.1h-2v.7h-2v-.1h-2v-.4h-2v-.3h-2v.2h-2v.4h-2v-.7h-2v1.1h-2v-1h-2v.6h-2v-.2h-2v0h-2v-.5h-2v.9h-2v-.4h-2v-.2h-2v.6h-2v-.1h-2v-.5h-2v.3h-2v.1h-2v.8h-2v-.8h-2v.8h-2v-.9h-2v-.3h-2v.4h-2v.3h-2v-.8h-2v.8h-2v-.9h-2v0h-2v.1h-2v.3h-2v-.4h-2v.2h-2v1h-2v-1h-2v.3h-2v-.1h-2v-.4h-2v.8h-2v-.1h-2v-.6h-2v.6h-2v0h-2v-.8h-2v.3h-2v.3h-2v-.4h-2v.4h-2v-.2h-2v-.3h-2v-.1h-2v.2h-2v-.1h-2v.4h-2v.4h-2v-.1h-2v.1h-2v-.8h-2v.1h-2v.5h-2v-.2h-2v-.5h-2v1.1h-2v-1h-2v.3h-2v.6h-2v-.3h-2v-.5h-2v-.1h-2v.6h-2v.4h-2v-.3h-2v.2h-2v-.1h-2v-.9h-2v.4h-2v.8h-2v.3h-2v-1.4h-2v.4h-2v.5h-2v-.8h-2v.1h-2v.1h-2v-.4h-2v.5h-2v.3h-2v-.2h-2v-.4h-2v1h-2v-.9h-2v.1h-2v-.3h-2v0h-2v.3h-2v.1h-2v.2h-2v-.2h-2v.6h-2v-1h-2v.2h-2v.1h-2v-.3h-2v0h-2v.5h-2v.4h-2v-.8h-2v-.1h-2v-.1h-2v.3h-2v-.3h-2v.5h-2v0h-2v-.2h-2v-.2h-2v.8h-2v-.5h-2v-.1h-2v-.2h-2v.3h-2v.2h-2v.2h-2v-.7h-2v.1h-2v1.4h-2v-.9h-2v-.1h-2v-.3h-2v.7h-2v1.1h-2v-1.8h-2v0h-2v.6h-2v-.9h-2v1h-2v-.9h-2v.6h-2v-.6h-2v.2h-2v-.2h-2v.5h-2v-.2h-2v-.1h-2v.6h-2v-.9h-2v1.4h-2v-1.3h-2v1.5h-2v-1.2h-2v-.3h-2v.4h-2v.2h-2v.7h-2v-.4h-2v-.4h-2v-.1h-2v.4h-2v.4h-2v-1.1h-2v.5h-2v.2h-2v-.5h-2v-.2h-2v0h-2v.1h-2v-.1h-2v.1h-2v.1h-2v-.2h-2v.1h-2v-.2h-2v.2h-2v-.1h-2v1h-2v-.7h-2v-.4h-2v0h-2v0h-2v.7h-2v-.3h-2v-.3h-2v.1h-2v1.1h-2v-.9h-2v.6h-2v-.8h-2v-.1h-2v.2h-2v.3h-2v-.7h-2v1.4h-2v-1.2h-2v.3h-2v-.4h-2v.2h-2v-.2h-2v0h-2v.3h-2v1.2h-2v-1.2h-2v0h-2v.8h-2v-.7h-2v0h-2v-.3h-2v-.1h-2v.2h-2v-.3h-2v.3h-2v-.2h-2v1h-2v-.6h-2v-.5h-2v0h-2v.5h-2v0h-2v.6h-2v-.7h-2v.7h-2v-.9h-2v.7h-2v-.8h-2v.8h-2v.4h-2v-.7h-2v-.2h-2v.8h-2v-.8h-2v1h-2v-.6h-2v-.6h-2v1h-2v-1.1h-2v.7h-2v-.2h-2v-.5h-2v.1h-2v.1h-2v0h-2v-.2h-2v0h-2v.4h-2v.5h-2v-.3h-2v0h-2v-.5h-2v.3h-2v-.3h-2v1.3h-2v-.3h-2v.8h-2v-.5h-2v-1.3h-2v-.2h-2v.2h-2v1.2h-2v-1.1h-2v.3h-2v.5h-2v-.4h-2v-.4h-2v0h-2v1.4h-2v-1.3h-2v-.2h-2v-.2h-2v.2h-2v.1h-2v-.2h-2v.3h-2v0h-2v-.1h-2v.2h-2v.7h-2v-1h-2v.6h-2v-.4h-2v.1h-2v-.2h-2v.1h-2v-.1h-2v-.3h-2v.5h-2v-.3h-2v.1h-2v-.1h-2v.4h-2v-.3h-2v-.3h-2v0h-2v1.1h-2v-.6h-2v1.1h-2v-1.4h-2v.3h-2v-.3h-2v-.2h-2v.6h-2v.6h-2v-1.1h-2v.8h-2v-.2h-2v-.3h-2v-.1h-2v0h-2v.1h-2v-.3h-2v.7h-2v-.7h-2v-.1h-2v.9h-2v-.8h-2v.4h-2v-.2h-2v.7h-2v.4h-2v-.8h-2v.8h-2v-1.1h-2v.8h-2v-1.1h-2v.4h-2v-.1h-2v-.1h-2v-.1h-2v.7h-2v-.8h-2v.3h-2v.9h-2v0h-2v-.8h-2v.2h-2v-.5h-2v.4h-2v.6h-2v.1h-2v-1.1h-2v.1h-2v.2h-2v-.4h-2v.4h-2v.4h-2v-.7h-2v.3h-2v1h-2v-1.1h-2v-.2h-2v.3h-2v.7h-2v-1h-2v.8h-2v-.9h-2v.1h-2v.5h-2v-.4h-2v-.2h-2v1h-2v-.7h-2v.1h-2v.1h-2v-.2h-2v-.2h-2v0h-2v0h-2v1.1h-2v-.7h-2v-.5h-2v.9h-2v-.7h-2v-.1h-2v.9h-2v-1h-2v.6h-2v.2h-2v-.7h-2v.6h-2v-.7h-2v.2h-2v1.1h-2v-1.1h-2v.1h-2v.3h-2v-.5h-2v.1h-2v0h-2v.3h-2z"/>
<path stroke="#0000ff" stroke-width="2" fill="none" d="M496.4 134V151M505.5 137V151M510.7 136V149M488 137V149M1319 138V153.7M1470 132V148M1476 134V149M1629.5 134V155.6M1688 137V151M593.7 372.5V385M892 604.8V621.7M910.8 601.2V620.8M1093 607V624M1403.8 599.8V624.2M1413.1 601V622.5M1415.8 598.3V615M1421.9 609V622M1427.9 609V621M1435.4 609V621M1440 599.4V621.7M1636 615V627M1657.5 608.5V615M1662 615V641M1671 602.5V621.5M1685.8 615V621.5M301.6 724V744M310 722.5V745.5M523.6 721.3V740M533 726V743.5M617.9 719.2V733M620.6 723V741.7M622 712.2V757.7M627.9 721.4V750.6M632.8 724.4V733M642 725V733M645.5 712.2V733M1568.4 726V733M1582.2 733V743M1584.6 733V743M1617.3 724.3V745.4M1640.9 733V747.2M1653.9 720.8V733M1688 724.7V754.9M260.6 840V856M553 843V856.8"/>
<path stroke="#0000ff" stroke-width="1.5" fill="none" d="M490 139V149.2M494.3 138.5V149.3M494.4 138V147.9M495.5 137.4V149.1M506.9 137.4V148.1M485.5 138.8V148.8M1473.3 137.5V150.1M1464.2 136.8V149.3M1461.9 136.4V148.6M1480.4 136.4V149.4M1470.7 138V148.5M1477.5 137.5V149.7M1468.3 137.8V148.6M1479.3 137.3V148.6M1638.1 138.1V148.8M1627.4 137V150.3M1625.5 135.9V150.1M1637.5 137.3V149.4M1626.4 137.8V150.6M1091.1 609.3V622.3M1092.4 608V622.1M1089.8 610.4V619.9M1089.1 608V619.6M1097.7 609.9V620.4M1427 610.3V620.1M1400 608.7V622.1M1426.7 608.6V619.9M1438.2 607.8V621.3M1421.4 609.2V621M1420 610.3V622.4M1440.4 608V622.4M1431.6 608.3V619.7M1425 610.5V621.3M1433.8 609.6V622.3M1407.6 608.7V622.3M1434.8 608.2V622.1M1424.4 610.3V619.7M1444.2 607.7V622.4M1651.7 610V619.6M1680 608.9V620.4M1641 610.6V620.8M1629.4 609V620.2M1664.5 610V619.4M1634.4 610.4V619.8M1675.4 608.8V620.9M1648.6 610.5V620.3M1658.7 610V621.2M1684 610V620.5M1671.4 609V621.1M1655.2 609.3V619.8M646.8 725.3V740.5M644.6 726.7V740.7M631.7 725.8V740.5M630.4 727.2V740.1M619.6 726.6V741.4M644.5 725.2V740.1M639.5 725.3V738.9M619.2 726.8V739.8M619.4 724.9V739M642.3 725.3V739.3"/>
<path fill="#008000" d="M231 169h1v-.1h1v.3h1v-.1h1v-.1h1v-1.2h1v1.4h1v-.4h1v0h1v.2h1v-.4h1v-1.2h1v1h1v.5h1v-.2h1v0h1v.5h1v-.4h1v.4h1v-.6h1v.6h1v-.4h1v.2h1v.2h1v-1.1h1v0h1v1h1v-.1h1v-.4h1v.2h1v.3h1v-.6h1v.2h1v.2h1v-.6h1v-.3h1v.8h1v-.3h1v.5h1v-.5h1v-.7h1v1.1h1v-.1h1v-.1h1v.4h1v.1h1v-.5h1v.2h1v-.1h1v.1h1v-.8h1v1h1v-.5h1v-.3h1v.7h1v-.3h1v-.2h1v.6h1v.1h1v-.3h1v-.4h1v.6h1v-1.3h1v.5h1v.8h1v-.3h1v.3h1v-.3h1v-.2h1v.3h1v-1h1v1.2h1v-.2h1v-.3h1v.6h1v-.6h1v-.5h1v1.1h1v-.2h1v.1h1v-.2h1v0h1v-.8h1v.5h1v0h1v.2h1v.2h1v-.2h1v0h1v.2h1v-.9h1v.7h1v.3h1v-1.1h1v1h1v-.4h1v.3h1v.2h1v0h1v0h1v-.3h1v-.2h1v-.1h1v.6h1v0h1v-.9h1v.8h1v-.1h1v.1h1v-.6h1v.4h1v-.1h1v-.1h1v.6h1v-1.2h1v1.1h1v-.2h1v-.3h1v.3h1v-.1h1v.3h1v-.3h1v.2h1v-1.2h1v.6h1v.8h1v-.4h1v0h1v.3h1v0h1v-.3h1v-.1h1v.3h1v-.1h1v-.4h1v.7h1v-.4h1v.1h1v.1h1v-.9h1v-.6h1v.5h1v0h1v1.1h1v0h1v-.2h1v.2h1v-.1h1v-.3h1v-.3h1v-.9h1v1.5h1v.1h1v-.3h1v.3h1v-.9h1v-.3h1v.5h1v.6h1v0h1v0h1v.1h1v-.4h1v.4h1v-.2h1v-.1h1v.2h1v-.9h1v.5h1v.6h1v-.3h1v-.2h1v-.2h1v-.9h1v1.2h1v.3h1v-.5h1v-.7h1v1h1v.1h1v0h1v.1h1v-.2h1v0h1v.2h1v0h1v-.4h1v-.4h1v.2h1v.5h1v-.4h1v.5h1v-.8h1v.5h1v.1h1v-.2h1v.2h1v.1h1v-.7h1v.4h1v.1h1v0h1v-.7h1v1.1h1v-.4h1v-.1h1v.1h1v0h1v-.1h1v-.3h1v.7h1v-.8h1v-.2h1v.5h1v-.4h1v.5h1v-.6h1v.8h1v.3h1v0h1v-.2h1v-.3h1v-.5h1v.2h1v0h1v.4h1v.2h1v-.2h1v0h1v-.2h1v.3h1v.2h1v-.1h1v-.5h1v-.4h1v.7h1v-.3h1v.5h1v.1h1v-.2h1v-.1h1v0h1v-.1h1v.1h1v-.4h1v-.2h1v.7h1v.2h1v0h1v-1.1h1v1.1h1v-.2h1v-.3h1v.6h1v-.2h1v0h1v.1h1v-.2h1v-.4h1v-.4h1v.7h1v.1h1v-.4h1v-.1h1v.6h1v-.1h1v0h1v0h1v-.1h1v.3h1v0h1v-.3h1v-.5h1v.1h1v.3h1v-.1h1v.4h1v-.6h1v.6h1v.2h1v-.8h1v.4h1v0h1v.3h1v-.8h1v-.4h1v.7h1v.2h1v.3h1v-.1h1v.2h1v-.4h1v.4h1v-.4h1v.3h1v-.2h1v-.1h1v-.3h1v.7h1v-.3h1v0h1v.3h1v-.8h1v.4h1v-.1h1v.2h1v.1h1v-.2h1v-.2h1v-.4h1v.9h1v-.1h1v-1.1h1v.9h1v-.1h1v-.4h1v-.4h1v.6h1v.5h1v-.1h1v.2h1v0h1v0h1v.1h1v-1.2h1v.7h1v-.4h1v-.1h1v.2h1v.7h1v-.7h1v-.1h1v.7h1v-.3h1v-.2h1v.6h1v-.8h1v.9h1v-.4h1v.1h1v-.8h1v.9h1v0h1v0h1v-.9h1v.2h1v.9h1v-.4h1v-.2h1v.5h1v-.5h1v.5h1v-.7h1v.6h1v0h1v-.1h1v-.2h1v.5h1v-1.1h1v.5h1v.2h1v0h1v.2h1v.1h1v0h1v.1h1v-.4h1v-.5h1v.8h1v-1.8h1v1.8h1v-1.2h1v1.2h1v-.2h1v-.8h1v1.1h1v-.2h1v-.1h1v.1h1v0h1v0h1v.1h1v-.2h1v-.4h1v.6h1v-.1h1v-.1h1v-.2h1v-.4h1v.7h1v.1h1v-.4h1v.1h1v.3h1v-1h1v.8h1v.2h1v-.4h1v.5h1v-.6h1v.5h1v0h1v-.7h1v.7h1v-.1h1v0h1v-.4h1v-.4h1v.1h1v.3h1v0h2v0h2v.5h2v.1h2v-1.8h2v1.6h2v.8h2v-.5h2v-.3h2v.5h2v-.5h2v.4h2v.2h2v-.6h2v.1h2v-.1h2v.4h2v-1.4h2v1.6h2v0h2v-1h2v.8h2v0h2v-.1h2v.4h2v-1.3h2v.2h2v1.1h2v-.4h2v.3h2v-.4h2v.6h2v-.7h2v.2h2v0h2v.3h2v-.5h2v.3h2v.1h2v-.3h2v-.3h2v.1h2v.1h2v.6h2v-.7h2v-.7h2v.4h2v-.1h2v.8h2v-.8h2v.2h2v-.2h2v.5h2v0h2v-.1h2v.1h2v.3h2v0h2v-.3h2v-.5h2v.8h2v.1h2v-.2h2v0h2v.2h2v-.2h2v-.3h2v.7h2v-.3h2v.1h2v.1h2v-.7h2v.1h2v-.8h2v.9h2v.6h2v-.2h2v.1h2v-1h2v.4h2v-.5h2v1h2v0h2v0h2v-.8h2v-.3h2v.8h2v.1h2v.3h2v.1h2v-.5h2v.4h2v.2h2v-1.3h2v0h2v.5h2v.4h2v-.3h2v.4h2v-.4h2v.2h2v-.3h2v.5h2v.2h2v-.4h2v0h2v0h2v-1.8h2v2.2h2v-.4h2v-.5h2v.3h2v.2h2v-1.3h2v1.6h2v-1h2v.7h2v.4h2v-2h2v1.8h2v0h2v-.5h2v.4h2v-.7h2v-.5h2v.7h2v.1h2v-.4h2v.2h2v.5h2v.2h2v.1h2v-.2h2v.4h2v-1.7h2v1.7h2v-.2h2v.1h2v0h2v-.5h2v.2h2v.1h2v.2h2v.1h2v-.2h2v-1.3h2v.9h2v.3h2v-.1h2v0h2v.1h2v.1h2v-.2h2v-.1h2v.3h2v-.4h2v-.6h2v.3h2v.9h2v-1h2v-.2h2v.3h2v.9h2v-.6h2v-.3h2v.7h2v0h2v-.1h2v.1h2v-.9h2v.5h2v.5h2v-.8h2v.8h2v-.1h2v-.2h2v-.7h2v.6h2v-.1h2v.2h2v.1h2v.2h2v-.4h2v-.5h2v-.1h2v.6h2v.5h2v-1.3h2v1.2h2v-.9h2v.1h2v0h2v.2h2v.2h2v.1h2v-.4h2v.6h2v-.5h2v-.7h2v.8h2v.5h2v-.7h2v.2h2v-.6h2v1h2v-.1h2v0h2v-1.5h2v1.2h2v.1h2v.1h2v.4h2v-.2h2v-.5h2v-.9h1v.2h1v-.9h1v.5h1v0h1v-.1h1v-.5h1v.7h1v-.5h1v-.7h1v.5h1v.8h1v-.7h1v.8h1v.1h1v-.4h1v.2h1v.2h1v-.1h1v-2.2h1v.7h1v1.2h1v.2h1v0h1v-.4h1v-.4h1v-.4h1v1.2h1v-.9h1v-.5h1v2.1h1v-.4h2v.5h2v.4h2v-1.5h2v.9h2v0h2v.1h2v.3h2v.5h2v0h2v-1.4h2v1.4h2v-.9h2v.5h2v.2h2v-.4h2v.6h2v-.1h2v-.3h2v-.2h2v.5h2v0h2v.1h2v.1h2v-.2h2v.1h2v-.2h2v-.7h2v.7h2v-1.2h2v1.1h2v.4h2v-.3h2v.2h2v-.3h2v0h2v.1h2v-.5h2v.7h2v-.1h2v-.1h2v-1.8h2v2.1h2v-.4h2v-.1h2v.2h2v-.4h2v-.5h2v.4h2v-.1h2v.8h2v-.1h2v-.3h2v.5h2v-.7h2v.4h2v.2h2v-.1h2v0h2v-.1h2v0h2v-.8h2v.9h2v-1.2h2v1.1h2v-.4h2v.5h2v-.2h2v.3h2v-.3h2v-.7h2v.9h2v-.1h2v0h2v.2h2v-.1h2v0h2v-.2h2v.2h2v-.1h2v0h2v0h2v-.4h2v.2h2v-.3h2v.1h2v.3h2v-.7h2v.8h2v-.1h2v.1h2v0h2v.2h2v-.6h2v.4h2v-.5h2v.5h2v.2h2v0h2v-.1h2v-1.1h2v.8h2v.1h2v-.3h2v.4h2v.1h2v-.8h2v.8h2v-1.5h2v1.2h2v.3h2v-.3h2v.2h2v0h2v.1h2v.1h2v-.4h2v.3h2v-.8h2v.9h2v-.8h2v.4h2v.4h2v-1.3h2v1.1h2v-.1h2v-.3h2v.5h2v.1h2v-1h2v1h2v-.4h2v.4h2v-.2h2v.1h2v-.7h2v.4h2v-.7h2v1h2v-1.4h2v1.4h2v-.7h2v.9h2v-.1h2v.1h2v-.6h2v.1h2v0h2v-.6h2v1h2v-1.1h2v.9h2v.2h2v-.4h2v-.4h2v.6h2v-.7h2v0h2v.9h2v0h2v-.7h2v.6h2v-.6h2v.5h2v-.7h2v-.7h2v.9h2v.5h2v.1h2v.1h2v-.4h2v.5h2v-.4h2v-1.2h2v1.5h2v.1h2v-.2h2v-.1h2v-.1h2v-.7h2v1h2v0h2v-1.3h2v.7h2v.3h2v-.1h2v.3h2v.2h2v-.7h2v-.7h2v.7h2v.3h2v.2h2v-1.7h2v1.6h2v0h2v-.4h2v.6h2v-.3h2v-.2h2v.3h2v-.7h2v.5h2v.4h2v-.6h2v-1h2v1.3h2v.3h2v-.2h2v-.2h2v.4h2v-.2h2v-.2h2v-1.1h2v.5h2v-.5h2v1.2h2v.4h2v-.3h2v.2h2v-.4h2v-1h2v1.1h2v-.6h2v-.1h2v.6h2v.2h2v-.1h2v.4h2v-.3h2v.1h2v-.2h2v-.2h2v-.2h2v-.7h2v1.3h2v-.5h2v.4h2v-.2h2v.2h2v-.4h2v-.5h2v.5h2v.7h2v-.1h2v-.4h2v.1h2v-.9h2v.4h2v.8h2v-.3h2v-.2h2v-.1h2v-.8h2v1h2v.2h2v.2h2v0h2v-.6h2v.5h2v.1h2v-.5h2v-.1h2v.7h2v-.6h2v.6h2v-1.5h2v-.2h2v1.2h2v.4h2v0h2v-.1h2v-1.3h2v1.2h2v.3h2v-2h2v1.7h2v-.1h2v.4h2v-.1h2v-1.2h2v.4h2v0h2v-.4h2v-.3h2v1.4h2v-.2h2v.4h2v-.1h2v.1h2v-1.7h2v.6h2v-.2h2v.2h2v.9h2v6.9h-2v-.5h-2v.8h-2v-.8h-2v1.5h-2v-1.5h-2v.3h-2v-.4h-2v.5h-2v-.2h-2v.5h-2v.1h-2v-.1h-2v-.4h-2v-.2h-2v-.1h-2v.3h-2v-.2h-2v-.2h-2v.9h-2v-.4h-2v.1h-2v.2h-2v-.2h-2v-.5h-2v.3h-2v-.2h-2v.2h-2v.7h-2v-.3h-2v.3h-2v-1.1h-2v.7h-2v.8h-2v-1.1h-2v-.2h-2v.2h-2v.2h-2v-.1h-2v.4h-2v-.2h-2v.2h-2v-.5h-2v-.4h-2v.2h-2v.4h-2v.5h-2v.1h-2v-1h-2v.7h-2v-.9h-2v.2h-2v1h-2v-.9h-2v-.2h-2v.7h-2v-.9h-2v1.3h-2v-1h-2v.6h-2v.3h-2v-.8h-2v.1h-2v-.3h-2v1h-2v-.8h-2v-.2h-2v-.2h-2v1.1h-2v-1h-2v.6h-2v-.2h-2v-.1h-2v.9h-2v-.9h-2v-.1h-2v.4h-2v.2h-2v1.2h-2v-.8h-2v0h-2v-1.3h-2v.5h-2v-.4h-2v.3h-2v.3h-2v.2h-2v-.7h-2v-.1h-2v.8h-2v-.7h-2v0h-2v-.1h-2v0h-2v.1h-2v0h-2v.2h-2v0h-2v-.3h-2v.3h-2v.5h-2v-.8h-2v.4h-2v-.4h-2v.2h-2v-.1h-2v0h-2v.2h-2v-.2h-2v0h-2v.4h-2v-.3h-2v.7h-2v.5h-2v-1.3h-2v-.1h-2v.2h-2v-.3h-2v.5h-2v0h-2v-.1h-2v-.1h-2v-.3h-2v.1h-2v.2h-2v.9h-2v-.9h-2v-.1h-2v0h-2v.5h-2v.1h-2v-.1h-2v-.4h-2v.2h-2v-.3h-2v.7h-2v-.7h-2v-.1h-2v1.1h-2v-.7h-2v.4h-2v.3h-2v-.8h-2v-.3h-2v.9h-2v-.7h-2v.2h-2v-.3h-2v-.2h-2v.5h-2v0h-2v-.5h-2v1h-2v0h-2v-.8h-2v.2h-2v1h-2v-.4h-2v-.7h-2v-.3h-2v1h-2v-.3h-2v0h-2v-.1h-2v-.3h-2v.8h-2v-.8h-2v-.1h-2v1.3h-2v-1.5h-2v.6h-2v.6h-2v-1h-2v.3h-2v-.1h-2v-.1h-2v1.1h-2v-.9h-2v.5h-2v-.9h-2v1.2h-2v-.5h-2v.7h-2v0h-2v-1.4h-2v.8h-2v-.5h-2v.4h-2v-.6h-2v.1h-2v0h-2v-.3h-2v.3h-2v-.1h-2v-.1h-2v.3h-2v.4h-2v.5h-2v-1.2h-2v.9h-2v.9h-2v-.4h-2v-.7h-2v-.6h-2v.3h-2v-.2h-2v.6h-2v0h-2v-.1h-2v-.3h-2v-.2h-2v-.1h-2v.9h-2v-.8h-2v-.3h-2v1.2h-2v-1.1h-2v1h-2v.1h-2v-.2h-2v.2h-2v-1.1h-2v.3h-2v-.3h-2v.1h-2v-.1h-2v.8h-2v.4h-2v-1.1h-2v0h-2v.7h-2v-.7h-2v.7h-2v.6h-2v-1.3h-2v.1h-2v.2h-2v.1h-2v-.4h-2v.6h-2v-.3h-2v0h-2v-.4h-2v2.1h-2v-1.2h-2v-.5h-2v-.2h-2v-.1h-2v.1h-2v.3h-2v.2h-2v0h-2v.5h-2v-1.2h-2v0h-2v.2h-2v.3h-2v-.1h-2v-.3h-2v0h-2v.9h-2v-.1h-2v-.9h-2v.4h-2v-.3h-2v.5h-2v-.5h-2v.7h-2v.5h-2v-1h-2v-.4h-2v.5h-2v-.4h-2v.2h-2v.2h-2v-.4h-2v.6h-2v.4h-2v-.6h-2v-.2h-2v.6h-2v-.6h-2v.2h-2v-.4h-2v.7h-2v-.6h-2v.5h-2v1.1h-2v-1.5h-2v.1h-2v1h-2v-1.3h-2v.1h-2v.5h-2v.3h-2v.4h-1v.4h-1v.9h-1v-.9h-1v.7h-1v-.1h-1v-.6h-1v-.3h-1v.4h-1v.3h-1v-.6h-1v.7h-1v-.6h-1v.3h-1v-.3h-1v1h-1v-1.2h-1v.6h-1v-.6h-1v1h-1v-.2h-1v-.6h-1v-.2h-1v.1h-1v.3h-1v.6h-1v-.5h-1v-.1h-1v.8h-1v-.4h-1v-.9h-1v-1.2h-2v.3h-2v-.5h-2v.1h-2v.8h-2v-.7h-2v-.1h-2v.3h-2v-.3h-2v-.1h-2v.3h-2v.2h-2v-.3h-2v.1h-2v-.2h-2v.3h-2v.5h-2v-.5h-2v.1h-2v.1h-2v-.4h-2v0h-2v0h-2v.7h-2v-.6h-2v-.1h-2v.3h-2v.2h-2v-.3h-2v-.2h-2v0h-2v.3h-2v-.1h-2v-.2h-2v.3h-2v-.4h-2v1.6h-2v-1.4h-2v.8h-2v-1h-2v.5h-2v0h-2v.6h-2v.6h-2v-1.1h-2v-.5h-2v1.3h-2v-1.1h-2v.1h-2v.7h-2v-1h-2v0h-2v1.3h-2v-.2h-2v-.2h-2v-.7h-2v-.1h-2v-.1h-2v.4h-2v-.2h-2v-.3h-2v1.1h-2v-1.2h-2v.1h-2v.4h-2v1.4h-2v-1.7h-2v-.1h-2v.5h-2v-.5h-2v1.6h-2v-1.6h-2v.7h-2v.5h-2v-1.2h-2v.4h-2v.1h-2v.1h-2v-.5h-2v0h-2v.3h-2v-.3h-2v.8h-2v-.8h-2v1h-2v-1.1h-2v.5h-2v-.2h-2v.3h-2v.2h-2v.4h-2v-.3h-2v-.9h-2v.1h-2v1.9h-2v-1.2h-2v.3h-2v-.1h-2v-.6h-2v-.2h-2v.9h-2v-1h-2v.9h-2v-1h-2v1.7h-2v-1.5h-2v.4h-2v-.6h-2v.3h-2v-.2h-2v.9h-2v-.9h-2v-.1h-2v.1h-2v-.1h-2v1h-2v-.7h-2v1h-2v-.8h-2v-.5h-2v.2h-2v-.1h-2v.8h-2v.1h-2v-.8h-2v-.2h-2v0h-2v.7h-2v1h-2v-.9h-2v0h-2v-.1h-2v-.5h-2v-.1h-2v.4h-2v-.1h-2v1h-2v.3h-2v-1.6h-2v0h-2v.5h-2v.2h-2v-.4h-2v.2h-2v-.4h-2v.3h-2v.1h-2v-.4h-2v.2h-2v-.3h-2v.8h-2v0h-2v-.7h-2v.5h-2v-.3h-2v-.3h-2v1.2h-2v-1.3h-2v.6h-2v.4h-2v-.1h-2v-.7h-2v.3h-2v-.1h-2v.3h-2v-.5h-2v.7h-2v-.3h-2v1h-2v-1.1h-2v-.4h-2v.4h-2v-.5h-2v1.2h-2v.8h-2v-1.6h-2v-.1h-2v1.6h-2v-.1h-2v-1.5h-2v.1h-2v0h-2v0h-2v-.2h-2v1.1h-2v-.9h-2v.3h-2v-.7h-2v.3h-2v.1h-2v-.1h-2v.3h-2v-.3h-2v-.3h-2v.3h-2v-.1h-2v-.2h-2v1.3h-2v-.2h-2v.1h-2v.2h-2v-.6h-2v-.6h-2v.4h-2v-.3h-2v.2h-2v-.1h-2v.3h-2v.1h-2v.5h-2v-.1h-2v-1.2h-2v.6h-2v.5h-2v-.4h-1v0h-1v.9h-1v-.7h-1v-.1h-1v-.2h-1v-.1h-1v.3h-1v-.2h-1v.8h-1v-.4h-1v-.4h-1v.3h-1v-.2h-1v-.2h-1v.4h-1v.1h-1v-.2h-1v.1h-1v0h-1v.3h-1v-.4h-1v-.1h-1v.1h-1v.4h-1v-.4h-1v0h-1v.3h-1v-.6h-1v.6h-1v.1h-1v-.6h-1v.5h-1v-.2h-1v.5h-1v-.8h-1v.1h-1v0h-1v1.2h-1v-.2h-1v-1h-1v-.1h-1v.2h-1v-.1h-1v.7h-1v-.5h-1v-.1h-1v.9h-1v-.3h-1v.1h-1v-.6h-1v-.3h-1v0h-1v.4h-1v-.5h-1v.2h-1v.9h-1v-.8h-1v.4h-1v-.2h-1v0h-1v-.2h-1v.2h-1v.9h-1v-1.1h-1v.7h-1v-.5h-1v.4h-1v-.3h-1v-.5h-1v.9h-1v-.8h-1v.1h-1v.5h-1v-.7h-1v.8h-1v-.7h-1v.8h-1v-.8h-1v.1h-1v1.2h-1v-1.4h-1v.3h-1v-.2h-1v.3h-1v.4h-1v-.5h-1v.1h-1v-.1h-1v-.1h-1v-.1h-1v.2h-1v.1h-1v-.1h-1v0h-1v.3h-1v-.5h-1v.8h-1v-.9h-1v.1h-1v-.2h-1v.4h-1v.5h-1v-.4h-1v-.4h-1v.8h-1v-.8h-1v0h-1v1h-1v-.7h-1v0h-1v0h-1v.1h-1v-.4h-1v-.1h-1v.7h-1v-.5h-1v.1h-1v-.2h-1v.3h-1v-.4h-1v.2h-1v0h-1v.3h-1v.4h-1v-.9h-1v.8h-1v.8h-1v-1.5h-1v.3h-1v.6h-1v0h-1v-.7h-1v1.2h-1v-1.3h-1v-.1h-1v.3h-1v-.2h-1v.2h-1v.2h-1v-.5h-1v1h-1v-.7h-1v1h-1v-.8h-1v-.3h-1v.1h-1v-.2h-1v.4h-1v.3h-1v-.8h-1v.2h-1v-.1h-1v.8h-1v-.2h-1v.1h-1v-.1h-1v.2h-1v-.9h-1v.4h-1v-.5h-1v.1h-1v.2h-1v2.1h-1v-2.2h-1v0h-1v-.1h-1v.8h-1v-.4h-1v-.4h-1v0h-1v.7h-1v-.6h-1v1.6h-1v-.5h-1v-.5h-1v.3h-1v-.8h-1v-.2h-1v0h-1v.4h-1v-.3h-1v-.1h-1v.2h-1v.7h-1v-.9h-1v.4h-1v-.4h-1v.6h-1v-.2h-1v-.1h-1v-.1h-1v-.1h-1v-.1h-1v.4h-1v-.1h-1v0h-1v.3h-1v-.2h-1v-.2h-1v.6h-1v-.6h-1v1.2h-1v-1h-1v1.3h-1v-1h-1v-.5h-1v-.1h-1v.4h-1v.5h-1v-.7h-1v0h-1v-.1h-1v.8h-1v-.3h-1v-.6h-1v1.4h-1v-1.4h-1v.5h-1v-.6h-1v.4h-1v.3h-1v-.3h-1v-.4h-1v.2h-1v-.3h-1v.2h-1v.1h-1v.1h-1v.1h-1v.4h-1v-.8h-1v.8h-1v-.3h-1v.5h-1v-.8h-1v.1h-1v-.2h-1v.2h-1v1h-1v-.5h-1v.2h-1v-.8h-1v-.2h-1v.4h-1v.1h-1v1h-1v-1.5h-1v.6h-1v-.1h-1v.7h-1v-.9h-1v-.3h-1v.1h-1v.3h-1v0h-1v-.4h-1v.3h-1v-.3h-1v1.6h-1v-1.4h-1v-.2h-1v.3h-1v-.1h-1v.1h-1v0h-1v.1h-1v-.1h-1v-.2h-1v.4h-1v-.5h-1v0h-1v.9h-1v-.6h-1v-.3h-1v-.1h-1v.5h-1v-.4h-1v.5h-1v-.1h-1v-.2h-1v-.1h-1v.4h-1v-.2h-1v-.1h-1v-.1h-1v.2h-1v1.1h-1v-1.2h-1v.3h-1v.4h-1v-.7h-1v-.2h-1v.1h-1v.6h-1v-.6h-1v1.4h-1v-1.1h-1v.7h-1v-1h-1v-.1h-1v.6h-1v-.4h-1v.1h-1v1.4h-1v-1.8h-1v.9h-1v-.5h-1v-.2h-1v-.2h-1v.4h-1v-.1h-1v.7h-1v-.6h-1v-.2h-1v.3h-1v-.2h-1v.2h-1v-.2h-1v-.2h-1v.3h-1v.8h-1v-.6h-1v-.2h-1v1h-1v.1h-1v-1.4h-1v.1h-1v0h-1v-.1h-1v.4h-1v-.4h-1v.2h-1v-.2h-1v.7h-1v-.6h-1v.3h-1v-.3h-1v.1h-1v-.2h-1v.5h-1v-.2h-1v0h-1v.4h-1v-.8h-1v.1h-1v.2h-1v.4h-1v.1h-1v-.5h-1v.7h-1v.7h-1v-1.5h-1v0h-1v1h-1v-.3h-1v-.6h-1v-.2h-1v.3h-1v-.1h-1v.4h-1v-.5h-1v.4h-1v-.2h-1v-.3h-1v.5h-1v-.4h-1v.9h-1v-1h-1v0h-1v.2h-1v.3h-1v-.2h-1v-.2h-1v.1h-1v-.1h-1v.1h-1v-.1h-1v.4h-1v.3h-1v-.6h-1v0h-1v1.2h-1v-1.3h-1v0h-1v.3h-1v-.1h-1v.2h-1v-.3h-1v-.1h-1v.2h-1v.5h-1v-.4h-1v-.4h-1v0h-1v.3h-1v.1h-1v0h-1v.1h-1v-.4h-1v-.1h-1v.1h-1v.3h-1v-.1h-1v-.2h-1v.8h-1v-.6h-1v-.3h-1v.3h-1v.7h-1zM231 287.7h2v-.4h2v.2h2v0h2v-.9h2v.6h2v-.9h2v.9h2v-.1h2v-.3h2v.1h2v.1h2v.2h2v.2h2v-1h2v1.3h2v-.2h2v0h2v-1.1h2v1.3h2v-1.1h2v.7h2v-.7h2v.9h2v.2h2v-.5h2v.3h2v-.5h2v.3h2v.3h2v0h2v-.5h2v.3h2v.3h2v0h2v-.4h2v0h2v-.1h2v.5h2v-.2h2v-.1h2v.2h2v-.1h2v.2h2v-.9h2v.2h2v.6h2v.1h2v-.1h2v-.1h2v-.4h2v.3h2v-.8h2v.7h2v.3h2v-.5h2v.4h2v-.2h2v.3h2v-.1h2v.2h2v-.8h2v.6h2v-.1h2v0h2v.1h2v-.9h2v-.2h2v.5h2v.4h2v-.3h2v.4h2v.1h2v-.3h2v0h2v.1h2v.2h2v-1.2h2v1.1h2v-1.1h2v.9h2v-.5h2v.8h2v-.1h2v-1.5h2v1.3h2v.1h2v0h2v.1h2v-.1h2v-.1h2v0h2v.1h2v.2h2v-1h2v0h2v.6h2v.6h2v-.3h2v-.1h2v.4h2v-.5h2v-.1h2v0h2v.6h2v0h2v-1.2h2v.2h2v.2h2v0h2v.8h2v-.3h2v-.3h2v.6h2v-.9h2v.6h2v-.2h2v.3h2v-.2h2v.4h2v-.6h2v.1h2v.1h2v.2h2v-.4h2v.1h2v-.1h2v.2h2v-.5h2v-.3h2v1.1h2v-1.4h2v1.2h2v.3h2v-.2h2v-.1h2v-.6h2v.8h2v-.3h2v.3h2v.1h2v0h2v-.3h2v-.7h2v.1h2v-1h2v1.1h2v.2h2v.4h2v.2h2v-1.3h2v0h2v1.3h2v-.2h2v.1h2v-.7h2v.7h2v0h2v.1h2v-.4h2v.1h2v.1h2v-1.3h2v.4h2v1.1h2v0h2v-.7h2v0h2v.6h2v0h2v-1.1h2v.2h2v-.5h2v1.5h2v-.5h2v-.5h2v.1h2v.5h2v.2h2v.2h2v-.5h2v0h2v-.3h2v.7h2v-.5h2v.5h2v-.4h2v-.7h2v.1h2v.8h2v.3h2v-.9h2v.9h2v-.4h2v.4h2v-.5h2v-.5h2v.6h2v-1.5h2v1.6h2v.1h2v0h2v.2h2v-.5h2v.2h2v-.1h2v-.8h2v.7h2v.3h2v-1.2h2v.9h2v0h2v.1h2v-.1h2v.5h2v-.2h2v-.3h2v.4h2v-.4h2v.2h2v.2h2v-1h2v0h2v.7h2v.3h2v-.4h2v.5h2v-.2h2v-.9h2v.6h2v.3h2v-1.1h2v1.1h2v-.6h2v-.4h2v0h2v0h2v.9h2v0h2v-.8h2v.9h2v.2h2v-.6h2v.6h2v-.8h2v.2h2v.5h2v-.4h2v.4h2v-.7h2v.8h2v-.1h2v-.1h2v-.4h2v.5h2v.1h2v0h2v0h2v-.2h2v-.1h2v-.6h2v0h2v.4h2v.3h2v-.2h2v-.9h2v1h2v.2h2v-1.2h2v.7h2v.2h2v.3h2v-.2h2v-.5h2v.3h2v-.7h2v.2h2v.6h2v.3h2v-.8h2v.3h2v-.2h2v.8h2v-.7h2v.7h2v-.7h2v.4h2v.2h2v-.2h2v-.4h2v-.8h2v1h2v-.3h2v.8h2v-1h2v.3h2v.5h2v-.9h2v1.1h2v-.3h2v-.7h2v.7h2v0h2v.3h2v-.1h2v-.1h2v-.2h2v-.3h2v-.5h2v.2h2v-.4h2v.7h2v.3h2v.1h2v-.2h2v.2h2v-1.1h2v1h2v-.3h2v.5h2v-.1h2v0h2v.3h2v0h2v-.3h2v-.2h2v.1h2v-.8h2v.8h2v-.3h2v.7h2v-1.1h2v-.2h2v1.2h2v-.2h2v-.7h2v.2h2v.4h2v-.3h2v.4h2v.3h2v-.1h2v-.6h2v.2h2v.4h2v-.1h2v.1h2v-1.6h2v.8h2v.8h2v-1.4h2v1.1h2v-.1h2v-.2h2v.6h2v-.1h2v-1.3h2v1.1h2v.3h2v-.1h2v-.5h2v.5h2v-1.3h2v.7h2v-.8h2v1.5h2v-.3h2v-.2h2v-.4h2v.1h2v.4h2v.2h2v-.4h2v.4h2v.2h2v0h2v-.2h2v.2h2v-.2h2v.3h2v-.3h2v.1h2v-.1h2v.2h2v-.5h2v.5h2v-.1h2v-.5h2v.3h2v.4h2v-.8h2v.4h2v-1.1h2v.4h2v.2h2v.7h2v-.3h2v.3h2v-.7h2v.2h2v-.6h2v.9h2v-.4h2v-.1h2v0h2v-.4h2v.4h2v.3h2v.6h2v-.3h2v-.1h2v-1h2v1.3h2v0h2v0h2v-.4h2v.1h2v.1h2v-.9h2v1h2v-.8h2v.9h2v-.8h2v.5h2v-.1h2v.4h2v-.1h2v-.2h2v-.1h2v.4h2v-.3h2v-.5h2v.3h2v-.5h2v-.4h2v.4h2v.3h2v.4h2v.2h2v-.5h2v.3h2v-.5h2v.7h2v.1h2v-.4h2v-.5h2v.6h2v-.7h2v.8h2v-.1h2v-.5h2v.4h2v.3h2v-.5h2v.6h2v-1h2v1h2v-.1h2v-1.6h2v.5h2v.7h2v-.2h2v.2h2v-.8h2v.7h2v.7h2v-.5h2v-.7h2v-.6h2v1.3h2v-1.4h2v.1h2v1.8h2v-.3h2v-.2h2v.4h2v-.6h2v.4h2v-.4h2v.3h2v-1.1h2v1.2h2v-.7h2v.8h2v-1.1h2v1.3h2v-.4h2v-.3h2v.4h2v0h2v-.2h2v.2h2v-.6h2v-.1h2v-.1h2v.5h2v-.2h2v.1h2v.3h2v0h2v0h2v0h2v-.2h2v.6h2v-.4h2v-.1h2v.2h2v.1h2v-.5h2v-.2h2v.7h2v-.1h2v.1h2v-.4h2v.4h2v-.4h2v-.1h2v.1h2v-.5h2v0h2v.8h2v-1h2v-.3h2v1.1h2v.3h2v-.1h2v0h2v0h2v.2h2v0h2v-.7h2v.8h2v-.2h2v-1.2h2v1h2v-.6h2v1h2v-.6h2v.4h2v.1h2v-.3h2v-.8h2v.3h2v0h2v.9h2v0h2v-.1h2v0h2v.1h2v-.3h2v.2h2v-.2h2v0h2v-.5h2v.3h2v.4h2v-.1h2v.2h2v0h2v-.6h2v.5h2v-.3h2v-1h2v.3h2v1.1h2v-.9h2v.1h2v.5h2v.2h2v-.1h2v-.3h2v.4h2v-.4h2v.3h2v.2h2v-.1h2v-.3h2v-.1h2v.1h2v.3h2v-1.4h2v.7h2v.4h2v-.6h2v.6h2v0h2v.2h2v0h2v-.1h2v-.1h2v-1.7h2v1.8h2v-.7h2v.3h2v-.1h2v.3h2v-.7h2v.1h2v.5h2v.5h2v-.2h2v.1h2v-.5h2v.6h2v-.7h2v.1h2v.3h2v.4h2v-.1h2v-.4h2v.5h2v0h2v-.3h2v-.8h2v-.3h2v1.2h2v.1h2v0h2v-.1h2v0h2v-.1h2v-.6h2v.9h2v-.6h2v-1.1h2v1.6h2v.1h2v-.5h2v-.5h2v.2h2v.8h2v-1.2h2v.3h2v.6h2v-.2h2v-.3h2v.1h2v.3h2v-.8h2v-.1h2v1.1h2v.2h2v-.7h2v0h2v.2h2v-1.5h2v1.7h2v-1h2v.6h2v.7h2v-.3h2v.2h2v-.8h2v-.7h2v1.4h2v0h2v.1h2v-.7h2v.8h2v0h2v-1.5h2v1.4h2v-.9h2v-.1h2v.5h2v.1h2v-.1h2v.2h2v-.2h2v.6h2v-1h2v.9h2v0h2v-1.3h2v1.4h2v-.6h2v.6h2v-.5h2v.1h2v-.1h2v.1h2v-.3h2v.7h2v-.8h2v-.6h2v.7h2v.6h2v-.4h2v.5h2v0h2v-.6h2v-.3h2v.8h2v0h2v-.3h2v.3h2v-.2h2v.1h2v.2h2v-1h2v.4h2v0h2v.2h2v-.1h2v.5h2v-.2h2v-.4h2v.3h2v-.2h2v-.6h2v.8h2v-1h2v1h2v-.1h2v-.3h2v-.1h2v.3h2v-.1h2v.4h2v-.2h2v0h2v.4h2v-.9h2v.2h2v.2h2v.1h2v.4h2v-1.6h2v.1h2v.7h1v7.4h-1v-.3h-2v1h-2v-.4h-2v-.7h-2v-.1h-2v.1h-2v.2h-2v-.3h-2v.1h-2v.9h-2v-.9h-2v-.1h-2v1.6h-2v-.7h-2v-.4h-2v-.2h-2v.1h-2v-.3h-2v-.1h-2v.4h-2v.7h-2v-.8h-2v.1h-2v-.4h-2v.2h-2v.3h-2v-.2h-2v.1h-2v-.2h-2v.7h-2v0h-2v-.9h-2v1h-2v.3h-2v-.6h-2v-.7h-2v.3h-2v-.1h-2v.1h-2v.1h-2v0h-2v-.2h-2v.1h-2v.6h-2v-.6h-2v1.2h-2v-1.3h-2v-.2h-2v.2h-2v-.1h-2v-.1h-2v1.2h-2v-1.1h-2v0h-2v.8h-2v0h-2v.3h-2v.1h-2v0h-2v-.9h-2v-.3h-2v.4h-2v-.3h-2v.7h-2v.2h-2v-.9h-2v0h-2v.7h-2v-.8h-2v.2h-2v.4h-2v.9h-2v-1.3h-2v-.2h-2v1h-2v0h-2v-.8h-2v.4h-2v-.2h-2v-.3h-2v-.2h-2v.1h-2v.8h-2v-.9h-2v.6h-2v-.3h-2v.1h-2v1.3h-2v-1.6h-2v-.1h-2v.1h-2v.4h-2v-.5h-2v0h-2v.2h-2v.5h-2v-.5h-2v.4h-2v.4h-2v-.6h-2v-.3h-2v.3h-2v-.1h-2v.5h-2v-.1h-2v.2h-2v-.8h-2v.7h-2v-.3h-2v-.3h-2v-.2h-2v.1h-2v.6h-2v-.2h-2v.7h-2v-1.2h-2v1.1h-2v-1.1h-2v.5h-2v.3h-2v-.7h-2v-.1h-2v.3h-2v0h-2v.2h-2v.7h-2v-.3h-2v-.6h-2v.8h-2v-.6h-2v-.4h-2v.8h-2v-.6h-2v.3h-2v.9h-2v-.9h-2v1h-2v-1.5h-2v.4h-2v.3h-2v-.5h-2v0h-2v.8h-2v0h-2v-1.1h-2v.5h-2v-.5h-2v1h-2v.2h-2v-.8h-2v-.4h-2v.1h-2v.6h-2v-.5h-2v1.3h-2v-1.1h-2v-.1h-2v-.2h-2v.9h-2v.1h-2v-1.1h-2v.6h-2v.3h-2v-.3h-2v-.6h-2v.8h-2v-.7h-2v.3h-2v-.1h-2v.6h-2v-.2h-2v-.7h-2v0h-2v1.5h-2v-1.2h-2v0h-2v-.2h-2v.8h-2v-.7h-2v0h-2v.9h-2v-.1h-2v-.8h-2v-.2h-2v.1h-2v.2h-2v.8h-2v-.7h-2v0h-2v.4h-2v-.8h-2v.8h-2v-.2h-2v-.3h-2v.3h-2v-.6h-2v.8h-2v.9h-2v-1.2h-2v-.4h-2v1.4h-2v-1.5h-2v.4h-2v-.3h-2v0h-2v.4h-2v-.2h-2v.3h-2v-.6h-2v.4h-2v.5h-2v-.8h-2v-.1h-2v1h-2v-.3h-2v-.7h-2v.1h-2v.3h-2v-.3h-2v-.1h-2v.4h-2v-.2h-2v.2h-2v-.4h-2v.2h-2v.1h-2v.3h-2v1.4h-2v-.3h-2v-.6h-2v-.5h-2v-.3h-2v.5h-2v-.1h-2v-.6h-2v.9h-2v-.1h-2v-.6h-2v.3h-2v.5h-2v-1h-2v.3h-2v.8h-2v-1.2h-2v0h-2v.4h-2v.9h-2v-1.3h-2v.7h-2v-.6h-2v.2h-2v.1h-2v1.5h-2v-1.9h-2v2.1h-2v-1.8h-2v-.1h-2v.1h-2v-.2h-2v.6h-2v-.5h-2v.4h-2v.5h-2v-.9h-2v.2h-2v.3h-2v-.3h-2v-.4h-2v1.3h-2v-.4h-2v-.4h-2v-.4h-2v-.1h-2v0h-2v0h-2v0h-2v.1h-2v.5h-2v-.5h-2v.6h-2v0h-2v-.5h-2v0h-2v.1h-2v-.1h-2v.9h-2v-.1h-2v-.7h-2v.1h-2v-.3h-2v.9h-2v-.9h-2v.1h-2v.3h-2v-.4h-2v0h-2v-.1h-2v.7h-2v.6h-2v-.8h-2v.4h-2v-.9h-2v.6h-2v.3h-2v-.6h-2v-.1h-2v.9h-2v.3h-2v-.3h-2v-1.1h-2v.4h-2v.9h-2v-.3h-2v-.4h-2v.2h-2v.1h-2v-.7h-2v-.1h-2v.6h-2v.9h-2v-1.1h-2v0h-2v-.3h-2v-.1h-2v.4h-2v-.3h-2v.2h-2v.9h-2v0h-2v-.3h-2v-.9h-2v.6h-2v.7h-2v-1h-2v-.4h-2v0h-2v.8h-2v-.7h-2v0h-2v0h-2v.2h-2v1h-2v-.8h-2v.4h-2v-.1h-2v-.5h-2v.8h-2v-.1h-2v-1h-2v1.5h-2v-.1h-2v-1.3h-2v.8h-2v-.1h-2v-.7h-2v.1h-2v-.2h-2v1.3h-2v.2h-2v-1.4h-2v.5h-2v-.1h-2v0h-2v-.1h-2v.3h-2v-.5h-2v.2h-2v-.2h-2v.5h-2v-.5h-2v.1h-2v.2h-2v-.2h-2v.2h-2v-.3h-2v.4h-2v-.5h-2v0h-2v1.6h-2v-1h-2v-.4h-2v0h-2v-.1h-2v.5h-2v-.6h-2v-.1h-2v.1h-2v.4h-2v.4h-2v-.2h-2v-.2h-2v-.1h-2v.4h-2v-.8h-2v.2h-2v.7h-2v-.6h-2v.2h-2v.6h-2v-1.1h-2v1.3h-2v-.7h-2v-.1h-2v1.4h-2v-1.7h-2v0h-2v1.9h-2v-2h-2v0h-2v.2h-2v1h-2v-.8h-2v-.5h-2v.3h-2v-.2h-2v0h-2v.4h-2v1h-2v-.3h-2v-.2h-2v-.7h-2v.1h-2v1.1h-2v-.4h-2v-.9h-2v1h-2v-.9h-2v1.3h-2v-1.6h-2v.5h-2v.8h-2v-.4h-2v-.9h-2v.1h-2v1h-2v-.5h-2v-.6h-2v0h-2v0h-2v1.3h-2v-1.3h-2v.1h-2v.2h-2v.3h-2v-.5h-2v0h-2v.3h-2v-.1h-2v-.2h-2v.6h-2v-.7h-2v0h-2v.2h-2v0h-2v.2h-2v-.1h-2v.6h-2v-.8h-2v.9h-2v-.6h-2v.2h-2v-.1h-2v-.4h-2v0h-2v.1h-2v.7h-2v-.5h-2v-.1h-2v-.2h-2v.9h-2v-.5h-2v.6h-2v-1h-2v.6h-2v-.1h-2v.1h-2v-.3h-2v-.4h-2v1h-2v-.6h-2v.2h-2v-.2h-2v-.4h-2v.8h-2v-.5h-2v-.2h-2v1.3h-2v-1.4h-2v.4h-2v-.4h-2v.2h-2v-.1h-2v.6h-2v0h-2v.4h-2v-.4h-2v-.7h-2v.7h-2v-.6h-2v.4h-2v-.1h-2v.2h-2v0h-2v.4h-2v-.8h-2v-.2h-2v.2h-2v.7h-2v-.9h-2v.5h-2v0h-2v0h-2v1.2h-2v-1.5h-2v-.1h-2v1.1h-2v-.8h-2v-.3h-2v.1h-2v.8h-2v-.9h-2v.2h-2v.8h-2v-.3h-2v-.7h-2v.2h-2v.3h-2v-.6h-2v.5h-2v-.5h-2v.2h-2v.9h-2v-.7h-2v0h-2v.6h-2v.4h-2v-1.1h-2v.1h-2v.8h-2v-1.1h-2v.4h-2v-.2h-2v.5h-2v-.4h-2v.9h-2v-1.3h-2v.1h-2v2.1h-2v-2h-2v0h-2v0h-2v.2h-2v.7h-2v-.9h-2v.1h-2v.4h-2v-.5h-2v.6h-2v-.4h-2v-.2h-2v.2h-2v-.3h-2v.1h-2v-.1h-2v.3h-2v-.2h-2v.5h-2v-.5h-2v.3h-2v1h-2v-.8h-2v-.1h-2v-.1h-2v-.4h-2v.2h-2v-.3h-2v.4h-2v.6h-2v-1h-2v1.1h-2v-.8h-2v0h-2v.4h-2v-.6h-2v0h-2v.4h-2v1.4h-2v-1.4h-2v-.4h-2v0h-2v.1h-2v0h-2v-.1h-2v.9h-2v-.6h-2v.2h-2v.5h-2v-.2h-2v-.5h-2v-.4h-2v.5h-2v-.3h-2v-.2h-2v1.3h-2v-.7h-2v-.1h-2v-.1h-2v.2h-2v-.6h-2v.2h-2v.9h-2v-.9h-2v.5h-2v-.5h-2v-.2h-2v.3h-2v.3h-2v-.4h-2v-.1h-2v1h-2v-1h-2v.6h-2v0h-2v-.6h-2v.2h-2v-.3h-2v1h-2v-.8h-2v.2h-2v-.1h-2v.4h-2v-.6h-2v1.6h-2v-1.3h-2v.7h-2v-.5h-2v.5h-2v-.8h-2v1h-2v-.3h-2v-.7h-2v.4h-2v-.6h-2v0h-2v.6h-2v-.4h-2v.1h-2v-.1h-2v.7h-2v-1h-2v.1h-2v1.3h-2v-1.1h-2v.7h-2v-.8h-2v-.1h-2v1h-2v-.4h-2v.3h-2v-1h-2v.3h-2v1h-2v-.8h-2v-.5h-2v.7h-2v-.7h-2v.7h-2v-.4h-2v.7h-2v-.1h-2v.3h-2v-1.2h-2v1.4h-2v-1.2h-2v.2h-2v-.3h-2v.3h-2v.1h-2v-.2h-2v.8h-2v-1.1h-2v.7h-2v-.4h-2v.5h-2v-.6h-2v.1h-2v.8h-2v-.7h-2v-.4h-2v.5h-2v0h-2v-.2h-2v.9h-2v-.3h-2v-.2h-2v-.3h-2v0h-2v.9h-2v-.2h-2v-.1h-2v-.5h-2v-.4h-2v.5h-2v-.1h-2v-.2h-2v.6h-2v-.7h-2v.2h-2v-.2h-2v-.2h-2v.7h-2v-.6h-2v1.3h-2v-1.2h-2v.3h-2v1.4h-2v-1.6h-2v-.1h-2v1.7h-2v-1.2h-2v.8h-2v-.8h-2v-.2h-2v-.5h-2v.7h-2v-.6h-2v0h-2v.3h-2v-.1h-2zM231 405.5h2v-1.1h2v.6h2v.3h2v0h2v-1h2v1h2v-.3h2v.3h2v0h2v-.1h2v-.6h2v0h2v.9h2v0h2v-1.2h2v.1h2v-.7h2v1.4h2v-.4h2v0h2v.7h2v-.8h2v.8h2v-.5h2v.7h2v-.3h2v.4h2v-.3h2v-.3h2v-.1h2v.7h2v-.3h2v-.7h2v.7h2v-1.7h2v1.7h2v-.9h2v-.5h2v1.6h2v-.7h2v0h2v.4h2v-.4h2v-.1h2v-.1h2v.5h2v.2h2v.1h2v-.4h2v.1h2v-.1h2v.1h2v.1h2v.3h2v-.2h2v-.6h2v-.5h2v.7h2v.7h2v-1.5h2v1h2v0h2v-.1h2v.3h2v-.6h2v.3h2v.4h2v-.9h2v-.5h2v1.6h2v-1.2h2v.3h2v.2h2v.2h2v-.3h2v.1h2v.6h2v0h2v-.1h2v-.2h2v-1h2v.7h2v-.6h2v1.1h2v-.4h2v.5h2v-.6h2v.5h2v0h2v-.5h2v-.4h2v.3h2v-.3h2v.8h2v.3h2v-1h2v.6h2v-1.1h2v1.4h2v-1.1h2v.3h2v.7h2v-1.1h2v1.2h2v-1.1h2v-.1h2v.5h2v.6h2v-.3h2v.3h2v-.3h2v-.8h2v.7h2v-.7h2v.1h2v.9h2v-.1h2v0h2v.3h2v-.4h2v.1h2v-.8h2v1h2v-.1h2v-.5h2v0h2v-1.7h2v2.3h2v0h2v-.3h2v.4h2v0h2v-1.1h2v.9h2v-.6h2v.3h2v-.4h2v.9h2v-1.1h2v0h2v.8h2v-.4h2v.3h2v-.3h2v.3h2v.2h2v.2h2v-1.1h2v.8h2v-.2h2v0h2v.2h2v-.2h2v.5h2v-.7h2v.4h2v-.8h2v.9h2v-.5h2v.5h2v-.4h2v.3h2v0h2v.1h2v-.5h2v-.5h2v1.2h2v-.1h2v-.3h2v-.1h2v-.9h2v1h2v.3h2v-1h2v1h2v-.2h2v-.6h2v.9h2v-.3h2v-.5h2v.8h2v-.4h2v-.1h2v.3h2v.2h2v-.3h2v-.6h2v.8h2v-1.5h2v1.3h2v-.6h2v.6h2v-.3h2v0h2v.3h2v-.3h2v-.5h2v.6h2v.1h2v.2h2v.2h2v-.6h2v.5h2v-.2h2v-.3h2v-.9h2v.8h2v-.2h2v-.2h2v.5h2v.6h2v-.5h2v.4h2v.1h2v-.1h2v-.1h2v-.2h2v.4h2v-1.3h2v1.2h2v-1h2v1.1h2v-1.5h2v1.3h2v.1h2v-.4h2v-.1h2v0h2v-.5h2v1.1h2v-.5h2v.4h2v-.7h2v0h2v.6h2v-.4h2v.4h2v-1.2h2v.6h2v.6h2v.1h2v-.2h2v-1.7h2v2h2v-.7h2v-.8h2v1.4h2v-.7h2v.6h2v-.1h2v.2h2v-1.5h2v1.6h2v-.4h2v.2h2v-.3h2v.2h2v.3h2v-1h2v1h2v-.2h2v.2h2v-.8h2v.5h2v-1.1h2v1.3h2v-.1h2v-.5h2v.7h2v.1h2v-.1h2v-.5h2v.4h2v0h2v-.5h2v.6h2v-.3h2v.1h2v.1h2v-.1h2v-1.1h2v.3h2v-.1h2v.6h2v-.5h2v1.1h2v-.5h2v0h2v.4h2v-.1h2v.1h2v-1.3h2v1.3h2v.1h2v-.5h2v.3h2v.1h2v0h2v-.3h2v.3h2v-1.6h2v1.3h2v-1.1h2v.5h2v-.1h2v.2h2v-.4h2v.9h2v-.7h2v1.1h2v-.7h2v.2h2v.3h2v-.9h2v.4h2v.6h2v-.4h2v.4h2v-.3h2v-.6h2v-.5h2v1.1h2v-.8h2v.8h2v-.3h2v-.1h2v.1h2v.6h2v-1.2h2v.8h2v.2h2v-1.4h2v1.2h2v-.3h2v.6h2v.1h2v-.8h2v.3h2v0h2v-.8h2v1.3h2v-.4h2v-.8h2v1.1h2v-.2h2v.1h2v-.3h2v.1h2v-.8h2v.1h2v.2h2v.9h2v-.3h2v-.2h2v-.4h2v.7h2v-.4h2v-.1h2v-.6h2v.7h2v.5h2v-.3h2v.3h2v-.4h2v.5h2v-.5h2v-.2h2v.5h2v0h2v0h2v-.9h2v1.1h2v-.2h2v.1h2v-.3h2v.4h2v-1.1h2v1.1h2v-.3h2v-.3h2v-.6h2v1.2h2v-.2h2v-.9h2v1h2v-.6h2v-.1h2v.8h2v-.2h2v-1.3h2v1.1h2v-1h2v.9h2v-.2h2v-.1h2v.4h2v.2h2v0h2v-.6h2v.6h2v.2h2v-.4h2v.1h2v0h2v.2h2v-1.1h2v1.2h2v0h2v-1h2v.8h2v-.1h2v.3h2v-.7h2v-.2h2v.9h2v-.2h2v.2h2v-.9h2v.9h2v-.1h2v-.3h2v-.6h2v.7h2v-.8h2v-.7h2v1h2v.7h2v0h2v-1.1h2v-.2h2v.3h2v.9h2v.2h2v0h2v-1.9h2v1.6h2v.1h2v-1h2v1h2v-.2h2v.4h2v-1.2h2v.9h2v.4h2v-1h2v-.2h2v.5h2v-.3h2v.2h2v.1h2v.5h2v-.1h2v-.2h2v-.8h2v1h2v-.7h2v.8h2v-.4h2v.4h2v-.7h2v.5h2v.3h2v-.9h2v.6h2v.3h2v0h2v0h2v-1h2v-.5h2v1.3h2v-.2h2v-1h2v.9h2v0h2v.6h2v-.3h2v.2h2v-.9h2v-.1h2v.6h2v.3h2v-.6h2v.3h2v.1h2v-.4h2v-.3h2v.6h2v.4h2v-1.2h2v1.2h2v-1h2v-.1h2v.3h2v.6h2v0h2v-.6h2v0h2v.5h2v-.2h2v-.6h2v-.3h2v.6h2v.6h2v.1h2v-.5h2v.4h2v-.2h2v-.5h2v.4h2v.1h2v-.1h2v.5h2v-.4h2v-1.5h2v1.5h2v-.1h2v.2h2v-.1h2v-.3h2v-.7h2v.4h2v.7h2v.2h2v0h2v-.6h2v.3h2v-.1h2v.5h2v-.3h2v-.8h2v.2h2v0h2v.2h2v-1h2v1h2v0h2v.7h2v-.1h2v-1.5h2v-.2h2v1.7h2v0h2v.2h2v-1.3h2v1.2h2v-.2h2v-1.2h2v1.1h2v.1h2v.2h2v.1h2v-1.2h2v.1h2v.9h2v-.4h2v.5h2v-.3h2v.2h2v-.7h2v.8h2v-.5h2v-.7h2v1.3h2v-.2h2v-.3h2v-.8h2v1.2h2v-.5h2v0h2v.3h2v-.2h2v-.2h2v-.1h2v.4h2v-.4h2v-.3h2v.5h2v.6h2v-2.5h2v2.3h2v-.5h2v.6h2v-.2h2v.2h2v0h2v-.2h2v-.9h2v.2h2v.2h2v.3h2v.1h2v0h2v-.4h2v.7h2v-1h2v.3h2v-.5h2v1.2h2v-.9h2v-.3h2v.8h2v.1h2v-.7h2v0h2v.9h2v-.6h2v.6h2v-.3h2v.4h2v-.8h2v-.1h2v.9h2v-.7h2v.7h2v-1.3h2v1.3h2v0h2v-.6h2v.6h2v-.1h2v-.1h2v-1.7h2v1.8h2v-1.2h2v.4h2v-.1h2v.8h2v-.2h2v0h2v.3h2v.1h2v-.5h2v0h2v0h2v.4h2v-.1h2v-.8h2v.9h2v-1.3h2v1.2h2v-.7h2v.9h2v-.4h2v-.7h2v-.1h2v.4h2v.5h2v0h2v-.3h2v-.5h2v.3h2v-.8h2v.7h2v.2h2v-.4h2v.5h2v.2h2v0h2v.1h2v-.5h2v.2h2v.2h2v-.6h2v.2h2v.6h2v-.3h2v.2h2v.1h2v-.7h2v-.6h2v-.1h2v.1h2v1.1h2v-1.3h2v1.6h2v-.7h2v-.1h2v.5h2v-.6h2v.6h2v.3h2v-.4h2v.3h2v-.7h2v.2h2v.2h2v.4h2v-.3h2v.4h2v-.8h2v-.4h2v.6h2v-.8h2v1.1h2v-1.3h2v1h2v-.1h2v.7h2v-.3h2v.1h2v0h2v-.6h2v.2h2v-.3h2v.7h2v-.6h2v-.8h2v1.3h2v-1.1h2v.6h2v.3h2v.1h2v0h2v.1h2v-.6h2v.5h2v-.2h2v.3h2v.3h2v-.4h2v-.2h2v.4h2v.1h2v0h2v-.5h2v-.9h2v1.5h2v-1.3h2v.8h1v7h-1v.1h-2v-.2h-2v.1h-2v-.3h-2v.2h-2v-.1h-2v.1h-2v.5h-2v-.4h-2v-.4h-2v.3h-2v-.1h-2v.6h-2v.3h-2v-.5h-2v.1h-2v-.3h-2v0h-2v1.1h-2v-1.4h-2v.4h-2v0h-2v.1h-2v-.5h-2v1.5h-2v-.7h-2v-.8h-2v1.1h-2v-1h-2v-.1h-2v.6h-2v.4h-2v-.8h-2v-.1h-2v.2h-2v.4h-2v.4h-2v-1.1h-2v.3h-2v.1h-2v.9h-2v-.7h-2v-.2h-2v.1h-2v-.5h-2v0h-2v.3h-2v-.3h-2v.1h-2v-.1h-2v.5h-2v.2h-2v-.2h-2v-.3h-2v.7h-2v-.2h-2v.4h-2v-1.1h-2v.4h-2v-.4h-2v.1h-2v.7h-2v-.7h-2v.3h-2v.2h-2v.8h-2v-1.3h-2v.4h-2v0h-2v-.5h-2v1.3h-2v-1.1h-2v-.1h-2v1.3h-2v-1.3h-2v0h-2v.7h-2v-.4h-2v.7h-2v-.2h-2v-.7h-2v-.2h-2v0h-2v.5h-2v-.2h-2v.2h-2v-.5h-2v.9h-2v-.6h-2v.1h-2v.1h-2v-.2h-2v.6h-2v-.3h-2v.5h-2v-1h-2v.4h-2v-.4h-2v.5h-2v.2h-2v-.3h-2v0h-2v-.4h-2v.5h-2v.1h-2v.7h-2v-.7h-2v-.7h-2v0h-2v1.3h-2v-.8h-2v-.3h-2v-.3h-2v1h-2v-.4h-2v-.2h-2v-.2h-2v.3h-2v.6h-2v-.3h-2v-.4h-2v0h-2v.3h-2v-.7h-2v0h-2v.3h-2v.3h-2v1h-2v-.8h-2v-.5h-2v.1h-2v.4h-2v-.2h-2v-.5h-2v.2h-2v.3h-2v-.1h-2v.9h-2v-.5h-2v-.9h-2v.5h-2v0h-2v-.3h-2v-.1h-2v.3h-2v.4h-2v-.3h-2v.6h-2v-.6h-2v0h-2v.1h-2v-.1h-2v.9h-2v-.4h-2v-.6h-2v-.3h-2v.3h-2v.2h-2v-.1h-2v0h-2v0h-2v.2h-2v0h-2v-.1h-2v.1h-2v.8h-2v-.4h-2v.7h-2v-1.3h-2v-.1h-2v.9h-2v-.4h-2v-.6h-2v-.2h-2v0h-2v.4h-2v-.4h-2v0h-2v.4h-2v.7h-2v-1.2h-2v1h-2v-.6h-2v.3h-2v-.3h-2v-.1h-2v.2h-2v1h-2v-.9h-2v-.4h-2v.4h-2v-.5h-2v1.4h-2v-1.2h-2v-.3h-2v.5h-2v-.3h-2v-.2h-2v.1h-2v.7h-2v0h-2v-.8h-2v.3h-2v.9h-2v.1h-2v1.4h-2v-2h-2v-.3h-2v.4h-2v-.5h-2v0h-2v.4h-2v-.6h-2v.2h-2v0h-2v.8h-2v-.7h-2v.2h-2v.6h-2v-1.1h-2v1.2h-2v-.6h-2v.8h-2v-1.1h-2v0h-2v.2h-2v-.4h-2v.9h-2v-1h-2v.4h-2v-.1h-2v-.3h-2v.5h-2v-.3h-2v1h-2v.3h-2v-1.5h-2v-.1h-2v.7h-2v-.5h-2v-.1h-2v.6h-2v-.2h-2v.4h-2v-.6h-2v-.3h-2v0h-2v.4h-2v0h-2v-.2h-2v.9h-2v-.4h-2v.5h-2v-1.1h-2v.3h-2v-.2h-2v.5h-2v-.4h-2v.4h-2v.4h-2v-.4h-2v-.4h-2v-.2h-2v.2h-2v-.3h-2v.3h-2v0h-2v.6h-2v-.4h-2v-.1h-2v0h-2v.3h-2v-.2h-2v-.4h-2v.9h-2v-.6h-2v.5h-2v-.8h-2v.4h-2v-.4h-2v.3h-2v-.4h-2v.2h-2v0h-2v.4h-2v-.3h-2v0h-2v-.2h-2v.3h-2v0h-2v1h-2v-1.3h-2v-.1h-2v.1h-2v1.5h-2v-1.5h-2v.1h-2v1.3h-2v-1.5h-2v.2h-2v.7h-2v-.9h-2v.2h-2v.1h-2v0h-2v1.6h-2v-1.5h-2v.4h-2v-.5h-2v.1h-2v-.3h-2v1.3h-2v-.7h-2v-.5h-2v-.2h-2v1.5h-2v-1.2h-2v.7h-2v-.8h-2v.3h-2v-.2h-2v-.1h-2v.3h-2v0h-2v.1h-2v-.4h-2v-.1h-2v.1h-2v.6h-2v-.7h-2v0h-2v.4h-2v-.2h-2v-.1h-2v.1h-2v-.3h-2v0h-2v.1h-2v1.2h-2v-1.1h-2v.3h-2v.6h-2v-1h-2v1.5h-2v.2h-2v-1.6h-2v.6h-2v-.4h-2v-.2h-2v.4h-2v.3h-2v0h-2v-.2h-2v.3h-2v-.3h-2v.3h-2v-.3h-2v.4h-2v-.3h-2v-.5h-2v.9h-2v0h-2v-.4h-2v-.6h-2v.6h-2v-.5h-2v.2h-2v-.4h-2v0h-2v.4h-2v.7h-2v-1h-2v.2h-2v-.1h-2v.4h-2v.4h-2v-.4h-2v.7h-2v.1h-2v-1.3h-2v.1h-2v0h-2v.4h-2v-.5h-2v.4h-2v.5h-2v-.1h-2v-.9h-2v.3h-2v.8h-2v-.8h-2v-.3h-2v.1h-2v1h-2v.4h-2v-.6h-2v-.8h-2v1.6h-2v-.2h-2v-.6h-2v-.5h-2v.7h-2v0h-2v-.4h-2v-.7h-2v.1h-2v2h-2v-1.3h-2v-.8h-2v1.3h-2v-.6h-2v.2h-2v-.1h-2v-.7h-2v0h-2v-.1h-2v1.2h-2v-.9h-2v-.1h-2v.4h-2v1h-2v-1.4h-2v.1h-2v.3h-2v-.1h-2v-.3h-2v-.1h-2v.5h-2v-.4h-2v.8h-2v.1h-2v-.9h-2v.1h-2v-.1h-2v0h-2v0h-2v.1h-2v-.1h-2v-.2h-2v1h-2v.1h-2v-.6h-2v0h-2v-.4h-2v.1h-2v.2h-2v-.4h-2v-.1h-2v.5h-2v.1h-2v.8h-2v-.3h-2v.3h-2v-1.2h-2v.4h-2v-.5h-2v1.3h-2v-.9h-2v.7h-2v-.7h-2v.1h-2v.3h-2v-.2h-2v.2h-2v.1h-2v.1h-2v-.8h-2v-.1h-2v-.2h-2v.6h-2v-.1h-2v.3h-2v-.6h-2v.6h-2v.2h-2v-.6h-2v.1h-2v-.2h-2v.6h-2v-.6h-2v.3h-2v.4h-2v-.5h-2v.1h-2v-.1h-2v-.5h-2v.4h-2v-.2h-2v-.1h-2v.8h-2v-.8h-2v.3h-2v-.3h-2v1.7h-2v-1.8h-2v.8h-2v.4h-2v-.9h-2v.7h-2v.8h-2v-1.3h-2v-.1h-2v-.4h-2v.1h-2v.3h-2v.5h-2v-.8h-2v0h-2v.6h-2v.6h-2v-.9h-2v.5h-2v-.7h-2v.9h-2v-.9h-2v.2h-2v-.2h-2v.2h-2v-.1h-2v.1h-2v.7h-2v-.9h-2v0h-2v1.1h-2v-.8h-2v-.1h-2v-.3h-2v-.1h-2v.1h-2v.5h-2v1h-2v-1.1h-2v.1h-2v1.1h-2v-.3h-2v-1.1h-2v-.3h-2v.3h-2v.2h-2v0h-2v-.1h-2v1h-2v0h-2v-.4h-2v-.7h-2v.1h-2v.5h-2v.3h-2v-.6h-2v-.1h-2v-.4h-2v0h-2v.1h-2v-.1h-2v1.4h-2v-1h-2v.8h-2v-1.2h-2v1.4h-2v-1.4h-2v.1h-2v.1h-2v-.2h-2v1.8h-2v-1.8h-2v1.1h-2v0h-2v-1.1h-2v1h-2v-.3h-2v-.3h-2v0h-2v-.3h-2v.1h-2v.1h-2v0h-2v.4h-2v.2h-2v0h-2v-.7h-2v.3h-2v.7h-2v.1h-2v-1.2h-2v1.2h-2v-1.3h-2v.5h-2v-.2h-2v-.3h-2v0h-2v.3h-2v-.2h-2v.9h-2v-1h-2v0h-2v.1h-2v.4h-2v-.4h-2v1.6h-2v-1.4h-2v.3h-2v.1h-2v.1h-2v0h-2v-.3h-2v-.3h-2v-.3h-2v.4h-2v-.3h-2v.2h-2v.1h-2v.2h-2v1.1h-2v-1.3h-2v-.4h-2v.3h-2v.4h-2v-.5h-2v.2h-2v.8h-2v-.8h-2v.3h-2v-.5h-2v-.2h-2v.7h-2v.6h-2v-.7h-2v-.6h-2v.5h-2v0h-2v.3h-2v-.7h-2v.6h-2v-.2h-2v.7h-2v-.9h-2v-.2h-2v.9h-2v-.6h-2v-.4h-2v.4h-2v-.2h-2v.4h-2v-.5h-2v.5h-2v-.3h-2v.1h-2v.2h-2v.1h-2v-.2h-2v-.5h-2v.4h-2v.6h-2v.1h-2v-.6h-2v.3h-2v-.5h-2v.1h-2v.3h-2v.6h-2v-.2h-2v.3h-2v-.9h-2v.2h-2v.6h-2v-1.2h-2v.1h-2v.5h-2v-.4h-2v.4h-2v-.1h-2v-.3h-2v.1h-2v.8h-2v0h-2v-1.2h-2v.7h-2v-.1h-2v0h-2v-.5h-2v.4h-2v-.4h-2v.7h-2v-.6h-2v-.1h-2v1h-2v-.7h-2v-.2h-2v.5h-2v-.4h-2v1h-2v-.4h-2v-.4h-2v-.2h-2v.3h-2v-.2h-2v.1h-2v-.3h-2v.6h-2v-.3h-2v0h-2v.9h-2v-1.4h-2v1h-2v.1h-2v-1h-2v0h-2v0h-2v1.2h-2v-1.1h-2v-.2h-2v.2h-2v1.4h-2v-1.3h-2v.4h-2v-.6h-2v.2h-2v.7h-2v-.7h-2v-.3h-2v.1h-2v.3h-2v.6h-2v-.6h-2v-.3h-2v.2h-2v1.4h-2v-.7h-2v-.9h-2zM231 522.3h2v1.3h2v-.3h2v-.5h2v-.3h2v.9h2v-.5h2v.2h2v-1.4h2v1.9h2v-1.1h2v.6h2v-.9h2v.9h2v-.1h2v.1h2v-1.9h2v1.3h2v.3h2v.4h2v-.8h2v1.1h2v-1.1h2v.7h2v0h2v.2h2v.2h2v-.1h2v-.1h2v-.1h2v-.3h2v.5h2v-.1h2v.3h2v-1.7h2v1.6h2v-1h2v.7h2v-.3h2v-.2h2v.6h2v.1h2v-.1h2v-.1h2v-1.3h2v1.6h2v.1h2v-1h2v.4h2v.2h2v0h2v-.4h2v.6h2v-1.7h2v.8h2v1h2v0h2v-.9h2v.5h2v.2h2v0h2v-.3h2v.6h2v-.1h2v0h2v-.5h2v.6h2v-1.6h2v.4h2v.6h2v.1h2v.4h2v-1h2v0h2v-.2h2v.3h2v.4h2v.6h2v-.6h2v.5h2v-.1h2v-.1h2v-.9h2v.3h2v.8h2v-.1h2v-.3h2v-.9h2v1.4h2v-1.5h2v1.1h2v-.1h2v.3h2v0h2v-.5h2v-.1h2v.4h2v-.4h2v.5h2v-.3h2v.5h2v-.3h2v.2h2v0h2v-.5h2v.5h2v-.2h2v.3h2v-.1h2v-.3h2v.1h2v-1.1h2v1.2h2v-.5h2v.7h2v-.8h2v-.4h2v1.2h2v-.4h2v.5h2v-1.5h2v1.5h2v-.7h2v.1h2v-.5h2v.4h2v.4h2v.1h2v-1.1h2v.6h2v0h2v.5h2v-.9h2v.8h2v.3h2v-1.3h2v1.1h2v-.9h2v.8h2v-.1h2v-.4h2v.5h2v.2h2v-.1h2v-.1h2v.1h2v.1h2v-1.2h2v1.1h2v-.7h2v.4h2v0h2v-1.5h2v1.6h2v.4h2v-1.1h2v.6h2v-.3h2v.5h2v.2h2v-.1h2v-.5h2v-.2h2v-.4h2v.8h2v.3h2v-.5h2v.3h2v-.3h2v.4h2v.3h2v-1h2v.8h2v-.5h2v.4h2v0h2v-.1h2v-.1h2v-.1h2v.4h2v-.7h2v.3h2v.3h2v.3h2v-.1h2v-.8h2v-.2h2v.9h2v-1.5h2v1.2h2v.4h2v-.1h2v.1h2v-1.1h2v-.2h2v.7h2v.7h2v-.2h2v-.3h2v.5h2v-.5h2v-.3h2v-1h2v.4h2v0h2v.8h2v.3h2v.3h2v-.1h2v-.2h2v-.2h2v-.4h2v.4h2v-.3h2v-.7h2v.9h2v.1h2v.4h2v-.6h2v.5h2v-.1h2v.3h2v-.6h2v-1h2v.7h2v.8h2v-1.9h2v1h2v.5h2v0h2v.2h2v.2h2v.1h2v-.2h2v-.4h2v.2h2v0h2v.1h2v-.3h2v.3h2v-.2h2v-.3h2v.5h2v.2h2v-.9h2v.6h2v.1h2v-.5h2v.1h2v-.2h2v.4h2v.3h2v-1h2v.7h2v.2h2v-.3h2v0h2v-.6h2v.9h2v-.9h2v.8h2v0h2v-.3h2v.7h2v-1.5h2v1.3h2v-.7h2v.8h2v-.2h2v-.4h2v.1h2v.2h2v-.3h2v-.3h2v.2h2v.1h2v-.5h2v1.1h2v.1h2v0h2v-.8h2v.1h2v0h2v.6h2v-.9h2v.3h2v.1h2v0h2v.3h2v-.6h2v.8h2v-1.1h2v.5h2v.3h2v-.1h2v.1h2v.3h2v0h2v-.3h2v-1.2h2v.6h2v-.3h2v1.3h2v-1.3h2v.7h2v-.1h2v.2h2v0h2v.4h2v0h2v-.5h2v.2h2v.2h2v-.1h2v-.4h2v.4h2v-.9h2v1h2v-.2h2v0h2v-.9h2v1h2v0h2v.2h2v.1h2v-1h2v.9h2v0h2v-1h2v.1h2v.8h2v.2h2v-.5h2v.3h2v-.4h2v-.1h2v-.1h2v.1h2v.1h2v.5h2v-.7h2v-.4h2v.1h2v.4h2v.2h2v.5h2v-.3h2v.2h2v-.5h2v.3h2v-.6h2v.2h2v.6h2v-1h2v.6h2v-.2h2v-1.1h2v1.4h2v.4h2v-.1h2v-.4h2v-.2h2v.1h2v.6h2v-1h2v-.5h2v.8h2v.5h2v-1.6h2v1.6h2v-.2h2v.2h2v0h2v-.4h2v-.7h2v1h2v.1h2v-.1h2v.2h2v-.4h2v-.1h2v-.5h2v.8h2v-.4h2v-.6h2v.5h2v.2h2v.4h2v0h2v0h2v.2h2v-.7h2v-.9h2v1h2v-.5h2v.7h2v-.1h2v.3h2v-1.2h2v-.8h2v1.5h2v-.1h2v.1h2v-.3h2v1h2v-.1h2v-1.7h2v1.6h2v-.2h2v.1h2v.3h2v-.1h2v-.2h2v.3h2v-.2h2v-.5h2v-.1h2v.2h2v.6h2v-.3h2v.2h2v-.6h2v-.1h2v.3h2v-.1h2v.2h2v-.5h2v-.1h2v.9h2v-.7h2v-.7h2v.9h2v.2h2v-.4h2v0h2v.2h2v.5h2v0h2v-.9h2v.8h2v-.7h2v.4h2v.4h2v-.7h2v.4h2v.4h2v-1h2v-.1h2v.9h2v-.8h2v.2h2v.4h2v.2h2v-1h2v.5h2v.4h2v0h2v-.3h2v.4h2v-.4h2v.5h2v-.8h2v.5h2v.2h2v.2h2v-.6h2v.2h2v.2h2v-.1h2v.3h2v-.3h2v.1h2v-.1h2v-.6h2v.1h2v.3h2v.4h2v-1.2h2v1h2v.2h2v-.5h2v.5h2v-.6h2v-.6h2v1h2v-.3h2v.3h2v.2h2v0h2v-1.5h2v.7h2v0h2v.1h2v.2h2v.5h2v-.4h2v-1h2v1.5h2v0h2v-.3h2v-.1h2v-.3h2v-1.3h2v1.7h2v-.8h2v.4h2v.6h2v0h2v-1.3h2v.7h2v-.5h2v1.1h2v-.8h2v.9h2v-.5h2v.3h2v-.3h2v-.4h2v.3h2v-1.3h2v1.9h2v-.2h2v.2h2v-.3h2v-.2h2v.3h2v0h2v-.4h2v.4h2v-1h2v1h2v-.5h2v-.1h2v.7h2v0h2v-1.4h2v1.5h2v-.9h2v.5h2v-.5h2v.4h2v-.2h2v.4h2v.1h2v-.1h2v-.6h2v.6h2v-1.8h2v1.6h2v-.8h2v-.1h2v.1h2v-.2h2v-.8h2v2.1h2v.1h2v-.9h2v1h2v0h2v-1.1h2v.2h2v.5h2v.1h2v-1h2v.3h2v.6h2v.2h2v-.2h2v0h2v.3h2v-.6h2v.6h2v-.1h2v-.2h2v.3h2v-.4h2v-.8h2v1h2v-.2h2v-.8h2v.7h2v.4h2v.2h2v-.2h2v-.9h2v-.2h2v.3h2v.5h2v.1h2v.3h2v-.1h2v-.5h2v.1h2v.2h2v.2h2v0h2v-.5h2v.6h2v-.6h2v.6h2v-1h2v.8h2v-.1h2v-.4h2v.5h2v-.3h2v-.7h2v1.1h2v-1.2h2v1.3h2v.1h2v-.5h2v-.8h2v1.1h2v-1.5h2v1.5h2v0h2v-.2h2v-.3h2v-.4h2v.4h2v.7h2v-.5h2v0h2v.3h2v.1h2v-.4h2v-.7h2v.9h2v-.4h2v0h2v.6h2v-.3h2v.2h2v-.7h2v-.2h2v.6h2v-1h2v1.5h2v-.3h2v.2h2v-.1h2v-.4h2v-.7h2v.2h2v-.3h2v.1h2v1.1h2v.1h2v-.7h2v.4h2v.2h2v-.5h2v.5h2v0h2v-.1h2v-.3h2v.4h2v-.2h2v-.3h2v.7h2v-.2h2v-.5h2v-.5h2v.6h2v.3h2v0h2v-1.2h2v.8h2v.4h2v.2h2v-.2h2v0h2v-.9h2v1.1h2v-.8h2v.5h2v-.3h2v.5h2v-.4h2v-.3h2v-.3h2v.7h2v.2h2v0h2v-.2h2v-.4h2v.5h2v-.3h2v.6h2v-1.2h2v.4h2v.2h2v.5h2v.1h2v0h2v-.1h2v-.5h2v.4h2v-.2h2v.3h2v0h2v.1h2v-1.5h2v1.3h2v-.6h2v.4h2v.3h2v-.7h2v0h2v.8h2v-.8h2v.1h2v-.1h2v.8h2v0h2v-.3h2v-.2h2v.2h2v-.7h2v.9h2v-1h2v0h2v.6h2v.1h2v.4h2v0h2v-.1h2v-.2h2v-.9h1v7.9h-1v.7h-2v-1h-2v1.2h-2v-1.2h-2v.1h-2v-.1h-2v-.2h-2v.7h-2v-.6h-2v-.1h-2v.1h-2v-.1h-2v.2h-2v0h-2v.5h-2v-.7h-2v1.2h-2v-1h-2v.8h-2v.2h-2v-1h-2v1.3h-2v-1.2h-2v1.1h-2v-1.1h-2v-.1h-2v.1h-2v.1h-2v-.2h-2v-.2h-2v-.1h-2v.6h-2v.3h-2v-.6h-2v0h-2v-.2h-2v0h-2v1.1h-2v-1.1h-2v1.4h-2v-.8h-2v-.2h-2v.9h-2v-1.1h-2v2.5h-2v-1.3h-2v-1h-2v-.1h-2v.7h-2v.7h-2v-.4h-2v-1.3h-2v.8h-2v.6h-2v-.9h-2v-.1h-2v-.2h-2v0h-2v0h-2v.2h-2v-.3h-2v0h-2v.6h-2v.7h-2v-.4h-2v.4h-2v-1h-2v-.2h-2v1h-2v-.6h-2v.3h-2v-.3h-2v-.2h-2v-.5h-2v.3h-2v.4h-2v-.1h-2v.4h-2v-1h-2v1h-2v-.9h-2v1.6h-2v-1.1h-2v.6h-2v-1h-2v.3h-2v0h-2v-.2h-2v.6h-2v-.3h-2v.2h-2v.5h-2v-.8h-2v.2h-2v.1h-2v-.7h-2v.4h-2v-.2h-2v.5h-2v.6h-2v-1.2h-2v.3h-2v0h-2v.1h-2v-.3h-2v-.3h-2v1.9h-2v-1h-2v-.6h-2v1.2h-2v-.8h-2v-.2h-2v.2h-2v0h-2v-.1h-2v-.5h-2v1.1h-2v-.4h-2v.3h-2v-.8h-2v.9h-2v-.5h-2v-.5h-2v0h-2v.8h-2v-.5h-2v.2h-2v.9h-2v-1.1h-2v.5h-2v-.8h-2v1h-2v-1h-2v.4h-2v-.5h-2v.4h-2v.3h-2v-.7h-2v.5h-2v-.2h-2v.6h-2v-.8h-2v.2h-2v0h-2v.3h-2v.5h-2v-1h-2v.2h-2v.1h-2v-.1h-2v0h-2v.2h-2v.5h-2v-.9h-2v.3h-2v-.3h-2v.2h-2v0h-2v.6h-2v-.7h-2v.3h-2v-.4h-2v.1h-2v.9h-2v-.8h-2v-.3h-2v.7h-2v-.2h-2v-.5h-2v.2h-2v0h-2v0h-2v.5h-2v-.2h-2v-.3h-2v0h-2v-.1h-2v.4h-2v-.1h-2v.2h-2v-.6h-2v.7h-2v-.3h-2v-.3h-2v-.1h-2v.7h-2v-.8h-2v.2h-2v.4h-2v.1h-2v-.1h-2v0h-2v-.3h-2v0h-2v0h-2v-.1h-2v.8h-2v-.2h-2v.3h-2v-.7h-2v0h-2v.6h-2v-.2h-2v0h-2v-.7h-2v2.1h-2v-1.4h-2v-.2h-2v-.2h-2v-.1h-2v-.1h-2v-.1h-2v.5h-2v.1h-2v-.6h-2v.3h-2v.1h-2v1.2h-2v-1.2h-2v-.3h-2v.1h-2v.1h-2v.1h-2v-.2h-2v.2h-2v.5h-2v-.8h-2v1.3h-2v-1h-2v-.2h-2v-.2h-2v.6h-2v.7h-2v-1h-2v-.1h-2v.1h-2v-.1h-2v.6h-2v-.8h-2v.7h-2v-.8h-2v.7h-2v.1h-2v-.7h-2v.2h-2v.5h-2v-.5h-2v.3h-2v-.5h-2v.1h-2v.6h-2v-.3h-2v.7h-2v-.2h-2v-.7h-2v.3h-2v-.5h-2v.1h-2v-.1h-2v1.5h-2v.1h-2v-1.1h-2v.6h-2v-.8h-2v.4h-2v-.2h-2v-.3h-2v.2h-2v-.2h-2v0h-2v-.1h-2v.3h-2v.4h-2v-.1h-2v.3h-2v-.3h-2v-.6h-2v-.1h-2v.6h-2v.5h-2v-1.1h-2v1.2h-2v-.9h-2v-.1h-2v.2h-2v-.4h-2v.2h-2v1h-2v-.9h-2v.6h-2v-.5h-2v.7h-2v-.8h-2v.7h-2v-.6h-2v.6h-2v-.4h-2v-.4h-2v-.1h-2v.7h-2v.3h-2v-.8h-2v-.3h-2v.5h-2v-.1h-2v.3h-2v-.2h-2v-.3h-2v.8h-2v-.3h-2v-.1h-2v-.1h-2v.3h-2v-.5h-2v.6h-2v-.5h-2v.4h-2v-.8h-2v.1h-2v0h-2v1.1h-2v-.3h-2v-.8h-2v-.1h-2v.1h-2v.1h-2v.7h-2v-.7h-2v0h-2v-.2h-2v1.4h-2v-.7h-2v-.3h-2v.5h-2v-.4h-2v-.6h-2v.8h-2v-.2h-2v.5h-2v.9h-2v-.4h-2v-1h-2v-.4h-2v-.1h-2v.4h-2v.3h-2v-.4h-2v.1h-2v.1h-2v.7h-2v-.2h-2v.1h-2v.7h-2v-1.2h-2v-.4h-2v1.3h-2v-1.5h-2v.1h-2v0h-2v1h-2v-.7h-2v-.2h-2v1h-2v-1.1h-2v0h-2v.1h-2v.3h-2v-.2h-2v-.2h-2v.1h-2v.4h-2v-.6h-2v.1h-2v.7h-2v-.8h-2v.3h-2v-.2h-2v-.1h-2v.1h-2v0h-2v.9h-2v-.8h-2v-.1h-2v.1h-2v0h-2v-.2h-2v.3h-2v.7h-2v-.9h-2v.6h-2v-.3h-2v.2h-2v-.4h-2v-.1h-2v-.1h-2v0h-2v0h-2v.1h-2v.5h-2v.2h-2v-.6h-2v0h-2v.8h-2v-1h-2v.1h-2v1.6h-2v-1.7h-2v.4h-2v-.4h-2v.2h-2v.4h-2v.4h-2v-.9h-2v.5h-2v0h-2v-.5h-2v1.1h-2v-1.2h-2v1h-2v-.3h-2v-.6h-2v.4h-2v.1h-2v-.6h-2v.8h-2v-.2h-2v.6h-2v-1.2h-2v.1h-2v.1h-2v0h-2v-.1h-2v1.5h-2v-1.2h-2v-.3h-2v-.1h-2v.4h-2v.3h-2v1h-2v-1.6h-2v.6h-2v-.1h-2v0h-2v.5h-2v-1h-2v.6h-2v-.6h-2v.4h-2v-.5h-2v.1h-2v.6h-2v-.6h-2v.8h-2v-.9h-2v.2h-2v.3h-2v-.6h-2v.6h-2v-.5h-2v.2h-2v.7h-2v-.6h-2v-.2h-2v-.1h-2v-.1h-2v.9h-2v-.4h-2v.6h-2v-.1h-2v-.7h-2v-.2h-2v.1h-2v1h-2v.7h-2v-1.4h-2v0h-2v-.3h-2v.3h-2v-.2h-2v0h-2v1h-2v-1.1h-2v.5h-2v-.6h-2v.5h-2v.4h-2v-.9h-2v.3h-2v.5h-2v-.5h-2v-.3h-2v.2h-2v-.2h-2v.1h-2v.9h-2v0h-2v-.9h-2v.1h-2v-.2h-2v1h-2v-.6h-2v-.2h-2v-.2h-2v.4h-2v-.4h-2v.4h-2v-.4h-2v-.1h-2v.7h-2v-.6h-2v.8h-2v.4h-2v0h-2v-1.2h-2v.1h-2v.1h-2v.3h-2v-.1h-2v-.2h-2v-.2h-2v.5h-2v-.3h-2v1.1h-2v-1.1h-2v.3h-2v.4h-2v-.7h-2v-.1h-2v-.1h-2v0h-2v0h-2v.2h-2v.7h-2v-.4h-2v.7h-2v-.7h-2v.8h-2v-1h-2v.2h-2v-.2h-2v.5h-2v-.6h-2v-.2h-2v.2h-2v-.2h-2v1.4h-2v-1.5h-2v.4h-2v-.4h-2v.8h-2v-.6h-2v.3h-2v-.2h-2v.8h-2v-.5h-2v-.3h-2v1.1h-2v-.8h-2v-.1h-2v.1h-2v-.1h-2v-.4h-2v.1h-2v.2h-2v.3h-2v-.5h-2v-.1h-2v1h-2v-.9h-2v0h-2v-.1h-2v.3h-2v0h-2v-.4h-2v.1h-2v.6h-2v-.3h-2v.2h-2v-.2h-2v.2h-2v.1h-2v0h-2v-.6h-2v1.3h-2v-.6h-2v-.7h-2v1.2h-2v.3h-2v-.7h-2v-.6h-2v.5h-2v-.6h-2v.4h-2v.3h-2v-.6h-2v1.1h-2v-.6h-2v0h-2v-.3h-2v-.4h-2v.6h-2v0h-2v-.4h-2v.3h-2v-.4h-2v.2h-2v.8h-2v-.8h-2v-.2h-2v0h-2v1.1h-2v-.9h-2v.6h-2v-.5h-2v-.3h-2v0h-2v.1h-2v.4h-2v-.4h-2v1.7h-2v-1.5h-2v-.3h-2v.3h-2v.1h-2v-.3h-2v.5h-2v-.1h-2v.8h-2v-1.3h-2v1.5h-2v-1.5h-2v.2h-2v-.1h-2v.4h-2v.8h-2v-1.2h-2v.2h-2v-.2h-2v.5h-2v.2h-2v.3h-2v-.5h-2v-.4h-2v.6h-2v-.9h-2v.1h-2v.8h-2v-.6h-2v.4h-2v-.5h-2v.2h-2v.1h-2v.3h-2v.3h-2v-.7h-2v-.4h-2v.1h-2v1.2h-2v-.9h-2v-.1h-2v.9h-2v-.5h-2v-.5h-2v.2h-2v-.1h-2v.1h-2v.3h-2v-.4h-2v1.2h-2v-1.3h-2v.3h-2v-.5h-2v1.3h-2v.4h-2v.1h-2v-1.4h-2v1.2h-2v-.8h-2v-.4h-2v1.1h-2v-1.3h-2v-.2h-2v.8h-2v1h-2v-1.6h-2v.1h-2v.8h-2v-.9h-2v.2h-2v-.3h-2v.4h-2v-.4h-2v.9h-2v-1.1h-2v.2h-2v-.2h-2v1.5h-2v-1.1h-2v.1h-2v-.1h-2v-.2h-2v0h-2v-.2h-2v.4h-2v1.5h-2v-.8h-2v-1h-2v.2h-2v1.1h-2v-1.3h-2v1.9h-2v-1.8h-2v.1h-2v-.1h-2v.1h-2v.2h-2v-.1h-2v0h-2v-.1h-2v-.2h-2v.3h-2v0h-2v.6h-2v-.4h-2v.7h-2v-.6h-2v-.3h-2v.1h-2v-.4h-2zM231 641.4h2v-.1h2v-.1h2v-.9h2v.7h2v-.7h2v1.2h2v-.4h2v0h2v.2h2v0h2v.1h2v.1h2v0h2v-.4h2v-.7h2v0h2v.8h2v.2h2v-.8h2v.2h2v-.4h2v.5h2v.3h2v-.4h2v.5h2v-1.3h2v.8h2v.6h2v-.2h2v-.1h2v.2h2v-.8h2v.7h2v.2h2v-.6h2v.1h2v.6h2v-.5h2v.5h2v-.2h2v-1.4h2v-.1h2v.3h2v.7h2v-.3h2v.3h2v.5h2v.2h2v-.7h2v.7h2v-1.5h2v1.3h2v-.6h2v.6h2v-.1h2v-.2h2v.4h2v-.3h2v-.5h2v.7h2v.2h2v-.2h2v-1.4h2v1.3h2v.2h2v.1h2v-.5h2v-.2h2v.7h2v-.2h2v0h2v-.5h2v.3h2v0h2v.1h2v-.3h2v-.6h2v1h2v.1h2v.1h2v-.2h2v-.2h2v.2h2v-1.1h2v1.2h2v-1.5h2v.7h2v-.4h2v1.2h2v-1.2h2v1.3h2v-.4h2v-.1h2v0h2v-.3h2v.1h2v.3h2v-.4h2v.4h2v.1h2v-.7h2v.4h2v.2h2v.3h2v-.5h2v-.3h2v-.1h2v1h2v-.4h2v0h2v.2h2v.2h2v-.5h2v.4h2v-.5h2v.4h2v.2h2v-.2h2v-.5h2v.2h2v.5h2v0h2v-.1h2v-1.2h2v-.4h2v1h2v0h2v.3h2v-.5h2v.8h2v-.9h2v1h2v-.5h2v-.5h2v.7h2v.1h2v.1h2v-.2h2v-.9h2v.3h2v.8h2v0h2v.1h2v0h2v-.7h2v0h2v.5h2v.2h2v-.6h2v.6h2v-.6h2v.5h2v-.4h2v.3h2v.1h2v0h2v0h2v-.3h2v-.4h2v-.2h2v-.1h2v.6h2v0h2v.5h2v-.2h2v-.1h2v0h2v-.2h2v.4h2v-.1h2v0h2v.2h2v-.2h2v-.6h2v-.7h2v.7h2v.1h2v-1.1h2v1.1h2v.5h2v-.3h2v.5h2v0h2v-.7h2v.1h2v.1h2v-.2h2v-.5h2v.5h2v.1h2v.3h2v-.2h2v.4h2v-.7h2v.7h2v.1h2v-.7h2v.4h2v0h2v.2h2v0h2v-1h2v-.2h2v1.2h2v-1.1h2v.3h2v.3h2v-.2h2v.2h2v-.6h2v.9h2v-.4h2v0h2v.7h2v-1.2h2v.9h2v.2h2v-.5h2v-.2h2v.4h2v-.9h2v1.2h2v-.3h2v.4h2v-.6h2v.6h2v-.2h2v-.8h2v.1h2v.9h2v-1.1h2v.9h2v-.5h2v.5h2v-.9h2v.9h2v.1h2v-.9h2v.3h2v.6h2v-.4h2v.4h2v0h2v-1.2h2v1.2h2v0h2v-1.5h2v1.3h2v-1.1h2v1h2v.1h2v-1.1h2v.9h2v-.2h2v-.5h2v.3h2v.7h2v.2h2v-.4h2v.4h2v-.5h2v.5h2v-1.2h2v1.1h2v0h2v-.1h2v.2h2v-.5h2v0h2v.4h2v-.3h2v.3h2v-.1h2v-.3h2v.1h2v.3h2v-.3h2v0h2v0h2v-.5h2v-.1h2v.9h2v-.3h2v-1.1h2v.7h2v.5h2v-.2h2v.4h2v-.2h2v-.7h2v.6h2v.4h2v-.7h2v.5h2v-.1h2v-.6h2v.6h2v-.1h2v.3h2v-.4h2v-1.1h2v.7h2v.3h2v.4h2v0h2v-.2h2v.3h2v-.3h2v.3h2v-.9h2v.9h2v-.2h2v.2h2v0h2v-.2h2v.2h2v-.9h2v-.3h2v1.2h2v-.1h2v.1h2v0h2v-.2h2v0h2v.2h2v-.1h2v-.2h2v-.4h2v.6h2v0h2v-.2h2v.2h2v-.1h2v-.1h2v-.4h2v.5h2v-.3h2v-.6h2v.8h2v.4h2v0h2v-.7h2v.6h2v.1h2v-1.1h2v.3h2v.4h2v.1h2v-.1h2v-.3h2v-.4h2v.3h2v.4h2v-.9h2v.9h2v.3h2v-.1h2v-.3h2v.5h2v-.7h2v.4h2v-.1h2v.2h2v-.1h2v.1h2v.2h2v-.6h2v.3h2v.1h2v.1h2v-.1h2v-.1h2v-.4h2v.1h2v.3h2v.3h2v-.1h2v-.2h2v-1h2v1h2v.1h2v-1.3h2v.4h2v0h2v.6h2v0h2v.3h2v.2h2v-.1h2v-.2h2v-.4h2v.4h2v.3h2v-.7h2v.2h2v-.1h2v.3h2v0h2v.3h2v-.1h2v-.5h2v-.2h2v-.3h2v1h2v-.6h2v.3h2v.1h2v.1h2v.1h2v.1h2v-.1h2v-1.3h2v1.2h2v-.1h2v.2h2v-.9h2v1h2v-.8h2v.8h2v-.5h2v-.5h2v.7h2v-.8h2v.8h2v-.2h2v-.7h2v.7h2v-.1h2v-.9h2v.9h2v-.6h2v.9h2v.1h2v-1h2v.8h2v-1.2h2v1.2h2v-.4h2v.7h2v-.5h2v-1.3h2v1.7h2v.1h2v-.6h2v-1.1h2v.9h2v-.1h2v.8h2v-.4h2v.5h2v.1h2v-.6h2v.6h2v-.5h2v.3h2v-.2h2v-.7h2v.5h2v0h2v-.2h2v.6h2v-.3h2v.4h2v-1h2v.8h2v0h2v.3h2v-.5h2v.3h2v-.1h2v0h2v-.8h2v.5h2v.1h2v.3h2v.1h2v-.2h2v-.2h2v-.7h2v.4h2v-.1h2v.3h2v.4h2v0h2v0h2v0h2v-1.1h2v1.3h2v-1h2v.2h2v0h2v.1h2v-.2h2v-.8h2v1.5h2v-.3h2v0h2v.5h2v-.1h2v-.8h2v.1h2v.8h2v-.3h2v-1.2h2v1.3h2v-.5h2v.7h2v-.7h2v.7h2v0h2v-.4h2v.1h2v-.7h2v.6h2v-.2h2v-.9h2v.3h2v.8h2v-.2h2v.6h2v-.9h2v.7h2v.2h2v0h2v-.5h2v.3h2v.2h2v-.8h2v.5h2v.2h2v-.2h2v-.8h2v-.1h2v.8h2v.4h2v-.5h2v-1.1h2v1.1h2v.4h2v.1h2v0h2v-.1h2v-.9h2v.4h2v-.1h2v.1h2v-.2h2v.7h2v.1h2v-.5h2v.2h2v-.2h2v.5h2v-.1h2v-.2h2v-.2h2v-.3h2v.7h2v-.2h2v-.7h2v.4h2v.4h2v-.2h2v-.1h2v.1h2v.4h2v-.1h2v-1h2v1.1h2v-.3h2v.3h2v0h2v-.2h2v.2h2v-.4h2v.1h2v0h2v-1h2v1h2v0h2v.3h2v-.3h2v-.3h2v.4h2v.1h2v-.7h2v.2h2v-.3h2v.8h2v0h2v-1.3h2v1.3h2v-.2h2v.1h2v-1.8h2v1.6h2v.4h2v-.7h2v.1h2v.5h2v-.5h2v.2h2v.2h2v-.9h2v1h2v.1h2v-.6h2v.1h2v-1.5h2v1.7h2v.3h2v-.5h2v.5h2v-.2h2v-1.1h2v.2h2v.1h2v0h2v.5h2v-.6h2v.7h2v-.4h2v.6h2v-.4h2v.1h2v.3h2v0h2v.1h2v-.8h2v.9h2v-.4h2v-.3h2v.7h2v-.3h2v.1h2v0h2v-.5h2v-.4h2v.5h2v-.4h2v.5h2v.4h2v-.1h2v-.1h2v-.5h2v.7h2v-.1h2v.2h2v-.4h2v0h2v0h2v.4h2v0h2v-.2h2v-.1h2v-1.1h2v1.4h2v-2.6h2v2.2h2v-.1h2v-.4h2v0h2v.8h2v0h2v-.2h2v0h2v.1h2v-.5h2v-.2h2v-.5h2v.8h2v-.3h2v.8h2v-.5h2v.1h2v.3h2v-.4h2v-.1h2v.7h2v-.4h2v.4h2v-.7h2v-.9h2v.8h2v.7h2v-.3h2v-.3h2v.2h2v.4h2v0h2v-.5h2v.2h2v.2h2v-.4h2v0h2v.1h2v.4h2v-.1h2v-.7h2v.9h2v-.9h2v.9h2v-1.1h2v.3h2v-.1h2v-1.4h2v1.4h2v-.3h2v.8h2v0h2v-.6h2v.6h2v.4h2v-.4h2v-.3h2v.6h2v-1.1h2v.8h2v.4h2v-.1h2v-.6h2v0h2v.6h2v-.1h2v0h2v-1h2v1.2h2v-.4h2v.3h1v6.7h-1v-.2h-2v.8h-2v.3h-2v-1.3h-2v.1h-2v.1h-2v1h-2v-1h-2v0h-2v-.2h-2v.5h-2v-.5h-2v.3h-2v-.2h-2v1.2h-2v-1.1h-2v1.8h-2v-1.6h-2v-.3h-2v.3h-2v-.5h-2v1.2h-2v-.9h-2v-.1h-2v1.1h-2v-.9h-2v-.3h-2v0h-2v.1h-2v-.1h-2v.3h-2v-.3h-2v.6h-2v-.4h-2v-.1h-2v.9h-2v-.6h-2v-.3h-2v.4h-2v-.1h-2v0h-2v-.3h-2v1.1h-2v-.1h-2v-1h-2v.4h-2v-.3h-2v.8h-2v-.7h-2v0h-2v1.1h-2v-1.3h-2v1h-2v-.2h-2v0h-2v-.9h-2v.1h-2v1h-2v-1.1h-2v.2h-2v.3h-2v.2h-2v-.5h-2v1.2h-2v-1.4h-2v-.1h-2v.8h-2v-.6h-2v0h-2v1.2h-2v-.2h-2v-1.2h-2v1.5h-2v-.4h-2v-.9h-2v-.2h-2v.7h-2v-.6h-2v.7h-2v.3h-2v-.8h-2v-.1h-2v.4h-2v0h-2v.3h-2v-.8h-2v.3h-2v-.4h-2v.3h-2v.5h-2v-.4h-2v1.2h-2v-1h-2v-.4h-2v0h-2v.1h-2v.6h-2v-.8h-2v-.1h-2v.1h-2v.1h-2v.2h-2v1.1h-2v.2h-2v-1.6h-2v.4h-2v0h-2v0h-2v-.3h-2v.3h-2v-.5h-2v.5h-2v-.3h-2v.4h-2v-.4h-2v.5h-2v-.2h-2v-.1h-2v.5h-2v-.9h-2v1.7h-2v-1.6h-2v.2h-2v.1h-2v-.1h-2v1.3h-2v-1.1h-2v-.5h-2v0h-2v.1h-2v.4h-2v-.2h-2v-.3h-2v.1h-2v.3h-2v.8h-2v-.8h-2v.1h-2v.1h-2v-.6h-2v.1h-2v0h-2v-.1h-2v1.2h-2v-.8h-2v-.1h-2v.1h-2v-.1h-2v1.2h-2v-1.2h-2v-.2h-2v.2h-2v-.1h-2v-.2h-2v.6h-2v.3h-2v-.7h-2v.6h-2v-.2h-2v.5h-2v-.2h-2v-.6h-2v0h-2v-.3h-2v.4h-2v.1h-2v-.3h-2v.1h-2v-.2h-2v.2h-2v0h-2v.3h-2v-.4h-2v.4h-2v-.1h-2v0h-2v-.5h-2v.1h-2v.2h-2v.4h-2v.3h-2v-.8h-2v.2h-2v-.4h-2v.3h-2v.1h-2v-.3h-2v-.1h-2v0h-2v.4h-2v.1h-2v-.2h-2v1.4h-2v-1.7h-2v.4h-2v.7h-2v-.4h-2v-.1h-2v0h-2v-.2h-2v-.1h-2v.3h-2v-.3h-2v.2h-2v-.2h-2v0h-2v-.3h-2v1.3h-2v-.7h-2v1h-2v-.5h-2v-1h-2v0h-2v.5h-2v-.2h-2v-.1h-2v.3h-2v-.6h-2v.9h-2v0h-2v-.5h-2v.1h-2v0h-2v-.4h-2v.4h-2v-.2h-2v1.2h-2v-.8h-2v-.4h-2v.1h-2v-.1h-2v.1h-2v.2h-2v.4h-2v-.6h-2v1.1h-2v-.5h-2v-.8h-2v0h-2v.5h-2v.5h-2v-1.1h-2v.8h-2v-.3h-2v-.4h-2v.7h-2v-.8h-2v.2h-2v-.2h-2v.1h-2v.3h-2v-.4h-2v.2h-2v.8h-2v-1.1h-2v.8h-2v-.7h-2v.2h-2v1.2h-2v-1.1h-2v0h-2v.4h-2v-.5h-2v1.2h-2v-1.3h-2v.5h-2v0h-2v-.5h-2v.1h-2v.1h-2v.2h-2v.7h-2v-.1h-2v-1.2h-2v.4h-2v-.4h-2v.8h-2v-.7h-2v0h-2v0h-2v-.1h-2v.9h-2v.2h-2v-.2h-2v-.7h-2v-.1h-2v-.1h-2v.1h-2v1.1h-2v-.7h-2v-.5h-2v.3h-2v.7h-2v-.9h-2v1.8h-2v-1.1h-2v-.3h-2v.3h-2v-.1h-2v-.7h-2v.2h-2v0h-2v1.1h-2v-.5h-2v-.5h-2v-.2h-2v.2h-2v1.1h-2v-1.4h-2v.3h-2v.3h-2v1.1h-2v-1.7h-2v1.1h-2v-.3h-2v-.6h-2v-.2h-2v0h-2v1.2h-2v-.7h-2v.8h-2v-.6h-2v0h-2v.6h-2v-1.3h-2v.6h-2v-.6h-2v1.8h-2v-.6h-2v.4h-2v-1h-2v.7h-2v-.9h-2v-.1h-2v.1h-2v-.4h-2v.1h-2v0h-2v.2h-2v.3h-2v-.6h-2v.2h-2v.2h-2v0h-2v.5h-2v-.6h-2v.5h-2v.1h-2v-.7h-2v.9h-2v-.5h-2v-.5h-2v.4h-2v-.1h-2v.6h-2v-1h-2v1.3h-2v-.4h-2v.5h-2v-1h-2v-.1h-2v-.2h-2v.2h-2v-.2h-2v.5h-2v-.2h-2v.9h-2v-.2h-2v-.9h-2v.5h-2v.8h-2v-1h-2v-.5h-2v.9h-2v-.6h-2v0h-2v.4h-2v-.6h-2v1.3h-2v-1h-2v-.3h-2v.2h-2v-.2h-2v.3h-2v.7h-2v-.6h-2v-.2h-2v.4h-2v-.2h-2v0h-2v.4h-2v-.5h-2v-.3h-2v.3h-2v.1h-2v-.3h-2v-.1h-2v-.1h-2v0h-2v.1h-2v.8h-2v-.3h-2v-.3h-2v-.1h-2v.7h-2v-.6h-2v.6h-2v-.9h-2v.4h-2v.6h-2v-.7h-2v.4h-2v-.7h-2v1.1h-2v-.9h-2v-.1h-2v.9h-2v-.3h-2v-.3h-2v.1h-2v-.5h-2v.3h-2v.3h-2v.7h-2v-1.2h-2v.1h-2v-.1h-2v.4h-2v-.2h-2v.9h-2v-.3h-2v.4h-2v-.6h-2v-.4h-2v-.2h-2v0h-2v1.1h-2v-1.1h-2v.7h-2v-.2h-2v.3h-2v-.6h-2v-.3h-2v1h-2v-1h-2v.6h-2v1.2h-2v-1.7h-2v.4h-2v.4h-2v-.7h-2v-.2h-2v.7h-2v.4h-2v-.2h-2v-.5h-2v-.3h-2v.7h-2v-.4h-2v-.3h-2v0h-2v-.1h-2v1h-2v-.9h-2v-.1h-2v.4h-2v-.4h-2v.3h-2v-.3h-2v1h-2v-1h-2v0h-2v1.8h-2v-1.8h-2v0h-2v.5h-2v-.5h-2v1h-2v-.9h-2v-.1h-2v1.8h-2v-1.1h-2v.1h-2v.1h-2v-.9h-2v.8h-2v-.1h-2v0h-2v-.3h-2v.1h-2v-.1h-2v-.4h-2v0h-2v1.1h-2v-1h-2v.5h-2v.2h-2v.1h-2v-.4h-2v.7h-2v-.5h-2v-.2h-2v.8h-2v-1.3h-2v0h-2v.3h-2v.8h-2v-.4h-2v-.7h-2v.4h-2v-.1h-2v.1h-2v.7h-2v-.9h-2v1.2h-2v-1.1h-2v-.3h-2v1.4h-2v-1h-2v-.2h-2v.9h-2v-.5h-2v-.2h-2v-.2h-2v.3h-2v-.2h-2v.8h-2v-.8h-2v.6h-2v-.7h-2v.3h-2v-.5h-2v.3h-2v1.3h-2v-.8h-2v-.5h-2v.5h-2v-.8h-2v1.4h-2v-1.2h-2v.2h-2v.7h-2v.6h-2v-.9h-2v0h-2v-.1h-2v-.5h-2v-.1h-2v1.5h-2v-1h-2v-.2h-2v.7h-2v-1h-2v.1h-2v.2h-2v-.3h-2v-.1h-2v1h-2v-.4h-2v-.6h-2v.3h-2v.4h-2v.7h-2v.1h-2v-1.1h-2v.5h-2v-.7h-2v.3h-2v0h-2v.4h-2v-.4h-2v-.4h-2v.6h-2v0h-2v-.1h-2v-.1h-2v.3h-2v.7h-2v-1.3h-2v.5h-2v-.2h-2v-.2h-2v0h-2v.4h-2v-.6h-2v1.3h-2v-1.3h-2v.6h-2v-.7h-2v.4h-2v-.4h-2v1.1h-2v-.6h-2v0h-2v.1h-2v-.5h-2v.2h-2v.6h-2v-.9h-2v.4h-2v.1h-2v-.3h-2v.1h-2v0h-2v-.1h-2v.6h-2v-.4h-2v.7h-2v.6h-2v-1.6h-2v0h-2v.3h-2v.4h-2v.1h-2v-.5h-2v.3h-2v-.3h-2v.4h-2v-.4h-2v-.2h-2v0h-2v0h-2v.4h-2v-.1h-2v-.4h-2v0h-2v.7h-2v-.5h-2v0h-2v1.3h-2v-1.5h-2v1.1h-2v-.8h-2v.2h-2v.2h-2v.1h-2v-.6h-2v.1h-2v.6h-2v-.6h-2v.1h-2v-.2h-2v0h-2v.4h-2v-.6h-2v.6h-2v-.6h-2v-.1h-2v0h-2v1.4h-2v-.6h-2v1.7h-2v-2.5h-2v.8h-2v-.8h-2v1.1h-2v-.7h-2v-.2h-2v-.1h-2v.5h-2v-.1h-2v0h-2v-.3h-2v.1h-2v-.1h-2v-.2h-2v.2h-2v.8h-2v.1h-2v-.8h-2v-.3h-2v.2h-2v0h-2v.3h-2v1h-2v-1.5h-2v.5h-2v.8h-2v-.9h-2v.3h-2v-.6h-2v.8h-2v-.5h-2v-.1h-2v.4h-2v-.2h-2v-.4h-2v-.1h-2v.6h-2v-.5h-2v.1h-2v-.1h-2v.6h-2v.1h-2v-.4h-2v-.2h-2v-.1h-2v1.2h-2v-1h-2v-.1h-2v1.4h-2v-1.6h-2v.2h-2v.2h-2v-.2h-2v.3h-2v-.2h-2v-.2h-2v.7h-2v.2h-2v-.7h-2v1.3h-2v.2h-2v-.3h-2v-1.3h-2v-.1h-2v0h-2v-.1h-2v.7h-2v-.7h-2v2.6h-2v-1.8h-2v-.7h-2v-.1h-2v.5h-2v.2h-2v-.4h-2v.2h-2v.6h-2zM231 756.3h1v1.1h1v-.9h1v-.5h1v.8h1v1h1v0h1v0h1v0h1v-1.6h1v1.6h1v-.2h1v.3h1v-.2h1v-.1h1v-.7h1v-.3h1v.4h1v-1.4h1v1.9h1v-.5h1v.5h1v-.6h1v.8h1v-1h1v1.1h1v-.2h1v-2.5h1v1.9h1v-.2h1v.8h1v-1.2h1v.9h1v.4h1v-1.2h1v.9h1v0h1v.4h1v0h1v0h1v-.7h1v.6h1v.1h1v-.3h1v0h1v.4h1v-1.2h1v1.1h1v-1.6h1v1.2h1v.1h1v-.1h1v-.3h1v-.5h1v.5h1v.6h1v-.6h1v-.4h1v.7h1v-.3h1v.4h1v.4h1v0h1v-.6h1v-.1h1v-2.2h1v2.7h1v-.8h1v1h1v-.2h1v.2h1v-.4h1v.2h1v-.6h1v.4h1v-.1h1v-.7h1v.4h1v.3h1v-.2h1v-.3h1v.5h1v.2h1v-1.1h1v1h1v-.1h1v0h1v0h1v.3h1v.2h1v-.3h1v.3h1v-.5h1v.2h1v-1.7h1v1.7h1v-1.6h1v1.4h1v-.3h1v-.2h1v.5h1v.3h1v-.8h1v1h1v-2.1h1v1.8h1v.2h1v-.2h1v.1h1v-.7h1v.4h1v.3h1v-.7h1v.7h1v.1h1v-.4h1v.3h1v-.9h1v.9h1v-.8h1v.9h1v0h1v-1.4h1v.1h1v.9h1v-.2h1v.6h1v-.5h1v.3h1v-1.2h1v1.4h1v-.8h1v-.3h1v.3h1v-.4h1v1.1h1v-.8h1v.3h1v.5h1v.2h1v-.5h1v.4h1v-1.6h1v.4h1v.9h1v0h1v.1h1v.2h1v-.1h1v0h1v-.4h1v.1h1v.3h1v-.3h1v-.7h1v.6h1v-.4h1v-.2h1v.9h1v-.5h1v0h1v-.9h1v1.6h1v-1.3h1v1h1v-.3h1v.7h1v-.8h1v.4h1v-.2h1v-.9h1v-.2h1v1.1h1v-.2h1v.6h1v.1h1v-.5h1v.4h1v-.2h1v-1.2h1v1.2h1v-.5h1v.7h1v-.6h1v.6h1v.1h1v-.2h1v.1h1v-.4h1v.6h1v-.4h1v.3h1v.1h1v-.2h1v-.5h1v-.3h1v.5h1v-.3h1v.7h1v-.5h1v.1h1v.2h1v-.4h1v-.9h1v1.2h1v-.5h1v.6h1v0h1v-.2h1v.4h1v-.6h1v0h1v-.1h1v.8h1v-.2h1v0h1v0h1v-.1h1v.2h1v-.6h1v.6h1v0h1v-.4h1v-.2h1v0h1v.5h1v0h1v-1.2h1v.4h1v.8h1v0h1v.1h1v-.6h1v.6h1v-.1h1v-.2h1v.1h1v0h1v-.1h1v0h1v0h1v.1h1v-.8h1v1h1v-1.1h1v.3h1v.5h1v-1.1h1v.9h1v-1.4h1v1.8h1v-.1h1v-.6h1v.8h1v-1.3h1v1.3h1v-.6h1v.4h1v.2h1v-1.5h1v1.1h1v-.3h1v.3h1v-.1h1v.3h1v-.1h1v.2h1v.1h1v-1.8h1v.4h1v1.1h1v-.2h1v-.7h1v1.2h1v-.2h1v.1h1v0h1v.1h1v-.6h1v.2h1v.3h1v.1h1v.1h1v-.5h1v.2h1v.3h1v-1.3h1v.3h1v.5h1v.4h1v-.1h1v.1h1v-.3h1v-.4h1v0h1v.7h1v-.1h1v-.1h1v-.5h1v.3h1v0h1v-.4h1v.4h1v.1h1v-.9h1v.8h1v.1h1v-.3h1v-.8h1v1.4h1v-.8h1v.8h1v0h1v-1h1v.6h1v.3h1v-.2h1v-.3h1v.6h1v-.3h1v-.3h1v.5h1v-.9h1v.4h1v-.6h1v.4h1v.8h1v-.6h1v.5h1v0h1v-.5h1v-.1h1v-.5h1v1.2h1v0h1v.1h1v-1h1v-.3h1v.7h1v.3h1v-.5h1v-.5h1v1.1h1v-.5h1v.7h1v-.3h1v.1h1v-1h1v1.1h1v-.2h1v.2h1v-1.6h1v1.5h1v0h1v.1h1v-1.2h1v1h1v.2h1v-.6h1v.2h1v-.2h1v.3h1v.2h1v0h1v-1.2h1v1.2h1v-.5h1v.6h1v-1h1v.7h1v-.2h1v-.4h1v.4h1v0h1v.4h1v-1.2h1v1h1v-.1h1v.1h1v-.4h1v.3h1v-.2h1v0h1v0h1v0h1v0h1v0h1v-.1h1v-.2h1v-.2h1v1.2h1v-.7h1v.3h1v-.3h1v.4h1v-.9h1v.5h1v.5h1v-.4h1v.4h1v-.9h1v1.1h1v-.2h1v-.4h1v.2h1v.2h1v.1h1v-.3h1v-.6h1v.8h1v-.1h1v.1h1v-.1h1v.1h1v-.2h1v-.2h1v-.2h1v-.4h1v.9h1v-.4h1v-.4h1v.8h1v-.1h1v-.5h1v.7h1v-1.7h1v1.9h1v-1.1h1v.8h1v.1h1v.1h1v.1h1v-.7h1v-.2h1v-1h1v1.7h1v-1.2h1v1.1h1v.2h1v0h1v-.4h1v.5h1v-.4h1v-.2h1v.5h1v-1.1h1v-1.2h1v2.2h1v-.1h1v-.2h1v-.2h1v-.7h1v.9h1v.5h1v0h1v-.2h1v-1.2h1v.4h1v.8h1v.1h1v-.4h1v-.4h1v.3h1v.5h1v.1h1v-.8h1v-.1h1v-.1h1v.4h1v.3h1v-1.5h1v1h1v.6h1v-.6h1v.1h1v-1h1v1.5h1v-.1h1v.2h1v.1h1v-.6h1v.5h1v-1.1h1v.6h1v-.4h1v.3h1v-.5h1v.9h1v-1h1v.9h1v0h1v.1h1v-.4h1v.3h1v-.4h1v-.9h1v.9h1v.3h1v-.3h1v.7h1v-.1h1v-.5h1v.4h1v-.7h1v.7h1v-.7h1v.9h1v-.1h1v-.8h1v-.5h1v1.5h1v-.6h1v-1.2h1v1.3h1v-.7h1v.3h1v-.7h1v1.4h1v0h1v-.9h1v.9h1v-1.6h1v1.3h1v-.2h1v.1h1v-.3h1v.1h1v-1.8h1v2.4h1v-.3h1v.5h1v-1.3h1v.7h1v.1h1v-.4h1v-.1h1v-.3h1v.7h1v0h1v.4h1v-.1h1v-.5h1v0h1v-.4h1v1.1h1v-1.2h1v1.3h1v-.7h1v.3h1v-.2h1v.5h1v-1.3h1v1.3h1v.1h1v-.6h1v.5h1v-.1h1v-.1h1v.1h1v-.1h1v-.8h1v.4h1v.7h1v-.1h1v-.2h1v.3h1v-.3h1v-.7h1v.7h1v0h1v-1.1h1v.9h1v.4h1v-1.6h1v1.5h1v-.5h1v.2h1v-.4h1v.8h1v0h1v-.8h1v.2h1v0h1v-.1h1v.8h1v-.4h1v-.5h1v.8h1v-.4h1v.4h1v-.1h1v-.3h1v0h1v-.5h1v0h1v.9h1v-1.1h1v-.6h1v.8h1v-.4h1v1.2h1v.2h1v0h1v-.2h1v-.2h1v-.2h1v.5h1v-.7h1v.3h1v.4h1v-.9h1v.5h1v.2h1v-.3h1v.3h1v-.5h1v.3h1v.2h1v-.3h1v.2h1v-.7h1v-.7h1v1h1v-1.2h1v1.6h1v.2h1v.1h1v.1h1v-.3h1v0h1v-.6h1v.5h1v-1.1h1v-.3h1v0h1v1.8h1v-.3h1v-.6h1v-1.6h1v2.1h1v.3h1v-.1h1v-.1h1v-.2h1v.4h1v-.2h1v0h1v.3h1v-.1h1v0h1v-.4h1v-.7h1v1h1v-.1h1v.1h1v-.4h1v-.1h1v.4h1v.2h1v-.5h1v-.1h1v.2h1v-.6h1v.8h1v-.7h1v.9h1v-.3h1v-.2h1v.1h1v.3h1v-2.6h1v2.7h1v-.3h1v.1h1v.2h1v-1.8h1v1.6h1v-.1h1v.2h1v-.5h1v.5h1v-1.8h1v1.2h1v.5h1v-.1h1v-.5h1v.9h1v-.4h1v.2h1v.2h1v-.4h1v-2h1v1.7h1v-.5h1v.4h1v.3h1v-.8h1v.9h1v.2h1v-.1h1v-.7h1v.9h1v-.1h1v-.9h1v.6h1v-.6h1v1h1v-.9h1v.5h1v.3h1v0h1v-.5h1v.1h1v0h1v.1h1v-.2h1v.6h1v-.1h1v.1h1v-1.1h1v.6h1v.4h1v-.6h1v-.9h1v1.3h1v-.7h1v.7h1v.3h1v-.1h1v-.3h1v.5h1v-.2h1v-1.3h1v.8h1v.2h1v-.5h1v.4h1v-.2h1v-.2h1v1h1v-.8h1v.6h1v.1h1v-.7h1v-.9h1v.7h1v.6h1v-.2h1v-1.9h1v1.6h1v.6h1v0h1v-.2h1v.4h1v-.7h1v-1h1v1.1h1v0h1v-.1h1v-.1h1v.9h1v-.5h1v-.1h1v-.4h1v.6h1v-.2h1v.3h1v-.1h1v-.3h1v.1h1v.3h1v.3h1v-.4h1v-.2h1v.3h1v0h1v.2h1v0h1v-.1h1v-2.2h1v1.7h1v.2h1v.4h1v0h1v-.1h1v.1h1v-.5h1v-.4h1v.8h1v-.7h1v.2h1v.5h1v-.2h1v.3h1v-.3h1v-1.2h1v1.2h1v.2h1v-1h1v1.1h1v0h1v-.2h1v.3h1v-.6h1v.5h1v-1.2h1v1.2h1v-.2h1v-.1h1v.3h1v-.1h1v.1h1v-.9h1v.4h1v-1.1h1v1.5h1v0h1v-.2h1v.4h1v-.7h1v.1h1v0h1v.6h1v-.3h1v.1h1v-.3h1v-.3h1v.2h1v0h1v-.7h1v1.1h1v-1h1v.9h1v.1h1v-.7h1v.2h1v-.6h1v1.1h1v-.9h1v1.1h1v-.5h1v.5h1v-.9h1v-.3h1v1.1h1v-.4h1v.2h1v-.3h1v.2h1v.3h1v-.3h1v.3h1v0h1v-.5h1v0h1v-.1h1v-.1h1v-1.2h1v1.3h1v.4h1v-.6h1v.9h1v-.5h1v.4h1v-.8h1v.6h1v-.2h1v.1h1v-.4h1v.6h1v-1.3h1v1.2h1v.2h1v-1.1h1v.5h1v.6h1v0h1v-.2h1v-.2h1v-.4h1v-1.1h1v1.6h1v.1h1v-.7h1v1h1v-1.4h1v.6h1v.6h1v0h1v0h1v-.3h1v-.2h1v.4h1v.2h1v-.3h1v-.3h1v.6h1v-.4h1v.1h1v0h1v.4h1v-1.4h1v.5h1v.4h1v.5h1v0h1v0h1v-.7h1v-.3h1v1h1v-.2h1v-.6h1v.8h1v0h1v-.8h1v-.1h1v.6h1v-.5h1v.8h1v-.2h1v-.7h1v.2h1v-.6h1v-.5h1v1.3h1v.3h1v-.3h1v-1.3h1v.4h1v1h1v.3h1v-.7h1v.7h1v-1.4h1v1.4h1v-1.1h1v.4h1v-.8h1v1.5h1v0h1v-.3h1v0h1v.2h1v-.9h1v.8h1v.3h1v-.6h1v-.2h1v.7h1v-.9h1v.3h1v0h1v.5h1v-.2h1v.2h1v0h1v.1h1v-.2h1v.3h1v-.6h1v.2h1v-.3h1v-.1h1v.8h1v-.3h1v0h1v-1.1h1v.8h1v.5h1v-1.1h1v.2h1v0h1v-.1h1v.4h1v.3h1v-.1h1v.2h1v-.7h1v.2h1v.6h1v0h1v-1.4h1v.2h1v1h1v.1h1v.2h1v-.8h1v.9h1v-.4h1v.3h1v-.7h1v.5h1v.2h1v-.3h1v-.4h1v.7h1v.1h1v-1.2h1v.6h1v.6h1v-.5h1v-.5h1v.2h1v.1h1v-.1h1v-.9h1v1.5h1v-.3h1v-.7h1v.7h1v-.3h1v-.5h1v1.3h1v-.2h1v-.4h1v-.1h1v.2h1v.1h1v-.7h1v.6h1v.1h1v.1h1v-.6h1v.9h1v-1.1h1v-.3h1v1.2h1v-1.7h1v1.5h1v.4h1v-.9h1v.8h1v-.4h1v.1h1v0h1v.3h1v0h1v-.1h1v.1h1v-1.5h1v1.5h1v-.9h1v.4h1v.2h1v0h1v-.7h1v.6h1v.4h1v-.3h1v.2h1v-.2h1v-1.8h1v2.2h1v-.7h1v-.3h1v.4h1v0h1v.6h1v-.5h1v-.9h1v1.1h1v-.3h1v-.1h1v.4h1v-.8h1v.1h1v-.6h1v1.6h1v-.4h1v.2h1v-.4h1v.6h1v-1.4h1v1.3h1v-.2h1v-.1h1v.3h1v-.2h1v-.3h1v.3h1v.2h1v-.7h1v.6h1v-1.3h1v.3h1v.1h1v1h1v.1h1v-.2h1v-.1h1v.3h1v-.8h1v-.8h1v1.1h1v-.7h1v1.1h1v0h1v-2.2h1v2.1h1v-.4h1v-.5h1v.6h1v-.7h1v.6h1v.5h1v-.1h1v-.5h1v.4h1v-.1h1v.3h1v-1h1v1h1v-1.3h1v1.3h1v-.5h1v0h1v.2h1v.1h1v-1.2h1v1h1v.1h1v-.9h1v1.3h1v-.3h1v-.2h1v-1.5h1v.9h1v.7h1v0h1v.3h1v-.6h1v.4h1v.2h1v0h1v-.9h1v1h1v-.6h1v.6h1v-.5h1v.2h1v-.1h1v.4h1v-.4h1v-.8h1v.4h1v.1h1v-.6h1v-.1h1v.6h1v.6h1v0h1v-.9h1v.6h1v.3h1v-.6h1v.4h1v.3h1v-.4h1v-.8h1v0h1v.9h1v-.6h1v-.4h1v.7h1v0h1v.6h1v-.1h1v.1h1v-.1h1v-.8h1v.3h1v.4h1v-1h1v.8h1v.4h1v-.6h1v.5h1v.2h1v-.3h1v-.3h1v-.5h1v1h1v-2h1v1.7h1v-.2h1v-1.1h1v.4h1v1.2h1v-.5h1v-.4h1v.3h1v.3h1v0h1v-.9h1v.7h1v.2h1v-.3h1v.3h1v0h1v-.6h1v.2h1v.6h1v-.3h1v.2h1v-1.4h1v.6h1v.4h1v-.8h1v1.4h1v-.1h1v-1.6h1v1.3h1v.3h1v-.7h1v.3h1v.6h1v-.1h1v-.4h1v.5h1v-.9h1v.5h1v.2h1v-.2h1v-.1h1v-.9h1v.6h1v.7h1v0h1v-.1h1v-.8h1v.1h1v.6h1v.2h1v0h1v-1.6h1v1.6h1v-.4h1v.3h1v-.1h1v0h1v-.2h1v-.1h1v-.7h1v-.1h1v.5h1v-2h1v2.4h1v.2h1v-.9h1v1h1v-.1h1v.1h1v.2h1v-.3h1v0h1v.3h1v-1.7h1v1.4h1v0h1v-1.2h1v1.1h1v.3h1v-.1h1v-.5h1v-.3h1v.4h1v.5h1v-.3h1v.4h1v-.7h1v.6h1v-.9h1v1h1v-.4h1v.2h1v-.9h1v1h1v-.5h1v.2h1v-.6h1v-.1h1v.6h1v-.9h1v.1h1v.5h1v-.5h1v.1h1v.3h1v.1h1v.2h1v.2h1v-.9h1v1.3h1v-.3h1v-.5h1v.8h1v-.8h1v-.3h1v-.2h1v1h1v.1h1v-.7h1v.6h1v.3h1v-.6h1v.3h1v-.6h1v-.9h1v.9h1v-.3h1v1h1v.1h1v-.8h1v.7h1v.1h1v-.7h1v.7h1v-.6h1v-.1h1v-.4h1v1.1h1v0h1v-.1h1v-1.2h1v1.3h1v-.6h1v-1.6h1v2h1v.1h1v-.7h1v.7h1v0h1v-.9h1v1.1h1v-.6h1v.5h1v-.2h1v0h1v.3h1v-.5h1v.5h1v-.1h1v-.1h1v.1h1v.1h1v-1.3h1v.9h1v.1h1v-.2h1v.4h1v-1.1h1v-.2h1v.9h1v-.6h1v.6h1v-.1h1v.4h1v-.1h1v.1h1v-.1h1v-.3h1v-.2h1v.1h1v.1h1v-.7h1v.7h1v-.3h1v-.1h1v-.1h1v.4h1v.4h1v-.3h1v.1h1v-.4h1v.8h1v-.1h1v.2h1v-.1h1v.1h1v-.2h1v-.7h1v.8h1v-.5h1v-.6h1v.2h1v.7h1v-2.3h1v.5h1v.4h1v1.2h1v.4h1v-1.1h1v.8h1v.3h1v-.3h1v-.3h1v.6h1v0h1v-.4h1v0h1v-.3h1v.5h1v.3h1v-1.5h1v.8h1v-.6h1v1.1h1v.1h1v-.3h1v-.3h1v0h1v-.1h1v.8h1v-1h1v.3h1v.5h1v-.9h1v.3h1v-.1h1v.6h1v-.1h1v.2h1v-1.5h1v.8h1v.4h1v-.1h1v0h1v-.6h1v.8h1v.4h1v-.7h1v-.2h1v-.2h1v.9h1v.2h1v-.2h1v.2h1v-.1h1v-1.2h1v1h1v-.2h1v-.6h1v1h1v-1h1v-.1h1v.3h1v.1h1v.7h1v-.3h1v-.4h1v.6h1v-.1h1v-.1h1v.2h1v.2h1v-.1h1v-2h1v1.1h1v1h1v9.8h-1v.3h-1v-.5h-1v.1h-1v.3h-1v-.7h-1v.9h-1v-.4h-1v-.5h-1v.7h-1v-.2h-1v-.1h-1v.1h-1v-.6h-1v.2h-1v.2h-1v1.1h-1v-.7h-1v.5h-1v.3h-1v-1.1h-1v.5h-1v.3h-1v-.8h-1v-.3h-1v.1h-1v.2h-1v.6h-1v.4h-1v-1.3h-1v0h-1v.5h-1v-.6h-1v-.1h-1v1h-1v-.7h-1v0h-1v-.3h-1v.3h-1v1.4h-1v-1.1h-1v.1h-1v.3h-1v-.7h-1v.3h-1v-.5h-1v0h-1v0h-1v1.8h-1v-.2h-1v0h-1v-.1h-1v-1.2h-1v1.7h-1v-.5h-1v-1.6h-1v.2h-1v.6h-1v-.1h-1v-.2h-1v.9h-1v-.7h-1v-.7h-1v1.4h-1v-1h-1v3.4h-1v-3.4h-1v-.1h-1v.7h-1v-.2h-1v.3h-1v1.2h-1v-2.1h-1v.4h-1v.4h-1v-.4h-1v-.3h-1v.3h-1v0h-1v-.4h-1v2.4h-1v-2.4h-1v1.5h-1v-1.7h-1v0h-1v.2h-1v1.9h-1v-1.9h-1v1.5h-1v-1.1h-1v-.2h-1v-.2h-1v.4h-1v-.3h-1v0h-1v1.5h-1v-1.4h-1v.6h-1v-.2h-1v.7h-1v-1h-1v.4h-1v-.7h-1v.8h-1v-1h-1v.7h-1v.4h-1v-.2h-1v.4h-1v-1h-1v.1h-1v.4h-1v-.1h-1v-.1h-1v-.3h-1v.6h-1v.2h-1v-.7h-1v0h-1v-.1h-1v.6h-1v-.3h-1v.5h-1v0h-1v-.7h-1v.2h-1v-.2h-1v.1h-1v.5h-1v-.1h-1v.6h-1v-1.2h-1v.1h-1v-.3h-1v.3h-1v-.3h-1v.4h-1v.5h-1v-.5h-1v.4h-1v.2h-1v-.5h-1v-.3h-1v-.1h-1v.7h-1v.6h-1v-.8h-1v.8h-1v.1h-1v-.5h-1v.8h-1v-1.8h-1v.7h-1v-.5h-1v-.2h-1v.1h-1v.1h-1v1h-1v-1.2h-1v.3h-1v.6h-1v-.8h-1v.3h-1v.6h-1v-.1h-1v-.7h-1v-.3h-1v.5h-1v-.5h-1v.9h-1v1.7h-1v-2.2h-1v0h-1v.6h-1v-.7h-1v-.2h-1v-.1h-1v2.3h-1v-1.5h-1v-.3h-1v1h-1v.3h-1v-1.5h-1v0h-1v-.3h-1v.1h-1v1.4h-1v-.8h-1v1.3h-1v-1.7h-1v.6h-1v-.3h-1v-.1h-1v-.5h-1v1.6h-1v-1.5h-1v.7h-1v-.8h-1v1.2h-1v-1.2h-1v0h-1v0h-1v.2h-1v2h-1v-1.9h-1v1.2h-1v-.6h-1v-.8h-1v.3h-1v-.1h-1v.4h-1v-.7h-1v1.6h-1v-1.4h-1v-.1h-1v.5h-1v0h-1v-.3h-1v.6h-1v-.2h-1v1.7h-1v-1.8h-1v-.5h-1v1h-1v.1h-1v-.6h-1v-.3h-1v0h-1v.4h-1v-.2h-1v.7h-1v-.8h-1v.2h-1v.6h-1v-.4h-1v-.7h-1v1.3h-1v-1.3h-1v.7h-1v-.5h-1v-.3h-1v.3h-1v-.1h-1v.1h-1v-.1h-1v1.1h-1v-.5h-1v-.4h-1v-.4h-1v1.2h-1v-.8h-1v.2h-1v-.2h-1v-.1h-1v1.7h-1v-1.7h-1v-.1h-1v-.1h-1v.1h-1v1.2h-1v-.9h-1v-.3h-1v.1h-1v.5h-1v-.1h-1v-.5h-1v-.1h-1v.1h-1v1.4h-1v-1.1h-1v.1h-1v.1h-1v-.1h-1v0h-1v0h-1v.9h-1v-.7h-1v-.3h-1v1h-1v-.7h-1v-.8h-1v0h-1v.1h-1v.7h-1v.7h-1v-.8h-1v.2h-1v-.5h-1v.1h-1v1.5h-1v-1.8h-1v2.1h-1v-1.6h-1v.1h-1v-.2h-1v-.5h-1v.1h-1v1.1h-1v-.4h-1v.3h-1v.1h-1v-.7h-1v.2h-1v.4h-1v-.5h-1v.3h-1v-.2h-1v.5h-1v-.8h-1v.4h-1v.8h-1v-1h-1v-.4h-1v-.3h-1v.3h-1v-.1h-1v-.2h-1v1.1h-1v-.6h-1v-.4h-1v1.7h-1v-1.4h-1v-.2h-1v0h-1v.7h-1v.1h-1v-.9h-1v.1h-1v.2h-1v1.8h-1v-.9h-1v.4h-1v-1.5h-1v.5h-1v0h-1v.5h-1v-.7h-1v.1h-1v1h-1v0h-1v-.1h-1v-.5h-1v-.7h-1v.1h-1v-.2h-1v0h-1v.2h-1v-.2h-1v-.2h-1v.4h-1v1h-1v-.8h-1v1.2h-1v-1.3h-1v.7h-1v-.4h-1v-.1h-1v-.6h-1v.4h-1v-.4h-1v.2h-1v0h-1v.3h-1v.3h-1v-.9h-1v.2h-1v.4h-1v-.6h-1v0h-1v.3h-1v.5h-1v-.4h-1v-.2h-1v.1h-1v-.3h-1v1h-1v-.4h-1v-.1h-1v-.4h-1v2h-1v-.6h-1v-.5h-1v-.8h-1v.8h-1v-.4h-1v-.2h-1v-.2h-1v.6h-1v-.4h-1v-.4h-1v.1h-1v1.3h-1v-.6h-1v-.4h-1v-.2h-1v-.1h-1v.1h-1v.1h-1v.3h-1v-.2h-1v-.1h-1v.1h-1v1.7h-1v-.9h-1v-.9h-1v.3h-1v-.3h-1v.1h-1v.5h-1v-.7h-1v-.2h-1v.7h-1v-.1h-1v.2h-1v-.1h-1v-.5h-1v.3h-1v.3h-1v-.5h-1v.2h-1v.1h-1v1.4h-1v-1.7h-1v.9h-1v-1.1h-1v.4h-1v0h-1v-.3h-1v.5h-1v.7h-1v-.1h-1v-.6h-1v-.2h-1v-.4h-1v.3h-1v0h-1v1.4h-1v-.7h-1v-.4h-1v-.7h-1v.5h-1v1h-1v-.2h-1v-.1h-1v-.9h-1v.8h-1v-.4h-1v1.7h-1v-1.6h-1v-.3h-1v-.3h-1v1.7h-1v-1.8h-1v.4h-1v-.3h-1v2.3h-1v-.8h-1v-1.4h-1v.1h-1v.4h-1v-.3h-1v.3h-1v-.4h-1v-.1h-1v1.6h-1v-.6h-1v-.9h-1v-.2h-1v.2h-1v1.4h-1v-1.7h-1v0h-1v.7h-1v-.5h-1v.3h-1v-.3h-1v-.1h-1v.2h-1v.1h-1v.2h-1v-.4h-1v.6h-1v-.3h-1v-.5h-1v0h-1v1.2h-1v-1.2h-1v1.7h-1v-1.7h-1v.7h-1v.8h-1v-.3h-1v-.8h-1v.4h-1v1.2h-1v-1.1h-1v-.4h-1v-.1h-1v-.5h-1v.2h-1v0h-1v.5h-1v-.5h-1v1h-1v-1h-1v.5h-1v-.6h-1v-.1h-1v.3h-1v1h-1v-1.1h-1v.8h-1v1h-1v-.6h-1v-.2h-1v-1h-1v-.1h-1v.3h-1v0h-1v.2h-1v-.1h-1v-.3h-1v.2h-1v-.4h-1v.9h-1v-.1h-1v-.2h-1v0h-1v-.2h-1v.8h-1v-1.2h-1v1.7h-1v-1.5h-1v-.1h-1v.3h-1v.4h-1v.9h-1v-1.2h-1v1.6h-1v-1.6h-1v.3h-1v-.7h-1v.4h-1v.8h-1v-1.3h-1v.2h-1v1.4h-1v-1.3h-1v-.3h-1v2.4h-1v-2.1h-1v.7h-1v-.9h-1v1h-1v.8h-1v-.4h-1v-.4h-1v-.6h-1v.4h-1v-.8h-1v.5h-1v-.6h-1v0h-1v1.1h-1v-.6h-1v-.1h-1v-.3h-1v.6h-1v-.5h-1v.1h-1v.4h-1v.6h-1v-1.1h-1v.3h-1v.2h-1v-.3h-1v-.4h-1v.5h-1v-.1h-1v-.2h-1v.7h-1v.5h-1v-.3h-1v-1h-1v.2h-1v.3h-1v.2h-1v0h-1v0h-1v-.1h-1v.5h-1v-.6h-1v.1h-1v-.5h-1v-.1h-1v.7h-1v-.7h-1v.2h-1v.5h-1v0h-1v.3h-1v-.9h-1v.7h-1v-.6h-1v.1h-1v.4h-1v-.4h-1v.1h-1v-.2h-1v.4h-1v-.7h-1v.3h-1v-.3h-1v.6h-1v-.6h-1v.5h-1v.1h-1v-.3h-1v1.1h-1v-.7h-1v-.1h-1v0h-1v.3h-1v-.8h-1v1.2h-1v-1.2h-1v.4h-1v.7h-1v-.9h-1v-.2h-1v.4h-1v-.4h-1v.6h-1v-.6h-1v.4h-1v.7h-1v.5h-1v-1h-1v-.6h-1v.1h-1v1.8h-1v-1.9h-1v.6h-1v0h-1v0h-1v0h-1v1.2h-1v-1.7h-1v.5h-1v0h-1v1.6h-1v-2h-1v-.1h-1v0h-1v.2h-1v.2h-1v-.3h-1v-.3h-1v.5h-1v-.4h-1v0h-1v1h-1v-.5h-1v-.6h-1v.8h-1v1.1h-1v-1.6h-1v-.3h-1v1.1h-1v.1h-1v-1.1h-1v.2h-1v.3h-1v-.1h-1v.1h-1v-.2h-1v.4h-1v-.3h-1v.2h-1v-.2h-1v-.4h-1v.8h-1v.5h-1v-.7h-1v-.7h-1v.4h-1v-.1h-1v.2h-1v.1h-1v-.5h-1v.1h-1v.1h-1v.3h-1v-.1h-1v0h-1v0h-1v.3h-1v-.5h-1v.1h-1v-.4h-1v.8h-1v-.6h-1v.2h-1v-.4h-1v0h-1v.6h-1v-.2h-1v-.1h-1v.1h-1v.6h-1v.3h-1v-1h-1v1.1h-1v-1.2h-1v.5h-1v.1h-1v-.3h-1v.1h-1v.4h-1v-.5h-1v.2h-1v-.4h-1v.8h-1v-.8h-1v.5h-1v-.5h-1v-.3h-1v.5h-1v.7h-1v-.8h-1v-.2h-1v-.1h-1v.1h-1v1.5h-1v.2h-1v-.6h-1v-1.3h-1v0h-1v.6h-1v-.5h-1v.2h-1v1.6h-1v-1.5h-1v0h-1v.1h-1v-.3h-1v-.1h-1v.2h-1v.4h-1v-.3h-1v.8h-1v-.5h-1v-.2h-1v-.1h-1v.3h-1v-.2h-1v.8h-1v-.5h-1v-.8h-1v.3h-1v-.1h-1v1.1h-1v-1.3h-1v1h-1v-.8h-1v.2h-1v-.4h-1v.1h-1v.4h-1v.3h-1v-.6h-1v0h-1v-.1h-1v.2h-1v-.3h-1v.3h-1v.2h-1v.2h-1v-.6h-1v0h-1v.3h-1v.8h-1v-1.2h-1v.9h-1v-.2h-1v-.5h-1v.3h-1v-.4h-1v.1h-1v.6h-1v-.5h-1v1.2h-1v-1.4h-1v-.1h-1v.4h-1v-.2h-1v.4h-1v-.3h-1v.3h-1v-.2h-1v.1h-1v-.2h-1v-.1h-1v.3h-1v.2h-1v.2h-1v0h-1v-.6h-1v.4h-1v-.5h-1v.8h-1v-.5h-1v.6h-1v-1.1h-1v.2h-1v.4h-1v-.1h-1v0h-1v.1h-1v-.5h-1v-.1h-1v0h-1v0h-1v.1h-1v.9h-1v-.9h-1v.1h-1v1.3h-1v-.7h-1v-.2h-1v-.4h-1v1.1h-1v-.8h-1v1h-1v-1.4h-1v-.1h-1v2.1h-1v-1.4h-1v-.2h-1v.3h-1v-.8h-1v.6h-1v-.6h-1v0h-1v.7h-1v.4h-1v-.7h-1v.7h-1v-1.1h-1v1.3h-1v-.7h-1v.1h-1v.3h-1v-.6h-1v.8h-1v-.2h-1v-1h-1v2.1h-1v-1.1h-1v-.8h-1v0h-1v.7h-1v-.6h-1v1.3h-1v-1.2h-1v.3h-1v-.6h-1v.9h-1v-.6h-1v-.1h-1v-.1h-1v.5h-1v-.7h-1v.9h-1v-.5h-1v.3h-1v.2h-1v-.9h-1v.5h-1v.5h-1v-.3h-1v-.3h-1v.3h-1v-.1h-1v-.1h-1v-.5h-1v.3h-1v0h-1v.3h-1v.3h-1v.7h-1v-1.1h-1v.3h-1v-.6h-1v.2h-1v.2h-1v-.4h-1v.1h-1v0h-1v.4h-1v-.3h-1v.6h-1v-.3h-1v.4h-1v-.6h-1v.4h-1v-.2h-1v-.6h-1v.1h-1v.9h-1v-.4h-1v.3h-1v-1h-1v.1h-1v.3h-1v.1h-1v-.4h-1v.4h-1v-.1h-1v.2h-1v-.6h-1v.4h-1v0h-1v-.1h-1v.1h-1v-.2h-1v.2h-1v.1h-1v1.8h-1v-1.8h-1v.3h-1v-.4h-1v-.2h-1v.8h-1v-.6h-1v-.3h-1v.2h-1v.1h-1v-.4h-1v.2h-1v.2h-1v-.1h-1v0h-1v1.2h-1v-1.1h-1v.1h-1v.1h-1v-.5h-1v0h-1v1.6h-1v-.6h-1v-.3h-1v0h-1v-.2h-1v1.7h-1v-2.2h-1v.8h-1v-.2h-1v.2h-1v-.7h-1v.1h-1v.8h-1v-.9h-1v-.1h-1v-.1h-1v1.3h-1v-1.3h-1v0h-1v.8h-1v-.6h-1v.2h-1v-.1h-1v.6h-1v-.4h-1v-.5h-1v.3h-1v-.2h-1v.7h-1v-.1h-1v.1h-1v-.8h-1v.6h-1v.2h-1v.4h-1v-.9h-1v1.4h-1v-1.7h-1v.1h-1v.6h-1v.2h-1v-.6h-1v1h-1v-1.3h-1v.1h-1v.9h-1v.4h-1v-1.1h-1v.3h-1v-.4h-1v.1h-1v.3h-1v-.5h-1v.1h-1v.6h-1v-.2h-1v-.2h-1v-.3h-1v1.1h-1v-1.2h-1v1.1h-1v-.5h-1v-.4h-1v0h-1v.8h-1v-.5h-1v-.1h-1v1h-1v-1.4h-1v.8h-1v.4h-1v.3h-1v-.8h-1v-.6h-1v0h-1v-.1h-1v1.1h-1v-.9h-1v0h-1v.1h-1v.7h-1v-.8h-1v.1h-1v.1h-1v0h-1v.1h-1v.1h-1v-.3h-1v.5h-1v-.3h-1v.4h-1v-.8h-1v.7h-1v.7h-1v-1h-1v.1h-1v0h-1v-.1h-1v.2h-1v-.3h-1v-.4h-1v1.2h-1v-.7h-1v-.1h-1v-.3h-1v0h-1v.1h-1v-.1h-1v0h-1v0h-1v-.1h-1v1.2h-1v-.5h-1v.8h-1v-.9h-1v.2h-1v.5h-1v-1.1h-1v.1h-1v.3h-1v-.6h-1v1h-1v-.3h-1v-.5h-1v1.3h-1v-1.5h-1v.1h-1v.3h-1v.6h-1v-.6h-1v.4h-1v-.4h-1v-.3h-1v.8h-1v-.5h-1v-.2h-1v.2h-1v0h-1v.7h-1v-1h-1v.8h-1v-.5h-1v-.1h-1v.2h-1v.2h-1v.6h-1v-1.1h-1v.6h-1v-.4h-1v0h-1v.1h-1v-.5h-1v.3h-1v.5h-1v-.6h-1v.3h-1v.2h-1v-.6h-1v1.3h-1v-1h-1v-.1h-1v-.2h-1v.4h-1v-.4h-1v1.5h-1v.1h-1v-1h-1v-.3h-1v.2h-1v-.3h-1v.3h-1v.2h-1v-.1h-1v-.1h-1v-.2h-1v-.1h-1v.2h-1v-.5h-1v1.6h-1v-.9h-1v-.7h-1v.6h-1v-.6h-1v.8h-1v.9h-1v-1.2h-1v-.3h-1v-.1h-1v1.9h-1v-.4h-1v-1.6h-1v1.6h-1v.2h-1v-1.6h-1v.3h-1v.5h-1v-.5h-1v-.4h-1v.4h-1v-.3h-1v.5h-1v.2h-1v-.7h-1v-.2h-1v.8h-1v-.2h-1v0h-1v-.3h-1v.8h-1v-.4h-1v-.4h-1v1.2h-1v-1h-1v-.3h-1v-.2h-1v1.7h-1v-1.1h-1v-.1h-1v0h-1v-.5h-1v.2h-1v-.2h-1v.4h-1v1.3h-1v-1.5h-1v1.4h-1v-1.2h-1v1.1h-1v-.5h-1v-.3h-1v.2h-1v-.8h-1v1.6h-1v-1.4h-1v-.1h-1v.8h-1v-.9h-1v1.8h-1v-1.7h-1v.6h-1v-.7h-1v.8h-1v-.6h-1v1.1h-1v-.9h-1v.9h-1v-.4h-1v.7h-1v-.9h-1v.6h-1v-1h-1v0h-1v2h-1v-2h-1v0h-1v1.8h-1v-1.6h-1v-.5h-1v.1h-1v1h-1v-.3h-1v.1h-1v-.5h-1v0h-1v-.2h-1v0h-1v1h-1v-1.2h-1v-.1h-1v1.6h-1v-.2h-1v-1.3h-1v1h-1v.1h-1v-1.1h-1v.5h-1v.3h-1v.1h-1v.1h-1v-.5h-1v.4h-1v-.3h-1v.1h-1v.1h-1v-.7h-1v.1h-1v1.6h-1v-1.6h-1v1.8h-1v-1.3h-1v-.5h-1v-.1h-1v.6h-1v0h-1v-.7h-1v.9h-1v-.3h-1v-.4h-1v-.2h-1v-.1h-1v1.7h-1v.3h-1v.1h-1v-.8h-1v-.9h-1v.3h-1v-.4h-1v.5h-1v-.6h-1v-.1h-1v.2h-1v.7h-1v-.4h-1v.2h-1v0h-1v-.8h-1v.6h-1v-.3h-1v-.1h-1v.5h-1v-.3h-1v0h-1v.6h-1v-1h-1v.2h-1v.2h-1v-.2h-1v-.2h-1v.3h-1v.3h-1v.7h-1v-1h-1v-.1h-1v1.3h-1v-.2h-1v-.8h-1v.6h-1v-1.1h-1v.5h-1v-.5h-1v1.7h-1v-.4h-1v-1.1h-1v0h-1v.7h-1v.8h-1v-.6h-1v-.3h-1v-.5h-1v-.3h-1v.4h-1v-.2h-1v-.2h-1v.1h-1v1.2h-1v.2h-1v-.9h-1v-.4h-1v1.1h-1v-1h-1v.3h-1v-.3h-1v.5h-1v-.2h-1v-.5h-1v0h-1v.8h-1v-.9h-1v0h-1v.2h-1v.4h-1v-.2h-1v.7h-1v-.7h-1v-.1h-1v-.1h-1v.5h-1v0h-1v2.1h-1v0h-1v-2.7h-1v.6h-1v-.2h-1v.6h-1v-.9h-1v.8h-1v-.9h-1v0h-1v1.9h-1v-1.8h-1v-.1h-1v.2h-1v.4h-1v-.6h-1v1.8h-1v-1.4h-1v1h-1v-1.2h-1v.3h-1v-.5h-1v.5h-1v-.6h-1v1h-1v-.9h-1v.6h-1v1.1h-1v-1.1h-1v-.6h-1v.2h-1v.2h-1v.3h-1v-.2h-1v-.6h-1v.3h-1v.9h-1v-1h-1v-.2h-1v.2h-1v.8h-1v-.4h-1v-.2h-1v-.1h-1v.2h-1v-.4h-1v.1h-1v.2h-1v0h-1v.7h-1v-.9h-1v1.2h-1v-.2h-1v.2h-1v-1.4h-1v.2h-1v.1h-1v-.1h-1v.6h-1v-.5h-1v1h-1v-1h-1v.1h-1v-.4h-1v.3h-1v0h-1v-.2h-1v.3h-1v.2h-1v0h-1v-.6h-1v.2h-1v0h-1v.7h-1v-.7h-1v1.1h-1v-1.1h-1v.4h-1v1.3h-1v-1.7h-1v.1h-1v0h-1v0h-1v-.3h-1v1.2h-1v-1.2h-1v.1h-1v.4h-1v0h-1v.4h-1v-.5h-1v.2h-1v.3h-1v-.8h-1v.6h-1v-.2h-1v.4h-1v-.3h-1v0h-1v0h-1v.1h-1v-.2h-1v.5h-1v-1h-1v.8h-1v-.8h-1v1.2h-1v.2h-1v-.1h-1v-.1h-1v-.1h-1v-.1h-1v-.9h-1v.4h-1v-.1h-1v-.4h-1v.5h-1v1h-1v-1.5h-1v.4h-1v-.3h-1v.2h-1v.1h-1v.5h-1v.4h-1v.2h-1v-.4h-1v-1h-1v-.1h-1v.5h-1v-.4h-1v.6h-1zM231 875.9h2v.7h2v.8h2v-.3h2v-.9h2v.2h2v.9h2v.1h2v-.7h2v.2h2v.3h2v.1h2v-.1h2v-.2h2v-.2h2v.6h2v-1.2h2v.9h2v-.3h2v.1h2v.1h2v.3h2v-.3h2v-.2h2v-.5h2v-.3h2v1.4h2v-1h2v.4h2v.1h2v-1.3h2v1.4h2v-1.6h2v1.8h2v-.6h2v.1h2v.7h2v-.4h2v-.2h2v.3h2v-.9h2v1.2h2v-.4h2v.1h2v-.3h2v.2h2v.4h2v-1h2v0h2v.5h2v.4h2v-1.1h2v1h2v-.5h2v-.8h2v1.4h2v-.7h2v.5h2v-1.2h2v1.4h2v-.4h2v.3h2v-.4h2v.5h2v-.1h2v-.6h2v-.4h2v.6h2v0h2v.5h2v-.8h2v.7h2v-.4h2v0h2v.4h2v-.5h2v.7h2v-.9h2v-.9h2v1.4h2v0h2v.3h2v-1h2v0h2v.8h2v-.1h2v0h2v.4h2v-1.6h2v1.3h2v-.1h2v.3h2v-.2h2v-.2h2v.3h2v.2h2v-.3h2v-.5h2v.5h2v0h2v-.2h2v-.6h2v.7h2v0h2v.2h2v-1h2v.6h2v.1h2v-.3h2v-.3h2v.4h2v-.6h2v.8h2v-.7h2v1h2v.1h2v-.4h2v.1h2v0h2v.2h2v-.7h2v.2h2v.6h2v-.3h2v0h2v-1.1h2v.5h2v.8h2v-.5h2v.4h2v-.1h2v0h2v-1.1h2v1.2h2v-.5h2v-.3h2v.9h2v-.5h2v-.2h2v.9h2v-.6h2v.1h2v-.1h2v.6h2v-.2h2v-.7h2v.6h2v-.8h2v1h2v-.7h2v.7h2v-.2h2v-.4h2v0h2v.2h2v0h2v-.2h2v.5h2v.2h2v-.8h2v.7h2v-.7h2v-.5h2v.2h2v.9h2v-.1h2v-.3h2v.3h2v.3h2v-.1h2v.1h2v0h2v0h2v-.2h2v-.9h2v.5h2v-.2h2v.3h2v.3h2v-.2h2v-.4h2v.2h2v-.6h2v1.1h2v-.6h2v.1h2v-.8h2v.1h2v1.3h2v-.8h2v.8h2v-.3h2v-.4h2v-.4h2v.5h2v.5h2v-.6h2v.6h2v-.6h2v.2h2v-.9h2v1.1h2v.1h2v0h2v-1.7h2v.7h2v1.2h2v-.7h2v.6h2v.1h2v-.2h2v.1h2v-.2h2v.2h2v-.5h2v.1h2v.2h2v0h2v.3h2v-.3h2v-.2h2v.1h2v.3h2v-.1h2v-.1h2v-.9h2v1h2v-.1h2v-.1h2v.1h2v-.1h2v-.1h2v.3h2v-.3h2v.4h2v0h2v.1h2v-.9h2v.6h2v.2h2v-1.1h2v.2h2v.4h2v.2h2v-.2h2v.3h2v.1h2v.1h2v-.3h2v-.8h2v-.3h2v1.1h2v.1h2v-.9h2v.3h2v.2h2v.6h2v-.3h2v.3h2v-1.4h2v1.3h2v-.5h2v.3h2v-.9h2v-.1h2v1h2v-.2h2v.2h2v.3h2v-.2h2v-.3h2v.3h2v.3h2v-.1h2v-.1h2v-.5h2v.6h2v-.4h2v-.5h2v.7h2v.1h2v-2h2v2.2h2v-1.2h2v.6h2v-.6h2v.9h2v-.3h2v.1h2v.5h2v-.5h2v.2h2v0h2v-.3h2v.2h2v.1h2v-1.1h2v.6h2v-.3h2v-.2h2v1.3h2v-1.8h2v1.1h2v-.2h2v.1h2v.4h2v0h2v.1h2v-.6h2v.7h2v-.2h2v0h2v0h2v-.2h2v-.5h2v1.1h2v-1.6h2v1.5h2v-.7h2v.6h2v-1.2h2v.8h2v.1h2v.4h2v-.3h2v-.1h2v.1h2v.3h2v0h2v-.5h2v-.6h2v.3h2v-1.1h2v1.8h2v.1h2v-.3h2v.2h2v0h2v-.9h2v.7h2v0h2v-.6h2v.2h2v.4h2v-.8h2v.7h2v.4h2v.1h2v-.5h2v-.3h2v-.1h2v.4h2v-.1h2v.4h2v-.4h2v.6h2v-.2h2v-.8h2v.6h2v.4h2v0h2v-.7h2v.1h2v-.1h2v.2h2v.5h2v-.1h2v-1.3h2v1.2h2v-.5h2v.6h2v-1.4h2v.6h2v-.1h2v.2h2v.4h2v-.4h2v.8h2v-1.7h2v.2h2v1.5h2v-.1h2v-.2h2v.3h2v-.1h2v-1.5h2v1.5h2v-1h2v.5h2v.4h2v.1h2v-.9h2v.6h2v.1h2v.2h2v-.1h2v-.4h2v.3h2v-1.2h2v1.3h2v0h2v-.2h2v-.2h2v-.4h2v.8h2v-.1h2v.3h2v-.1h2v-.3h2v.1h2v-.4h2v0h2v-1.2h2v1.7h2v-.2h2v.3h2v.1h2v-.5h2v.4h2v0h2v-.3h2v.2h2v.1h2v-1h2v1h2v-.2h2v-.6h2v.3h2v-.1h2v0h2v.4h2v.2h2v-1.6h2v.9h2v-.9h2v1h2v.5h2v-1.1h2v-.7h2v1.7h2v-1.2h2v1h2v-.2h2v.2h2v.5h2v-.7h2v.7h2v0h2v-.8h2v-.1h2v.8h2v-.1h2v0h2v-.4h2v.2h2v.3h2v-.2h2v-1.6h2v1.4h2v.1h2v.1h2v.2h2v-1.5h2v1.4h2v-1h2v.8h2v.4h2v-1.2h2v.5h2v.1h2v.4h2v-.6h2v.5h2v.2h2v.1h2v-.2h2v-.1h2v-.7h2v.6h2v-.9h2v.9h2v.4h2v-.6h2v0h2v.4h2v-1h2v.5h2v.4h2v.1h2v-.3h2v-.1h2v.2h2v.4h2v-.1h2v.1h2v-.1h2v-.2h2v.3h2v0h2v-.6h2v.1h2v-.4h2v.6h2v-.7h2v.7h2v-.3h2v-.1h2v.7h2v-1h2v.7h2v-.7h2v.7h2v.3h2v-1.3h2v1.1h2v-.6h2v.5h2v-.1h2v.2h2v0h2v-.7h2v.2h2v-.5h2v1h2v-.3h2v.1h2v.2h2v.1h2v-.8h2v.9h2v-.2h2v.2h2v0h2v-.7h2v-.5h2v-.3h2v1.3h2v-.1h2v.2h2v-.3h2v-.2h2v0h2v.4h2v-.3h2v.3h2v-.7h2v-.1h2v.6h2v0h2v.4h2v-1h2v.7h2v-.4h2v.4h2v-.6h2v-.2h2v.1h2v.6h2v-.2h2v.5h2v-.3h2v-.3h2v.5h2v-.5h2v.3h2v-.9h2v.7h2v.3h2v-.4h2v.5h2v.1h2v0h2v-.1h2v0h2v-1.3h2v1.3h2v.1h2v0h2v-.4h2v.2h2v-.5h2v.7h2v-.3h2v-.7h2v1h2v-.1h2v-.1h2v.2h2v-.6h2v.1h2v-.3h2v.7h2v-1h2v0h2v.4h2v.6h2v.1h2v.1h2v-.1h2v-.5h2v.4h2v-1.1h2v-.3h2v1.5h2v0h2v-1.1h2v.2h2v.2h2v.5h2v-.3h2v-.1h2v-1.3h2v1.7h2v-1.4h2v1.1h2v-.1h2v-.2h2v.2h2v.6h2v-1.8h2v1h2v0h2v.7h2v-.3h2v.2h2v-.7h2v0h2v0h2v.3h2v.6h2v.1h2v-1.5h2v.1h2v.9h2v.1h2v-.3h2v-.5h2v-.1h2v1h2v.3h2v-.5h2v-.3h2v.5h2v-.2h2v.3h2v.1h2v0h2v-.8h2v.5h2v-1.4h2v1.5h2v-.3h2v-.6h2v.9h2v.2h2v-.2h2v-.1h2v.1h2v-.4h2v.1h2v.4h2v-.4h2v.1h2v-.5h2v.9h2v0h2v-.5h2v.3h2v-.4h2v.4h2v.3h2v-.4h2v-.2h2v0h2v.3h2v.3h2v-.1h2v0h2v-.8h2v.8h2v-1.4h2v.5h2v-.5h2v.8h2v.6h2v.1h2v-.2h2v-.2h2v-1.2h2v.5h2v1.1h2v-1.4h2v1h2v-.3h2v.2h2v.3h2v0h2v-1.4h2v1.3h2v-.7h2v-.7h2v1h2v.1h2v.1h2v.2h2v-1h2v.8h2v.3h2v-.1h2v-.9h2v1h2v0h2v-.6h2v.3h2v0h2v.2h2v-1.3h2v0h2v1h2v.4h2v-.2h2v.2h2v-.4h2v.2h2v.1h2v-.1h2v.4h2v-1.6h2v1.2h2v-.6h1v7.1h-1v.1h-2v.3h-2v-.4h-2v0h-2v0h-2v.6h-2v-.4h-2v-.2h-2v0h-2v.1h-2v1.4h-2v-1.1h-2v1.5h-2v-1.5h-2v-.1h-2v-.2h-2v1.2h-2v-.7h-2v-.2h-2v.5h-2v.2h-2v-.9h-2v-.2h-2v.8h-2v-.8h-2v.6h-2v-.5h-2v.1h-2v.8h-2v-1h-2v.1h-2v1.9h-2v-1.5h-2v.6h-2v-.4h-2v-.7h-2v.4h-2v.9h-2v-1.1h-2v-.1h-2v.2h-2v.7h-2v-1h-2v.5h-2v-.5h-2v.8h-2v-.2h-2v.5h-2v-.9h-2v.6h-2v.9h-2v-1h-2v-.6h-2v0h-2v1.3h-2v-1.4h-2v.1h-2v.7h-2v.8h-2v-1.4h-2v0h-2v.3h-2v-.4h-2v0h-2v.3h-2v-.1h-2v1.4h-2v-1.5h-2v-.2h-2v0h-2v0h-2v.3h-2v.8h-2v-.1h-2v-.5h-2v0h-2v.1h-2v.5h-2v.3h-2v-.3h-2v.1h-2v-.8h-2v.1h-2v.7h-2v-.9h-2v-.3h-2v.8h-2v.8h-2v-.4h-2v-.6h-2v0h-2v.8h-2v-1.4h-2v.5h-2v-.5h-2v1.7h-2v-1.4h-2v-.3h-2v.7h-2v-.4h-2v.1h-2v-.4h-2v.6h-2v.4h-2v-.6h-2v-.1h-2v0h-2v.3h-2v-.3h-2v.7h-2v-.2h-2v-.7h-2v.5h-2v-.5h-2v.6h-2v.4h-2v-.7h-2v1.5h-2v-1.7h-2v.7h-2v-.9h-2v1.3h-2v.1h-2v-1.3h-2v.6h-2v-.3h-2v.3h-2v-.6h-2v.9h-2v-1h-2v.2h-2v1.1h-2v-.3h-2v.4h-2v-1.4h-2v0h-2v1.5h-2v-1.3h-2v.2h-2v.7h-2v-1.1h-2v.6h-2v-.3h-2v-.1h-2v.2h-2v-.4h-2v.1h-2v.7h-2v-.6h-2v-.2h-2v.3h-2v-.3h-2v.2h-2v-.1h-2v0h-2v.4h-2v.1h-2v.5h-2v-1.1h-2v.6h-2v0h-2v-.1h-2v-.4h-2v1.3h-2v-.7h-2v.5h-2v-.7h-2v.7h-2v-.6h-2v-.6h-2v.5h-2v-.3h-2v.2h-2v-.3h-2v0h-2v.1h-2v-.1h-2v1.4h-2v-1.2h-2v.5h-2v-.2h-2v-.5h-2v1.1h-2v-1h-2v.1h-2v.1h-2v-.1h-2v.6h-2v-.7h-2v1.2h-2v-.5h-2v-.6h-2v.2h-2v-.1h-2v.3h-2v-.5h-2v.1h-2v.2h-2v1h-2v-1.5h-2v.5h-2v1.1h-2v-1.2h-2v-.1h-2v1h-2v.1h-2v-1h-2v.7h-2v-.2h-2v-.6h-2v-.2h-2v0h-2v.9h-2v-1h-2v.5h-2v-.3h-2v0h-2v1.1h-2v-.3h-2v-.9h-2v.2h-2v.2h-2v-.1h-2v-.3h-2v.6h-2v.7h-2v-1.4h-2v.1h-2v.1h-2v-.1h-2v.4h-2v.7h-2v-1.1h-2v.7h-2v-.5h-2v-.1h-2v.6h-2v-.5h-2v.8h-2v-.4h-2v-.6h-2v.3h-2v-.1h-2v-.1h-2v-.1h-2v1h-2v-.7h-2v-.4h-2v.4h-2v.7h-2v-1.1h-2v.8h-2v-.3h-2v-.3h-2v-.2h-2v.1h-2v.3h-2v.1h-2v.6h-2v-.3h-2v.1h-2v-.5h-2v.6h-2v-.1h-2v.2h-2v-.4h-2v.3h-2v-.5h-2v-.2h-2v-.1h-2v-.1h-2v.2h-2v.1h-2v1.4h-2v-1.7h-2v-.1h-2v0h-2v.7h-2v-.7h-2v.9h-2v-.6h-2v.9h-2v.1h-2v-.4h-2v-.1h-2v-.6h-2v.6h-2v-.5h-2v.9h-2v-.8h-2v.2h-2v-.4h-2v.7h-2v-.7h-2v-.2h-2v.7h-2v.5h-2v-1h-2v-.2h-2v1h-2v-.4h-2v.1h-2v-.1h-2v-.4h-2v-.1h-2v.2h-2v-.1h-2v0h-2v.3h-2v-.1h-2v.1h-2v.3h-2v.1h-2v-.1h-2v-.5h-2v.7h-2v-.6h-2v.5h-2v-.5h-2v.7h-2v-.2h-2v-.7h-2v.3h-2v-.5h-2v1.8h-2v-1.8h-2v.1h-2v.3h-2v-.2h-2v.1h-2v.1h-2v1h-2v-.7h-2v.5h-2v-.9h-2v.9h-2v-.7h-2v-.5h-2v0h-2v.5h-2v.3h-2v-.5h-2v.4h-2v-.1h-2v-.5h-2v1.3h-2v-1.1h-2v.1h-2v-.1h-2v.5h-2v-.5h-2v1h-2v-.6h-2v-.2h-2v-.4h-2v1.2h-2v-1h-2v.2h-2v-.2h-2v0h-2v-.1h-2v.3h-2v-.1h-2v-.3h-2v-.1h-2v.3h-2v1.1h-2v-.1h-2v-1.4h-2v.2h-2v.3h-2v-.4h-2v.5h-2v-.3h-2v.1h-2v0h-2v-.3h-2v.3h-2v-.1h-2v-.2h-2v.5h-2v1h-2v-1.3h-2v-.1h-2v.2h-2v.7h-2v-.9h-2v.6h-2v-.7h-2v.1h-2v.7h-2v-.2h-2v-.1h-2v.2h-2v-.6h-2v.9h-2v-.5h-2v.3h-2v-.1h-2v-.4h-2v1.8h-2v-1.9h-2v0h-2v.7h-2v-.1h-2v-.8h-2v.6h-2v-.4h-2v.3h-2v.5h-2v-.7h-2v-.1h-2v.6h-2v-.6h-2v-.2h-2v.1h-2v.1h-2v.1h-2v-.1h-2v.3h-2v.4h-2v-.9h-2v.5h-2v-.1h-2v.1h-2v.6h-2v-1.1h-2v.2h-2v.2h-2v-.2h-2v1.4h-2v-1.1h-2v-.4h-2v.3h-2v-.4h-2v1.7h-2v-.9h-2v.1h-2v-.8h-2v1h-2v-.6h-2v-.2h-2v.7h-2v-.9h-2v1.3h-2v-1.3h-2v0h-2v.5h-2v0h-2v-.4h-2v.1h-2v-.2h-2v1.3h-2v-.3h-2v.5h-2v-1h-2v-.6h-2v.1h-2v.3h-2v0h-2v.4h-2v-.4h-2v-.2h-2v-.2h-2v1.6h-2v-1.3h-2v0h-2v.9h-2v-.8h-2v.6h-2v-1h-2v.3h-2v-.3h-2v.1h-2v1h-2v-.5h-2v-.3h-2v.8h-2v-1h-2v.8h-2v-.2h-2v-.6h-2v.5h-2v-.2h-2v0h-2v.8h-2v-.1h-2v-.6h-2v-.3h-2v.3h-2v-.3h-2v-.2h-2v0h-2v0h-2v.1h-2v.3h-2v.9h-2v.2h-2v0h-2v-.6h-2v-.9h-2v.6h-2v.1h-2v0h-2v-.7h-2v.7h-2v-.6h-2v.3h-2v-.4h-2v.2h-2v.6h-2v-.7h-2v-.1h-2v.2h-2v1.3h-2v-1.3h-2v-.2h-2v.9h-2v-.8h-2v.1h-2v1.8h-2v-1.6h-2v.1h-2v.7h-2v-.6h-2v.4h-2v.1h-2v-1.1h-2v.1h-2v.1h-2v0h-2v.3h-2v1h-2v-.3h-2v-1.2h-2v0h-2v0h-2v.1h-2v-.1h-2v1h-2v-.7h-2v.3h-2v.1h-2v-.5h-2v.5h-2v-.4h-2v.9h-2v-1.2h-2v.1h-2v.7h-2v-.7h-2v.4h-2v-.4h-2v.4h-2v-.4h-2v1.1h-2v-.5h-2v-.1h-2v-.2h-2v.3h-2v-.7h-2v.5h-2v0h-2v-.2h-2v.1h-2v-.3h-2v.5h-2v-.1h-2v.3h-2v-.6h-2v.3h-2v-.4h-2v1h-2v-1h-2v0h-2v-.1h-2v.4h-2v0h-2v.7h-2v-.6h-2v-.5h-2v0h-2v1.3h-2v-1.1h-2v.9h-2v-.7h-2v0h-2v.3h-2v.3h-2v.6h-2v-.7h-2v.3h-2v.6h-2v-1.8h-2v0h-2v1.2h-2v-.6h-2v-.2h-2v.6h-2v-.8h-2v.7h-2v-.9h-2v.7h-2v-.2h-2v-.5h-2v.1h-2v.3h-2v-.4h-2v.7h-2v-.7h-2v.4h-2v-.1h-2v-.1h-2v-.1h-2v0h-2v1h-2v-1h-2v0h-2v.1h-2v.3h-2v0h-2v-.2h-2v-.2h-2v.7h-2v-.3h-2v.2h-2v-.4h-2v.1h-2v1h-2v-1h-2v.4h-2v-.3h-2v.4h-2v-.2h-2v-.6h-2v.8h-2v-.5h-2v.7h-2v-.6h-2v-.6h-2v.6h-2v1.1h-2v-1.2h-2v.6h-2v-1h-2v0h-2v.3h-2v-.3h-2v.7h-2v-.4h-2v-.3h-2v1.3h-2v-.6h-2v-.4h-2v-.4h-2v.5h-2v.3h-2v-.1h-2v.8h-2v-.6h-2v-.4h-2v-.2h-2v-.1h-2v.6h-2v.2h-2v-.2h-2v-.7h-2v-.1h-2v.4h-2v.3h-2v.6h-2v-.9h-2v.2h-2v-.1h-2v.3h-2v.6h-2v-.6h-2v-.5h-2v.4h-2v-.4h-2v.2h-2v.1h-2v-.4h-2v.2h-2v1.1h-2v-1h-2v-.4h-2v1h-2v-.7h-2v1.4h-2v-1.2h-2v.7h-2v-1.1h-2v.8h-2v.1h-2v-.7h-2v-.3h-2v.3h-2v.8h-2v-1.1h-2v1.5h-2v-1.3h-2v.4h-2v-.4h-2v-.1h-2v.2h-2v-.2h-2v0h-2v1.3h-2v-.8h-2v.1h-2v-.6h-2v.5h-2v-.2h-2v-.2h-2v.3h-2v-.5h-2v0h-2v.1h-2v.4h-2v-.5h-2v1h-2v-.2h-2v-.7h-2v.1h-2v-.1h-2v.5h-2v.2h-2v-.8h-2zM231 994.6h2v.2h2v.4h2v-.4h2v.2h2v.2h2v.1h2v-.4h2v.1h2v-.2h2v-.4h2v.7h2v.1h2v0h2v-.9h2v.1h2v-.1h2v.8h2v.1h2v0h2v.1h2v0h2v-1.4h2v1.3h2v-.2h2v-.1h2v.1h2v-.8h2v1h2v-.1h2v-1h2v.8h2v.2h2v-.5h2v.6h2v-.1h2v-.5h2v.4h2v.3h2v-.1h2v-.6h2v.1h2v.4h2v0h2v-.8h2v-.6h2v1.1h2v.5h2v0h2v-.7h2v.7h2v-.5h2v0h2v-.2h2v.5h2v.2h2v-.1h2v-.9h2v.9h2v0h2v-.7h2v.1h2v.2h2v.4h2v-.1h2v-.3h2v.2h2v.3h2v-.7h2v-.1h2v.6h2v-.6h2v.6h2v-.1h2v-.6h2v.9h2v-.2h2v-.3h2v-.4h2v.6h2v-.6h2v.1h2v-.9h2v1.7h2v-.9h2v.9h2v-1.1h2v.2h2v.5h2v-.1h2v.1h2v-.5h2v.4h2v.1h2v.4h2v-1h2v1h2v-.3h2v.3h2v-.8h2v.3h2v-.8h2v.5h2v.5h2v.2h2v-.2h2v.2h2v-.3h2v-.6h2v.3h2v.1h2v.5h2v.1h2v-.6h2v-.3h2v.4h2v.5h2v-.6h2v.2h2v-.3h2v-.1h2v.6h2v-.4h2v-.3h2v.5h2v-1h2v.6h2v.4h2v-.5h2v0h2v-.4h2v.6h2v.5h2v-.2h2v-.5h2v-.6h2v1h2v.3h2v0h2v-.8h2v.9h2v.1h2v0h2v-.9h2v-.6h2v.5h2v-.3h2v.2h2v.6h2v.2h2v0h2v0h2v-.6h2v.3h2v.1h2v.4h2v0h2v-.1h2v-.6h2v.3h2v.3h2v-.3h2v-.3h2v.6h2v-1h2v1.1h2v-.8h2v.9h2v0h2v-1h2v.4h2v.6h2v0h2v0h2v0h2v-.6h2v.2h2v-.8h2v.2h2v-.1h2v1h2v-1.1h2v1.1h2v-.3h2v.4h2v-.1h2v.1h2v-.2h2v-.1h2v.3h2v0h2v-2.2h2v2.1h2v0h2v-.2h2v.2h2v-.1h2v.1h2v-.1h2v-1.1h2v1h2v.2h2v-.3h2v-.5h2v.5h2v-.6h2v.3h2v.5h2v.2h2v-.2h2v-.1h2v.2h2v-.3h2v.1h2v-.1h2v-.2h2v.5h2v-.9h2v.1h2v.5h2v0h2v0h2v-1.2h2v1.1h2v.5h2v-.9h2v.1h2v.6h2v-.9h2v.5h2v-.5h2v1h2v.1h2v-.3h2v-.4h2v.4h2v-.4h2v.4h2v-.2h2v.2h2v-.9h2v.5h2v.7h2v-.9h2v.4h2v-.7h2v-.3h2v1.4h2v-1.4h2v-.4h2v1.6h2v-.2h2v-.4h2v.1h2v.3h2v-.1h2v0h2v0h2v-.6h2v.3h2v.6h2v.1h2v-.6h2v-.2h2v.5h2v.4h2v0h2v-1.1h2v-.1h2v.7h2v.4h2v-2.1h2v1.8h2v.2h2v.3h2v-.1h2v-1.4h2v1.3h2v-.7h2v.4h2v-1h2v.6h2v.9h2v-.7h2v.7h2v-.4h2v-.2h2v.5h2v-1.1h2v.9h2v0h2v-.2h2v0h2v-.2h2v.7h2v0h2v-1.3h2v1.1h2v0h2v-1.2h2v1.1h2v-.6h2v0h2v.3h2v-.1h2v0h2v.5h2v-.1h2v-.1h2v-.1h2v-.2h2v.4h2v.3h2v-.2h2v-.2h2v-.1h2v.1h2v.1h2v-.4h2v.5h2v.2h2v0h2v-.3h2v-.4h2v.6h2v-1h2v-.2h2v-1h2v2.2h2v.1h2v-.1h2v-.1h2v0h2v-.4h2v-.4h2v.1h2v.6h2v.1h2v.2h2v-.6h2v.6h2v-.5h2v.5h2v-.1h2v.1h2v-.1h2v0h2v-.2h2v-.6h2v.6h2v-.2h2v.5h2v-.4h2v.2h2v-.1h2v-.1h2v0h2v-.6h2v.9h2v-.8h2v.5h2v.2h2v-.7h2v.3h2v.2h2v-1.1h2v.5h2v.5h2v.3h2v.1h2v0h2v-1h2v1h2v-.2h2v.2h2v-.8h2v.2h2v.6h2v-.5h2v-.2h2v.6h2v-.1h2v.1h2v.2h2v0h2v-.5h2v0h2v.3h2v-.1h2v-.3h2v-.2h2v-1h2v1.6h2v-.2h2v-.1h2v0h2v.5h2v-.9h2v.8h2v-.7h2v.3h2v-.6h2v.3h2v.7h2v0h2v.1h2v-1h2v.3h2v.3h2v.3h2v-.6h2v-.7h2v.9h2v-.7h2v0h2v.8h2v.4h2v-.6h2v-.6h2v1.2h2v-.5h2v-.4h2v.6h2v.3h2v-2.1h2v1.3h2v.6h2v.1h2v.1h2v-.1h2v-.1h2v-.8h2v.4h2v.6h2v-1.8h2v.9h2v.2h2v-.3h2v.9h2v0h2v-.8h2v.7h2v-.5h2v.2h2v0h2v-.5h2v1h2v-.5h2v.2h2v-.1h2v-.2h2v.6h2v-.3h2v-.6h2v.9h2v0h2v-1h2v-.1h2v.6h2v.5h2v-.5h2v.4h2v-.2h2v.1h2v-.2h2v-.4h2v.4h2v-.4h2v.5h2v-.4h2v.7h2v0h2v-.1h2v-.8h2v.4h2v-.3h2v.6h2v-.1h2v-.8h2v.9h2v-.3h2v.2h2v-.8h2v.2h2v-.1h2v.2h2v.4h2v.4h2v-.4h2v.1h2v0h2v0h2v-.8h2v-.2h2v1.3h2v-.1h2v-.2h2v-.4h2v.1h2v-1.3h2v1.8h2v-.5h2v.2h2v.3h2v-.1h2v-.5h2v.2h2v.5h2v-.2h2v-.6h2v.8h2v-1.1h2v.8h2v-.9h2v0h2v-.7h2v.5h2v-.1h2v.2h2v.8h2v.3h2v.1h2v-1.6h2v1.6h2v.1h2v0h2v-.2h2v-1.4h2v1h2v.2h2v0h2v.1h2v0h2v.2h2v-.3h2v.1h2v-.1h2v-.8h2v1.2h2v-.2h2v-.1h2v.1h2v-.9h2v.8h2v.3h2v-.6h2v.4h2v-1.1h2v.4h2v.4h2v-.1h2v-.3h2v.3h2v-.3h2v.9h2v-.1h2v-.5h2v.2h2v-.2h2v-1.3h2v1.5h2v.3h2v.1h2v-.5h2v-.6h2v.7h2v-.4h2v.5h2v-.2h2v.5h2v-.4h2v.2h2v-.8h2v.8h2v-.4h2v0h2v.5h2v-2.3h2v1.6h2v-.1h2v.4h2v.4h2v-.4h2v.3h2v-.5h2v.7h2v-.3h2v.3h2v-.3h2v.3h2v-.9h2v.7h2v-.6h2v.3h2v.3h2v0h2v-.1h2v-.4h2v-1.2h2v.3h2v1.6h2v-1.3h2v-.4h2v.9h2v-.1h2v.4h2v.5h2v-.5h2v-.4h2v.1h2v.5h2v.2h2v-.2h2v-.4h2v-.4h2v-.2h2v.2h2v.6h2v-.4h2v.4h2v-.2h2v.3h2v-.6h2v0h2v.5h2v0h2v-1.4h2v1h2v.2h2v-.6h2v.8h2v-.1h2v.5h2v-1h2v.6h2v.4h2v.1h2v0h2v-.6h2v-1.3h2v1.8h2v.1h2v-.7h2v-.4h2v1h2v.1h2v-.1h2v-.4h2v.1h2v.4h2v-.9h2v.8h2v-.1h2v0h2v-1.3h2v.4h2v1h2v-.5h2v.6h2v-.4h2v-1.7h2v1.5h2v.1h2v-.4h2v.5h2v-.1h2v-.5h2v.4h2v.3h2v-.3h2v.1h2v-.8h2v.7h2v-.3h2v.7h2v-.7h2v.2h2v.3h2v-.6h2v1h2v-1.5h2v1.5h2v-1.3h2v1.2h2v0h2v-.6h2v0h2v.1h2v-.6h2v1.2h2v-.1h2v-.3h2v-.6h2v.9h2v-.5h2v.2h2v-.3h2v.5h2v0h2v-.3h2v-.1h2v-.2h2v.2h2v0h2v-.1h2v.4h2v.1h2v-.6h2v.5h2v-.6h2v-.2h2v.3h2v.2h2v.4h2v.2h2v-.1h2v-.4h2v.4h2v-1.1h2v1.1h2v.1h2v-.2h2v-.6h2v.2h2v.6h2v0h2v-.4h2v.2h2v-.4h2v-.1h1v7.4h-1v0h-2v-.3h-2v.5h-2v-.7h-2v.3h-2v.2h-2v1.2h-2v-1.8h-2v.6h-2v-.6h-2v.2h-2v.5h-2v-.5h-2v.1h-2v.6h-2v-.8h-2v0h-2v.3h-2v-.3h-2v1.2h-2v-.9h-2v1.1h-2v-1.1h-2v.3h-2v-.2h-2v-.3h-2v.2h-2v0h-2v.5h-2v-.7h-2v.9h-2v.1h-2v-.1h-2v-.9h-2v.3h-2v-.3h-2v-.1h-2v.2h-2v1.6h-2v-1.7h-2v.2h-2v-.3h-2v.2h-2v.9h-2v.2h-2v-.6h-2v-.4h-2v-.2h-2v-.2h-2v.5h-2v-.4h-2v.1h-2v.3h-2v-.3h-2v0h-2v0h-2v.6h-2v-.8h-2v.9h-2v.4h-2v-1.3h-2v.8h-2v-.7h-2v.5h-2v.3h-2v-.7h-2v-.1h-2v1.2h-2v-.5h-2v1.2h-2v-.4h-2v-1.2h-2v-.3h-2v.2h-2v.1h-2v.1h-2v.8h-2v-.3h-2v-1h-2v1.1h-2v.4h-2v-1.1h-2v.1h-2v0h-2v-.1h-2v.6h-2v-.9h-2v.5h-2v0h-2v-.5h-2v.2h-2v.2h-2v.2h-2v-.4h-2v-.1h-2v1.2h-2v-1.3h-2v0h-2v.6h-2v-.6h-2v.4h-2v-.5h-2v.4h-2v-.3h-2v.1h-2v-.1h-2v1.2h-2v-.6h-2v-.2h-2v.5h-2v-.8h-2v-.1h-2v1.3h-2v-1.3h-2v1.2h-2v-1.2h-2v.5h-2v-.6h-2v.6h-2v-.3h-2v.7h-2v-.7h-2v.3h-2v.5h-2v-.9h-2v0h-2v0h-2v.1h-2v.4h-2v-.3h-2v.6h-2v0h-2v-.6h-2v0h-2v-.4h-2v.6h-2v-.1h-2v-.5h-2v.8h-2v.5h-2v-.9h-2v.5h-2v-.5h-2v-.2h-2v.2h-2v.3h-2v.1h-2v-.8h-2v.2h-2v.2h-2v0h-2v-.3h-2v.4h-2v-.3h-2v.7h-2v-.4h-2v-.3h-2v.2h-2v0h-2v-.2h-2v-.2h-2v1.3h-2v-1.1h-2v.2h-2v.2h-2v0h-2v.1h-2v-.2h-2v.4h-2v-.5h-2v-.3h-2v.7h-2v-.4h-2v.9h-2v-1h-2v.4h-2v-.4h-2v1.1h-2v-1.1h-2v.3h-2v-.4h-2v.2h-2v-.3h-2v.4h-2v.9h-2v-1.1h-2v.9h-2v-1h-2v.3h-2v-.2h-2v.5h-2v-.2h-2v-.2h-2v.2h-2v-.5h-2v.9h-2v.1h-2v-.7h-2v-.3h-2v.2h-2v-.2h-2v.1h-2v.4h-2v-.1h-2v-.5h-2v1h-2v-1h-2v.2h-2v.6h-2v-.1h-2v-.4h-2v.6h-2v-.3h-2v.7h-2v-.2h-2v-.5h-2v-.4h-2v-.2h-2v1.4h-2v-.9h-2v.5h-2v-.2h-2v-.2h-2v1h-2v-1h-2v.1h-2v-.1h-2v-.4h-2v.3h-2v.2h-2v0h-2v.1h-2v-.8h-2v.6h-2v.5h-2v-.1h-2v.1h-2v.1h-2v-.3h-2v-.6h-2v-.3h-2v.4h-2v.3h-2v.3h-2v-.6h-2v-.3h-2v0h-2v0h-2v.1h-2v.8h-2v-.8h-2v0h-2v-.2h-2v1.4h-2v-.9h-2v.1h-2v-.1h-2v-.5h-2v.2h-2v.8h-2v-.9h-2v.7h-2v.9h-2v-1.5h-2v.7h-2v-.8h-2v0h-2v-.1h-2v.4h-2v-.3h-2v0h-2v.4h-2v0h-2v-.3h-2v.4h-2v.3h-2v-.8h-2v-.1h-2v1.5h-2v-.4h-2v.1h-2v-1.1h-2v.4h-2v.3h-2v-.6h-2v.6h-2v-.1h-2v-.7h-2v.6h-2v0h-2v-.3h-2v.2h-2v-.4h-2v.3h-2v0h-2v1.5h-2v-1.8h-2v.5h-2v-.4h-2v1.3h-2v.3h-2v-.1h-2v-1.7h-2v.1h-2v-.1h-2v1.2h-2v-1.2h-2v.2h-2v.1h-2v.3h-2v-.5h-2v1h-2v-.3h-2v-.2h-2v0h-2v-.5h-2v.1h-2v.3h-2v1h-2v-1.4h-2v.1h-2v.6h-2v0h-2v-.2h-2v.2h-2v-.3h-2v.1h-2v.5h-2v-.7h-2v.3h-2v0h-2v-.3h-2v-.4h-2v0h-2v.4h-2v-.1h-2v-.2h-2v.9h-2v-1h-2v.5h-2v-.5h-2v.1h-2v.4h-2v-.1h-2v0h-2v.2h-2v0h-2v-.3h-2v.3h-2v.1h-2v-.1h-2v-.6h-2v.8h-2v-.7h-2v-.1h-2v1h-2v-.6h-2v1.2h-2v.6h-2v-1.1h-2v-1.1h-2v1.1h-2v-.3h-2v-.7h-2v0h-2v1.2h-2v-1.2h-2v.5h-2v.8h-2v-.8h-2v-.1h-2v-.1h-2v1.1h-2v-1.4h-2v.5h-2v-.5h-2v.6h-2v.2h-2v.5h-2v-1h-2v-.3h-2v1.1h-2v-1h-2v.3h-2v-.5h-2v.9h-2v-.4h-2v-.5h-2v.1h-2v.4h-2v-.2h-2v.3h-2v-.4h-2v1.3h-2v-1h-2v-.2h-2v-.1h-2v-.1h-2v.8h-2v-.6h-2v.1h-2v-.2h-2v.9h-2v-.6h-2v-.3h-2v-.1h-2v.5h-2v-.3h-2v-.2h-2v.2h-2v.2h-2v-.1h-2v-.4h-2v.2h-2v1.5h-2v-1.6h-2v.7h-2v-.7h-2v0h-2v1.2h-2v-.3h-2v.1h-2v-.9h-2v.9h-2v-.6h-2v-.5h-2v0h-2v.1h-2v.5h-2v-.4h-2v.3h-2v.2h-2v-.6h-2v1.1h-2v-1.1h-2v.6h-2v-.5h-2v0h-2v.7h-2v.1h-2v-.1h-2v-.8h-2v-.1h-2v0h-2v1.1h-2v-.8h-2v.5h-2v-.4h-2v-.1h-2v.2h-2v.1h-2v-.2h-2v0h-2v-.3h-2v1.4h-2v-1.4h-2v.8h-2v-.6h-2v.2h-2v0h-2v-.2h-2v-.2h-2v.2h-2v-.1h-2v0h-2v-.1h-2v.1h-2v-.2h-2v.1h-2v.5h-2v.4h-2v-.2h-2v-.6h-2v-.1h-2v.1h-2v-.1h-2v-.1h-2v.8h-2v-.5h-2v-.3h-2v.3h-2v.9h-2v-1h-2v.3h-2v-.1h-2v0h-2v1.2h-2v-1.1h-2v.8h-2v-1.2h-2v.7h-2v-.6h-2v1h-2v.1h-2v.4h-2v-1.2h-2v.3h-2v-.6h-2v.5h-2v.4h-2v.1h-2v-1.2h-2v0h-2v.2h-2v.1h-2v-.1h-2v-.2h-2v.6h-2v-.3h-2v0h-2v-.1h-2v.2h-2v.7h-2v.1h-2v.2h-2v-.9h-2v.1h-2v-.1h-2v-.3h-2v.7h-2v-.6h-2v.1h-2v-.1h-2v1h-2v-1.2h-2v0h-2v.5h-2v0h-2v-.6h-2v.6h-2v.1h-2v-.3h-2v.7h-2v-.8h-2v.6h-2v-.8h-2v-.1h-2v0h-2v0h-2v.1h-2v.2h-2v-.1h-2v.7h-2v-.1h-2v.1h-2v-.4h-2v-.3h-2v1.8h-2v-1.9h-2v-.1h-2v.7h-2v.7h-2v-.2h-2v-.6h-2v-.5h-2v1.3h-2v-1.1h-2v.8h-2v.4h-2v-1.1h-2v0h-2v.5h-2v-.8h-2v1.3h-2v-1.2h-2v.2h-2v.9h-2v-.6h-2v0h-2v-.6h-2v.3h-2v-.3h-2v1.2h-2v-.4h-2v-.9h-2v.6h-2v.6h-2v.3h-2v.2h-2v-.7h-2v-.4h-2v-.5h-2v-.1h-2v1.4h-2v-.7h-2v-.4h-2v0h-2v-.3h-2v.3h-2v-.1h-2v.7h-2v-.1h-2v-.6h-2v0h-2v.7h-2v-.8h-2v.5h-2v-.2h-2v.9h-2v-1h-2v.3h-2v.4h-2v-.8h-2v-.1h-2v1.2h-2v-.5h-2v-.2h-2v0h-2v-.2h-2v-.3h-2v.7h-2v-.1h-2v-.3h-2v.3h-2v-.3h-2v.4h-2v-.2h-2v.2h-2v-.7h-2v-.1h-2v.6h-2v-.3h-2v1.2h-2v-1.1h-2v.6h-2v.2h-2v-.5h-2v-.5h-2v.4h-2v-.1h-2v-.1h-2v.1h-2v0h-2v-.4h-2v.6h-2v-.6h-2v.2h-2v-.2h-2v.4h-2v.8h-2v-1h-2v-.1h-2v-.1h-2v.9h-2v-.6h-2v-.4h-2v.3h-2v.5h-2v-.1h-2v-.4h-2v-.3h-2v1.5h-2v-1.3h-2v.2h-2v.3h-2v-.5h-2v.3h-2v.2h-2v-.6h-2v.3h-2v-.2h-2v-.1h-2v.1h-2v-.1h-2v-.1h-2v.4h-2v-.2h-2v1.4h-2v-1.2h-2v-.3h-2v1.3h-2v-1.2h-2v.1h-2v-.3h-2v.2h-2v-.2h-2v.6h-2v-.1h-2v.3h-2v-.2h-2v-.4h-2v.2h-2v.1h-2v-.4h-2v.7h-2v-.1h-2v-.2h-2v-.3h-2v-.1h-2v.4h-2v-.4h-2v1.5h-2v-1.6h-2v.2h-2v.9h-2v-.3h-2v-.7h-2v.3h-2v1h-2v-1.3h-2v.1h-2v1.3h-2v-1.5h-2v.3h-2v.6h-2v-.1h-2v-.3h-2v.5h-2v-1h-2v.8h-2v-.3h-2v-.4h-2v-.1h-2v0h-2v.7h-2v-.4h-2v-.2h-2v.1h-2v.2h-2v0h-2v-.3h-2v0h-2v.2h-2v.8h-2v-1h-2v0h-2v.5h-2v-.4h-2v.2h-2z"/>
<path stroke="#008000" stroke-width="2" fill="none" d="M239.8 166V182.3M327 167V184.4M368.2 167V188.8M458.4 145V207.8M461.9 173V184.7M465.3 149V187.8M477.5 164.7V176M483.8 165V181.6M622.7 166.7V191.4M252.3 645V650.7M263 645V650.5M266.4 636.6V645M270.7 638V651.5M275.8 645V650M283.9 638.3V645M289.9 637.8V645M599.7 645V651M625 638V653.8M627.2 633.1V645M631.9 645V659.7M826.4 639V645M830.1 631.2V655.5M894 628.3V652.7M897.4 637V645M1344 635.5V654.7M1365.6 638.7V645M1370.8 645V651.5M1376.1 640V658.8M1377.8 636V645M1379.9 632.8V645M1382.2 638V655.6M1385.4 637.5V645M1652.6 640V651M232.5 752V772.5M245 752V768M261 756V775M287 752V772M302 752V768M342 756V773M347 752.5V774.4M333.3 867.5V891.6"/>
<path stroke="#008000" stroke-width="1.5" fill="none" d="M483.1 165.7V178M459.1 165.5V179.9M464.2 165.7V177.6M460.6 165.8V177.7M484.7 167.6V179.5M456.8 166.9V179M473.2 165.8V177.5M478.9 165.9V178.8M461 166V178.6M461.9 166.1V179.5M1093.4 167.8V176.9M1072.6 167.7V177M1088.2 168.5V178.3M1072.5 167.5V177.3M1098 167.9V177.8M1094.1 168.2V178.6M1079.7 168.6V177.4M1081.5 167.7V177M1095.5 167.4V178.2M1097.7 168.6V178.1M627.8 638.5V650.7M627.5 640V649.1M628.3 640.1V649.2M624.2 638.7V649.1M620.3 638.8V650.3M633.5 639V649.1M1374.5 638.2V651.4M1383.9 637.9V650M1378.8 637.4V650.7M1377.8 639.2V651.1M1378.6 637.6V649.2M1379.5 639.1V651.3M1386.6 638.5V649.7M1377.7 638.8V651.6"/>
<rect x="230.5" y="60.5" width="1460" height="1020" fill="none" stroke="#000" stroke-width="1.1"/>
<path stroke="#000" stroke-width="1.1" fill="none" d="M225.6 84.4H230.5M225.6 113.9H230.5M225.6 143.3H230.5M225.6 172.8H230.5M225.6 202.2H230.5M225.6 231.7H230.5M225.6 261.1H230.5M225.6 290.6H230.5M225.6 320.1H230.5M225.6 349.5H230.5M225.6 379H230.5M225.6 408.4H230.5M225.6 437.9H230.5M225.6 467.3H230.5M225.6 496.8H230.5M225.6 526.3H230.5M225.6 555.7H230.5M225.6 585.2H230.5M225.6 614.6H230.5M225.6 644.1H230.5M225.6 673.5H230.5M225.6 703H230.5M225.6 732.5H230.5M225.6 761.9H230.5M225.6 791.4H230.5M225.6 820.8H230.5M225.6 850.3H230.5M225.6 879.7H230.5M225.6 909.2H230.5M225.6 938.7H230.5M225.6 968.1H230.5M225.6 997.6H230.5M225.6 1027H230.5M225.6 1056.5H230.5M230.5 1080.5V1085.4M595.5 1080.5V1085.4M960.5 1080.5V1085.4M1325.5 1080.5V1085.4M1690.5 1080.5V1085.4"/>
<g font-family="'Liberation Sans', sans-serif" font-size="11.1px" fill="#000">
<text x="219.6" y="88" text-anchor="end" textLength="48" lengthAdjust="spacingAndGlyphs">00:00:10</text>
<text x="219.6" y="117" text-anchor="end" textLength="48" lengthAdjust="spacingAndGlyphs">01:00:10</text>
<text x="219.6" y="147" text-anchor="end" textLength="48" lengthAdjust="spacingAndGlyphs">02:00:10</text>
<text x="219.6" y="176" text-anchor="end" textLength="48" lengthAdjust="spacingAndGlyphs">03:00:10</text>
<text x="219.6" y="206" text-anchor="end" textLength="48" lengthAdjust="spacingAndGlyphs">04:00:10</text>
<text x="219.6" y="235" text-anchor="end" textLength="48" lengthAdjust="spacingAndGlyphs">05:00:10</text>
<text x="219.6" y="265" text-anchor="end" textLength="48" lengthAdjust="spacingAndGlyphs">06:00:10</text>
<text x="219.6" y="294" text-anchor="end" textLength="48" lengthAdjust="spacingAndGlyphs">07:00:10</text>
<text x="219.6" y="324" text-anchor="end" textLength="48" lengthAdjust="spacingAndGlyphs">08:00:10</text>
<text x="219.6" y="353" text-anchor="end" textLength="48" lengthAdjust="spacingAndGlyphs">09:00:10</text>
<text x="219.6" y="382" text-anchor="end" textLength="48" lengthAdjust="spacingAndGlyphs">10:00:10</text>
<text x="219.6" y="412" text-anchor="end" textLength="48" lengthAdjust="spacingAndGlyphs">11:00:10</text>
<text x="219.6" y="441" text-anchor="end" textLength="48" lengthAdjust="spacingAndGlyphs">12:00:10</text>
<text x="219.6" y="471" text-anchor="end" textLength="48" lengthAdjust="spacingAndGlyphs">13:00:10</text>
<text x="219.6" y="500" text-anchor="end" textLength="48" lengthAdjust="spacingAndGlyphs">14:00:10</text>
<text x="219.6" y="530" text-anchor="end" textLength="48" lengthAdjust="spacingAndGlyphs">15:00:10</text>
<text x="219.6" y="559" text-anchor="end" textLength="48" lengthAdjust="spacingAndGlyphs">16:00:10</text>
<text x="219.6" y="589" text-anchor="end" textLength="48" lengthAdjust="spacingAndGlyphs">17:00:10</text>
<text x="219.6" y="618" text-anchor="end" textLength="48" lengthAdjust="spacingAndGlyphs">18:00:10</text>
<text x="219.6" y="648" text-anchor="end" textLength="48" lengthAdjust="spacingAndGlyphs">19:00:10</text>
<text x="219.6" y="677" text-anchor="end" textLength="48" lengthAdjust="spacingAndGlyphs">20:00:10</text>
<text x="219.6" y="706" text-anchor="end" textLength="48" lengthAdjust="spacingAndGlyphs">21:00:10</text>
<text x="219.6" y="736" text-anchor="end" textLength="48" lengthAdjust="spacingAndGlyphs">22:00:10</text>
<text x="219.6" y="765" text-anchor="end" textLength="48" lengthAdjust="spacingAndGlyphs">23:00:10</text>
<text x="219.6" y="795" text-anchor="end" textLength="48" lengthAdjust="spacingAndGlyphs">00:00:10</text>
<text x="219.6" y="824" text-anchor="end" textLength="48" lengthAdjust="spacingAndGlyphs">01:00:10</text>
<text x="219.6" y="854" text-anchor="end" textLength="48" lengthAdjust="spacingAndGlyphs">02:00:10</text>
<text x="219.6" y="883" text-anchor="end" textLength="48" lengthAdjust="spacingAndGlyphs">03:00:10</text>
<text x="219.6" y="913" text-anchor="end" textLength="48" lengthAdjust="spacingAndGlyphs">04:00:10</text>
<text x="219.6" y="942" text-anchor="end" textLength="48" lengthAdjust="spacingAndGlyphs">05:00:10</text>
<text x="219.6" y="972" text-anchor="end" textLength="48" lengthAdjust="spacingAndGlyphs">06:00:10</text>
<text x="219.6" y="1001" text-anchor="end" textLength="48" lengthAdjust="spacingAndGlyphs">07:00:10</text>
<text x="219.6" y="1031" text-anchor="end" textLength="48" lengthAdjust="spacingAndGlyphs">08:00:10</text>
<text x="219.6" y="1060" text-anchor="end" textLength="48" lengthAdjust="spacingAndGlyphs">09:00:10</text>
<text x="231.5" y="1098" text-anchor="middle">0</text>
<text x="594.5" y="1098" text-anchor="middle">15</text>
<text x="961" y="1098" text-anchor="middle">30</text>
<text x="1324.5" y="1098" text-anchor="middle">45</text>
<text x="1689.6" y="1098" text-anchor="middle">60</text>
<text x="959.8" y="1112.9" text-anchor="middle" textLength="87" lengthAdjust="spacingAndGlyphs">time in minutes</text>
</g>
<text x="959.4" y="35" font-family="'Liberation Sans', sans-serif" font-size="13.9px" text-anchor="middle" textLength="120" lengthAdjust="spacingAndGlyphs">US.EDHPI.00.BHZ</text>
<path d="M586 501Q659.7 541.3 718 533.6" stroke="#000" stroke-width="1.1" fill="none"/>
<path d="M1620 501.2Q1550.7 543.8 1489 532.8" stroke="#000" stroke-width="1.1" fill="none"/>
<polygon fill="#ffff00" stroke="#ffff00" stroke-width="1.4" stroke-linejoin="round" points="578.4,488 580.5,493.1 585.9,493.5 581.7,497 583,502.3 578.4,499.4 573.8,502.3 575.1,497 570.9,493.5 576.3,493.1"/>
<polygon fill="#ffff00" stroke="#ffff00" stroke-width="1.4" stroke-linejoin="round" points="1628.4,488 1630.5,493.1 1635.9,493.5 1631.7,497 1633,502.3 1628.4,499.4 1623.8,502.3 1625.1,497 1620.9,493.5 1626.3,493.1"/>
<rect x="720.3" y="521.4" width="125.6" height="22.4" rx="3.5" fill="#fff" fill-opacity=".6" stroke="#000" stroke-opacity=".55" stroke-width="1.1"/>
<text x="723.8" y="536.9" font-family="'Liberation Sans', sans-serif" font-size="13.9px" textLength="117.2" lengthAdjust="spacingAndGlyphs">NEVADA, 3.3 mw</text>
<rect x="1360.6" y="521.5" width="125.8" height="22" rx="3.5" fill="#fff" fill-opacity=".6" stroke="#000" stroke-opacity=".55" stroke-width="1.1"/>
<text x="1364.6" y="536.8" font-family="'Liberation Sans', sans-serif" font-size="13.9px" textLength="117.6" lengthAdjust="spacingAndGlyphs">NEVADA, 3.7 mw</text>
</svg></body></html>
